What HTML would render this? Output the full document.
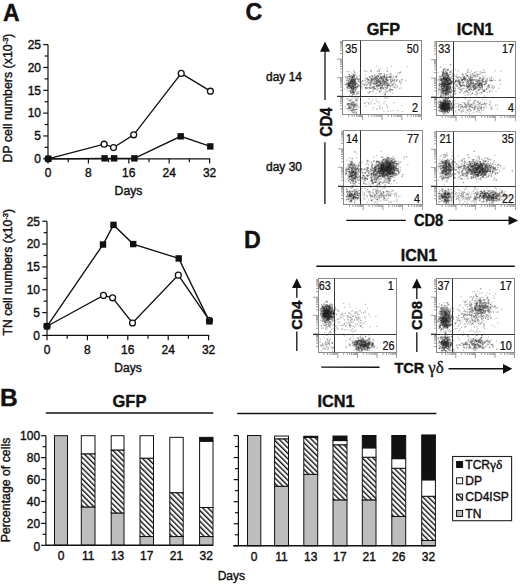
<!DOCTYPE html>
<html><head><meta charset="utf-8"><style>
html,body{margin:0;padding:0;background:#fff;width:520px;height:584px;overflow:hidden}
svg{display:block}
text{font-family:"Liberation Sans", sans-serif;fill:#111;stroke:#111;stroke-width:0.4px}
</style></head><body>
<svg width="520" height="584" viewBox="0 0 520 584">
<text transform="translate(3.00,20.50) scale(0.94,1.0)" font-size="24.5" text-anchor="start" font-weight="bold" >A</text>
<text transform="translate(245.60,20.00) scale(0.95,1.0)" font-size="24.5" text-anchor="start" font-weight="bold" >C</text>
<text transform="translate(243.90,247.80) scale(0.95,1.0)" font-size="24.5" text-anchor="start" font-weight="bold" >D</text>
<text x="0.00" y="406.30" font-size="24.5" text-anchor="start" font-weight="bold" >B</text>
<line x1="48.00" y1="44.60" x2="48.00" y2="158.80" stroke="#111" stroke-width="1.2"/>
<line x1="43.20" y1="158.80" x2="48.00" y2="158.80" stroke="#111" stroke-width="1.2"/>
<text x="41.00" y="163.10" font-size="12" text-anchor="end" font-weight="normal" >0</text>
<line x1="43.20" y1="135.96" x2="48.00" y2="135.96" stroke="#111" stroke-width="1.2"/>
<text x="41.00" y="140.26" font-size="12" text-anchor="end" font-weight="normal" >5</text>
<line x1="43.20" y1="113.12" x2="48.00" y2="113.12" stroke="#111" stroke-width="1.2"/>
<text x="41.00" y="117.42" font-size="12" text-anchor="end" font-weight="normal" >10</text>
<line x1="43.20" y1="90.28" x2="48.00" y2="90.28" stroke="#111" stroke-width="1.2"/>
<text x="41.00" y="94.58" font-size="12" text-anchor="end" font-weight="normal" >15</text>
<line x1="43.20" y1="67.44" x2="48.00" y2="67.44" stroke="#111" stroke-width="1.2"/>
<text x="41.00" y="71.74" font-size="12" text-anchor="end" font-weight="normal" >20</text>
<line x1="43.20" y1="44.60" x2="48.00" y2="44.60" stroke="#111" stroke-width="1.2"/>
<text x="41.00" y="48.90" font-size="12" text-anchor="end" font-weight="normal" >25</text>
<line x1="44.60" y1="147.38" x2="48.00" y2="147.38" stroke="#111" stroke-width="1.2"/>
<line x1="44.60" y1="124.54" x2="48.00" y2="124.54" stroke="#111" stroke-width="1.2"/>
<line x1="44.60" y1="101.70" x2="48.00" y2="101.70" stroke="#111" stroke-width="1.2"/>
<line x1="44.60" y1="78.86" x2="48.00" y2="78.86" stroke="#111" stroke-width="1.2"/>
<line x1="44.60" y1="56.02" x2="48.00" y2="56.02" stroke="#111" stroke-width="1.2"/>
<line x1="47.40" y1="158.80" x2="210.20" y2="158.80" stroke="#111" stroke-width="1.2"/>
<line x1="48.00" y1="158.80" x2="48.00" y2="163.60" stroke="#111" stroke-width="1.2"/>
<text x="48.00" y="177.10" font-size="12" text-anchor="middle" font-weight="normal" >0</text>
<line x1="88.40" y1="158.80" x2="88.40" y2="163.60" stroke="#111" stroke-width="1.2"/>
<text x="88.40" y="177.10" font-size="12" text-anchor="middle" font-weight="normal" >8</text>
<line x1="128.80" y1="158.80" x2="128.80" y2="163.60" stroke="#111" stroke-width="1.2"/>
<text x="128.80" y="177.10" font-size="12" text-anchor="middle" font-weight="normal" >16</text>
<line x1="169.20" y1="158.80" x2="169.20" y2="163.60" stroke="#111" stroke-width="1.2"/>
<text x="169.20" y="177.10" font-size="12" text-anchor="middle" font-weight="normal" >24</text>
<line x1="209.60" y1="158.80" x2="209.60" y2="163.60" stroke="#111" stroke-width="1.2"/>
<text x="209.60" y="177.10" font-size="12" text-anchor="middle" font-weight="normal" >32</text>
<line x1="68.20" y1="158.80" x2="68.20" y2="162.20" stroke="#111" stroke-width="1.2"/>
<line x1="108.60" y1="158.80" x2="108.60" y2="162.20" stroke="#111" stroke-width="1.2"/>
<line x1="149.00" y1="158.80" x2="149.00" y2="162.20" stroke="#111" stroke-width="1.2"/>
<line x1="189.40" y1="158.80" x2="189.40" y2="162.20" stroke="#111" stroke-width="1.2"/>
<polyline fill="none" stroke="#111" stroke-width="1.35" points="48.40,158.80 104.60,158.34 114.10,158.34 134.40,158.34 180.70,136.33 210.30,146.42"/>
<polyline fill="none" stroke="#111" stroke-width="1.35" points="48.00,158.80 104.10,144.18 113.50,147.61 133.70,134.82 181.20,73.38 210.40,91.19"/>
<circle cx="48.00" cy="158.80" r="2.95" fill="#fff" stroke="#111" stroke-width="1.3"/>
<circle cx="104.10" cy="144.18" r="2.95" fill="#fff" stroke="#111" stroke-width="1.3"/>
<circle cx="113.50" cy="147.61" r="2.95" fill="#fff" stroke="#111" stroke-width="1.3"/>
<circle cx="133.70" cy="134.82" r="2.95" fill="#fff" stroke="#111" stroke-width="1.3"/>
<circle cx="181.20" cy="73.38" r="2.95" fill="#fff" stroke="#111" stroke-width="1.3"/>
<circle cx="210.40" cy="91.19" r="2.95" fill="#fff" stroke="#111" stroke-width="1.3"/>
<rect x="45.20" y="155.60" width="6.4" height="6.4" fill="#111"/>
<rect x="101.40" y="155.14" width="6.4" height="6.4" fill="#111"/>
<rect x="110.90" y="155.14" width="6.4" height="6.4" fill="#111"/>
<rect x="131.20" y="155.14" width="6.4" height="6.4" fill="#111"/>
<rect x="177.50" y="133.13" width="6.4" height="6.4" fill="#111"/>
<rect x="207.10" y="143.22" width="6.4" height="6.4" fill="#111"/>
<text x="128.50" y="195.30" font-size="12.2" text-anchor="middle" font-weight="normal" >Days</text>
<text transform="translate(11.7,98) rotate(-90)" font-size="12.4" text-anchor="middle">DP cell numbers (x10<tspan font-size="7.5" dy="-3.3">-3</tspan><tspan dy="3.3">)</tspan></text>
<line x1="47.00" y1="221.25" x2="47.00" y2="335.40" stroke="#111" stroke-width="1.2"/>
<line x1="42.20" y1="335.40" x2="47.00" y2="335.40" stroke="#111" stroke-width="1.2"/>
<text x="40.00" y="339.70" font-size="12" text-anchor="end" font-weight="normal" >0</text>
<line x1="42.20" y1="312.57" x2="47.00" y2="312.57" stroke="#111" stroke-width="1.2"/>
<text x="40.00" y="316.87" font-size="12" text-anchor="end" font-weight="normal" >5</text>
<line x1="42.20" y1="289.74" x2="47.00" y2="289.74" stroke="#111" stroke-width="1.2"/>
<text x="40.00" y="294.04" font-size="12" text-anchor="end" font-weight="normal" >10</text>
<line x1="42.20" y1="266.91" x2="47.00" y2="266.91" stroke="#111" stroke-width="1.2"/>
<text x="40.00" y="271.21" font-size="12" text-anchor="end" font-weight="normal" >15</text>
<line x1="42.20" y1="244.08" x2="47.00" y2="244.08" stroke="#111" stroke-width="1.2"/>
<text x="40.00" y="248.38" font-size="12" text-anchor="end" font-weight="normal" >20</text>
<line x1="42.20" y1="221.25" x2="47.00" y2="221.25" stroke="#111" stroke-width="1.2"/>
<text x="40.00" y="225.55" font-size="12" text-anchor="end" font-weight="normal" >25</text>
<line x1="43.60" y1="323.98" x2="47.00" y2="323.98" stroke="#111" stroke-width="1.2"/>
<line x1="43.60" y1="301.15" x2="47.00" y2="301.15" stroke="#111" stroke-width="1.2"/>
<line x1="43.60" y1="278.32" x2="47.00" y2="278.32" stroke="#111" stroke-width="1.2"/>
<line x1="43.60" y1="255.49" x2="47.00" y2="255.49" stroke="#111" stroke-width="1.2"/>
<line x1="43.60" y1="232.66" x2="47.00" y2="232.66" stroke="#111" stroke-width="1.2"/>
<line x1="46.40" y1="335.40" x2="209.20" y2="335.40" stroke="#111" stroke-width="1.2"/>
<line x1="47.00" y1="335.40" x2="47.00" y2="340.20" stroke="#111" stroke-width="1.2"/>
<text x="47.00" y="353.70" font-size="12" text-anchor="middle" font-weight="normal" >0</text>
<line x1="87.40" y1="335.40" x2="87.40" y2="340.20" stroke="#111" stroke-width="1.2"/>
<text x="87.40" y="353.70" font-size="12" text-anchor="middle" font-weight="normal" >8</text>
<line x1="127.80" y1="335.40" x2="127.80" y2="340.20" stroke="#111" stroke-width="1.2"/>
<text x="127.80" y="353.70" font-size="12" text-anchor="middle" font-weight="normal" >16</text>
<line x1="168.20" y1="335.40" x2="168.20" y2="340.20" stroke="#111" stroke-width="1.2"/>
<text x="168.20" y="353.70" font-size="12" text-anchor="middle" font-weight="normal" >24</text>
<line x1="208.60" y1="335.40" x2="208.60" y2="340.20" stroke="#111" stroke-width="1.2"/>
<text x="208.60" y="353.70" font-size="12" text-anchor="middle" font-weight="normal" >32</text>
<line x1="67.20" y1="335.40" x2="67.20" y2="338.80" stroke="#111" stroke-width="1.2"/>
<line x1="107.60" y1="335.40" x2="107.60" y2="338.80" stroke="#111" stroke-width="1.2"/>
<line x1="148.00" y1="335.40" x2="148.00" y2="338.80" stroke="#111" stroke-width="1.2"/>
<line x1="188.40" y1="335.40" x2="188.40" y2="338.80" stroke="#111" stroke-width="1.2"/>
<polyline fill="none" stroke="#111" stroke-width="1.35" points="47.00,326.27 103.00,244.54 113.50,224.90 133.20,244.08 178.70,258.42 209.40,321.38"/>
<polyline fill="none" stroke="#111" stroke-width="1.35" points="47.00,326.27 103.50,295.40 112.60,297.82 132.50,322.98 178.30,275.13 209.50,320.33"/>
<circle cx="47.00" cy="326.27" r="2.95" fill="#fff" stroke="#111" stroke-width="1.3"/>
<circle cx="103.50" cy="295.40" r="2.95" fill="#fff" stroke="#111" stroke-width="1.3"/>
<circle cx="112.60" cy="297.82" r="2.95" fill="#fff" stroke="#111" stroke-width="1.3"/>
<circle cx="132.50" cy="322.98" r="2.95" fill="#fff" stroke="#111" stroke-width="1.3"/>
<circle cx="178.30" cy="275.13" r="2.95" fill="#fff" stroke="#111" stroke-width="1.3"/>
<circle cx="209.50" cy="320.33" r="2.95" fill="#fff" stroke="#111" stroke-width="1.3"/>
<rect x="43.80" y="323.07" width="6.4" height="6.4" fill="#111"/>
<rect x="99.80" y="241.34" width="6.4" height="6.4" fill="#111"/>
<rect x="110.30" y="221.70" width="6.4" height="6.4" fill="#111"/>
<rect x="130.00" y="240.88" width="6.4" height="6.4" fill="#111"/>
<rect x="175.50" y="255.22" width="6.4" height="6.4" fill="#111"/>
<rect x="206.20" y="318.18" width="6.4" height="6.4" fill="#111"/>
<text x="128.00" y="371.50" font-size="12" text-anchor="middle" font-weight="normal" >Days</text>
<text transform="translate(11.7,272.2) rotate(-90)" font-size="12.2" text-anchor="middle">TN cell numbers (x10<tspan font-size="7.5" dy="-3.3">-3</tspan><tspan dy="3.3">)</tspan></text>
<defs><filter id="bl" x="-5%" y="-5%" width="110%" height="110%"><feGaussianBlur stdDeviation="0.8"/></filter></defs>
<path d="M354.8 84.2h1.4v1.4h-1.4zM354.0 82.3h1.4v1.4h-1.4zM349.5 81.1h1.4v1.4h-1.4zM350.7 80.1h1.4v1.4h-1.4zM351.8 79.3h1.4v1.4h-1.4zM353.1 82.1h1.4v1.4h-1.4zM356.2 77.0h1.4v1.4h-1.4zM354.6 82.5h1.4v1.4h-1.4zM353.6 80.0h1.4v1.4h-1.4zM347.2 84.8h1.4v1.4h-1.4zM353.3 76.5h1.4v1.4h-1.4zM346.9 87.6h1.4v1.4h-1.4zM351.6 85.2h1.4v1.4h-1.4zM349.6 82.0h1.4v1.4h-1.4zM357.2 85.9h1.4v1.4h-1.4zM354.1 81.2h1.4v1.4h-1.4zM348.6 74.0h1.4v1.4h-1.4zM349.1 85.3h1.4v1.4h-1.4zM348.8 84.4h1.4v1.4h-1.4zM351.8 80.9h1.4v1.4h-1.4zM354.4 81.5h1.4v1.4h-1.4zM351.8 79.7h1.4v1.4h-1.4zM356.5 93.2h1.4v1.4h-1.4zM353.7 87.1h1.4v1.4h-1.4zM346.7 82.8h1.4v1.4h-1.4zM348.7 85.4h1.4v1.4h-1.4zM353.7 81.3h1.4v1.4h-1.4zM350.9 81.8h1.4v1.4h-1.4zM353.4 93.4h1.4v1.4h-1.4zM345.1 77.1h1.4v1.4h-1.4zM348.2 83.8h1.4v1.4h-1.4zM352.7 90.9h1.4v1.4h-1.4zM377.1 82.4h1.4v1.4h-1.4zM379.1 81.8h1.4v1.4h-1.4zM375.5 80.0h1.4v1.4h-1.4zM373.7 82.1h1.4v1.4h-1.4zM379.8 83.3h1.4v1.4h-1.4zM387.2 82.7h1.4v1.4h-1.4zM382.5 79.6h1.4v1.4h-1.4zM378.5 81.7h1.4v1.4h-1.4zM383.5 75.0h1.4v1.4h-1.4zM365.9 77.7h1.4v1.4h-1.4zM372.8 83.2h1.4v1.4h-1.4zM368.9 91.3h1.4v1.4h-1.4zM379.7 80.8h1.4v1.4h-1.4zM385.6 78.4h1.4v1.4h-1.4zM376.4 81.1h1.4v1.4h-1.4zM370.4 87.7h1.4v1.4h-1.4zM370.9 79.1h1.4v1.4h-1.4zM383.2 77.0h1.4v1.4h-1.4zM370.6 70.0h1.4v1.4h-1.4zM384.4 86.4h1.4v1.4h-1.4zM364.8 87.1h1.4v1.4h-1.4zM384.4 80.7h1.4v1.4h-1.4zM379.2 73.5h1.4v1.4h-1.4zM385.7 91.1h1.4v1.4h-1.4zM368.4 87.1h1.4v1.4h-1.4zM386.1 79.1h1.4v1.4h-1.4zM381.5 76.1h1.4v1.4h-1.4zM385.9 79.1h1.4v1.4h-1.4zM381.9 87.3h1.4v1.4h-1.4zM379.8 87.6h1.4v1.4h-1.4zM383.4 83.6h1.4v1.4h-1.4zM388.2 76.5h1.4v1.4h-1.4zM364.4 79.6h1.4v1.4h-1.4zM360.4 83.0h1.4v1.4h-1.4zM378.9 90.5h1.4v1.4h-1.4zM376.6 89.0h1.4v1.4h-1.4zM384.7 92.8h1.4v1.4h-1.4zM374.7 87.8h1.4v1.4h-1.4zM378.3 85.1h1.4v1.4h-1.4zM382.4 78.8h1.4v1.4h-1.4zM353.5 101.4h1.4v1.4h-1.4zM350.2 103.6h1.4v1.4h-1.4zM353.4 106.6h1.4v1.4h-1.4zM348.8 107.9h1.4v1.4h-1.4zM352.8 108.6h1.4v1.4h-1.4zM347.8 102.8h1.4v1.4h-1.4zM356.1 99.6h1.4v1.4h-1.4zM347.2 103.0h1.4v1.4h-1.4z" fill="#111" fill-opacity="0.38"/>
<path d="M351.4 84.9h1.4v1.4h-1.4zM349.3 75.5h1.4v1.4h-1.4zM356.4 83.2h1.4v1.4h-1.4zM352.7 91.4h1.4v1.4h-1.4zM354.2 83.2h1.4v1.4h-1.4zM354.0 74.2h1.4v1.4h-1.4zM349.2 79.3h1.4v1.4h-1.4zM351.9 81.6h1.4v1.4h-1.4zM350.5 86.9h1.4v1.4h-1.4zM354.3 78.7h1.4v1.4h-1.4zM352.0 88.4h1.4v1.4h-1.4zM351.8 76.5h1.4v1.4h-1.4zM353.4 78.9h1.4v1.4h-1.4zM357.5 80.8h1.4v1.4h-1.4zM352.6 81.3h1.4v1.4h-1.4zM351.3 88.8h1.4v1.4h-1.4zM354.6 83.3h1.4v1.4h-1.4zM353.8 71.8h1.4v1.4h-1.4zM348.1 83.7h1.4v1.4h-1.4zM352.9 88.1h1.4v1.4h-1.4zM346.5 76.0h1.4v1.4h-1.4zM346.0 79.6h1.4v1.4h-1.4zM375.0 76.7h1.4v1.4h-1.4zM376.8 70.4h1.4v1.4h-1.4zM390.4 84.7h1.4v1.4h-1.4zM380.8 85.2h1.4v1.4h-1.4zM385.1 77.3h1.4v1.4h-1.4zM374.4 78.4h1.4v1.4h-1.4zM386.9 76.6h1.4v1.4h-1.4zM366.9 78.6h1.4v1.4h-1.4zM381.6 84.9h1.4v1.4h-1.4zM382.9 75.9h1.4v1.4h-1.4zM384.6 78.0h1.4v1.4h-1.4zM373.9 77.5h1.4v1.4h-1.4zM376.2 79.7h1.4v1.4h-1.4zM377.7 84.5h1.4v1.4h-1.4zM389.5 88.9h1.4v1.4h-1.4zM357.1 78.7h1.4v1.4h-1.4zM374.1 74.6h1.4v1.4h-1.4zM370.9 77.8h1.4v1.4h-1.4zM375.3 81.2h1.4v1.4h-1.4zM391.8 79.9h1.4v1.4h-1.4zM384.2 94.1h1.4v1.4h-1.4zM375.6 82.6h1.4v1.4h-1.4zM370.7 80.8h1.4v1.4h-1.4zM378.9 77.9h1.4v1.4h-1.4zM378.6 80.3h1.4v1.4h-1.4zM377.6 78.9h1.4v1.4h-1.4zM378.8 81.0h1.4v1.4h-1.4zM393.8 86.6h1.4v1.4h-1.4zM376.0 85.0h1.4v1.4h-1.4zM370.3 82.5h1.4v1.4h-1.4zM386.2 82.6h1.4v1.4h-1.4zM372.3 86.7h1.4v1.4h-1.4zM367.9 79.2h1.4v1.4h-1.4zM395.4 76.1h1.4v1.4h-1.4zM383.7 80.7h1.4v1.4h-1.4zM380.6 85.0h1.4v1.4h-1.4zM401.3 78.8h1.4v1.4h-1.4zM388.8 89.8h1.4v1.4h-1.4zM352.3 103.6h1.4v1.4h-1.4zM355.7 99.5h1.4v1.4h-1.4zM348.5 102.7h1.4v1.4h-1.4zM351.5 101.5h1.4v1.4h-1.4zM349.5 106.5h1.4v1.4h-1.4zM350.5 102.4h1.4v1.4h-1.4zM349.4 107.3h1.4v1.4h-1.4zM352.8 111.7h1.4v1.4h-1.4zM356.0 104.6h1.4v1.4h-1.4zM347.6 104.5h1.4v1.4h-1.4zM351.9 102.3h1.4v1.4h-1.4z" fill="#111" fill-opacity="0.38"/>
<path d="M350.4 78.0h1.4v1.4h-1.4zM354.0 84.7h1.4v1.4h-1.4zM351.7 80.7h1.4v1.4h-1.4zM352.1 75.5h1.4v1.4h-1.4zM355.0 81.4h1.4v1.4h-1.4zM350.9 87.2h1.4v1.4h-1.4zM352.2 88.2h1.4v1.4h-1.4zM355.0 85.6h1.4v1.4h-1.4zM350.8 82.9h1.4v1.4h-1.4zM351.6 79.7h1.4v1.4h-1.4zM347.9 84.6h1.4v1.4h-1.4zM349.8 86.6h1.4v1.4h-1.4zM352.9 87.5h1.4v1.4h-1.4zM353.1 86.2h1.4v1.4h-1.4zM349.0 85.1h1.4v1.4h-1.4zM354.0 83.7h1.4v1.4h-1.4zM353.8 79.7h1.4v1.4h-1.4zM348.1 83.1h1.4v1.4h-1.4zM354.8 81.8h1.4v1.4h-1.4zM350.7 84.1h1.4v1.4h-1.4zM352.5 79.4h1.4v1.4h-1.4zM352.0 84.6h1.4v1.4h-1.4zM351.2 80.0h1.4v1.4h-1.4zM349.9 91.2h1.4v1.4h-1.4zM350.0 77.0h1.4v1.4h-1.4zM350.0 80.4h1.4v1.4h-1.4zM361.8 80.1h1.4v1.4h-1.4zM349.3 83.5h1.4v1.4h-1.4zM352.6 89.3h1.4v1.4h-1.4zM350.4 91.3h1.4v1.4h-1.4zM352.1 80.4h1.4v1.4h-1.4zM351.5 83.9h1.4v1.4h-1.4zM353.4 76.5h1.4v1.4h-1.4zM351.4 79.4h1.4v1.4h-1.4zM346.8 86.5h1.4v1.4h-1.4zM353.1 77.2h1.4v1.4h-1.4zM352.1 85.3h1.4v1.4h-1.4zM380.0 87.3h1.4v1.4h-1.4zM385.2 81.9h1.4v1.4h-1.4zM383.6 76.0h1.4v1.4h-1.4zM372.7 78.5h1.4v1.4h-1.4zM382.9 88.0h1.4v1.4h-1.4zM385.2 81.2h1.4v1.4h-1.4zM387.3 80.1h1.4v1.4h-1.4zM395.9 80.1h1.4v1.4h-1.4zM375.4 83.0h1.4v1.4h-1.4zM370.2 84.2h1.4v1.4h-1.4zM379.1 84.3h1.4v1.4h-1.4zM378.6 70.5h1.4v1.4h-1.4zM375.2 82.7h1.4v1.4h-1.4zM380.0 82.5h1.4v1.4h-1.4zM369.5 84.5h1.4v1.4h-1.4zM361.0 86.0h1.4v1.4h-1.4zM377.5 76.9h1.4v1.4h-1.4zM383.8 82.7h1.4v1.4h-1.4zM391.7 89.1h1.4v1.4h-1.4zM372.8 88.1h1.4v1.4h-1.4zM385.9 78.6h1.4v1.4h-1.4zM388.0 84.7h1.4v1.4h-1.4zM380.6 76.9h1.4v1.4h-1.4zM393.3 79.7h1.4v1.4h-1.4zM398.8 81.0h1.4v1.4h-1.4zM369.3 86.9h1.4v1.4h-1.4zM379.9 87.3h1.4v1.4h-1.4zM352.5 109.4h1.4v1.4h-1.4zM351.5 104.6h1.4v1.4h-1.4zM348.5 107.5h1.4v1.4h-1.4zM350.8 110.0h1.4v1.4h-1.4zM347.1 108.1h1.4v1.4h-1.4zM354.3 111.2h1.4v1.4h-1.4zM346.6 103.7h1.4v1.4h-1.4zM354.4 104.1h1.4v1.4h-1.4z" fill="#111" fill-opacity="0.38"/>
<path d="M353.1 70.2h1.4v1.4h-1.4zM353.5 78.9h1.4v1.4h-1.4zM353.0 85.6h1.4v1.4h-1.4zM352.1 86.8h1.4v1.4h-1.4zM353.9 80.3h1.4v1.4h-1.4zM355.4 86.4h1.4v1.4h-1.4zM345.6 83.8h1.4v1.4h-1.4zM354.5 78.0h1.4v1.4h-1.4zM350.3 80.6h1.4v1.4h-1.4zM347.8 79.9h1.4v1.4h-1.4zM348.7 84.9h1.4v1.4h-1.4zM351.0 85.5h1.4v1.4h-1.4zM352.9 83.5h1.4v1.4h-1.4zM351.5 86.1h1.4v1.4h-1.4zM356.1 75.7h1.4v1.4h-1.4zM351.3 82.5h1.4v1.4h-1.4zM350.0 82.8h1.4v1.4h-1.4zM344.7 83.9h1.4v1.4h-1.4zM358.7 85.4h1.4v1.4h-1.4zM352.7 82.7h1.4v1.4h-1.4zM351.6 76.9h1.4v1.4h-1.4zM352.3 91.7h1.4v1.4h-1.4zM358.2 84.7h1.4v1.4h-1.4zM351.9 85.6h1.4v1.4h-1.4zM351.5 95.3h1.4v1.4h-1.4zM347.7 85.3h1.4v1.4h-1.4zM349.5 90.2h1.4v1.4h-1.4zM353.5 75.1h1.4v1.4h-1.4zM351.8 91.9h1.4v1.4h-1.4zM355.1 88.5h1.4v1.4h-1.4zM348.9 87.5h1.4v1.4h-1.4zM373.6 80.7h1.4v1.4h-1.4zM386.7 84.9h1.4v1.4h-1.4zM392.1 84.4h1.4v1.4h-1.4zM396.4 79.1h1.4v1.4h-1.4zM376.8 82.4h1.4v1.4h-1.4zM380.7 77.4h1.4v1.4h-1.4zM383.6 81.6h1.4v1.4h-1.4zM374.5 77.8h1.4v1.4h-1.4zM373.2 86.3h1.4v1.4h-1.4zM385.2 88.9h1.4v1.4h-1.4zM381.1 77.8h1.4v1.4h-1.4zM377.6 80.2h1.4v1.4h-1.4zM377.6 75.5h1.4v1.4h-1.4zM375.7 76.0h1.4v1.4h-1.4zM366.8 80.6h1.4v1.4h-1.4zM393.1 75.9h1.4v1.4h-1.4zM385.2 83.3h1.4v1.4h-1.4zM396.6 85.8h1.4v1.4h-1.4zM386.0 80.0h1.4v1.4h-1.4zM373.3 78.7h1.4v1.4h-1.4zM399.9 71.6h1.4v1.4h-1.4zM384.5 76.4h1.4v1.4h-1.4zM387.1 84.5h1.4v1.4h-1.4zM376.1 85.4h1.4v1.4h-1.4zM372.3 90.9h1.4v1.4h-1.4zM386.3 79.5h1.4v1.4h-1.4zM380.0 75.6h1.4v1.4h-1.4zM390.0 79.1h1.4v1.4h-1.4zM368.8 75.8h1.4v1.4h-1.4zM390.0 80.2h1.4v1.4h-1.4zM389.9 76.9h1.4v1.4h-1.4zM386.8 70.6h1.4v1.4h-1.4zM383.9 74.1h1.4v1.4h-1.4zM389.3 76.0h1.4v1.4h-1.4zM398.6 72.2h1.4v1.4h-1.4zM382.3 79.3h1.4v1.4h-1.4zM385.8 79.3h1.4v1.4h-1.4zM365.0 87.1h1.4v1.4h-1.4zM375.7 78.4h1.4v1.4h-1.4zM377.8 79.8h1.4v1.4h-1.4zM390.5 81.3h1.4v1.4h-1.4zM390.9 75.3h1.4v1.4h-1.4zM371.7 78.6h1.4v1.4h-1.4zM377.9 81.0h1.4v1.4h-1.4zM354.1 109.0h1.4v1.4h-1.4zM348.4 106.1h1.4v1.4h-1.4zM353.0 105.3h1.4v1.4h-1.4zM351.4 96.2h1.4v1.4h-1.4zM355.7 111.7h1.4v1.4h-1.4zM352.7 105.3h1.4v1.4h-1.4zM354.2 104.3h1.4v1.4h-1.4zM349.5 99.6h1.4v1.4h-1.4zM354.1 104.4h1.4v1.4h-1.4zM350.8 104.0h1.4v1.4h-1.4zM355.6 113.1h1.4v1.4h-1.4z" fill="#111" fill-opacity="0.38"/>
<path d="M353.2 79.4h1.2v1.2h-1.2zM350.2 86.8h1.2v1.2h-1.2zM351.4 78.6h1.2v1.2h-1.2zM359.2 79.5h1.2v1.2h-1.2zM358.9 79.0h1.2v1.2h-1.2zM350.3 89.7h1.2v1.2h-1.2zM352.6 84.1h1.2v1.2h-1.2zM350.3 82.3h1.2v1.2h-1.2zM352.7 85.7h1.2v1.2h-1.2zM352.8 84.9h1.2v1.2h-1.2zM352.9 83.8h1.2v1.2h-1.2zM354.6 80.0h1.2v1.2h-1.2zM347.0 78.5h1.2v1.2h-1.2zM352.7 74.1h1.2v1.2h-1.2zM351.7 78.8h1.2v1.2h-1.2zM351.1 82.2h1.2v1.2h-1.2zM354.9 87.5h1.2v1.2h-1.2zM352.0 81.6h1.2v1.2h-1.2zM353.6 88.2h1.2v1.2h-1.2zM348.5 85.4h1.2v1.2h-1.2zM347.7 83.4h1.2v1.2h-1.2zM351.4 74.5h1.2v1.2h-1.2zM348.3 71.1h1.2v1.2h-1.2zM350.6 87.8h1.2v1.2h-1.2zM352.6 89.4h1.2v1.2h-1.2zM348.8 82.7h1.2v1.2h-1.2zM356.2 82.9h1.2v1.2h-1.2zM353.9 81.5h1.2v1.2h-1.2zM348.4 83.2h1.2v1.2h-1.2zM353.3 74.9h1.2v1.2h-1.2zM348.0 82.0h1.2v1.2h-1.2zM350.5 87.5h1.2v1.2h-1.2zM350.2 80.6h1.2v1.2h-1.2zM349.6 85.4h1.2v1.2h-1.2zM350.8 86.2h1.2v1.2h-1.2zM350.8 87.2h1.2v1.2h-1.2zM351.8 85.3h1.2v1.2h-1.2zM349.0 82.8h1.2v1.2h-1.2zM349.1 76.0h1.2v1.2h-1.2zM350.9 78.6h1.2v1.2h-1.2zM352.1 94.1h1.2v1.2h-1.2zM353.4 93.1h1.2v1.2h-1.2zM356.5 79.2h1.2v1.2h-1.2zM353.9 84.5h1.2v1.2h-1.2zM351.6 84.4h1.2v1.2h-1.2zM354.1 82.2h1.2v1.2h-1.2zM346.7 89.2h1.2v1.2h-1.2zM352.0 91.4h1.2v1.2h-1.2zM344.4 76.0h1.2v1.2h-1.2zM356.3 92.5h1.2v1.2h-1.2zM357.1 98.2h1.2v1.2h-1.2zM352.1 81.0h1.2v1.2h-1.2zM351.3 90.8h1.2v1.2h-1.2zM352.8 79.4h1.2v1.2h-1.2zM354.9 88.9h1.2v1.2h-1.2zM349.3 100.6h1.2v1.2h-1.2zM379.0 77.7h1.2v1.2h-1.2zM392.6 83.2h1.2v1.2h-1.2zM378.0 84.2h1.2v1.2h-1.2zM391.0 81.3h1.2v1.2h-1.2zM375.1 84.0h1.2v1.2h-1.2zM372.6 89.1h1.2v1.2h-1.2zM366.3 84.6h1.2v1.2h-1.2zM380.3 73.4h1.2v1.2h-1.2zM385.8 82.0h1.2v1.2h-1.2zM387.2 73.9h1.2v1.2h-1.2zM382.2 77.7h1.2v1.2h-1.2zM377.2 85.3h1.2v1.2h-1.2zM372.2 87.0h1.2v1.2h-1.2zM379.9 76.6h1.2v1.2h-1.2zM386.3 87.2h1.2v1.2h-1.2zM396.1 76.3h1.2v1.2h-1.2zM366.7 86.9h1.2v1.2h-1.2zM369.1 84.2h1.2v1.2h-1.2zM381.3 78.0h1.2v1.2h-1.2zM376.0 77.3h1.2v1.2h-1.2zM367.0 78.6h1.2v1.2h-1.2zM374.0 88.8h1.2v1.2h-1.2zM388.4 78.9h1.2v1.2h-1.2zM374.7 87.7h1.2v1.2h-1.2zM374.5 76.9h1.2v1.2h-1.2zM380.5 87.3h1.2v1.2h-1.2zM385.2 87.3h1.2v1.2h-1.2zM377.9 88.1h1.2v1.2h-1.2zM383.2 80.4h1.2v1.2h-1.2zM399.2 79.7h1.2v1.2h-1.2zM382.8 83.1h1.2v1.2h-1.2zM374.4 79.6h1.2v1.2h-1.2zM385.6 78.3h1.2v1.2h-1.2zM392.3 84.5h1.2v1.2h-1.2zM383.9 81.1h1.2v1.2h-1.2zM386.8 81.6h1.2v1.2h-1.2zM388.9 83.6h1.2v1.2h-1.2zM380.3 77.0h1.2v1.2h-1.2zM367.1 83.6h1.2v1.2h-1.2zM381.4 77.2h1.2v1.2h-1.2zM390.0 86.0h1.2v1.2h-1.2zM364.4 83.2h1.2v1.2h-1.2zM389.7 74.1h1.2v1.2h-1.2zM377.3 78.1h1.2v1.2h-1.2zM393.5 83.1h1.2v1.2h-1.2zM375.4 92.9h1.2v1.2h-1.2zM388.3 82.9h1.2v1.2h-1.2zM391.4 89.0h1.2v1.2h-1.2zM382.5 79.6h1.2v1.2h-1.2zM377.1 78.3h1.2v1.2h-1.2zM384.2 83.2h1.2v1.2h-1.2zM372.0 79.7h1.2v1.2h-1.2zM380.8 82.9h1.2v1.2h-1.2zM381.9 84.1h1.2v1.2h-1.2zM381.9 84.7h1.2v1.2h-1.2zM376.3 87.1h1.2v1.2h-1.2zM375.8 75.5h1.2v1.2h-1.2zM380.4 73.0h1.2v1.2h-1.2zM368.8 82.8h1.2v1.2h-1.2zM370.2 80.6h1.2v1.2h-1.2zM369.7 77.5h1.2v1.2h-1.2zM373.9 77.4h1.2v1.2h-1.2zM374.6 84.4h1.2v1.2h-1.2zM371.8 75.4h1.2v1.2h-1.2zM380.1 72.9h1.2v1.2h-1.2zM363.7 85.1h1.2v1.2h-1.2zM379.3 91.2h1.2v1.2h-1.2zM386.5 84.6h1.2v1.2h-1.2zM390.9 73.2h1.2v1.2h-1.2zM356.7 86.0h1.2v1.2h-1.2zM406.5 65.9h1.2v1.2h-1.2zM395.2 84.7h1.2v1.2h-1.2zM367.5 91.9h1.2v1.2h-1.2zM399.0 88.0h1.2v1.2h-1.2zM370.5 86.8h1.2v1.2h-1.2zM373.5 79.8h1.2v1.2h-1.2zM363.4 81.2h1.2v1.2h-1.2zM377.0 87.5h1.2v1.2h-1.2zM359.2 81.6h1.2v1.2h-1.2zM366.3 85.5h1.2v1.2h-1.2zM382.8 81.1h1.2v1.2h-1.2zM367.9 82.4h1.2v1.2h-1.2zM380.3 80.0h1.2v1.2h-1.2zM382.0 82.0h1.2v1.2h-1.2zM374.8 76.5h1.2v1.2h-1.2zM380.8 89.8h1.2v1.2h-1.2zM353.4 105.9h1.2v1.2h-1.2zM355.4 106.5h1.2v1.2h-1.2zM355.2 107.1h1.2v1.2h-1.2zM353.8 104.3h1.2v1.2h-1.2zM356.0 102.4h1.2v1.2h-1.2zM350.4 108.5h1.2v1.2h-1.2zM347.5 104.9h1.2v1.2h-1.2zM355.5 108.9h1.2v1.2h-1.2zM348.4 104.2h1.2v1.2h-1.2zM349.3 103.3h1.2v1.2h-1.2zM348.1 110.2h1.2v1.2h-1.2zM354.6 103.1h1.2v1.2h-1.2zM355.0 105.4h1.2v1.2h-1.2zM351.4 98.2h1.2v1.2h-1.2zM353.0 107.5h1.2v1.2h-1.2zM356.3 103.5h1.2v1.2h-1.2zM354.7 109.5h1.2v1.2h-1.2zM352.6 103.7h1.2v1.2h-1.2zM355.9 102.4h1.2v1.2h-1.2zM352.2 109.9h1.2v1.2h-1.2zM401.0 104.9h1.2v1.2h-1.2zM364.6 102.6h1.2v1.2h-1.2zM370.4 101.6h1.2v1.2h-1.2zM365.3 105.7h1.2v1.2h-1.2zM387.5 110.7h1.2v1.2h-1.2zM384.4 97.1h1.2v1.2h-1.2zM379.2 106.5h1.2v1.2h-1.2zM383.4 102.7h1.2v1.2h-1.2zM386.8 107.6h1.2v1.2h-1.2z" fill="#111" fill-opacity="0.28"/>
<path d="M355.1 79.0h1.2v1.2h-1.2zM352.7 81.0h1.2v1.2h-1.2zM348.8 78.5h1.2v1.2h-1.2zM352.3 81.9h1.2v1.2h-1.2zM355.1 77.9h1.2v1.2h-1.2zM354.6 90.5h1.2v1.2h-1.2zM349.2 75.9h1.2v1.2h-1.2zM354.3 80.8h1.2v1.2h-1.2zM352.0 77.2h1.2v1.2h-1.2zM360.7 81.5h1.2v1.2h-1.2zM352.9 92.4h1.2v1.2h-1.2zM348.2 77.5h1.2v1.2h-1.2zM353.7 76.6h1.2v1.2h-1.2zM354.3 79.1h1.2v1.2h-1.2zM354.2 86.9h1.2v1.2h-1.2zM352.5 81.1h1.2v1.2h-1.2zM355.0 78.6h1.2v1.2h-1.2zM348.1 81.6h1.2v1.2h-1.2zM358.9 78.1h1.2v1.2h-1.2zM358.3 83.9h1.2v1.2h-1.2zM352.2 78.4h1.2v1.2h-1.2zM350.6 75.6h1.2v1.2h-1.2zM347.2 78.1h1.2v1.2h-1.2zM350.0 81.7h1.2v1.2h-1.2zM354.1 83.8h1.2v1.2h-1.2zM354.3 94.0h1.2v1.2h-1.2zM350.4 78.7h1.2v1.2h-1.2zM352.3 89.5h1.2v1.2h-1.2zM351.2 72.6h1.2v1.2h-1.2zM345.8 84.0h1.2v1.2h-1.2zM355.1 99.6h1.2v1.2h-1.2zM353.9 91.3h1.2v1.2h-1.2zM353.1 91.9h1.2v1.2h-1.2zM351.9 93.7h1.2v1.2h-1.2zM349.7 86.6h1.2v1.2h-1.2zM354.1 97.7h1.2v1.2h-1.2zM351.0 91.7h1.2v1.2h-1.2zM354.8 86.9h1.2v1.2h-1.2zM346.4 98.0h1.2v1.2h-1.2zM352.8 86.1h1.2v1.2h-1.2zM348.7 95.0h1.2v1.2h-1.2zM351.0 88.1h1.2v1.2h-1.2zM356.5 87.3h1.2v1.2h-1.2zM352.2 91.2h1.2v1.2h-1.2zM357.4 92.2h1.2v1.2h-1.2zM365.1 74.4h1.2v1.2h-1.2zM351.9 82.3h1.2v1.2h-1.2zM350.6 89.0h1.2v1.2h-1.2zM354.5 91.0h1.2v1.2h-1.2zM349.6 87.2h1.2v1.2h-1.2zM357.3 92.5h1.2v1.2h-1.2zM349.1 81.8h1.2v1.2h-1.2zM351.5 81.0h1.2v1.2h-1.2zM351.3 92.2h1.2v1.2h-1.2zM358.1 92.7h1.2v1.2h-1.2zM356.4 90.9h1.2v1.2h-1.2zM353.2 82.4h1.2v1.2h-1.2zM349.9 80.9h1.2v1.2h-1.2zM350.8 92.3h1.2v1.2h-1.2zM389.4 73.0h1.2v1.2h-1.2zM368.7 80.4h1.2v1.2h-1.2zM381.2 81.4h1.2v1.2h-1.2zM381.4 85.3h1.2v1.2h-1.2zM377.7 79.6h1.2v1.2h-1.2zM378.1 76.1h1.2v1.2h-1.2zM385.9 76.5h1.2v1.2h-1.2zM378.3 69.3h1.2v1.2h-1.2zM383.6 91.2h1.2v1.2h-1.2zM387.6 84.0h1.2v1.2h-1.2zM371.7 82.2h1.2v1.2h-1.2zM378.7 74.5h1.2v1.2h-1.2zM377.3 81.1h1.2v1.2h-1.2zM366.2 87.8h1.2v1.2h-1.2zM397.3 72.4h1.2v1.2h-1.2zM364.1 83.9h1.2v1.2h-1.2zM382.5 87.6h1.2v1.2h-1.2zM392.1 80.7h1.2v1.2h-1.2zM387.1 79.4h1.2v1.2h-1.2zM365.4 81.5h1.2v1.2h-1.2zM371.1 79.6h1.2v1.2h-1.2zM382.5 82.2h1.2v1.2h-1.2zM384.8 84.7h1.2v1.2h-1.2zM386.6 79.1h1.2v1.2h-1.2zM393.4 81.9h1.2v1.2h-1.2zM379.5 85.2h1.2v1.2h-1.2zM384.9 80.4h1.2v1.2h-1.2zM394.7 81.2h1.2v1.2h-1.2zM393.9 78.4h1.2v1.2h-1.2zM371.5 81.4h1.2v1.2h-1.2zM386.3 83.2h1.2v1.2h-1.2zM377.3 84.6h1.2v1.2h-1.2zM359.4 81.6h1.2v1.2h-1.2zM369.9 84.5h1.2v1.2h-1.2zM367.7 79.1h1.2v1.2h-1.2zM389.7 77.1h1.2v1.2h-1.2zM375.8 78.8h1.2v1.2h-1.2zM373.3 85.7h1.2v1.2h-1.2zM378.3 73.1h1.2v1.2h-1.2zM389.8 87.7h1.2v1.2h-1.2zM367.5 82.1h1.2v1.2h-1.2zM374.4 83.2h1.2v1.2h-1.2zM364.8 77.5h1.2v1.2h-1.2zM375.3 78.9h1.2v1.2h-1.2zM369.7 82.9h1.2v1.2h-1.2zM377.1 75.2h1.2v1.2h-1.2zM380.2 83.1h1.2v1.2h-1.2zM387.1 86.8h1.2v1.2h-1.2zM366.2 83.7h1.2v1.2h-1.2zM372.0 76.8h1.2v1.2h-1.2zM359.3 71.1h1.2v1.2h-1.2zM379.5 91.7h1.2v1.2h-1.2zM380.1 78.4h1.2v1.2h-1.2zM382.6 84.1h1.2v1.2h-1.2zM376.4 77.6h1.2v1.2h-1.2zM361.4 88.4h1.2v1.2h-1.2zM359.5 74.8h1.2v1.2h-1.2zM380.4 82.4h1.2v1.2h-1.2zM366.5 70.8h1.2v1.2h-1.2zM381.7 81.1h1.2v1.2h-1.2zM370.0 90.8h1.2v1.2h-1.2zM376.2 79.4h1.2v1.2h-1.2zM369.5 81.5h1.2v1.2h-1.2zM376.3 79.5h1.2v1.2h-1.2zM368.0 92.9h1.2v1.2h-1.2zM389.7 91.0h1.2v1.2h-1.2zM352.8 101.5h1.2v1.2h-1.2zM351.5 108.6h1.2v1.2h-1.2zM347.3 99.8h1.2v1.2h-1.2zM350.1 103.9h1.2v1.2h-1.2zM351.6 112.0h1.2v1.2h-1.2zM352.7 107.3h1.2v1.2h-1.2zM356.3 108.7h1.2v1.2h-1.2zM357.6 105.9h1.2v1.2h-1.2zM349.8 103.9h1.2v1.2h-1.2zM351.3 101.3h1.2v1.2h-1.2zM353.2 104.8h1.2v1.2h-1.2zM355.3 108.6h1.2v1.2h-1.2zM344.7 106.2h1.2v1.2h-1.2zM345.6 108.0h1.2v1.2h-1.2zM355.6 100.6h1.2v1.2h-1.2zM349.4 100.1h1.2v1.2h-1.2zM350.8 106.4h1.2v1.2h-1.2zM356.6 105.0h1.2v1.2h-1.2zM357.4 97.1h1.2v1.2h-1.2zM351.4 108.5h1.2v1.2h-1.2zM376.7 108.5h1.2v1.2h-1.2zM371.6 99.3h1.2v1.2h-1.2zM380.1 108.8h1.2v1.2h-1.2zM393.1 102.2h1.2v1.2h-1.2zM359.3 107.2h1.2v1.2h-1.2zM367.9 103.0h1.2v1.2h-1.2zM374.0 103.0h1.2v1.2h-1.2zM375.7 108.9h1.2v1.2h-1.2zM385.8 104.0h1.2v1.2h-1.2zM368.9 103.6h1.2v1.2h-1.2zM378.8 107.5h1.2v1.2h-1.2z" fill="#111" fill-opacity="0.28"/>
<path d="M351.1 81.4h1.2v1.2h-1.2zM352.4 87.3h1.2v1.2h-1.2zM349.7 89.7h1.2v1.2h-1.2zM355.0 89.5h1.2v1.2h-1.2zM350.4 82.3h1.2v1.2h-1.2zM346.4 71.1h1.2v1.2h-1.2zM355.0 85.9h1.2v1.2h-1.2zM355.6 82.7h1.2v1.2h-1.2zM352.1 76.4h1.2v1.2h-1.2zM351.6 79.8h1.2v1.2h-1.2zM352.1 78.0h1.2v1.2h-1.2zM346.8 86.4h1.2v1.2h-1.2zM350.8 75.6h1.2v1.2h-1.2zM350.9 87.2h1.2v1.2h-1.2zM357.0 86.3h1.2v1.2h-1.2zM351.2 86.8h1.2v1.2h-1.2zM348.9 85.6h1.2v1.2h-1.2zM355.1 89.9h1.2v1.2h-1.2zM352.4 79.1h1.2v1.2h-1.2zM354.8 84.3h1.2v1.2h-1.2zM355.3 90.5h1.2v1.2h-1.2zM348.4 82.5h1.2v1.2h-1.2zM347.7 83.3h1.2v1.2h-1.2zM351.2 87.5h1.2v1.2h-1.2zM350.1 84.5h1.2v1.2h-1.2zM350.9 88.1h1.2v1.2h-1.2zM349.5 82.6h1.2v1.2h-1.2zM353.2 75.6h1.2v1.2h-1.2zM354.6 85.8h1.2v1.2h-1.2zM352.8 74.5h1.2v1.2h-1.2zM354.1 79.7h1.2v1.2h-1.2zM352.1 83.8h1.2v1.2h-1.2zM347.4 76.3h1.2v1.2h-1.2zM353.2 88.1h1.2v1.2h-1.2zM352.3 87.3h1.2v1.2h-1.2zM351.9 90.6h1.2v1.2h-1.2zM351.8 77.5h1.2v1.2h-1.2zM351.6 78.7h1.2v1.2h-1.2zM350.7 79.8h1.2v1.2h-1.2zM355.6 86.2h1.2v1.2h-1.2zM352.8 78.7h1.2v1.2h-1.2zM352.3 82.7h1.2v1.2h-1.2zM354.6 81.9h1.2v1.2h-1.2zM356.0 87.5h1.2v1.2h-1.2zM350.3 91.7h1.2v1.2h-1.2zM354.4 86.8h1.2v1.2h-1.2zM355.1 78.3h1.2v1.2h-1.2zM356.4 87.5h1.2v1.2h-1.2zM350.6 91.8h1.2v1.2h-1.2zM353.0 90.0h1.2v1.2h-1.2zM350.6 86.7h1.2v1.2h-1.2zM356.8 84.0h1.2v1.2h-1.2zM348.5 90.4h1.2v1.2h-1.2zM352.8 92.0h1.2v1.2h-1.2zM352.9 87.1h1.2v1.2h-1.2zM356.8 84.7h1.2v1.2h-1.2zM370.9 78.1h1.2v1.2h-1.2zM373.4 76.6h1.2v1.2h-1.2zM378.9 80.1h1.2v1.2h-1.2zM377.1 80.3h1.2v1.2h-1.2zM378.2 85.9h1.2v1.2h-1.2zM390.3 78.9h1.2v1.2h-1.2zM373.1 76.2h1.2v1.2h-1.2zM375.6 83.3h1.2v1.2h-1.2zM383.1 86.3h1.2v1.2h-1.2zM381.1 72.9h1.2v1.2h-1.2zM380.1 81.7h1.2v1.2h-1.2zM386.1 76.6h1.2v1.2h-1.2zM390.9 76.9h1.2v1.2h-1.2zM394.2 78.8h1.2v1.2h-1.2zM367.2 77.4h1.2v1.2h-1.2zM384.8 94.3h1.2v1.2h-1.2zM390.1 82.6h1.2v1.2h-1.2zM376.2 84.7h1.2v1.2h-1.2zM377.9 86.1h1.2v1.2h-1.2zM400.0 81.8h1.2v1.2h-1.2zM381.5 76.2h1.2v1.2h-1.2zM392.3 86.6h1.2v1.2h-1.2zM377.3 81.9h1.2v1.2h-1.2zM368.7 87.4h1.2v1.2h-1.2zM384.1 82.6h1.2v1.2h-1.2zM382.7 86.2h1.2v1.2h-1.2zM369.4 87.9h1.2v1.2h-1.2zM385.9 79.8h1.2v1.2h-1.2zM372.2 75.2h1.2v1.2h-1.2zM381.8 81.1h1.2v1.2h-1.2zM378.7 84.0h1.2v1.2h-1.2zM369.3 76.8h1.2v1.2h-1.2zM389.9 76.7h1.2v1.2h-1.2zM382.3 93.0h1.2v1.2h-1.2zM379.7 83.0h1.2v1.2h-1.2zM385.9 85.6h1.2v1.2h-1.2zM386.5 86.7h1.2v1.2h-1.2zM386.0 74.3h1.2v1.2h-1.2zM396.6 74.4h1.2v1.2h-1.2zM384.1 77.2h1.2v1.2h-1.2zM380.2 86.7h1.2v1.2h-1.2zM383.6 72.8h1.2v1.2h-1.2zM376.2 77.8h1.2v1.2h-1.2zM376.6 80.6h1.2v1.2h-1.2zM387.2 85.3h1.2v1.2h-1.2zM380.8 83.5h1.2v1.2h-1.2zM386.1 75.0h1.2v1.2h-1.2zM385.3 87.3h1.2v1.2h-1.2zM359.0 75.6h1.2v1.2h-1.2zM366.7 87.7h1.2v1.2h-1.2zM400.2 84.4h1.2v1.2h-1.2zM382.2 78.5h1.2v1.2h-1.2zM385.1 83.2h1.2v1.2h-1.2zM373.8 83.2h1.2v1.2h-1.2zM396.0 76.2h1.2v1.2h-1.2zM391.9 92.5h1.2v1.2h-1.2zM380.8 79.3h1.2v1.2h-1.2zM390.9 65.5h1.2v1.2h-1.2zM364.7 70.8h1.2v1.2h-1.2zM389.0 85.5h1.2v1.2h-1.2zM391.4 83.6h1.2v1.2h-1.2zM368.5 98.2h1.2v1.2h-1.2zM363.0 84.0h1.2v1.2h-1.2zM369.7 81.7h1.2v1.2h-1.2zM371.0 75.3h1.2v1.2h-1.2zM389.4 76.4h1.2v1.2h-1.2zM386.6 87.7h1.2v1.2h-1.2zM388.1 84.7h1.2v1.2h-1.2zM376.8 75.1h1.2v1.2h-1.2zM400.3 82.5h1.2v1.2h-1.2zM387.2 84.5h1.2v1.2h-1.2zM381.4 86.5h1.2v1.2h-1.2zM357.6 91.3h1.2v1.2h-1.2zM401.5 80.4h1.2v1.2h-1.2zM390.8 88.9h1.2v1.2h-1.2zM362.2 83.5h1.2v1.2h-1.2zM363.7 70.0h1.2v1.2h-1.2zM389.8 89.9h1.2v1.2h-1.2zM357.3 85.0h1.2v1.2h-1.2zM348.6 107.7h1.2v1.2h-1.2zM353.0 105.7h1.2v1.2h-1.2zM353.3 102.9h1.2v1.2h-1.2zM351.7 108.7h1.2v1.2h-1.2zM353.1 109.4h1.2v1.2h-1.2zM346.8 103.1h1.2v1.2h-1.2zM353.6 112.2h1.2v1.2h-1.2zM347.7 106.9h1.2v1.2h-1.2zM353.4 106.0h1.2v1.2h-1.2zM349.9 105.7h1.2v1.2h-1.2zM351.2 106.7h1.2v1.2h-1.2zM356.3 108.9h1.2v1.2h-1.2zM349.9 107.5h1.2v1.2h-1.2zM350.8 106.6h1.2v1.2h-1.2zM350.6 99.1h1.2v1.2h-1.2zM390.2 110.2h1.2v1.2h-1.2zM372.2 108.7h1.2v1.2h-1.2zM379.2 105.3h1.2v1.2h-1.2zM375.6 98.5h1.2v1.2h-1.2zM373.2 106.8h1.2v1.2h-1.2zM371.4 103.2h1.2v1.2h-1.2zM387.0 97.3h1.2v1.2h-1.2zM384.6 100.7h1.2v1.2h-1.2z" fill="#111" fill-opacity="0.28"/>
<path d="M347.6 98.0h1.2v1.2h-1.2zM353.2 73.6h1.2v1.2h-1.2zM352.1 83.5h1.2v1.2h-1.2zM351.0 79.1h1.2v1.2h-1.2zM352.0 78.1h1.2v1.2h-1.2zM351.1 87.5h1.2v1.2h-1.2zM350.6 85.8h1.2v1.2h-1.2zM348.2 81.7h1.2v1.2h-1.2zM354.3 81.0h1.2v1.2h-1.2zM346.4 82.5h1.2v1.2h-1.2zM347.8 81.0h1.2v1.2h-1.2zM348.4 77.3h1.2v1.2h-1.2zM352.9 82.6h1.2v1.2h-1.2zM348.2 75.8h1.2v1.2h-1.2zM346.5 86.7h1.2v1.2h-1.2zM355.0 86.9h1.2v1.2h-1.2zM353.5 85.3h1.2v1.2h-1.2zM344.3 88.4h1.2v1.2h-1.2zM349.8 93.1h1.2v1.2h-1.2zM354.9 74.1h1.2v1.2h-1.2zM354.3 89.2h1.2v1.2h-1.2zM358.0 79.2h1.2v1.2h-1.2zM349.7 83.1h1.2v1.2h-1.2zM352.5 90.1h1.2v1.2h-1.2zM349.1 78.2h1.2v1.2h-1.2zM350.3 86.2h1.2v1.2h-1.2zM350.6 80.1h1.2v1.2h-1.2zM353.0 87.0h1.2v1.2h-1.2zM348.4 81.5h1.2v1.2h-1.2zM348.0 87.5h1.2v1.2h-1.2zM352.8 83.4h1.2v1.2h-1.2zM351.9 88.0h1.2v1.2h-1.2zM346.3 86.8h1.2v1.2h-1.2zM348.0 82.8h1.2v1.2h-1.2zM346.5 83.8h1.2v1.2h-1.2zM355.8 82.6h1.2v1.2h-1.2zM349.7 83.8h1.2v1.2h-1.2zM351.0 79.2h1.2v1.2h-1.2zM349.8 85.1h1.2v1.2h-1.2zM351.0 76.6h1.2v1.2h-1.2zM349.7 83.4h1.2v1.2h-1.2zM352.3 76.0h1.2v1.2h-1.2zM358.2 78.3h1.2v1.2h-1.2zM348.5 85.5h1.2v1.2h-1.2zM348.3 74.0h1.2v1.2h-1.2zM358.0 80.6h1.2v1.2h-1.2zM347.5 80.1h1.2v1.2h-1.2zM350.3 81.7h1.2v1.2h-1.2zM351.3 76.2h1.2v1.2h-1.2zM348.7 86.1h1.2v1.2h-1.2zM351.3 92.4h1.2v1.2h-1.2zM349.8 85.1h1.2v1.2h-1.2zM352.6 87.8h1.2v1.2h-1.2zM347.5 84.3h1.2v1.2h-1.2zM347.7 85.4h1.2v1.2h-1.2zM356.6 78.0h1.2v1.2h-1.2zM354.0 84.1h1.2v1.2h-1.2zM353.8 91.7h1.2v1.2h-1.2zM347.5 82.2h1.2v1.2h-1.2zM348.4 83.2h1.2v1.2h-1.2zM352.1 79.9h1.2v1.2h-1.2zM353.4 85.5h1.2v1.2h-1.2zM347.3 80.1h1.2v1.2h-1.2zM359.8 79.6h1.2v1.2h-1.2zM375.9 82.7h1.2v1.2h-1.2zM394.4 83.9h1.2v1.2h-1.2zM378.0 75.5h1.2v1.2h-1.2zM378.7 84.3h1.2v1.2h-1.2zM384.0 84.9h1.2v1.2h-1.2zM380.7 88.8h1.2v1.2h-1.2zM382.1 80.5h1.2v1.2h-1.2zM382.0 84.0h1.2v1.2h-1.2zM373.2 83.0h1.2v1.2h-1.2zM387.1 90.8h1.2v1.2h-1.2zM388.9 85.0h1.2v1.2h-1.2zM380.1 82.2h1.2v1.2h-1.2zM378.7 78.6h1.2v1.2h-1.2zM376.3 85.4h1.2v1.2h-1.2zM395.0 87.3h1.2v1.2h-1.2zM383.6 75.3h1.2v1.2h-1.2zM371.7 75.8h1.2v1.2h-1.2zM381.8 83.7h1.2v1.2h-1.2zM377.2 75.4h1.2v1.2h-1.2zM371.1 79.9h1.2v1.2h-1.2zM383.7 79.4h1.2v1.2h-1.2zM393.9 80.1h1.2v1.2h-1.2zM392.0 77.9h1.2v1.2h-1.2zM384.8 80.9h1.2v1.2h-1.2zM383.1 81.2h1.2v1.2h-1.2zM370.7 79.2h1.2v1.2h-1.2zM379.1 80.4h1.2v1.2h-1.2zM379.7 82.1h1.2v1.2h-1.2zM368.0 82.2h1.2v1.2h-1.2zM386.9 85.0h1.2v1.2h-1.2zM371.9 81.3h1.2v1.2h-1.2zM389.1 88.5h1.2v1.2h-1.2zM373.9 80.2h1.2v1.2h-1.2zM364.7 84.4h1.2v1.2h-1.2zM379.2 78.2h1.2v1.2h-1.2zM405.5 80.1h1.2v1.2h-1.2zM379.7 89.4h1.2v1.2h-1.2zM369.8 70.5h1.2v1.2h-1.2zM375.4 81.2h1.2v1.2h-1.2zM400.7 87.3h1.2v1.2h-1.2zM369.4 79.3h1.2v1.2h-1.2zM373.8 87.5h1.2v1.2h-1.2zM386.4 67.3h1.2v1.2h-1.2zM371.3 86.1h1.2v1.2h-1.2zM380.1 76.8h1.2v1.2h-1.2zM379.6 78.0h1.2v1.2h-1.2zM382.4 79.9h1.2v1.2h-1.2zM380.3 87.1h1.2v1.2h-1.2zM365.4 87.7h1.2v1.2h-1.2zM370.3 76.5h1.2v1.2h-1.2zM389.3 75.9h1.2v1.2h-1.2zM392.0 78.7h1.2v1.2h-1.2zM372.4 83.0h1.2v1.2h-1.2zM382.5 78.0h1.2v1.2h-1.2zM379.6 81.4h1.2v1.2h-1.2zM374.0 85.8h1.2v1.2h-1.2zM368.2 79.6h1.2v1.2h-1.2zM370.3 80.1h1.2v1.2h-1.2zM376.1 65.4h1.2v1.2h-1.2zM379.5 68.3h1.2v1.2h-1.2zM349.3 105.8h1.2v1.2h-1.2zM351.6 109.9h1.2v1.2h-1.2zM352.2 111.0h1.2v1.2h-1.2zM349.8 109.7h1.2v1.2h-1.2zM350.8 103.0h1.2v1.2h-1.2zM352.3 104.4h1.2v1.2h-1.2zM350.6 109.9h1.2v1.2h-1.2zM355.0 97.0h1.2v1.2h-1.2zM348.8 106.7h1.2v1.2h-1.2zM349.2 104.6h1.2v1.2h-1.2zM357.3 106.8h1.2v1.2h-1.2zM352.7 102.1h1.2v1.2h-1.2zM354.5 103.5h1.2v1.2h-1.2zM352.5 104.6h1.2v1.2h-1.2zM368.2 101.9h1.2v1.2h-1.2zM401.8 110.9h1.2v1.2h-1.2zM378.5 102.1h1.2v1.2h-1.2zM385.4 97.7h1.2v1.2h-1.2zM381.8 107.1h1.2v1.2h-1.2zM366.4 101.6h1.2v1.2h-1.2zM386.7 105.8h1.2v1.2h-1.2zM383.4 110.8h1.2v1.2h-1.2zM397.6 110.0h1.2v1.2h-1.2zM392.5 110.1h1.2v1.2h-1.2zM376.6 100.7h1.2v1.2h-1.2zM363.8 102.5h1.2v1.2h-1.2z" fill="#111" fill-opacity="0.28"/>
<path d="M348.7 114.5v2.5M352.2 114.5v2.5M354.6 114.5v2.5M356.6 114.5v2.5M358.1 114.5v2.5M359.4 114.5v2.5M360.6 114.5v2.5M361.6 114.5v2.5M368.4 114.5v2.5M371.9 114.5v2.5M374.3 114.5v2.5M376.2 114.5v2.5M377.8 114.5v2.5M379.1 114.5v2.5M380.2 114.5v2.5M381.2 114.5v2.5M362.5 114.5v5.5M388.1 114.5v2.5M391.5 114.5v2.5M394.0 114.5v2.5M395.9 114.5v2.5M397.5 114.5v2.5M398.8 114.5v2.5M399.9 114.5v2.5M400.9 114.5v2.5M382.1 114.5v5.5M407.7 114.5v2.5M411.2 114.5v2.5M413.7 114.5v2.5M415.6 114.5v2.5M417.1 114.5v2.5M418.5 114.5v2.5M419.6 114.5v2.5M420.6 114.5v2.5M401.8 114.5v5.5M421.5 114.5v5.5M342.5 108.9h-2.5M342.5 105.6h-2.5M342.5 103.3h-2.5M342.5 101.5h-2.5M342.5 100.1h-2.5M342.5 98.8h-2.5M342.5 97.8h-2.5M342.5 96.8h-2.5M342.5 90.4h-2.5M342.5 87.2h-2.5M342.5 84.9h-2.5M342.5 83.1h-2.5M342.5 81.6h-2.5M342.5 80.4h-2.5M342.5 79.3h-2.5M342.5 78.4h-2.5M342.5 96.0h-5.5M342.5 72.0h-2.5M342.5 68.8h-2.5M342.5 66.5h-2.5M342.5 64.7h-2.5M342.5 63.2h-2.5M342.5 62.0h-2.5M342.5 60.9h-2.5M342.5 60.0h-2.5M342.5 77.6h-5.5M342.5 53.6h-2.5M342.5 50.3h-2.5M342.5 48.0h-2.5M342.5 46.2h-2.5M342.5 44.8h-2.5M342.5 43.6h-2.5M342.5 42.5h-2.5M342.5 41.5h-2.5M342.5 59.1h-5.5" stroke="#888" stroke-width="0.8" fill="none"/>
<rect x="342.5" y="40.5" width="79.0" height="74.0" fill="none" stroke="#888" stroke-width="1"/>
<line x1="360.50" y1="40.50" x2="360.50" y2="114.50" stroke="#333" stroke-width="1.0"/>
<line x1="337.00" y1="96.50" x2="421.50" y2="96.50" stroke="#333" stroke-width="1.0"/>
<text transform="translate(345.30,52.70) scale(0.9,1.0)" font-size="12" text-anchor="start" font-weight="normal" style="stroke-width:0.25px">35</text>
<text transform="translate(418.70,52.70) scale(0.9,1.0)" font-size="12" text-anchor="end" font-weight="normal" style="stroke-width:0.25px">50</text>
<text transform="translate(418.10,111.70) scale(0.9,1.0)" font-size="12" text-anchor="end" font-weight="normal" style="stroke-width:0.25px">2</text>
<path d="M449.3 79.3h1.4v1.4h-1.4zM446.1 72.8h1.4v1.4h-1.4zM442.2 73.5h1.4v1.4h-1.4zM448.1 89.0h1.4v1.4h-1.4zM443.0 78.3h1.4v1.4h-1.4zM443.6 77.2h1.4v1.4h-1.4zM448.7 78.7h1.4v1.4h-1.4zM439.3 75.8h1.4v1.4h-1.4zM440.8 83.9h1.4v1.4h-1.4zM446.8 80.8h1.4v1.4h-1.4zM448.7 91.6h1.4v1.4h-1.4zM445.0 93.1h1.4v1.4h-1.4zM447.9 83.3h1.4v1.4h-1.4zM441.0 87.2h1.4v1.4h-1.4zM445.2 79.3h1.4v1.4h-1.4zM447.2 79.5h1.4v1.4h-1.4zM449.1 82.8h1.4v1.4h-1.4zM447.4 79.0h1.4v1.4h-1.4zM444.9 83.0h1.4v1.4h-1.4zM450.3 80.9h1.4v1.4h-1.4zM442.7 68.8h1.4v1.4h-1.4zM439.8 66.4h1.4v1.4h-1.4zM444.5 78.3h1.4v1.4h-1.4zM444.7 89.4h1.4v1.4h-1.4zM446.7 86.2h1.4v1.4h-1.4zM452.5 78.2h1.4v1.4h-1.4zM444.0 78.4h1.4v1.4h-1.4zM447.2 69.0h1.4v1.4h-1.4zM440.3 95.0h1.4v1.4h-1.4zM444.5 87.7h1.4v1.4h-1.4zM447.9 76.3h1.4v1.4h-1.4zM447.3 87.5h1.4v1.4h-1.4zM442.0 87.5h1.4v1.4h-1.4zM441.7 84.0h1.4v1.4h-1.4zM443.0 72.5h1.4v1.4h-1.4zM450.6 81.9h1.4v1.4h-1.4zM441.3 79.6h1.4v1.4h-1.4zM446.2 74.3h1.4v1.4h-1.4zM443.5 86.3h1.4v1.4h-1.4zM441.9 85.4h1.4v1.4h-1.4zM441.4 74.9h1.4v1.4h-1.4zM441.8 83.2h1.4v1.4h-1.4zM445.7 77.9h1.4v1.4h-1.4zM445.3 72.3h1.4v1.4h-1.4zM446.6 81.0h1.4v1.4h-1.4zM443.9 83.5h1.4v1.4h-1.4zM449.8 96.0h1.4v1.4h-1.4zM449.9 64.1h1.4v1.4h-1.4zM441.3 78.0h1.4v1.4h-1.4zM445.8 91.5h1.4v1.4h-1.4zM445.9 89.0h1.4v1.4h-1.4zM475.4 80.6h1.4v1.4h-1.4zM457.7 79.7h1.4v1.4h-1.4zM466.9 86.6h1.4v1.4h-1.4zM467.2 79.7h1.4v1.4h-1.4zM484.3 89.3h1.4v1.4h-1.4zM475.3 86.0h1.4v1.4h-1.4zM468.6 88.7h1.4v1.4h-1.4zM475.4 87.3h1.4v1.4h-1.4zM468.7 82.7h1.4v1.4h-1.4zM478.8 83.0h1.4v1.4h-1.4zM473.6 88.5h1.4v1.4h-1.4zM460.0 85.7h1.4v1.4h-1.4zM468.7 85.8h1.4v1.4h-1.4zM482.3 80.9h1.4v1.4h-1.4zM456.9 80.4h1.4v1.4h-1.4zM462.0 81.9h1.4v1.4h-1.4zM459.2 91.8h1.4v1.4h-1.4zM474.0 74.7h1.4v1.4h-1.4zM477.6 85.1h1.4v1.4h-1.4zM469.3 78.9h1.4v1.4h-1.4zM456.8 76.7h1.4v1.4h-1.4zM467.3 94.2h1.4v1.4h-1.4zM455.1 80.8h1.4v1.4h-1.4zM485.1 81.3h1.4v1.4h-1.4zM487.9 85.0h1.4v1.4h-1.4zM491.3 87.0h1.4v1.4h-1.4zM474.7 86.3h1.4v1.4h-1.4zM464.3 76.3h1.4v1.4h-1.4zM481.5 83.2h1.4v1.4h-1.4zM466.8 71.4h1.4v1.4h-1.4zM470.1 86.5h1.4v1.4h-1.4zM474.3 83.5h1.4v1.4h-1.4zM463.3 77.2h1.4v1.4h-1.4zM488.8 91.1h1.4v1.4h-1.4zM473.5 87.4h1.4v1.4h-1.4zM460.0 77.3h1.4v1.4h-1.4zM484.3 71.7h1.4v1.4h-1.4zM468.5 77.6h1.4v1.4h-1.4zM447.4 80.6h1.4v1.4h-1.4zM472.7 85.0h1.4v1.4h-1.4zM470.3 81.7h1.4v1.4h-1.4zM489.3 79.2h1.4v1.4h-1.4zM463.6 78.3h1.4v1.4h-1.4zM453.7 91.0h1.4v1.4h-1.4zM476.3 82.6h1.4v1.4h-1.4zM471.8 81.6h1.4v1.4h-1.4zM463.3 92.2h1.4v1.4h-1.4zM452.9 87.1h1.4v1.4h-1.4zM463.8 78.5h1.4v1.4h-1.4zM482.1 78.3h1.4v1.4h-1.4zM444.5 107.3h1.4v1.4h-1.4zM446.3 105.4h1.4v1.4h-1.4zM443.9 102.9h1.4v1.4h-1.4zM450.0 107.9h1.4v1.4h-1.4zM443.0 112.7h1.4v1.4h-1.4zM447.2 99.9h1.4v1.4h-1.4zM446.3 103.8h1.4v1.4h-1.4zM446.2 103.7h1.4v1.4h-1.4zM440.6 104.1h1.4v1.4h-1.4zM441.1 104.3h1.4v1.4h-1.4zM439.8 101.9h1.4v1.4h-1.4zM450.8 103.2h1.4v1.4h-1.4zM442.7 105.6h1.4v1.4h-1.4zM446.1 105.7h1.4v1.4h-1.4zM440.5 103.0h1.4v1.4h-1.4zM444.0 109.4h1.4v1.4h-1.4zM446.9 106.7h1.4v1.4h-1.4zM441.6 109.1h1.4v1.4h-1.4zM443.4 102.8h1.4v1.4h-1.4zM443.8 110.5h1.4v1.4h-1.4zM443.8 108.1h1.4v1.4h-1.4zM444.4 105.4h1.4v1.4h-1.4zM440.2 105.7h1.4v1.4h-1.4zM444.9 106.5h1.4v1.4h-1.4zM445.3 101.3h1.4v1.4h-1.4zM444.4 105.5h1.4v1.4h-1.4zM442.1 102.7h1.4v1.4h-1.4zM447.4 102.2h1.4v1.4h-1.4zM445.5 101.4h1.4v1.4h-1.4zM445.2 98.3h1.4v1.4h-1.4zM444.7 102.9h1.4v1.4h-1.4zM450.7 108.1h1.4v1.4h-1.4zM449.2 100.3h1.4v1.4h-1.4zM445.3 108.0h1.4v1.4h-1.4zM448.5 106.0h1.4v1.4h-1.4zM445.6 108.8h1.4v1.4h-1.4zM446.2 106.3h1.4v1.4h-1.4zM442.4 110.3h1.4v1.4h-1.4zM445.3 107.9h1.4v1.4h-1.4zM451.1 109.7h1.4v1.4h-1.4zM445.5 102.6h1.4v1.4h-1.4zM442.3 107.0h1.4v1.4h-1.4zM443.7 108.7h1.4v1.4h-1.4zM446.1 108.5h1.4v1.4h-1.4zM440.8 107.4h1.4v1.4h-1.4zM446.5 110.1h1.4v1.4h-1.4zM442.0 102.9h1.4v1.4h-1.4zM440.9 105.1h1.4v1.4h-1.4zM444.6 110.6h1.4v1.4h-1.4zM443.1 105.7h1.4v1.4h-1.4zM439.3 104.1h1.4v1.4h-1.4zM444.8 99.8h1.4v1.4h-1.4zM444.7 109.2h1.4v1.4h-1.4zM446.7 103.3h1.4v1.4h-1.4zM448.8 109.0h1.4v1.4h-1.4zM444.6 104.9h1.4v1.4h-1.4zM441.2 101.5h1.4v1.4h-1.4zM441.6 105.2h1.4v1.4h-1.4zM442.9 105.6h1.4v1.4h-1.4zM444.6 102.2h1.4v1.4h-1.4zM445.0 105.7h1.4v1.4h-1.4zM444.8 104.8h1.4v1.4h-1.4zM442.7 109.2h1.4v1.4h-1.4zM447.9 99.9h1.4v1.4h-1.4zM447.3 106.4h1.4v1.4h-1.4zM443.5 100.4h1.4v1.4h-1.4zM439.5 101.5h1.4v1.4h-1.4zM442.7 107.4h1.4v1.4h-1.4zM448.4 107.4h1.4v1.4h-1.4zM443.9 102.1h1.4v1.4h-1.4zM440.1 106.4h1.4v1.4h-1.4zM446.4 110.4h1.4v1.4h-1.4zM444.0 103.1h1.4v1.4h-1.4zM442.6 104.6h1.4v1.4h-1.4zM447.1 105.9h1.4v1.4h-1.4zM444.8 106.0h1.4v1.4h-1.4z" fill="#111" fill-opacity="0.38"/>
<path d="M441.8 84.1h1.4v1.4h-1.4zM449.5 83.2h1.4v1.4h-1.4zM447.6 81.9h1.4v1.4h-1.4zM449.5 85.5h1.4v1.4h-1.4zM446.9 76.7h1.4v1.4h-1.4zM445.2 81.4h1.4v1.4h-1.4zM443.0 85.0h1.4v1.4h-1.4zM442.5 78.6h1.4v1.4h-1.4zM446.0 72.8h1.4v1.4h-1.4zM440.3 85.9h1.4v1.4h-1.4zM443.3 99.2h1.4v1.4h-1.4zM444.0 79.3h1.4v1.4h-1.4zM445.3 82.9h1.4v1.4h-1.4zM445.2 81.9h1.4v1.4h-1.4zM444.7 77.0h1.4v1.4h-1.4zM446.2 88.9h1.4v1.4h-1.4zM448.2 79.7h1.4v1.4h-1.4zM441.9 74.0h1.4v1.4h-1.4zM445.8 79.6h1.4v1.4h-1.4zM444.7 89.8h1.4v1.4h-1.4zM443.2 85.5h1.4v1.4h-1.4zM446.5 77.7h1.4v1.4h-1.4zM445.7 88.5h1.4v1.4h-1.4zM447.9 83.7h1.4v1.4h-1.4zM449.2 79.3h1.4v1.4h-1.4zM454.9 80.5h1.4v1.4h-1.4zM442.7 82.7h1.4v1.4h-1.4zM441.4 90.1h1.4v1.4h-1.4zM443.0 78.1h1.4v1.4h-1.4zM445.7 88.4h1.4v1.4h-1.4zM444.7 75.2h1.4v1.4h-1.4zM443.2 89.4h1.4v1.4h-1.4zM442.7 90.9h1.4v1.4h-1.4zM446.8 82.4h1.4v1.4h-1.4zM442.3 82.9h1.4v1.4h-1.4zM450.9 80.9h1.4v1.4h-1.4zM450.3 77.1h1.4v1.4h-1.4zM443.9 85.2h1.4v1.4h-1.4zM445.5 82.0h1.4v1.4h-1.4zM446.5 72.5h1.4v1.4h-1.4zM442.7 77.3h1.4v1.4h-1.4zM444.3 81.6h1.4v1.4h-1.4zM443.2 78.3h1.4v1.4h-1.4zM444.7 81.5h1.4v1.4h-1.4zM448.9 83.9h1.4v1.4h-1.4zM443.2 72.1h1.4v1.4h-1.4zM450.3 84.3h1.4v1.4h-1.4zM450.5 83.0h1.4v1.4h-1.4zM444.4 86.2h1.4v1.4h-1.4zM441.8 87.5h1.4v1.4h-1.4zM443.8 86.7h1.4v1.4h-1.4zM444.3 81.7h1.4v1.4h-1.4zM441.4 82.0h1.4v1.4h-1.4zM447.6 93.3h1.4v1.4h-1.4zM444.8 76.5h1.4v1.4h-1.4zM470.9 88.9h1.4v1.4h-1.4zM453.2 82.3h1.4v1.4h-1.4zM458.3 80.7h1.4v1.4h-1.4zM479.3 80.3h1.4v1.4h-1.4zM483.0 78.8h1.4v1.4h-1.4zM490.2 79.9h1.4v1.4h-1.4zM481.1 85.3h1.4v1.4h-1.4zM461.2 79.6h1.4v1.4h-1.4zM473.7 72.2h1.4v1.4h-1.4zM481.2 84.3h1.4v1.4h-1.4zM476.8 81.5h1.4v1.4h-1.4zM499.2 79.7h1.4v1.4h-1.4zM466.7 82.7h1.4v1.4h-1.4zM481.8 80.1h1.4v1.4h-1.4zM449.7 86.5h1.4v1.4h-1.4zM491.9 85.2h1.4v1.4h-1.4zM460.3 88.9h1.4v1.4h-1.4zM470.2 84.3h1.4v1.4h-1.4zM466.3 87.5h1.4v1.4h-1.4zM484.4 83.6h1.4v1.4h-1.4zM479.5 85.2h1.4v1.4h-1.4zM482.5 90.3h1.4v1.4h-1.4zM468.1 83.9h1.4v1.4h-1.4zM477.1 86.7h1.4v1.4h-1.4zM483.4 90.6h1.4v1.4h-1.4zM455.3 80.0h1.4v1.4h-1.4zM481.3 81.3h1.4v1.4h-1.4zM477.0 73.4h1.4v1.4h-1.4zM490.9 77.6h1.4v1.4h-1.4zM472.4 76.4h1.4v1.4h-1.4zM458.2 87.4h1.4v1.4h-1.4zM462.2 76.2h1.4v1.4h-1.4zM467.4 81.6h1.4v1.4h-1.4zM474.3 71.7h1.4v1.4h-1.4zM476.4 92.3h1.4v1.4h-1.4zM470.8 88.8h1.4v1.4h-1.4zM481.0 92.1h1.4v1.4h-1.4zM475.3 85.2h1.4v1.4h-1.4zM468.2 89.3h1.4v1.4h-1.4zM461.7 73.3h1.4v1.4h-1.4zM472.5 79.8h1.4v1.4h-1.4zM477.0 79.9h1.4v1.4h-1.4zM466.2 90.1h1.4v1.4h-1.4zM466.1 74.5h1.4v1.4h-1.4zM486.6 78.4h1.4v1.4h-1.4zM475.3 82.7h1.4v1.4h-1.4zM467.5 81.3h1.4v1.4h-1.4zM464.5 78.8h1.4v1.4h-1.4zM447.7 109.0h1.4v1.4h-1.4zM444.3 104.8h1.4v1.4h-1.4zM443.2 103.6h1.4v1.4h-1.4zM443.3 108.3h1.4v1.4h-1.4zM446.7 104.6h1.4v1.4h-1.4zM447.6 106.7h1.4v1.4h-1.4zM442.5 98.6h1.4v1.4h-1.4zM441.3 110.5h1.4v1.4h-1.4zM447.0 104.6h1.4v1.4h-1.4zM444.3 104.5h1.4v1.4h-1.4zM438.4 106.9h1.4v1.4h-1.4zM439.1 103.9h1.4v1.4h-1.4zM446.0 107.5h1.4v1.4h-1.4zM443.1 108.5h1.4v1.4h-1.4zM448.9 104.8h1.4v1.4h-1.4zM444.9 107.9h1.4v1.4h-1.4zM451.3 108.3h1.4v1.4h-1.4zM442.6 103.7h1.4v1.4h-1.4zM442.2 105.9h1.4v1.4h-1.4zM445.6 102.4h1.4v1.4h-1.4zM446.5 103.7h1.4v1.4h-1.4zM445.1 105.4h1.4v1.4h-1.4zM448.3 105.6h1.4v1.4h-1.4zM445.5 106.8h1.4v1.4h-1.4zM443.9 110.7h1.4v1.4h-1.4zM440.9 105.7h1.4v1.4h-1.4zM443.0 102.5h1.4v1.4h-1.4zM441.0 108.5h1.4v1.4h-1.4zM442.1 102.6h1.4v1.4h-1.4zM446.7 110.9h1.4v1.4h-1.4zM444.1 107.8h1.4v1.4h-1.4zM438.0 101.1h1.4v1.4h-1.4zM443.2 108.6h1.4v1.4h-1.4zM442.4 103.3h1.4v1.4h-1.4zM444.1 107.1h1.4v1.4h-1.4zM441.8 103.8h1.4v1.4h-1.4zM445.4 107.9h1.4v1.4h-1.4zM443.0 102.3h1.4v1.4h-1.4zM441.2 105.8h1.4v1.4h-1.4zM440.8 106.7h1.4v1.4h-1.4zM443.3 109.6h1.4v1.4h-1.4zM441.0 109.4h1.4v1.4h-1.4zM440.4 95.5h1.4v1.4h-1.4zM450.2 102.6h1.4v1.4h-1.4zM447.7 103.0h1.4v1.4h-1.4zM443.8 108.6h1.4v1.4h-1.4zM443.9 104.0h1.4v1.4h-1.4zM441.9 106.0h1.4v1.4h-1.4zM442.8 99.4h1.4v1.4h-1.4zM451.5 107.2h1.4v1.4h-1.4zM449.3 105.4h1.4v1.4h-1.4zM440.6 106.8h1.4v1.4h-1.4zM452.5 105.2h1.4v1.4h-1.4zM446.1 106.7h1.4v1.4h-1.4zM445.0 107.4h1.4v1.4h-1.4zM440.9 103.9h1.4v1.4h-1.4zM442.1 106.1h1.4v1.4h-1.4zM447.0 100.1h1.4v1.4h-1.4zM444.2 107.5h1.4v1.4h-1.4zM444.7 102.6h1.4v1.4h-1.4zM446.8 108.7h1.4v1.4h-1.4zM447.8 102.3h1.4v1.4h-1.4zM444.7 106.2h1.4v1.4h-1.4zM444.9 109.1h1.4v1.4h-1.4zM449.7 101.2h1.4v1.4h-1.4zM449.6 100.6h1.4v1.4h-1.4zM446.2 107.3h1.4v1.4h-1.4zM441.1 104.6h1.4v1.4h-1.4zM442.8 107.2h1.4v1.4h-1.4zM445.0 105.9h1.4v1.4h-1.4zM448.1 103.5h1.4v1.4h-1.4z" fill="#111" fill-opacity="0.38"/>
<path d="M443.5 92.9h1.4v1.4h-1.4zM448.3 77.8h1.4v1.4h-1.4zM452.3 86.7h1.4v1.4h-1.4zM440.5 79.4h1.4v1.4h-1.4zM445.8 73.5h1.4v1.4h-1.4zM446.4 84.4h1.4v1.4h-1.4zM444.9 78.2h1.4v1.4h-1.4zM442.0 89.2h1.4v1.4h-1.4zM450.5 91.6h1.4v1.4h-1.4zM442.6 82.9h1.4v1.4h-1.4zM446.1 74.3h1.4v1.4h-1.4zM444.8 80.4h1.4v1.4h-1.4zM444.9 92.5h1.4v1.4h-1.4zM448.0 75.3h1.4v1.4h-1.4zM442.6 70.8h1.4v1.4h-1.4zM447.2 86.7h1.4v1.4h-1.4zM444.6 96.4h1.4v1.4h-1.4zM446.5 86.1h1.4v1.4h-1.4zM446.4 81.3h1.4v1.4h-1.4zM449.4 77.5h1.4v1.4h-1.4zM447.9 87.0h1.4v1.4h-1.4zM443.9 83.9h1.4v1.4h-1.4zM443.6 73.9h1.4v1.4h-1.4zM445.9 80.2h1.4v1.4h-1.4zM443.0 76.3h1.4v1.4h-1.4zM444.0 85.3h1.4v1.4h-1.4zM443.0 80.3h1.4v1.4h-1.4zM445.3 83.7h1.4v1.4h-1.4zM441.2 85.1h1.4v1.4h-1.4zM443.0 69.2h1.4v1.4h-1.4zM444.2 73.4h1.4v1.4h-1.4zM445.8 85.8h1.4v1.4h-1.4zM442.2 88.3h1.4v1.4h-1.4zM447.0 84.0h1.4v1.4h-1.4zM449.5 70.9h1.4v1.4h-1.4zM445.2 78.7h1.4v1.4h-1.4zM442.1 90.1h1.4v1.4h-1.4zM440.2 83.7h1.4v1.4h-1.4zM449.7 71.3h1.4v1.4h-1.4zM448.6 87.6h1.4v1.4h-1.4zM444.9 92.5h1.4v1.4h-1.4zM446.8 90.0h1.4v1.4h-1.4zM445.3 88.8h1.4v1.4h-1.4zM445.5 79.7h1.4v1.4h-1.4zM455.6 79.4h1.4v1.4h-1.4zM449.3 78.9h1.4v1.4h-1.4zM440.5 86.1h1.4v1.4h-1.4zM447.9 77.8h1.4v1.4h-1.4zM446.4 88.0h1.4v1.4h-1.4zM447.0 76.0h1.4v1.4h-1.4zM442.8 82.0h1.4v1.4h-1.4zM449.7 87.6h1.4v1.4h-1.4zM471.5 86.3h1.4v1.4h-1.4zM483.9 84.1h1.4v1.4h-1.4zM471.7 72.9h1.4v1.4h-1.4zM471.3 76.8h1.4v1.4h-1.4zM459.6 83.9h1.4v1.4h-1.4zM462.9 78.5h1.4v1.4h-1.4zM479.9 83.1h1.4v1.4h-1.4zM473.7 84.7h1.4v1.4h-1.4zM477.3 89.3h1.4v1.4h-1.4zM482.9 69.4h1.4v1.4h-1.4zM482.2 80.7h1.4v1.4h-1.4zM479.5 71.2h1.4v1.4h-1.4zM472.6 85.0h1.4v1.4h-1.4zM472.8 84.4h1.4v1.4h-1.4zM481.0 83.8h1.4v1.4h-1.4zM478.8 79.2h1.4v1.4h-1.4zM454.8 93.1h1.4v1.4h-1.4zM474.9 75.4h1.4v1.4h-1.4zM481.5 87.1h1.4v1.4h-1.4zM468.2 85.5h1.4v1.4h-1.4zM490.8 79.6h1.4v1.4h-1.4zM467.5 69.1h1.4v1.4h-1.4zM478.7 84.0h1.4v1.4h-1.4zM471.6 92.8h1.4v1.4h-1.4zM464.2 85.0h1.4v1.4h-1.4zM457.8 81.2h1.4v1.4h-1.4zM464.1 79.6h1.4v1.4h-1.4zM484.8 81.0h1.4v1.4h-1.4zM485.9 88.4h1.4v1.4h-1.4zM481.3 84.5h1.4v1.4h-1.4zM466.6 78.9h1.4v1.4h-1.4zM477.3 84.0h1.4v1.4h-1.4zM470.7 83.0h1.4v1.4h-1.4zM442.3 105.3h1.4v1.4h-1.4zM446.7 104.6h1.4v1.4h-1.4zM443.6 104.0h1.4v1.4h-1.4zM444.9 112.2h1.4v1.4h-1.4zM447.7 107.8h1.4v1.4h-1.4zM444.4 104.2h1.4v1.4h-1.4zM438.9 104.6h1.4v1.4h-1.4zM449.0 106.0h1.4v1.4h-1.4zM447.8 104.3h1.4v1.4h-1.4zM448.0 106.8h1.4v1.4h-1.4zM444.6 102.1h1.4v1.4h-1.4zM444.4 104.5h1.4v1.4h-1.4zM446.5 106.9h1.4v1.4h-1.4zM440.2 103.9h1.4v1.4h-1.4zM443.7 103.1h1.4v1.4h-1.4zM447.0 109.6h1.4v1.4h-1.4zM440.1 104.2h1.4v1.4h-1.4zM445.5 103.6h1.4v1.4h-1.4zM439.7 107.2h1.4v1.4h-1.4zM443.5 108.2h1.4v1.4h-1.4zM442.5 101.5h1.4v1.4h-1.4zM440.6 107.4h1.4v1.4h-1.4zM442.7 108.4h1.4v1.4h-1.4zM447.9 108.6h1.4v1.4h-1.4zM451.4 106.0h1.4v1.4h-1.4zM444.4 101.1h1.4v1.4h-1.4zM439.9 105.3h1.4v1.4h-1.4zM444.0 107.7h1.4v1.4h-1.4zM445.4 105.6h1.4v1.4h-1.4zM442.0 103.3h1.4v1.4h-1.4zM447.9 102.9h1.4v1.4h-1.4zM444.8 107.9h1.4v1.4h-1.4zM440.4 102.3h1.4v1.4h-1.4zM445.0 105.0h1.4v1.4h-1.4zM442.7 108.2h1.4v1.4h-1.4zM442.9 109.1h1.4v1.4h-1.4zM443.9 101.3h1.4v1.4h-1.4zM442.1 105.7h1.4v1.4h-1.4zM441.5 108.6h1.4v1.4h-1.4zM444.2 106.7h1.4v1.4h-1.4zM448.5 105.4h1.4v1.4h-1.4zM439.2 110.9h1.4v1.4h-1.4zM446.5 98.8h1.4v1.4h-1.4zM444.1 103.1h1.4v1.4h-1.4zM446.5 110.9h1.4v1.4h-1.4zM440.8 106.2h1.4v1.4h-1.4zM443.1 103.4h1.4v1.4h-1.4zM442.5 106.3h1.4v1.4h-1.4zM442.2 104.8h1.4v1.4h-1.4zM449.0 107.7h1.4v1.4h-1.4zM445.9 105.4h1.4v1.4h-1.4zM441.6 106.8h1.4v1.4h-1.4zM441.7 102.7h1.4v1.4h-1.4zM438.3 106.0h1.4v1.4h-1.4zM440.3 110.5h1.4v1.4h-1.4zM445.0 104.3h1.4v1.4h-1.4zM446.8 107.9h1.4v1.4h-1.4zM441.9 105.5h1.4v1.4h-1.4zM449.4 103.7h1.4v1.4h-1.4zM446.4 110.6h1.4v1.4h-1.4z" fill="#111" fill-opacity="0.38"/>
<path d="M443.8 79.8h1.4v1.4h-1.4zM446.4 79.3h1.4v1.4h-1.4zM448.7 79.3h1.4v1.4h-1.4zM447.0 79.6h1.4v1.4h-1.4zM446.9 83.7h1.4v1.4h-1.4zM439.8 78.7h1.4v1.4h-1.4zM451.4 81.0h1.4v1.4h-1.4zM444.7 69.8h1.4v1.4h-1.4zM446.0 93.3h1.4v1.4h-1.4zM440.5 80.2h1.4v1.4h-1.4zM447.1 90.0h1.4v1.4h-1.4zM445.2 91.2h1.4v1.4h-1.4zM446.6 80.1h1.4v1.4h-1.4zM442.0 73.9h1.4v1.4h-1.4zM445.0 84.4h1.4v1.4h-1.4zM445.7 84.4h1.4v1.4h-1.4zM443.7 81.0h1.4v1.4h-1.4zM446.2 78.1h1.4v1.4h-1.4zM442.5 83.2h1.4v1.4h-1.4zM447.7 85.2h1.4v1.4h-1.4zM441.0 78.4h1.4v1.4h-1.4zM442.8 77.3h1.4v1.4h-1.4zM444.7 93.2h1.4v1.4h-1.4zM449.2 91.6h1.4v1.4h-1.4zM439.3 82.8h1.4v1.4h-1.4zM443.6 89.9h1.4v1.4h-1.4zM447.3 69.4h1.4v1.4h-1.4zM438.0 88.5h1.4v1.4h-1.4zM445.8 87.3h1.4v1.4h-1.4zM439.6 89.1h1.4v1.4h-1.4zM444.4 83.0h1.4v1.4h-1.4zM446.4 69.2h1.4v1.4h-1.4zM445.3 81.9h1.4v1.4h-1.4zM445.2 78.8h1.4v1.4h-1.4zM444.1 100.0h1.4v1.4h-1.4zM444.8 80.6h1.4v1.4h-1.4zM444.3 84.8h1.4v1.4h-1.4zM449.1 87.9h1.4v1.4h-1.4zM447.0 85.4h1.4v1.4h-1.4zM440.1 79.3h1.4v1.4h-1.4zM442.7 87.9h1.4v1.4h-1.4zM451.4 82.5h1.4v1.4h-1.4zM444.4 80.4h1.4v1.4h-1.4zM449.7 82.1h1.4v1.4h-1.4zM441.4 75.4h1.4v1.4h-1.4zM446.1 85.6h1.4v1.4h-1.4zM440.9 79.4h1.4v1.4h-1.4zM444.2 84.7h1.4v1.4h-1.4zM442.4 83.8h1.4v1.4h-1.4zM439.2 82.6h1.4v1.4h-1.4zM439.9 95.7h1.4v1.4h-1.4zM443.7 77.8h1.4v1.4h-1.4zM442.5 91.4h1.4v1.4h-1.4zM443.7 89.5h1.4v1.4h-1.4zM447.5 82.5h1.4v1.4h-1.4zM441.5 80.5h1.4v1.4h-1.4zM447.5 74.5h1.4v1.4h-1.4zM447.1 89.2h1.4v1.4h-1.4zM478.5 88.8h1.4v1.4h-1.4zM487.8 84.9h1.4v1.4h-1.4zM471.8 78.4h1.4v1.4h-1.4zM463.3 85.1h1.4v1.4h-1.4zM478.5 85.7h1.4v1.4h-1.4zM479.5 86.9h1.4v1.4h-1.4zM458.4 76.1h1.4v1.4h-1.4zM483.1 90.6h1.4v1.4h-1.4zM469.4 88.2h1.4v1.4h-1.4zM469.9 76.6h1.4v1.4h-1.4zM468.2 84.2h1.4v1.4h-1.4zM472.6 82.4h1.4v1.4h-1.4zM461.7 84.2h1.4v1.4h-1.4zM454.9 81.0h1.4v1.4h-1.4zM466.6 75.0h1.4v1.4h-1.4zM465.5 90.3h1.4v1.4h-1.4zM459.3 84.3h1.4v1.4h-1.4zM479.1 77.3h1.4v1.4h-1.4zM470.3 75.6h1.4v1.4h-1.4zM462.2 87.9h1.4v1.4h-1.4zM470.6 80.0h1.4v1.4h-1.4zM467.4 91.7h1.4v1.4h-1.4zM465.0 73.1h1.4v1.4h-1.4zM470.9 79.3h1.4v1.4h-1.4zM469.7 77.8h1.4v1.4h-1.4zM460.5 81.9h1.4v1.4h-1.4zM470.4 82.8h1.4v1.4h-1.4zM466.0 84.3h1.4v1.4h-1.4zM458.6 83.9h1.4v1.4h-1.4zM470.1 78.8h1.4v1.4h-1.4zM461.8 80.0h1.4v1.4h-1.4zM478.2 83.7h1.4v1.4h-1.4zM458.3 82.5h1.4v1.4h-1.4zM460.6 85.6h1.4v1.4h-1.4zM474.4 88.7h1.4v1.4h-1.4zM459.4 88.7h1.4v1.4h-1.4zM481.4 85.7h1.4v1.4h-1.4zM469.8 81.4h1.4v1.4h-1.4zM479.8 82.1h1.4v1.4h-1.4zM491.5 80.1h1.4v1.4h-1.4zM459.1 83.7h1.4v1.4h-1.4zM466.6 80.6h1.4v1.4h-1.4zM473.3 87.3h1.4v1.4h-1.4zM459.4 80.9h1.4v1.4h-1.4zM465.9 85.8h1.4v1.4h-1.4zM442.3 105.5h1.4v1.4h-1.4zM441.4 106.6h1.4v1.4h-1.4zM447.3 112.0h1.4v1.4h-1.4zM446.6 104.4h1.4v1.4h-1.4zM446.7 107.3h1.4v1.4h-1.4zM440.8 107.9h1.4v1.4h-1.4zM447.7 107.9h1.4v1.4h-1.4zM443.5 107.9h1.4v1.4h-1.4zM440.2 105.0h1.4v1.4h-1.4zM446.4 107.7h1.4v1.4h-1.4zM446.4 103.3h1.4v1.4h-1.4zM442.0 105.3h1.4v1.4h-1.4zM448.7 109.4h1.4v1.4h-1.4zM446.7 103.0h1.4v1.4h-1.4zM444.8 105.8h1.4v1.4h-1.4zM443.7 107.0h1.4v1.4h-1.4zM448.7 107.6h1.4v1.4h-1.4zM447.4 107.9h1.4v1.4h-1.4zM444.5 103.7h1.4v1.4h-1.4zM444.9 106.0h1.4v1.4h-1.4zM441.9 103.8h1.4v1.4h-1.4zM444.5 104.3h1.4v1.4h-1.4zM443.8 105.9h1.4v1.4h-1.4zM443.7 107.1h1.4v1.4h-1.4zM441.2 100.9h1.4v1.4h-1.4zM447.0 108.2h1.4v1.4h-1.4zM442.5 106.1h1.4v1.4h-1.4zM438.0 109.8h1.4v1.4h-1.4zM444.1 105.6h1.4v1.4h-1.4zM448.4 101.1h1.4v1.4h-1.4zM440.7 106.1h1.4v1.4h-1.4zM448.6 107.7h1.4v1.4h-1.4zM446.1 101.2h1.4v1.4h-1.4zM442.9 108.5h1.4v1.4h-1.4zM446.5 102.5h1.4v1.4h-1.4zM444.0 99.0h1.4v1.4h-1.4zM444.3 109.2h1.4v1.4h-1.4zM439.5 109.1h1.4v1.4h-1.4zM441.0 105.6h1.4v1.4h-1.4zM447.5 102.8h1.4v1.4h-1.4zM444.4 103.4h1.4v1.4h-1.4zM441.4 106.6h1.4v1.4h-1.4zM449.0 100.7h1.4v1.4h-1.4zM447.4 96.3h1.4v1.4h-1.4zM440.6 107.3h1.4v1.4h-1.4zM445.4 108.7h1.4v1.4h-1.4zM446.6 107.5h1.4v1.4h-1.4zM441.6 108.7h1.4v1.4h-1.4zM447.2 107.5h1.4v1.4h-1.4zM445.4 109.5h1.4v1.4h-1.4zM443.2 104.7h1.4v1.4h-1.4z" fill="#111" fill-opacity="0.38"/>
<path d="M446.1 83.1h1.2v1.2h-1.2zM443.7 84.7h1.2v1.2h-1.2zM444.5 78.3h1.2v1.2h-1.2zM444.4 75.2h1.2v1.2h-1.2zM442.9 87.2h1.2v1.2h-1.2zM445.2 78.7h1.2v1.2h-1.2zM446.6 83.8h1.2v1.2h-1.2zM447.9 90.8h1.2v1.2h-1.2zM446.4 89.6h1.2v1.2h-1.2zM448.4 80.8h1.2v1.2h-1.2zM444.1 86.4h1.2v1.2h-1.2zM445.2 78.0h1.2v1.2h-1.2zM443.1 81.9h1.2v1.2h-1.2zM443.2 79.1h1.2v1.2h-1.2zM448.4 81.0h1.2v1.2h-1.2zM449.2 89.4h1.2v1.2h-1.2zM450.2 79.3h1.2v1.2h-1.2zM444.1 75.7h1.2v1.2h-1.2zM451.0 81.5h1.2v1.2h-1.2zM448.1 92.8h1.2v1.2h-1.2zM449.9 92.1h1.2v1.2h-1.2zM444.2 86.3h1.2v1.2h-1.2zM440.3 79.8h1.2v1.2h-1.2zM446.9 83.9h1.2v1.2h-1.2zM443.9 77.8h1.2v1.2h-1.2zM444.5 82.3h1.2v1.2h-1.2zM441.3 83.7h1.2v1.2h-1.2zM450.5 83.0h1.2v1.2h-1.2zM438.8 84.8h1.2v1.2h-1.2zM448.6 91.4h1.2v1.2h-1.2zM439.0 84.5h1.2v1.2h-1.2zM449.8 79.7h1.2v1.2h-1.2zM443.9 82.3h1.2v1.2h-1.2zM448.6 80.5h1.2v1.2h-1.2zM446.0 71.9h1.2v1.2h-1.2zM447.6 88.5h1.2v1.2h-1.2zM441.6 92.7h1.2v1.2h-1.2zM446.5 79.8h1.2v1.2h-1.2zM449.3 73.9h1.2v1.2h-1.2zM447.5 83.0h1.2v1.2h-1.2zM445.8 76.4h1.2v1.2h-1.2zM448.0 84.4h1.2v1.2h-1.2zM448.8 80.8h1.2v1.2h-1.2zM446.4 84.5h1.2v1.2h-1.2zM448.7 83.9h1.2v1.2h-1.2zM438.4 75.7h1.2v1.2h-1.2zM442.3 97.1h1.2v1.2h-1.2zM447.3 85.4h1.2v1.2h-1.2zM448.2 81.7h1.2v1.2h-1.2zM442.3 83.9h1.2v1.2h-1.2zM442.5 78.1h1.2v1.2h-1.2zM443.6 83.7h1.2v1.2h-1.2zM442.8 78.5h1.2v1.2h-1.2zM444.1 72.7h1.2v1.2h-1.2zM443.3 86.3h1.2v1.2h-1.2zM448.3 86.0h1.2v1.2h-1.2zM446.3 77.1h1.2v1.2h-1.2zM448.3 80.8h1.2v1.2h-1.2zM441.0 90.0h1.2v1.2h-1.2zM440.0 91.5h1.2v1.2h-1.2zM446.1 93.3h1.2v1.2h-1.2zM446.4 89.6h1.2v1.2h-1.2zM445.3 88.1h1.2v1.2h-1.2zM448.6 88.4h1.2v1.2h-1.2zM444.6 82.4h1.2v1.2h-1.2zM446.8 87.0h1.2v1.2h-1.2zM447.2 89.3h1.2v1.2h-1.2zM445.3 90.5h1.2v1.2h-1.2zM449.2 80.8h1.2v1.2h-1.2zM453.7 96.7h1.2v1.2h-1.2zM442.3 93.1h1.2v1.2h-1.2zM447.3 97.7h1.2v1.2h-1.2zM449.7 88.8h1.2v1.2h-1.2zM450.4 91.6h1.2v1.2h-1.2zM442.8 95.0h1.2v1.2h-1.2zM445.2 91.4h1.2v1.2h-1.2zM446.3 94.8h1.2v1.2h-1.2zM449.3 90.9h1.2v1.2h-1.2zM445.4 88.0h1.2v1.2h-1.2zM448.6 89.5h1.2v1.2h-1.2zM445.3 89.9h1.2v1.2h-1.2zM446.9 91.8h1.2v1.2h-1.2zM451.4 95.9h1.2v1.2h-1.2zM441.9 88.0h1.2v1.2h-1.2zM452.9 95.8h1.2v1.2h-1.2zM449.7 92.6h1.2v1.2h-1.2zM441.6 84.6h1.2v1.2h-1.2zM444.6 78.8h1.2v1.2h-1.2zM445.3 91.4h1.2v1.2h-1.2zM450.8 89.0h1.2v1.2h-1.2zM447.5 92.2h1.2v1.2h-1.2zM442.5 91.6h1.2v1.2h-1.2zM443.8 88.4h1.2v1.2h-1.2zM444.6 93.3h1.2v1.2h-1.2zM446.8 94.7h1.2v1.2h-1.2zM443.0 89.6h1.2v1.2h-1.2zM438.8 86.2h1.2v1.2h-1.2zM443.8 84.4h1.2v1.2h-1.2zM445.9 92.7h1.2v1.2h-1.2zM441.7 89.4h1.2v1.2h-1.2zM448.2 91.6h1.2v1.2h-1.2zM449.1 82.8h1.2v1.2h-1.2zM438.3 96.4h1.2v1.2h-1.2zM447.1 88.0h1.2v1.2h-1.2zM446.1 87.0h1.2v1.2h-1.2zM441.5 86.3h1.2v1.2h-1.2zM445.7 94.9h1.2v1.2h-1.2zM446.8 89.0h1.2v1.2h-1.2zM449.7 90.3h1.2v1.2h-1.2zM445.4 100.7h1.2v1.2h-1.2zM449.8 94.7h1.2v1.2h-1.2zM450.1 91.8h1.2v1.2h-1.2zM468.8 79.3h1.2v1.2h-1.2zM475.6 90.9h1.2v1.2h-1.2zM494.7 70.3h1.2v1.2h-1.2zM470.1 80.2h1.2v1.2h-1.2zM477.2 80.9h1.2v1.2h-1.2zM499.0 79.3h1.2v1.2h-1.2zM460.8 89.6h1.2v1.2h-1.2zM476.0 83.3h1.2v1.2h-1.2zM465.4 78.4h1.2v1.2h-1.2zM468.2 86.9h1.2v1.2h-1.2zM474.4 85.7h1.2v1.2h-1.2zM480.2 83.0h1.2v1.2h-1.2zM461.1 88.5h1.2v1.2h-1.2zM466.3 81.7h1.2v1.2h-1.2zM479.3 83.4h1.2v1.2h-1.2zM453.8 82.2h1.2v1.2h-1.2zM485.6 80.4h1.2v1.2h-1.2zM480.7 84.3h1.2v1.2h-1.2zM459.0 79.6h1.2v1.2h-1.2zM488.9 80.1h1.2v1.2h-1.2zM452.2 81.1h1.2v1.2h-1.2zM483.9 90.8h1.2v1.2h-1.2zM476.1 79.8h1.2v1.2h-1.2zM457.6 82.1h1.2v1.2h-1.2zM451.6 81.2h1.2v1.2h-1.2zM458.9 82.9h1.2v1.2h-1.2zM476.4 75.7h1.2v1.2h-1.2zM457.6 77.7h1.2v1.2h-1.2zM450.0 86.3h1.2v1.2h-1.2zM469.4 74.1h1.2v1.2h-1.2zM475.9 79.3h1.2v1.2h-1.2zM455.4 75.9h1.2v1.2h-1.2zM474.2 86.4h1.2v1.2h-1.2zM482.7 72.1h1.2v1.2h-1.2zM468.0 81.9h1.2v1.2h-1.2zM479.5 73.6h1.2v1.2h-1.2zM463.4 77.6h1.2v1.2h-1.2zM468.2 85.9h1.2v1.2h-1.2zM482.5 89.5h1.2v1.2h-1.2zM479.3 82.3h1.2v1.2h-1.2zM467.3 85.4h1.2v1.2h-1.2zM474.1 84.5h1.2v1.2h-1.2zM460.4 85.2h1.2v1.2h-1.2zM462.4 78.8h1.2v1.2h-1.2zM475.8 80.4h1.2v1.2h-1.2zM467.2 85.6h1.2v1.2h-1.2zM479.2 86.7h1.2v1.2h-1.2zM471.8 92.6h1.2v1.2h-1.2zM475.8 79.6h1.2v1.2h-1.2zM475.7 83.8h1.2v1.2h-1.2zM469.5 77.5h1.2v1.2h-1.2zM478.1 82.8h1.2v1.2h-1.2zM498.1 87.7h1.2v1.2h-1.2zM461.2 79.0h1.2v1.2h-1.2zM450.5 83.1h1.2v1.2h-1.2zM480.7 83.2h1.2v1.2h-1.2zM469.2 83.2h1.2v1.2h-1.2zM470.8 81.6h1.2v1.2h-1.2zM478.4 81.9h1.2v1.2h-1.2zM464.0 91.1h1.2v1.2h-1.2zM467.7 78.1h1.2v1.2h-1.2zM456.1 73.9h1.2v1.2h-1.2zM449.6 83.3h1.2v1.2h-1.2zM475.0 87.0h1.2v1.2h-1.2zM477.3 82.5h1.2v1.2h-1.2zM478.3 84.6h1.2v1.2h-1.2zM491.2 90.3h1.2v1.2h-1.2zM463.1 76.3h1.2v1.2h-1.2zM481.6 78.3h1.2v1.2h-1.2zM473.6 85.0h1.2v1.2h-1.2zM475.6 73.5h1.2v1.2h-1.2zM467.0 75.7h1.2v1.2h-1.2zM456.8 85.6h1.2v1.2h-1.2zM485.7 82.8h1.2v1.2h-1.2zM486.6 77.8h1.2v1.2h-1.2zM466.0 83.6h1.2v1.2h-1.2zM493.1 79.2h1.2v1.2h-1.2zM486.5 81.3h1.2v1.2h-1.2zM456.3 85.5h1.2v1.2h-1.2zM493.8 86.2h1.2v1.2h-1.2zM477.4 73.9h1.2v1.2h-1.2zM453.4 82.0h1.2v1.2h-1.2zM454.8 90.3h1.2v1.2h-1.2zM480.8 72.2h1.2v1.2h-1.2zM441.5 106.4h1.2v1.2h-1.2zM446.2 103.6h1.2v1.2h-1.2zM445.9 106.4h1.2v1.2h-1.2zM439.7 104.6h1.2v1.2h-1.2zM448.9 109.4h1.2v1.2h-1.2zM440.6 104.6h1.2v1.2h-1.2zM442.2 111.9h1.2v1.2h-1.2zM442.3 105.2h1.2v1.2h-1.2zM444.3 108.8h1.2v1.2h-1.2zM442.8 107.4h1.2v1.2h-1.2zM448.3 105.3h1.2v1.2h-1.2zM440.9 109.6h1.2v1.2h-1.2zM444.1 107.8h1.2v1.2h-1.2zM445.0 110.7h1.2v1.2h-1.2zM443.8 108.3h1.2v1.2h-1.2zM446.2 108.2h1.2v1.2h-1.2zM438.1 103.6h1.2v1.2h-1.2zM441.5 106.5h1.2v1.2h-1.2zM444.0 111.0h1.2v1.2h-1.2zM444.5 108.1h1.2v1.2h-1.2zM442.6 108.8h1.2v1.2h-1.2zM442.4 104.2h1.2v1.2h-1.2zM444.9 104.6h1.2v1.2h-1.2zM444.8 109.9h1.2v1.2h-1.2zM446.6 107.1h1.2v1.2h-1.2zM451.1 104.7h1.2v1.2h-1.2zM439.7 107.3h1.2v1.2h-1.2zM448.0 105.0h1.2v1.2h-1.2zM449.4 107.5h1.2v1.2h-1.2zM447.9 102.8h1.2v1.2h-1.2zM447.6 105.5h1.2v1.2h-1.2zM440.6 108.3h1.2v1.2h-1.2zM442.6 105.1h1.2v1.2h-1.2zM445.4 109.1h1.2v1.2h-1.2zM444.3 105.8h1.2v1.2h-1.2zM441.8 107.9h1.2v1.2h-1.2zM446.7 100.0h1.2v1.2h-1.2zM442.6 107.0h1.2v1.2h-1.2zM448.3 103.9h1.2v1.2h-1.2zM443.7 105.2h1.2v1.2h-1.2zM451.3 107.1h1.2v1.2h-1.2zM443.0 114.0h1.2v1.2h-1.2zM442.6 110.8h1.2v1.2h-1.2zM440.4 99.9h1.2v1.2h-1.2zM448.0 103.0h1.2v1.2h-1.2zM442.8 107.3h1.2v1.2h-1.2zM442.4 107.7h1.2v1.2h-1.2zM448.1 106.9h1.2v1.2h-1.2zM445.4 108.6h1.2v1.2h-1.2zM442.7 99.8h1.2v1.2h-1.2zM439.2 106.3h1.2v1.2h-1.2zM449.4 103.3h1.2v1.2h-1.2zM445.3 101.1h1.2v1.2h-1.2zM440.1 103.3h1.2v1.2h-1.2zM445.3 101.3h1.2v1.2h-1.2zM448.1 103.1h1.2v1.2h-1.2zM446.9 107.7h1.2v1.2h-1.2zM442.9 107.2h1.2v1.2h-1.2zM440.3 103.4h1.2v1.2h-1.2zM447.0 103.5h1.2v1.2h-1.2zM444.1 110.5h1.2v1.2h-1.2zM447.6 107.4h1.2v1.2h-1.2zM445.7 107.5h1.2v1.2h-1.2zM443.8 107.0h1.2v1.2h-1.2zM447.4 104.5h1.2v1.2h-1.2zM444.7 105.4h1.2v1.2h-1.2zM441.3 102.0h1.2v1.2h-1.2zM448.4 108.9h1.2v1.2h-1.2zM444.5 108.7h1.2v1.2h-1.2zM446.7 108.1h1.2v1.2h-1.2zM443.8 107.8h1.2v1.2h-1.2zM444.1 106.8h1.2v1.2h-1.2zM442.9 102.2h1.2v1.2h-1.2zM439.3 101.2h1.2v1.2h-1.2zM439.9 104.1h1.2v1.2h-1.2zM437.8 106.5h1.2v1.2h-1.2zM448.6 109.8h1.2v1.2h-1.2zM451.8 102.3h1.2v1.2h-1.2zM446.7 105.4h1.2v1.2h-1.2zM447.3 101.1h1.2v1.2h-1.2zM439.8 103.9h1.2v1.2h-1.2zM441.0 105.0h1.2v1.2h-1.2zM443.9 112.4h1.2v1.2h-1.2zM444.5 102.3h1.2v1.2h-1.2zM446.5 107.4h1.2v1.2h-1.2zM441.1 104.7h1.2v1.2h-1.2zM444.4 107.3h1.2v1.2h-1.2zM446.5 105.7h1.2v1.2h-1.2zM443.9 106.8h1.2v1.2h-1.2zM442.0 108.3h1.2v1.2h-1.2zM444.9 104.9h1.2v1.2h-1.2zM447.9 103.6h1.2v1.2h-1.2zM438.8 106.2h1.2v1.2h-1.2zM449.4 109.8h1.2v1.2h-1.2zM442.8 108.4h1.2v1.2h-1.2zM444.4 105.3h1.2v1.2h-1.2zM440.9 104.8h1.2v1.2h-1.2zM445.5 103.6h1.2v1.2h-1.2zM445.4 97.7h1.2v1.2h-1.2zM446.4 109.8h1.2v1.2h-1.2zM442.5 103.5h1.2v1.2h-1.2zM443.2 104.7h1.2v1.2h-1.2zM443.4 110.2h1.2v1.2h-1.2zM445.1 107.1h1.2v1.2h-1.2zM439.2 106.9h1.2v1.2h-1.2zM483.9 102.5h1.2v1.2h-1.2zM474.8 105.6h1.2v1.2h-1.2zM459.7 103.9h1.2v1.2h-1.2zM484.3 105.5h1.2v1.2h-1.2zM474.2 107.8h1.2v1.2h-1.2zM467.7 102.5h1.2v1.2h-1.2zM464.8 105.8h1.2v1.2h-1.2zM490.7 108.5h1.2v1.2h-1.2zM449.0 103.1h1.2v1.2h-1.2zM469.8 109.6h1.2v1.2h-1.2zM471.8 105.4h1.2v1.2h-1.2zM489.5 100.5h1.2v1.2h-1.2zM467.8 104.1h1.2v1.2h-1.2zM465.4 106.6h1.2v1.2h-1.2zM473.2 109.3h1.2v1.2h-1.2zM462.3 101.9h1.2v1.2h-1.2zM467.1 100.9h1.2v1.2h-1.2zM452.8 105.9h1.2v1.2h-1.2zM448.8 107.9h1.2v1.2h-1.2zM455.2 110.1h1.2v1.2h-1.2zM488.5 103.8h1.2v1.2h-1.2zM460.1 106.3h1.2v1.2h-1.2zM485.1 104.6h1.2v1.2h-1.2zM468.0 108.7h1.2v1.2h-1.2zM478.9 106.4h1.2v1.2h-1.2zM481.0 106.1h1.2v1.2h-1.2zM491.1 105.9h1.2v1.2h-1.2zM479.8 101.2h1.2v1.2h-1.2zM456.9 97.6h1.2v1.2h-1.2zM467.0 102.2h1.2v1.2h-1.2zM483.3 109.8h1.2v1.2h-1.2zM466.2 104.2h1.2v1.2h-1.2zM472.8 107.4h1.2v1.2h-1.2zM469.3 106.4h1.2v1.2h-1.2zM479.2 105.6h1.2v1.2h-1.2zM461.9 105.7h1.2v1.2h-1.2zM452.0 104.2h1.2v1.2h-1.2zM480.8 106.8h1.2v1.2h-1.2zM464.9 111.4h1.2v1.2h-1.2zM455.0 103.2h1.2v1.2h-1.2zM478.6 102.8h1.2v1.2h-1.2zM477.7 104.0h1.2v1.2h-1.2zM453.8 105.3h1.2v1.2h-1.2zM482.8 106.7h1.2v1.2h-1.2zM485.1 103.3h1.2v1.2h-1.2zM479.7 102.2h1.2v1.2h-1.2z" fill="#111" fill-opacity="0.28"/>
<path d="M444.1 76.8h1.2v1.2h-1.2zM437.4 78.8h1.2v1.2h-1.2zM444.4 86.3h1.2v1.2h-1.2zM448.1 86.8h1.2v1.2h-1.2zM442.6 81.2h1.2v1.2h-1.2zM448.3 83.0h1.2v1.2h-1.2zM445.9 81.1h1.2v1.2h-1.2zM446.2 83.9h1.2v1.2h-1.2zM444.9 89.5h1.2v1.2h-1.2zM448.9 81.7h1.2v1.2h-1.2zM443.0 77.7h1.2v1.2h-1.2zM445.5 85.5h1.2v1.2h-1.2zM441.4 79.1h1.2v1.2h-1.2zM444.6 80.7h1.2v1.2h-1.2zM443.3 85.4h1.2v1.2h-1.2zM442.7 72.6h1.2v1.2h-1.2zM443.2 77.0h1.2v1.2h-1.2zM442.8 70.6h1.2v1.2h-1.2zM444.6 84.9h1.2v1.2h-1.2zM453.6 75.2h1.2v1.2h-1.2zM442.3 83.3h1.2v1.2h-1.2zM448.5 84.4h1.2v1.2h-1.2zM445.4 71.1h1.2v1.2h-1.2zM443.5 80.9h1.2v1.2h-1.2zM447.8 75.8h1.2v1.2h-1.2zM442.8 85.6h1.2v1.2h-1.2zM447.7 78.1h1.2v1.2h-1.2zM451.2 87.3h1.2v1.2h-1.2zM442.6 85.8h1.2v1.2h-1.2zM446.4 78.0h1.2v1.2h-1.2zM446.5 82.0h1.2v1.2h-1.2zM442.6 81.6h1.2v1.2h-1.2zM447.9 77.2h1.2v1.2h-1.2zM446.2 80.7h1.2v1.2h-1.2zM453.1 84.2h1.2v1.2h-1.2zM443.5 82.1h1.2v1.2h-1.2zM445.0 79.5h1.2v1.2h-1.2zM446.9 89.8h1.2v1.2h-1.2zM444.3 68.0h1.2v1.2h-1.2zM442.3 81.8h1.2v1.2h-1.2zM443.3 81.1h1.2v1.2h-1.2zM448.0 86.6h1.2v1.2h-1.2zM454.2 89.9h1.2v1.2h-1.2zM450.7 76.0h1.2v1.2h-1.2zM447.1 84.2h1.2v1.2h-1.2zM447.8 89.8h1.2v1.2h-1.2zM443.7 90.0h1.2v1.2h-1.2zM446.0 90.4h1.2v1.2h-1.2zM447.0 81.5h1.2v1.2h-1.2zM444.8 90.3h1.2v1.2h-1.2zM449.4 86.1h1.2v1.2h-1.2zM449.6 83.0h1.2v1.2h-1.2zM442.4 82.4h1.2v1.2h-1.2zM441.4 83.6h1.2v1.2h-1.2zM443.0 90.7h1.2v1.2h-1.2zM445.6 88.9h1.2v1.2h-1.2zM444.6 90.3h1.2v1.2h-1.2zM450.0 80.2h1.2v1.2h-1.2zM440.7 76.6h1.2v1.2h-1.2zM442.7 85.7h1.2v1.2h-1.2zM441.2 84.5h1.2v1.2h-1.2zM442.4 71.8h1.2v1.2h-1.2zM444.8 73.4h1.2v1.2h-1.2zM446.8 91.9h1.2v1.2h-1.2zM448.3 89.5h1.2v1.2h-1.2zM446.0 78.7h1.2v1.2h-1.2zM441.8 79.2h1.2v1.2h-1.2zM448.2 88.0h1.2v1.2h-1.2zM442.5 94.8h1.2v1.2h-1.2zM447.5 93.2h1.2v1.2h-1.2zM446.5 92.6h1.2v1.2h-1.2zM442.9 81.8h1.2v1.2h-1.2zM437.8 93.3h1.2v1.2h-1.2zM446.0 87.2h1.2v1.2h-1.2zM445.1 88.6h1.2v1.2h-1.2zM449.5 89.5h1.2v1.2h-1.2zM438.3 91.3h1.2v1.2h-1.2zM445.0 98.3h1.2v1.2h-1.2zM441.6 91.8h1.2v1.2h-1.2zM449.7 94.5h1.2v1.2h-1.2zM449.8 86.6h1.2v1.2h-1.2zM451.9 95.6h1.2v1.2h-1.2zM443.6 104.9h1.2v1.2h-1.2zM438.5 84.3h1.2v1.2h-1.2zM442.0 96.1h1.2v1.2h-1.2zM444.5 88.0h1.2v1.2h-1.2zM445.0 93.3h1.2v1.2h-1.2zM446.6 91.9h1.2v1.2h-1.2zM448.9 88.9h1.2v1.2h-1.2zM447.4 93.7h1.2v1.2h-1.2zM447.5 84.6h1.2v1.2h-1.2zM449.2 89.1h1.2v1.2h-1.2zM447.6 97.7h1.2v1.2h-1.2zM446.8 92.2h1.2v1.2h-1.2zM443.7 94.2h1.2v1.2h-1.2zM447.5 92.2h1.2v1.2h-1.2zM443.1 92.6h1.2v1.2h-1.2zM452.4 90.0h1.2v1.2h-1.2zM444.0 83.3h1.2v1.2h-1.2zM447.9 85.7h1.2v1.2h-1.2zM442.8 83.3h1.2v1.2h-1.2zM445.3 93.7h1.2v1.2h-1.2zM484.4 80.9h1.2v1.2h-1.2zM458.9 81.9h1.2v1.2h-1.2zM459.4 91.2h1.2v1.2h-1.2zM454.0 88.0h1.2v1.2h-1.2zM478.2 89.0h1.2v1.2h-1.2zM479.8 82.6h1.2v1.2h-1.2zM478.8 82.9h1.2v1.2h-1.2zM475.4 79.4h1.2v1.2h-1.2zM488.8 77.2h1.2v1.2h-1.2zM478.8 85.2h1.2v1.2h-1.2zM474.9 83.4h1.2v1.2h-1.2zM469.7 75.9h1.2v1.2h-1.2zM467.8 82.7h1.2v1.2h-1.2zM494.9 80.1h1.2v1.2h-1.2zM467.3 87.1h1.2v1.2h-1.2zM478.3 80.0h1.2v1.2h-1.2zM470.4 83.0h1.2v1.2h-1.2zM457.8 79.5h1.2v1.2h-1.2zM483.4 76.7h1.2v1.2h-1.2zM485.6 82.7h1.2v1.2h-1.2zM472.2 78.9h1.2v1.2h-1.2zM473.6 75.1h1.2v1.2h-1.2zM481.9 75.6h1.2v1.2h-1.2zM463.9 77.9h1.2v1.2h-1.2zM469.6 84.8h1.2v1.2h-1.2zM461.9 79.2h1.2v1.2h-1.2zM459.2 80.2h1.2v1.2h-1.2zM459.1 83.2h1.2v1.2h-1.2zM468.9 80.4h1.2v1.2h-1.2zM473.9 76.3h1.2v1.2h-1.2zM480.0 88.6h1.2v1.2h-1.2zM468.3 88.5h1.2v1.2h-1.2zM479.2 77.7h1.2v1.2h-1.2zM465.0 78.2h1.2v1.2h-1.2zM459.7 82.3h1.2v1.2h-1.2zM472.8 86.8h1.2v1.2h-1.2zM476.7 93.6h1.2v1.2h-1.2zM456.3 77.0h1.2v1.2h-1.2zM471.1 79.0h1.2v1.2h-1.2zM463.8 75.7h1.2v1.2h-1.2zM462.8 78.8h1.2v1.2h-1.2zM481.0 82.2h1.2v1.2h-1.2zM459.1 82.5h1.2v1.2h-1.2zM459.2 86.5h1.2v1.2h-1.2zM474.8 83.3h1.2v1.2h-1.2zM477.3 85.1h1.2v1.2h-1.2zM481.8 71.8h1.2v1.2h-1.2zM478.1 78.7h1.2v1.2h-1.2zM456.7 83.5h1.2v1.2h-1.2zM479.2 82.6h1.2v1.2h-1.2zM477.6 90.4h1.2v1.2h-1.2zM495.4 90.3h1.2v1.2h-1.2zM462.9 82.6h1.2v1.2h-1.2zM468.0 86.1h1.2v1.2h-1.2zM462.4 74.7h1.2v1.2h-1.2zM472.5 74.7h1.2v1.2h-1.2zM476.7 78.2h1.2v1.2h-1.2zM454.3 85.4h1.2v1.2h-1.2zM472.3 83.1h1.2v1.2h-1.2zM471.9 86.0h1.2v1.2h-1.2zM459.9 84.8h1.2v1.2h-1.2zM475.2 91.1h1.2v1.2h-1.2zM486.6 91.8h1.2v1.2h-1.2zM486.1 88.6h1.2v1.2h-1.2zM474.0 85.6h1.2v1.2h-1.2zM466.8 86.3h1.2v1.2h-1.2zM484.0 77.3h1.2v1.2h-1.2zM499.7 83.6h1.2v1.2h-1.2zM459.4 81.4h1.2v1.2h-1.2zM464.6 94.8h1.2v1.2h-1.2zM469.4 79.7h1.2v1.2h-1.2zM466.1 80.2h1.2v1.2h-1.2zM489.2 83.9h1.2v1.2h-1.2zM456.6 85.9h1.2v1.2h-1.2zM479.6 76.8h1.2v1.2h-1.2zM461.6 84.8h1.2v1.2h-1.2zM477.3 84.4h1.2v1.2h-1.2zM471.6 85.7h1.2v1.2h-1.2zM464.7 91.0h1.2v1.2h-1.2zM476.5 87.4h1.2v1.2h-1.2zM455.1 68.8h1.2v1.2h-1.2zM447.1 101.1h1.2v1.2h-1.2zM448.2 104.4h1.2v1.2h-1.2zM445.1 104.1h1.2v1.2h-1.2zM447.2 102.4h1.2v1.2h-1.2zM445.5 112.4h1.2v1.2h-1.2zM447.7 108.3h1.2v1.2h-1.2zM448.0 103.5h1.2v1.2h-1.2zM445.9 103.8h1.2v1.2h-1.2zM443.5 105.5h1.2v1.2h-1.2zM441.7 107.1h1.2v1.2h-1.2zM446.5 108.1h1.2v1.2h-1.2zM444.0 108.8h1.2v1.2h-1.2zM450.9 103.1h1.2v1.2h-1.2zM442.3 102.8h1.2v1.2h-1.2zM445.4 103.8h1.2v1.2h-1.2zM442.6 106.3h1.2v1.2h-1.2zM445.6 106.9h1.2v1.2h-1.2zM443.0 105.0h1.2v1.2h-1.2zM445.0 108.3h1.2v1.2h-1.2zM442.3 103.6h1.2v1.2h-1.2zM448.9 102.2h1.2v1.2h-1.2zM446.2 106.2h1.2v1.2h-1.2zM447.6 105.1h1.2v1.2h-1.2zM445.9 109.8h1.2v1.2h-1.2zM439.6 100.0h1.2v1.2h-1.2zM444.6 102.5h1.2v1.2h-1.2zM445.7 108.3h1.2v1.2h-1.2zM446.7 110.1h1.2v1.2h-1.2zM451.4 105.3h1.2v1.2h-1.2zM439.7 101.4h1.2v1.2h-1.2zM447.5 108.5h1.2v1.2h-1.2zM441.9 104.9h1.2v1.2h-1.2zM442.0 111.3h1.2v1.2h-1.2zM446.7 107.2h1.2v1.2h-1.2zM446.1 105.5h1.2v1.2h-1.2zM445.7 105.7h1.2v1.2h-1.2zM445.3 104.5h1.2v1.2h-1.2zM441.9 104.0h1.2v1.2h-1.2zM448.5 104.2h1.2v1.2h-1.2zM445.8 107.7h1.2v1.2h-1.2zM448.1 104.2h1.2v1.2h-1.2zM443.7 103.8h1.2v1.2h-1.2zM442.2 105.7h1.2v1.2h-1.2zM443.0 106.2h1.2v1.2h-1.2zM446.1 104.1h1.2v1.2h-1.2zM440.0 100.3h1.2v1.2h-1.2zM445.9 108.0h1.2v1.2h-1.2zM441.1 111.0h1.2v1.2h-1.2zM445.1 103.7h1.2v1.2h-1.2zM444.1 106.9h1.2v1.2h-1.2zM449.1 103.3h1.2v1.2h-1.2zM442.9 100.6h1.2v1.2h-1.2zM441.6 102.2h1.2v1.2h-1.2zM448.1 111.3h1.2v1.2h-1.2zM453.5 101.4h1.2v1.2h-1.2zM441.7 102.5h1.2v1.2h-1.2zM443.0 104.0h1.2v1.2h-1.2zM440.7 105.5h1.2v1.2h-1.2zM442.5 108.5h1.2v1.2h-1.2zM443.0 107.0h1.2v1.2h-1.2zM443.5 102.0h1.2v1.2h-1.2zM441.7 102.1h1.2v1.2h-1.2zM441.0 107.8h1.2v1.2h-1.2zM443.2 105.3h1.2v1.2h-1.2zM446.5 102.8h1.2v1.2h-1.2zM444.5 107.0h1.2v1.2h-1.2zM444.9 101.1h1.2v1.2h-1.2zM451.3 107.0h1.2v1.2h-1.2zM446.2 106.0h1.2v1.2h-1.2zM442.7 107.0h1.2v1.2h-1.2zM443.7 107.5h1.2v1.2h-1.2zM444.2 101.9h1.2v1.2h-1.2zM442.7 106.0h1.2v1.2h-1.2zM452.1 105.8h1.2v1.2h-1.2zM449.4 107.2h1.2v1.2h-1.2zM441.0 106.9h1.2v1.2h-1.2zM442.7 102.0h1.2v1.2h-1.2zM448.3 106.3h1.2v1.2h-1.2zM444.0 106.5h1.2v1.2h-1.2zM491.7 108.3h1.2v1.2h-1.2zM477.2 102.1h1.2v1.2h-1.2zM495.0 104.8h1.2v1.2h-1.2zM469.3 105.2h1.2v1.2h-1.2zM471.8 106.7h1.2v1.2h-1.2zM474.2 102.9h1.2v1.2h-1.2zM467.7 105.9h1.2v1.2h-1.2zM466.1 105.9h1.2v1.2h-1.2zM463.3 106.9h1.2v1.2h-1.2zM478.1 109.8h1.2v1.2h-1.2zM450.7 104.3h1.2v1.2h-1.2zM456.5 112.8h1.2v1.2h-1.2zM460.8 111.6h1.2v1.2h-1.2zM475.0 106.0h1.2v1.2h-1.2zM464.0 102.5h1.2v1.2h-1.2zM456.7 102.6h1.2v1.2h-1.2zM464.4 103.8h1.2v1.2h-1.2zM473.8 107.0h1.2v1.2h-1.2zM450.6 102.9h1.2v1.2h-1.2zM479.3 103.0h1.2v1.2h-1.2zM489.6 104.9h1.2v1.2h-1.2zM472.3 102.2h1.2v1.2h-1.2zM480.6 108.8h1.2v1.2h-1.2zM462.6 110.9h1.2v1.2h-1.2zM474.5 100.1h1.2v1.2h-1.2zM480.3 106.8h1.2v1.2h-1.2zM468.6 105.1h1.2v1.2h-1.2zM453.6 103.7h1.2v1.2h-1.2zM495.0 105.0h1.2v1.2h-1.2zM459.1 104.3h1.2v1.2h-1.2zM454.7 111.3h1.2v1.2h-1.2zM483.2 103.7h1.2v1.2h-1.2zM462.8 108.6h1.2v1.2h-1.2zM461.0 104.9h1.2v1.2h-1.2zM457.8 103.2h1.2v1.2h-1.2zM477.5 108.3h1.2v1.2h-1.2zM457.7 105.8h1.2v1.2h-1.2zM461.3 109.9h1.2v1.2h-1.2zM483.7 107.4h1.2v1.2h-1.2zM476.5 107.8h1.2v1.2h-1.2zM483.3 108.0h1.2v1.2h-1.2zM460.0 103.9h1.2v1.2h-1.2zM482.0 98.7h1.2v1.2h-1.2zM452.4 110.5h1.2v1.2h-1.2zM444.7 104.3h1.2v1.2h-1.2zM461.0 105.3h1.2v1.2h-1.2zM480.0 107.7h1.2v1.2h-1.2zM477.5 107.2h1.2v1.2h-1.2zM472.6 102.4h1.2v1.2h-1.2zM485.8 107.1h1.2v1.2h-1.2zM480.9 103.9h1.2v1.2h-1.2z" fill="#111" fill-opacity="0.28"/>
<path d="M451.4 90.3h1.2v1.2h-1.2zM445.9 86.5h1.2v1.2h-1.2zM440.1 76.2h1.2v1.2h-1.2zM449.1 72.2h1.2v1.2h-1.2zM441.9 82.2h1.2v1.2h-1.2zM449.2 78.7h1.2v1.2h-1.2zM448.8 82.8h1.2v1.2h-1.2zM447.6 78.9h1.2v1.2h-1.2zM444.9 71.1h1.2v1.2h-1.2zM437.5 79.8h1.2v1.2h-1.2zM445.7 85.2h1.2v1.2h-1.2zM446.7 79.8h1.2v1.2h-1.2zM445.1 83.4h1.2v1.2h-1.2zM445.7 90.8h1.2v1.2h-1.2zM443.3 91.6h1.2v1.2h-1.2zM442.4 75.7h1.2v1.2h-1.2zM446.7 89.6h1.2v1.2h-1.2zM444.5 82.0h1.2v1.2h-1.2zM440.9 81.8h1.2v1.2h-1.2zM438.5 87.3h1.2v1.2h-1.2zM448.6 91.1h1.2v1.2h-1.2zM447.7 82.8h1.2v1.2h-1.2zM442.2 73.1h1.2v1.2h-1.2zM446.6 86.4h1.2v1.2h-1.2zM445.9 78.4h1.2v1.2h-1.2zM452.0 73.5h1.2v1.2h-1.2zM441.8 80.8h1.2v1.2h-1.2zM447.2 78.3h1.2v1.2h-1.2zM450.0 82.2h1.2v1.2h-1.2zM441.2 77.7h1.2v1.2h-1.2zM447.7 98.1h1.2v1.2h-1.2zM439.6 78.6h1.2v1.2h-1.2zM447.6 67.9h1.2v1.2h-1.2zM448.0 77.4h1.2v1.2h-1.2zM448.3 79.6h1.2v1.2h-1.2zM440.7 88.0h1.2v1.2h-1.2zM450.5 80.6h1.2v1.2h-1.2zM448.2 84.8h1.2v1.2h-1.2zM448.2 87.5h1.2v1.2h-1.2zM439.1 78.4h1.2v1.2h-1.2zM448.0 79.5h1.2v1.2h-1.2zM449.9 82.6h1.2v1.2h-1.2zM443.7 78.5h1.2v1.2h-1.2zM446.8 86.0h1.2v1.2h-1.2zM441.4 83.4h1.2v1.2h-1.2zM447.0 82.1h1.2v1.2h-1.2zM452.8 80.8h1.2v1.2h-1.2zM439.9 83.2h1.2v1.2h-1.2zM451.8 75.7h1.2v1.2h-1.2zM445.3 89.3h1.2v1.2h-1.2zM446.5 76.8h1.2v1.2h-1.2zM445.8 79.1h1.2v1.2h-1.2zM446.4 88.5h1.2v1.2h-1.2zM438.9 84.7h1.2v1.2h-1.2zM445.1 76.7h1.2v1.2h-1.2zM445.9 83.7h1.2v1.2h-1.2zM445.2 96.6h1.2v1.2h-1.2zM447.2 74.3h1.2v1.2h-1.2zM444.0 83.8h1.2v1.2h-1.2zM447.4 77.6h1.2v1.2h-1.2zM442.2 71.9h1.2v1.2h-1.2zM451.4 70.1h1.2v1.2h-1.2zM446.5 80.8h1.2v1.2h-1.2zM445.9 74.4h1.2v1.2h-1.2zM446.3 90.0h1.2v1.2h-1.2zM446.6 77.4h1.2v1.2h-1.2zM442.0 79.6h1.2v1.2h-1.2zM443.4 91.4h1.2v1.2h-1.2zM444.2 68.2h1.2v1.2h-1.2zM443.6 90.2h1.2v1.2h-1.2zM441.4 88.6h1.2v1.2h-1.2zM455.6 84.1h1.2v1.2h-1.2zM444.1 100.7h1.2v1.2h-1.2zM443.1 77.5h1.2v1.2h-1.2zM444.9 82.7h1.2v1.2h-1.2zM444.8 86.9h1.2v1.2h-1.2zM443.5 88.4h1.2v1.2h-1.2zM441.0 93.2h1.2v1.2h-1.2zM439.5 91.4h1.2v1.2h-1.2zM444.6 84.8h1.2v1.2h-1.2zM447.1 91.4h1.2v1.2h-1.2zM442.0 91.3h1.2v1.2h-1.2zM448.1 95.3h1.2v1.2h-1.2zM445.0 94.8h1.2v1.2h-1.2zM449.2 85.8h1.2v1.2h-1.2zM446.5 88.1h1.2v1.2h-1.2zM444.8 97.9h1.2v1.2h-1.2zM444.2 92.9h1.2v1.2h-1.2zM440.3 92.2h1.2v1.2h-1.2zM446.6 91.4h1.2v1.2h-1.2zM445.6 90.5h1.2v1.2h-1.2zM447.9 93.4h1.2v1.2h-1.2zM440.8 85.8h1.2v1.2h-1.2zM444.3 91.1h1.2v1.2h-1.2zM447.3 84.9h1.2v1.2h-1.2zM445.7 91.5h1.2v1.2h-1.2zM446.7 91.4h1.2v1.2h-1.2zM443.1 86.3h1.2v1.2h-1.2zM443.6 95.8h1.2v1.2h-1.2zM445.3 87.1h1.2v1.2h-1.2zM448.1 95.5h1.2v1.2h-1.2zM445.1 97.8h1.2v1.2h-1.2zM447.3 90.9h1.2v1.2h-1.2zM442.4 93.0h1.2v1.2h-1.2zM447.9 85.4h1.2v1.2h-1.2zM478.7 80.3h1.2v1.2h-1.2zM472.9 82.7h1.2v1.2h-1.2zM473.1 78.9h1.2v1.2h-1.2zM480.5 87.3h1.2v1.2h-1.2zM477.2 80.3h1.2v1.2h-1.2zM474.8 79.1h1.2v1.2h-1.2zM466.3 85.5h1.2v1.2h-1.2zM473.1 88.3h1.2v1.2h-1.2zM464.8 81.1h1.2v1.2h-1.2zM463.6 77.0h1.2v1.2h-1.2zM438.6 82.9h1.2v1.2h-1.2zM471.1 79.8h1.2v1.2h-1.2zM469.8 84.3h1.2v1.2h-1.2zM460.7 78.7h1.2v1.2h-1.2zM472.9 86.0h1.2v1.2h-1.2zM477.5 84.0h1.2v1.2h-1.2zM469.0 84.9h1.2v1.2h-1.2zM480.1 84.5h1.2v1.2h-1.2zM458.4 81.2h1.2v1.2h-1.2zM469.4 86.6h1.2v1.2h-1.2zM476.2 84.5h1.2v1.2h-1.2zM466.7 91.1h1.2v1.2h-1.2zM484.1 88.4h1.2v1.2h-1.2zM462.1 85.1h1.2v1.2h-1.2zM472.4 89.8h1.2v1.2h-1.2zM442.5 89.7h1.2v1.2h-1.2zM460.2 76.9h1.2v1.2h-1.2zM468.9 89.6h1.2v1.2h-1.2zM468.4 81.1h1.2v1.2h-1.2zM481.1 79.9h1.2v1.2h-1.2zM468.5 84.1h1.2v1.2h-1.2zM465.6 77.3h1.2v1.2h-1.2zM469.5 88.4h1.2v1.2h-1.2zM454.2 83.2h1.2v1.2h-1.2zM465.3 78.0h1.2v1.2h-1.2zM479.8 83.9h1.2v1.2h-1.2zM468.4 86.0h1.2v1.2h-1.2zM456.2 84.8h1.2v1.2h-1.2zM455.0 83.9h1.2v1.2h-1.2zM473.3 88.0h1.2v1.2h-1.2zM457.2 87.5h1.2v1.2h-1.2zM471.3 73.8h1.2v1.2h-1.2zM483.6 95.3h1.2v1.2h-1.2zM487.9 87.1h1.2v1.2h-1.2zM474.5 94.1h1.2v1.2h-1.2zM483.4 81.7h1.2v1.2h-1.2zM469.0 89.7h1.2v1.2h-1.2zM454.7 88.0h1.2v1.2h-1.2zM480.5 78.3h1.2v1.2h-1.2zM485.1 79.8h1.2v1.2h-1.2zM459.4 82.7h1.2v1.2h-1.2zM454.0 90.2h1.2v1.2h-1.2zM478.6 87.2h1.2v1.2h-1.2zM475.4 88.3h1.2v1.2h-1.2zM478.8 82.4h1.2v1.2h-1.2zM474.6 86.2h1.2v1.2h-1.2zM470.5 80.1h1.2v1.2h-1.2zM488.1 84.2h1.2v1.2h-1.2zM483.4 83.7h1.2v1.2h-1.2zM474.2 79.2h1.2v1.2h-1.2zM500.4 70.7h1.2v1.2h-1.2zM444.4 74.5h1.2v1.2h-1.2zM488.6 86.3h1.2v1.2h-1.2zM470.8 70.3h1.2v1.2h-1.2zM476.0 94.5h1.2v1.2h-1.2zM452.4 74.6h1.2v1.2h-1.2zM447.2 105.9h1.2v1.2h-1.2zM445.1 108.0h1.2v1.2h-1.2zM441.2 102.4h1.2v1.2h-1.2zM443.5 107.0h1.2v1.2h-1.2zM443.8 102.6h1.2v1.2h-1.2zM450.9 108.4h1.2v1.2h-1.2zM442.8 103.9h1.2v1.2h-1.2zM442.4 107.4h1.2v1.2h-1.2zM448.8 107.2h1.2v1.2h-1.2zM444.7 108.5h1.2v1.2h-1.2zM449.7 109.0h1.2v1.2h-1.2zM444.5 106.5h1.2v1.2h-1.2zM444.5 105.1h1.2v1.2h-1.2zM443.0 102.3h1.2v1.2h-1.2zM444.1 103.2h1.2v1.2h-1.2zM444.1 101.7h1.2v1.2h-1.2zM440.3 107.5h1.2v1.2h-1.2zM444.0 103.1h1.2v1.2h-1.2zM447.6 104.0h1.2v1.2h-1.2zM446.1 107.9h1.2v1.2h-1.2zM447.6 111.8h1.2v1.2h-1.2zM441.6 106.0h1.2v1.2h-1.2zM449.8 107.6h1.2v1.2h-1.2zM447.3 107.8h1.2v1.2h-1.2zM445.0 99.4h1.2v1.2h-1.2zM447.0 105.9h1.2v1.2h-1.2zM448.1 105.6h1.2v1.2h-1.2zM444.3 106.2h1.2v1.2h-1.2zM441.3 111.3h1.2v1.2h-1.2zM444.4 105.6h1.2v1.2h-1.2zM445.5 105.1h1.2v1.2h-1.2zM449.3 104.8h1.2v1.2h-1.2zM443.2 104.1h1.2v1.2h-1.2zM447.9 107.4h1.2v1.2h-1.2zM443.3 101.5h1.2v1.2h-1.2zM447.2 103.7h1.2v1.2h-1.2zM445.9 104.9h1.2v1.2h-1.2zM448.4 107.0h1.2v1.2h-1.2zM444.7 109.2h1.2v1.2h-1.2zM446.6 103.5h1.2v1.2h-1.2zM444.0 108.4h1.2v1.2h-1.2zM444.6 105.6h1.2v1.2h-1.2zM443.1 105.0h1.2v1.2h-1.2zM447.0 108.9h1.2v1.2h-1.2zM444.4 102.3h1.2v1.2h-1.2zM444.5 106.7h1.2v1.2h-1.2zM443.8 106.6h1.2v1.2h-1.2zM445.6 102.9h1.2v1.2h-1.2zM446.9 102.7h1.2v1.2h-1.2zM448.6 104.6h1.2v1.2h-1.2zM442.1 104.6h1.2v1.2h-1.2zM444.7 104.1h1.2v1.2h-1.2zM448.3 104.6h1.2v1.2h-1.2zM448.1 107.1h1.2v1.2h-1.2zM444.1 101.9h1.2v1.2h-1.2zM445.7 103.9h1.2v1.2h-1.2zM441.8 108.0h1.2v1.2h-1.2zM443.9 100.1h1.2v1.2h-1.2zM445.4 100.0h1.2v1.2h-1.2zM442.4 102.1h1.2v1.2h-1.2zM439.3 109.8h1.2v1.2h-1.2zM439.5 106.2h1.2v1.2h-1.2zM448.9 110.9h1.2v1.2h-1.2zM446.8 104.4h1.2v1.2h-1.2zM443.6 104.7h1.2v1.2h-1.2zM443.6 104.5h1.2v1.2h-1.2zM442.1 107.1h1.2v1.2h-1.2zM445.9 98.6h1.2v1.2h-1.2zM446.4 104.7h1.2v1.2h-1.2zM445.8 102.5h1.2v1.2h-1.2zM438.6 107.0h1.2v1.2h-1.2zM442.2 104.6h1.2v1.2h-1.2zM444.2 108.2h1.2v1.2h-1.2zM449.9 104.2h1.2v1.2h-1.2zM447.3 107.5h1.2v1.2h-1.2zM439.7 101.3h1.2v1.2h-1.2zM443.8 103.0h1.2v1.2h-1.2zM489.7 106.9h1.2v1.2h-1.2zM469.5 103.8h1.2v1.2h-1.2zM496.6 104.2h1.2v1.2h-1.2zM448.6 109.9h1.2v1.2h-1.2zM462.2 110.3h1.2v1.2h-1.2zM451.7 107.7h1.2v1.2h-1.2zM469.6 103.2h1.2v1.2h-1.2zM484.1 102.7h1.2v1.2h-1.2zM463.2 106.4h1.2v1.2h-1.2zM459.0 109.3h1.2v1.2h-1.2zM468.8 108.4h1.2v1.2h-1.2zM481.3 103.5h1.2v1.2h-1.2zM466.9 109.4h1.2v1.2h-1.2zM468.6 103.8h1.2v1.2h-1.2zM456.0 106.1h1.2v1.2h-1.2zM449.2 105.1h1.2v1.2h-1.2zM464.1 105.7h1.2v1.2h-1.2zM464.8 106.4h1.2v1.2h-1.2zM470.9 103.9h1.2v1.2h-1.2zM476.9 108.2h1.2v1.2h-1.2zM467.1 109.7h1.2v1.2h-1.2zM475.3 104.2h1.2v1.2h-1.2zM461.6 107.3h1.2v1.2h-1.2zM482.4 103.8h1.2v1.2h-1.2zM480.5 106.9h1.2v1.2h-1.2zM460.5 110.5h1.2v1.2h-1.2zM461.5 103.9h1.2v1.2h-1.2zM484.6 96.6h1.2v1.2h-1.2zM473.6 101.0h1.2v1.2h-1.2zM479.5 107.7h1.2v1.2h-1.2zM471.1 104.3h1.2v1.2h-1.2zM485.9 103.1h1.2v1.2h-1.2zM458.1 104.4h1.2v1.2h-1.2zM459.9 107.7h1.2v1.2h-1.2zM470.7 109.9h1.2v1.2h-1.2zM480.5 107.7h1.2v1.2h-1.2zM470.6 106.2h1.2v1.2h-1.2zM467.9 102.7h1.2v1.2h-1.2zM473.6 109.3h1.2v1.2h-1.2zM457.9 104.8h1.2v1.2h-1.2zM466.3 107.3h1.2v1.2h-1.2zM476.1 106.0h1.2v1.2h-1.2zM479.0 111.6h1.2v1.2h-1.2zM489.9 101.7h1.2v1.2h-1.2zM481.0 110.2h1.2v1.2h-1.2zM468.2 101.4h1.2v1.2h-1.2zM481.3 108.4h1.2v1.2h-1.2zM471.0 104.3h1.2v1.2h-1.2zM457.9 109.6h1.2v1.2h-1.2zM473.8 100.2h1.2v1.2h-1.2zM477.5 100.7h1.2v1.2h-1.2zM468.1 103.5h1.2v1.2h-1.2zM460.7 105.8h1.2v1.2h-1.2zM469.4 108.9h1.2v1.2h-1.2zM468.5 106.0h1.2v1.2h-1.2zM459.8 106.5h1.2v1.2h-1.2zM443.3 107.5h1.2v1.2h-1.2zM469.8 105.0h1.2v1.2h-1.2zM474.1 106.2h1.2v1.2h-1.2zM472.9 103.6h1.2v1.2h-1.2zM478.2 106.5h1.2v1.2h-1.2zM468.6 99.9h1.2v1.2h-1.2z" fill="#111" fill-opacity="0.28"/>
<path d="M447.3 75.2h1.2v1.2h-1.2zM446.3 86.6h1.2v1.2h-1.2zM449.9 82.5h1.2v1.2h-1.2zM453.3 78.4h1.2v1.2h-1.2zM444.6 77.9h1.2v1.2h-1.2zM451.3 71.9h1.2v1.2h-1.2zM442.7 90.5h1.2v1.2h-1.2zM448.5 83.1h1.2v1.2h-1.2zM447.6 97.7h1.2v1.2h-1.2zM444.0 80.6h1.2v1.2h-1.2zM451.7 77.9h1.2v1.2h-1.2zM446.7 71.5h1.2v1.2h-1.2zM439.0 77.8h1.2v1.2h-1.2zM442.3 73.4h1.2v1.2h-1.2zM448.0 83.6h1.2v1.2h-1.2zM443.0 84.4h1.2v1.2h-1.2zM443.7 74.6h1.2v1.2h-1.2zM442.8 79.3h1.2v1.2h-1.2zM447.3 73.6h1.2v1.2h-1.2zM452.3 75.1h1.2v1.2h-1.2zM445.6 79.1h1.2v1.2h-1.2zM448.0 82.8h1.2v1.2h-1.2zM448.9 77.3h1.2v1.2h-1.2zM439.0 88.8h1.2v1.2h-1.2zM448.4 86.7h1.2v1.2h-1.2zM447.4 81.6h1.2v1.2h-1.2zM449.9 82.1h1.2v1.2h-1.2zM445.9 78.1h1.2v1.2h-1.2zM442.3 82.8h1.2v1.2h-1.2zM439.2 89.1h1.2v1.2h-1.2zM441.3 83.8h1.2v1.2h-1.2zM440.3 78.0h1.2v1.2h-1.2zM448.3 80.7h1.2v1.2h-1.2zM441.4 88.2h1.2v1.2h-1.2zM451.6 79.7h1.2v1.2h-1.2zM443.0 85.5h1.2v1.2h-1.2zM442.1 71.8h1.2v1.2h-1.2zM443.9 83.0h1.2v1.2h-1.2zM441.1 81.6h1.2v1.2h-1.2zM450.3 73.6h1.2v1.2h-1.2zM441.0 86.1h1.2v1.2h-1.2zM443.9 76.0h1.2v1.2h-1.2zM442.4 75.2h1.2v1.2h-1.2zM447.2 77.8h1.2v1.2h-1.2zM439.2 79.3h1.2v1.2h-1.2zM450.3 70.4h1.2v1.2h-1.2zM444.1 87.1h1.2v1.2h-1.2zM439.8 83.9h1.2v1.2h-1.2zM446.0 87.2h1.2v1.2h-1.2zM446.9 82.8h1.2v1.2h-1.2zM441.9 81.2h1.2v1.2h-1.2zM439.6 79.6h1.2v1.2h-1.2zM446.3 77.0h1.2v1.2h-1.2zM447.9 84.1h1.2v1.2h-1.2zM445.6 72.9h1.2v1.2h-1.2zM449.3 84.0h1.2v1.2h-1.2zM449.5 87.6h1.2v1.2h-1.2zM443.6 83.9h1.2v1.2h-1.2zM441.2 71.2h1.2v1.2h-1.2zM447.8 92.0h1.2v1.2h-1.2zM442.2 82.6h1.2v1.2h-1.2zM446.8 75.9h1.2v1.2h-1.2zM449.1 78.0h1.2v1.2h-1.2zM451.2 89.6h1.2v1.2h-1.2zM443.6 83.1h1.2v1.2h-1.2zM446.3 80.5h1.2v1.2h-1.2zM439.1 84.2h1.2v1.2h-1.2zM447.3 87.6h1.2v1.2h-1.2zM447.5 98.1h1.2v1.2h-1.2zM444.0 82.4h1.2v1.2h-1.2zM445.9 76.5h1.2v1.2h-1.2zM443.9 87.1h1.2v1.2h-1.2zM454.5 86.5h1.2v1.2h-1.2zM442.2 75.5h1.2v1.2h-1.2zM444.8 82.3h1.2v1.2h-1.2zM444.9 76.7h1.2v1.2h-1.2zM447.6 86.9h1.2v1.2h-1.2zM442.9 81.1h1.2v1.2h-1.2zM445.2 83.6h1.2v1.2h-1.2zM448.9 74.1h1.2v1.2h-1.2zM446.4 75.1h1.2v1.2h-1.2zM447.8 78.0h1.2v1.2h-1.2zM443.0 76.5h1.2v1.2h-1.2zM437.5 72.0h1.2v1.2h-1.2zM446.3 92.8h1.2v1.2h-1.2zM446.4 88.9h1.2v1.2h-1.2zM451.2 95.9h1.2v1.2h-1.2zM450.8 89.6h1.2v1.2h-1.2zM445.3 84.9h1.2v1.2h-1.2zM441.3 92.1h1.2v1.2h-1.2zM445.2 92.6h1.2v1.2h-1.2zM447.1 88.1h1.2v1.2h-1.2zM452.7 84.4h1.2v1.2h-1.2zM441.9 93.5h1.2v1.2h-1.2zM448.1 90.4h1.2v1.2h-1.2zM446.6 84.1h1.2v1.2h-1.2zM444.8 93.8h1.2v1.2h-1.2zM444.5 99.4h1.2v1.2h-1.2zM450.2 91.7h1.2v1.2h-1.2zM453.7 94.1h1.2v1.2h-1.2zM441.1 88.8h1.2v1.2h-1.2zM448.1 87.6h1.2v1.2h-1.2zM437.4 89.9h1.2v1.2h-1.2zM449.6 81.9h1.2v1.2h-1.2zM446.8 86.6h1.2v1.2h-1.2zM441.7 83.4h1.2v1.2h-1.2zM447.8 87.9h1.2v1.2h-1.2zM452.4 93.2h1.2v1.2h-1.2zM447.9 86.6h1.2v1.2h-1.2zM446.2 93.3h1.2v1.2h-1.2zM442.1 97.3h1.2v1.2h-1.2zM438.9 80.8h1.2v1.2h-1.2zM445.0 92.5h1.2v1.2h-1.2zM447.5 82.6h1.2v1.2h-1.2zM440.2 93.5h1.2v1.2h-1.2zM445.5 95.1h1.2v1.2h-1.2zM444.0 85.7h1.2v1.2h-1.2zM446.3 85.4h1.2v1.2h-1.2zM445.5 94.8h1.2v1.2h-1.2zM440.9 90.1h1.2v1.2h-1.2zM439.8 89.0h1.2v1.2h-1.2zM446.4 91.0h1.2v1.2h-1.2zM451.9 101.1h1.2v1.2h-1.2zM444.0 91.1h1.2v1.2h-1.2zM444.4 89.8h1.2v1.2h-1.2zM462.1 78.5h1.2v1.2h-1.2zM480.6 87.0h1.2v1.2h-1.2zM453.6 73.8h1.2v1.2h-1.2zM472.9 74.3h1.2v1.2h-1.2zM486.7 85.4h1.2v1.2h-1.2zM482.5 76.5h1.2v1.2h-1.2zM463.6 77.8h1.2v1.2h-1.2zM466.7 82.4h1.2v1.2h-1.2zM457.5 79.2h1.2v1.2h-1.2zM479.0 92.8h1.2v1.2h-1.2zM470.1 77.9h1.2v1.2h-1.2zM481.4 83.4h1.2v1.2h-1.2zM472.3 83.0h1.2v1.2h-1.2zM468.8 79.4h1.2v1.2h-1.2zM447.6 86.3h1.2v1.2h-1.2zM474.8 87.8h1.2v1.2h-1.2zM470.7 88.2h1.2v1.2h-1.2zM489.0 86.6h1.2v1.2h-1.2zM490.7 76.3h1.2v1.2h-1.2zM467.5 75.0h1.2v1.2h-1.2zM472.6 79.9h1.2v1.2h-1.2zM462.5 74.0h1.2v1.2h-1.2zM481.9 78.8h1.2v1.2h-1.2zM452.6 100.2h1.2v1.2h-1.2zM476.7 74.7h1.2v1.2h-1.2zM462.6 81.2h1.2v1.2h-1.2zM462.5 84.9h1.2v1.2h-1.2zM476.1 70.9h1.2v1.2h-1.2zM474.3 83.2h1.2v1.2h-1.2zM487.0 87.0h1.2v1.2h-1.2zM470.1 94.2h1.2v1.2h-1.2zM467.4 71.6h1.2v1.2h-1.2zM489.5 89.8h1.2v1.2h-1.2zM468.3 80.1h1.2v1.2h-1.2zM463.0 81.9h1.2v1.2h-1.2zM469.7 91.1h1.2v1.2h-1.2zM463.7 87.6h1.2v1.2h-1.2zM478.2 80.6h1.2v1.2h-1.2zM467.2 85.0h1.2v1.2h-1.2zM463.3 83.7h1.2v1.2h-1.2zM468.2 75.9h1.2v1.2h-1.2zM478.3 81.2h1.2v1.2h-1.2zM471.9 83.1h1.2v1.2h-1.2zM472.1 84.0h1.2v1.2h-1.2zM478.8 84.9h1.2v1.2h-1.2zM486.0 79.8h1.2v1.2h-1.2zM460.9 79.2h1.2v1.2h-1.2zM472.4 80.0h1.2v1.2h-1.2zM480.9 85.2h1.2v1.2h-1.2zM473.0 89.7h1.2v1.2h-1.2zM477.7 85.0h1.2v1.2h-1.2zM473.3 89.4h1.2v1.2h-1.2zM468.5 93.0h1.2v1.2h-1.2zM472.5 82.8h1.2v1.2h-1.2zM468.2 85.7h1.2v1.2h-1.2zM474.0 79.3h1.2v1.2h-1.2zM457.7 70.6h1.2v1.2h-1.2zM480.8 79.7h1.2v1.2h-1.2zM475.0 76.4h1.2v1.2h-1.2zM470.4 79.5h1.2v1.2h-1.2zM481.6 86.3h1.2v1.2h-1.2zM449.6 80.3h1.2v1.2h-1.2zM453.9 78.9h1.2v1.2h-1.2zM480.5 91.8h1.2v1.2h-1.2zM448.7 83.6h1.2v1.2h-1.2zM493.0 88.0h1.2v1.2h-1.2zM482.0 88.7h1.2v1.2h-1.2zM486.5 80.3h1.2v1.2h-1.2zM493.6 86.6h1.2v1.2h-1.2zM455.4 75.2h1.2v1.2h-1.2zM477.2 75.8h1.2v1.2h-1.2zM476.0 87.2h1.2v1.2h-1.2zM471.1 89.1h1.2v1.2h-1.2zM465.5 88.4h1.2v1.2h-1.2zM479.5 88.9h1.2v1.2h-1.2zM464.9 98.3h1.2v1.2h-1.2zM485.8 82.9h1.2v1.2h-1.2zM453.4 90.8h1.2v1.2h-1.2zM486.4 85.6h1.2v1.2h-1.2zM485.5 75.3h1.2v1.2h-1.2zM473.2 82.6h1.2v1.2h-1.2zM485.5 99.8h1.2v1.2h-1.2zM469.4 71.7h1.2v1.2h-1.2zM487.5 88.1h1.2v1.2h-1.2zM461.1 90.3h1.2v1.2h-1.2zM478.6 74.3h1.2v1.2h-1.2zM468.2 79.9h1.2v1.2h-1.2zM464.8 97.4h1.2v1.2h-1.2zM470.0 80.0h1.2v1.2h-1.2zM474.7 83.3h1.2v1.2h-1.2zM451.1 88.7h1.2v1.2h-1.2zM441.7 108.0h1.2v1.2h-1.2zM439.3 102.3h1.2v1.2h-1.2zM448.7 100.1h1.2v1.2h-1.2zM443.4 101.3h1.2v1.2h-1.2zM445.0 108.7h1.2v1.2h-1.2zM444.0 108.2h1.2v1.2h-1.2zM441.3 108.3h1.2v1.2h-1.2zM446.5 101.2h1.2v1.2h-1.2zM442.0 104.0h1.2v1.2h-1.2zM452.2 107.5h1.2v1.2h-1.2zM445.5 104.1h1.2v1.2h-1.2zM444.7 102.8h1.2v1.2h-1.2zM444.1 107.9h1.2v1.2h-1.2zM441.2 106.6h1.2v1.2h-1.2zM449.9 106.3h1.2v1.2h-1.2zM443.8 103.3h1.2v1.2h-1.2zM443.2 109.9h1.2v1.2h-1.2zM444.1 102.6h1.2v1.2h-1.2zM447.7 105.2h1.2v1.2h-1.2zM442.7 106.8h1.2v1.2h-1.2zM440.8 106.7h1.2v1.2h-1.2zM445.2 103.2h1.2v1.2h-1.2zM449.2 107.1h1.2v1.2h-1.2zM443.2 106.2h1.2v1.2h-1.2zM447.2 102.3h1.2v1.2h-1.2zM444.2 105.7h1.2v1.2h-1.2zM444.3 105.8h1.2v1.2h-1.2zM441.3 107.6h1.2v1.2h-1.2zM445.3 105.9h1.2v1.2h-1.2zM442.7 104.0h1.2v1.2h-1.2zM443.8 112.1h1.2v1.2h-1.2zM444.4 101.4h1.2v1.2h-1.2zM442.9 108.2h1.2v1.2h-1.2zM441.5 110.7h1.2v1.2h-1.2zM441.4 106.9h1.2v1.2h-1.2zM442.8 102.0h1.2v1.2h-1.2zM447.4 101.9h1.2v1.2h-1.2zM439.3 105.5h1.2v1.2h-1.2zM439.0 98.4h1.2v1.2h-1.2zM440.5 102.7h1.2v1.2h-1.2zM451.4 103.6h1.2v1.2h-1.2zM440.0 102.1h1.2v1.2h-1.2zM445.1 104.5h1.2v1.2h-1.2zM443.0 107.9h1.2v1.2h-1.2zM444.3 103.7h1.2v1.2h-1.2zM446.2 101.4h1.2v1.2h-1.2zM445.5 110.8h1.2v1.2h-1.2zM440.9 105.2h1.2v1.2h-1.2zM442.5 101.5h1.2v1.2h-1.2zM445.3 104.7h1.2v1.2h-1.2zM446.4 100.4h1.2v1.2h-1.2zM445.1 105.7h1.2v1.2h-1.2zM448.5 104.8h1.2v1.2h-1.2zM449.1 101.3h1.2v1.2h-1.2zM449.3 107.0h1.2v1.2h-1.2zM446.2 105.5h1.2v1.2h-1.2zM441.4 106.6h1.2v1.2h-1.2zM442.2 106.5h1.2v1.2h-1.2zM444.9 104.0h1.2v1.2h-1.2zM437.5 102.8h1.2v1.2h-1.2zM441.7 105.0h1.2v1.2h-1.2zM445.5 105.8h1.2v1.2h-1.2zM446.9 104.1h1.2v1.2h-1.2zM443.9 101.9h1.2v1.2h-1.2zM442.8 105.2h1.2v1.2h-1.2zM446.2 106.9h1.2v1.2h-1.2zM440.8 102.8h1.2v1.2h-1.2zM440.0 103.0h1.2v1.2h-1.2zM439.6 108.7h1.2v1.2h-1.2zM444.1 103.2h1.2v1.2h-1.2zM443.1 104.9h1.2v1.2h-1.2zM446.9 108.8h1.2v1.2h-1.2zM446.8 100.8h1.2v1.2h-1.2zM445.5 99.9h1.2v1.2h-1.2zM444.7 110.4h1.2v1.2h-1.2zM448.5 104.7h1.2v1.2h-1.2zM447.7 101.2h1.2v1.2h-1.2zM444.0 106.2h1.2v1.2h-1.2zM448.4 102.8h1.2v1.2h-1.2zM440.3 107.8h1.2v1.2h-1.2zM454.5 106.8h1.2v1.2h-1.2zM465.9 112.3h1.2v1.2h-1.2zM463.3 102.0h1.2v1.2h-1.2zM478.8 109.5h1.2v1.2h-1.2zM464.8 102.9h1.2v1.2h-1.2zM469.0 113.1h1.2v1.2h-1.2zM457.7 106.7h1.2v1.2h-1.2zM467.7 99.5h1.2v1.2h-1.2zM466.0 105.4h1.2v1.2h-1.2zM462.2 106.0h1.2v1.2h-1.2zM476.5 110.7h1.2v1.2h-1.2zM489.3 103.4h1.2v1.2h-1.2zM470.6 103.7h1.2v1.2h-1.2zM476.7 101.2h1.2v1.2h-1.2zM469.2 106.4h1.2v1.2h-1.2zM469.1 107.7h1.2v1.2h-1.2zM458.9 109.4h1.2v1.2h-1.2zM463.6 102.2h1.2v1.2h-1.2zM449.1 109.7h1.2v1.2h-1.2zM466.9 103.7h1.2v1.2h-1.2zM480.5 112.4h1.2v1.2h-1.2zM464.5 103.9h1.2v1.2h-1.2zM478.7 103.2h1.2v1.2h-1.2zM461.6 106.6h1.2v1.2h-1.2zM471.3 104.0h1.2v1.2h-1.2zM466.8 109.9h1.2v1.2h-1.2zM444.0 111.4h1.2v1.2h-1.2zM466.9 109.5h1.2v1.2h-1.2zM483.6 103.3h1.2v1.2h-1.2zM473.8 105.4h1.2v1.2h-1.2zM477.3 101.9h1.2v1.2h-1.2zM470.0 110.3h1.2v1.2h-1.2zM479.5 96.9h1.2v1.2h-1.2zM464.7 104.7h1.2v1.2h-1.2zM470.2 105.8h1.2v1.2h-1.2zM490.8 107.8h1.2v1.2h-1.2zM477.2 104.2h1.2v1.2h-1.2zM474.7 108.6h1.2v1.2h-1.2zM477.4 107.8h1.2v1.2h-1.2zM466.1 104.5h1.2v1.2h-1.2zM473.5 102.2h1.2v1.2h-1.2zM469.9 104.9h1.2v1.2h-1.2zM471.5 106.9h1.2v1.2h-1.2zM465.2 104.6h1.2v1.2h-1.2zM458.0 108.9h1.2v1.2h-1.2zM468.3 110.9h1.2v1.2h-1.2zM496.9 108.2h1.2v1.2h-1.2zM472.2 107.3h1.2v1.2h-1.2zM464.7 106.7h1.2v1.2h-1.2zM480.4 104.3h1.2v1.2h-1.2zM472.8 111.8h1.2v1.2h-1.2zM454.4 99.8h1.2v1.2h-1.2zM469.8 99.4h1.2v1.2h-1.2zM449.5 100.9h1.2v1.2h-1.2zM476.3 111.4h1.2v1.2h-1.2zM465.8 106.6h1.2v1.2h-1.2zM477.6 110.1h1.2v1.2h-1.2zM475.2 100.4h1.2v1.2h-1.2zM474.0 107.6h1.2v1.2h-1.2zM465.7 106.6h1.2v1.2h-1.2z" fill="#111" fill-opacity="0.28"/>
<path d="M442.2 115.5v2.5M445.7 115.5v2.5M448.1 115.5v2.5M450.1 115.5v2.5M451.6 115.5v2.5M452.9 115.5v2.5M454.1 115.5v2.5M455.1 115.5v2.5M461.9 115.5v2.5M465.4 115.5v2.5M467.8 115.5v2.5M469.7 115.5v2.5M471.3 115.5v2.5M472.6 115.5v2.5M473.7 115.5v2.5M474.7 115.5v2.5M456.0 115.5v5.5M481.6 115.5v2.5M485.0 115.5v2.5M487.5 115.5v2.5M489.4 115.5v2.5M491.0 115.5v2.5M492.3 115.5v2.5M493.4 115.5v2.5M494.4 115.5v2.5M475.6 115.5v5.5M501.2 115.5v2.5M504.7 115.5v2.5M507.2 115.5v2.5M509.1 115.5v2.5M510.6 115.5v2.5M512.0 115.5v2.5M513.1 115.5v2.5M514.1 115.5v2.5M495.3 115.5v5.5M515.5 115.5v5.5M436.5 109.6h-2.5M436.5 106.4h-2.5M436.5 104.0h-2.5M436.5 102.3h-2.5M436.5 100.8h-2.5M436.5 99.5h-2.5M436.5 98.5h-2.5M436.5 97.5h-2.5M436.5 91.1h-2.5M436.5 87.8h-2.5M436.5 85.5h-2.5M436.5 83.7h-2.5M436.5 82.3h-2.5M436.5 81.0h-2.5M436.5 79.9h-2.5M436.5 79.0h-2.5M436.5 96.7h-5.5M436.5 72.6h-2.5M436.5 69.3h-2.5M436.5 67.0h-2.5M436.5 65.2h-2.5M436.5 63.7h-2.5M436.5 62.5h-2.5M436.5 61.4h-2.5M436.5 60.5h-2.5M436.5 78.2h-5.5M436.5 54.0h-2.5M436.5 50.8h-2.5M436.5 48.5h-2.5M436.5 46.7h-2.5M436.5 45.2h-2.5M436.5 44.0h-2.5M436.5 42.9h-2.5M436.5 41.9h-2.5M436.5 59.6h-5.5" stroke="#888" stroke-width="0.8" fill="none"/>
<rect x="436.5" y="41.5" width="79.0" height="74.0" fill="none" stroke="#888" stroke-width="1"/>
<line x1="453.50" y1="41.50" x2="453.50" y2="115.50" stroke="#333" stroke-width="1.0"/>
<line x1="431.00" y1="97.50" x2="515.50" y2="97.50" stroke="#333" stroke-width="1.0"/>
<text transform="translate(438.30,53.10) scale(0.9,1.0)" font-size="12" text-anchor="start" font-weight="normal" style="stroke-width:0.25px">33</text>
<text transform="translate(514.00,53.10) scale(0.9,1.0)" font-size="12" text-anchor="end" font-weight="normal" style="stroke-width:0.25px">17</text>
<text transform="translate(514.00,111.60) scale(0.9,1.0)" font-size="12" text-anchor="end" font-weight="normal" style="stroke-width:0.25px">4</text>
<path d="M350.7 171.2h1.4v1.4h-1.4zM350.9 164.2h1.4v1.4h-1.4zM351.1 174.3h1.4v1.4h-1.4zM351.3 168.1h1.4v1.4h-1.4zM355.8 188.5h1.4v1.4h-1.4zM354.5 177.6h1.4v1.4h-1.4zM351.8 172.2h1.4v1.4h-1.4zM354.8 171.7h1.4v1.4h-1.4zM348.5 165.7h1.4v1.4h-1.4zM358.4 167.9h1.4v1.4h-1.4zM349.7 172.8h1.4v1.4h-1.4zM350.8 175.7h1.4v1.4h-1.4zM354.2 174.3h1.4v1.4h-1.4zM355.1 173.8h1.4v1.4h-1.4zM352.9 175.7h1.4v1.4h-1.4zM353.8 174.3h1.4v1.4h-1.4zM355.2 173.8h1.4v1.4h-1.4zM352.5 166.7h1.4v1.4h-1.4zM350.2 178.7h1.4v1.4h-1.4zM351.5 161.6h1.4v1.4h-1.4zM352.6 163.6h1.4v1.4h-1.4zM354.4 176.2h1.4v1.4h-1.4zM352.7 171.6h1.4v1.4h-1.4zM347.4 170.7h1.4v1.4h-1.4zM345.3 169.1h1.4v1.4h-1.4zM349.5 173.4h1.4v1.4h-1.4zM349.8 175.7h1.4v1.4h-1.4zM351.8 171.5h1.4v1.4h-1.4zM352.5 176.4h1.4v1.4h-1.4zM356.9 173.4h1.4v1.4h-1.4zM345.0 173.3h1.4v1.4h-1.4zM353.4 177.3h1.4v1.4h-1.4zM349.9 164.4h1.4v1.4h-1.4zM352.8 177.5h1.4v1.4h-1.4zM390.8 165.9h1.4v1.4h-1.4zM386.8 169.9h1.4v1.4h-1.4zM394.8 174.3h1.4v1.4h-1.4zM392.6 168.2h1.4v1.4h-1.4zM383.0 166.8h1.4v1.4h-1.4zM384.0 171.2h1.4v1.4h-1.4zM376.1 174.3h1.4v1.4h-1.4zM387.5 166.8h1.4v1.4h-1.4zM380.9 174.4h1.4v1.4h-1.4zM385.5 167.8h1.4v1.4h-1.4zM387.4 171.7h1.4v1.4h-1.4zM392.5 165.1h1.4v1.4h-1.4zM391.8 163.8h1.4v1.4h-1.4zM386.7 165.8h1.4v1.4h-1.4zM390.4 161.4h1.4v1.4h-1.4zM387.4 171.3h1.4v1.4h-1.4zM382.7 167.9h1.4v1.4h-1.4zM391.8 170.8h1.4v1.4h-1.4zM378.5 164.2h1.4v1.4h-1.4zM388.0 166.0h1.4v1.4h-1.4zM389.6 168.1h1.4v1.4h-1.4zM388.5 163.0h1.4v1.4h-1.4zM385.8 167.4h1.4v1.4h-1.4zM387.1 169.1h1.4v1.4h-1.4zM378.7 171.1h1.4v1.4h-1.4zM386.8 172.8h1.4v1.4h-1.4zM390.9 169.1h1.4v1.4h-1.4zM388.8 166.0h1.4v1.4h-1.4zM383.1 168.3h1.4v1.4h-1.4zM387.2 162.8h1.4v1.4h-1.4zM396.3 167.9h1.4v1.4h-1.4zM391.1 172.3h1.4v1.4h-1.4zM388.4 167.4h1.4v1.4h-1.4zM387.5 170.9h1.4v1.4h-1.4zM382.1 168.0h1.4v1.4h-1.4zM387.8 164.0h1.4v1.4h-1.4zM389.1 170.0h1.4v1.4h-1.4zM382.0 167.2h1.4v1.4h-1.4zM386.7 172.9h1.4v1.4h-1.4zM397.9 162.8h1.4v1.4h-1.4zM384.3 168.4h1.4v1.4h-1.4zM376.8 170.8h1.4v1.4h-1.4zM382.6 171.7h1.4v1.4h-1.4zM388.9 165.5h1.4v1.4h-1.4zM379.1 174.8h1.4v1.4h-1.4zM386.1 171.9h1.4v1.4h-1.4zM390.0 169.9h1.4v1.4h-1.4zM393.5 165.8h1.4v1.4h-1.4zM387.3 166.5h1.4v1.4h-1.4zM393.3 169.9h1.4v1.4h-1.4zM382.9 172.5h1.4v1.4h-1.4zM382.4 169.3h1.4v1.4h-1.4zM389.7 162.9h1.4v1.4h-1.4zM388.6 166.4h1.4v1.4h-1.4zM388.7 167.1h1.4v1.4h-1.4zM387.4 163.7h1.4v1.4h-1.4zM388.2 157.2h1.4v1.4h-1.4zM388.3 175.4h1.4v1.4h-1.4zM387.9 173.9h1.4v1.4h-1.4zM393.0 180.0h1.4v1.4h-1.4zM389.1 163.7h1.4v1.4h-1.4zM388.6 165.0h1.4v1.4h-1.4zM379.7 169.7h1.4v1.4h-1.4zM387.5 167.1h1.4v1.4h-1.4zM384.5 165.2h1.4v1.4h-1.4zM385.1 169.9h1.4v1.4h-1.4zM386.9 157.1h1.4v1.4h-1.4zM391.7 163.8h1.4v1.4h-1.4zM388.2 171.6h1.4v1.4h-1.4zM380.4 167.5h1.4v1.4h-1.4zM381.5 161.7h1.4v1.4h-1.4zM393.9 172.7h1.4v1.4h-1.4zM382.8 168.6h1.4v1.4h-1.4zM386.9 169.5h1.4v1.4h-1.4zM389.4 176.6h1.4v1.4h-1.4zM380.8 167.6h1.4v1.4h-1.4zM387.6 170.1h1.4v1.4h-1.4zM386.7 168.0h1.4v1.4h-1.4zM382.5 172.9h1.4v1.4h-1.4zM387.2 172.5h1.4v1.4h-1.4zM391.3 169.3h1.4v1.4h-1.4zM387.0 172.5h1.4v1.4h-1.4zM376.9 170.6h1.4v1.4h-1.4zM389.6 166.9h1.4v1.4h-1.4zM395.4 161.0h1.4v1.4h-1.4zM380.5 166.4h1.4v1.4h-1.4zM382.5 167.4h1.4v1.4h-1.4zM388.0 173.0h1.4v1.4h-1.4zM385.1 168.3h1.4v1.4h-1.4zM385.9 170.0h1.4v1.4h-1.4zM388.1 162.9h1.4v1.4h-1.4zM380.9 156.4h1.4v1.4h-1.4zM396.0 169.9h1.4v1.4h-1.4zM389.9 165.7h1.4v1.4h-1.4zM394.9 167.1h1.4v1.4h-1.4zM393.0 167.1h1.4v1.4h-1.4zM384.1 172.8h1.4v1.4h-1.4zM383.0 171.7h1.4v1.4h-1.4zM384.7 174.2h1.4v1.4h-1.4zM374.0 166.6h1.4v1.4h-1.4zM394.0 160.8h1.4v1.4h-1.4zM387.5 161.1h1.4v1.4h-1.4zM370.4 169.1h1.4v1.4h-1.4zM377.1 172.2h1.4v1.4h-1.4zM376.8 177.1h1.4v1.4h-1.4zM372.3 172.5h1.4v1.4h-1.4zM376.2 173.0h1.4v1.4h-1.4zM388.1 180.0h1.4v1.4h-1.4zM371.9 172.6h1.4v1.4h-1.4zM388.3 169.5h1.4v1.4h-1.4zM389.2 172.7h1.4v1.4h-1.4zM393.5 161.1h1.4v1.4h-1.4zM387.7 161.4h1.4v1.4h-1.4zM395.8 162.7h1.4v1.4h-1.4zM376.8 183.5h1.4v1.4h-1.4zM367.7 169.9h1.4v1.4h-1.4zM391.3 172.6h1.4v1.4h-1.4zM390.8 175.7h1.4v1.4h-1.4zM350.8 177.9h1.4v1.4h-1.4zM389.4 174.2h1.4v1.4h-1.4zM366.5 178.3h1.4v1.4h-1.4zM368.4 170.7h1.4v1.4h-1.4zM375.0 168.3h1.4v1.4h-1.4zM376.4 171.3h1.4v1.4h-1.4zM389.9 177.6h1.4v1.4h-1.4zM385.0 165.1h1.4v1.4h-1.4zM371.9 182.5h1.4v1.4h-1.4zM374.1 174.5h1.4v1.4h-1.4zM371.3 175.7h1.4v1.4h-1.4zM381.2 174.8h1.4v1.4h-1.4zM385.6 166.2h1.4v1.4h-1.4zM374.4 185.6h1.4v1.4h-1.4zM362.2 174.7h1.4v1.4h-1.4zM390.9 172.1h1.4v1.4h-1.4zM352.3 185.0h1.4v1.4h-1.4zM379.5 175.7h1.4v1.4h-1.4zM379.2 172.8h1.4v1.4h-1.4zM373.1 171.6h1.4v1.4h-1.4zM367.1 174.4h1.4v1.4h-1.4zM373.0 173.8h1.4v1.4h-1.4zM370.7 179.8h1.4v1.4h-1.4zM394.9 167.4h1.4v1.4h-1.4zM364.5 172.0h1.4v1.4h-1.4zM374.2 168.9h1.4v1.4h-1.4zM376.4 184.7h1.4v1.4h-1.4zM379.2 171.3h1.4v1.4h-1.4zM391.6 175.5h1.4v1.4h-1.4zM373.0 173.1h1.4v1.4h-1.4zM387.0 172.0h1.4v1.4h-1.4zM383.8 169.5h1.4v1.4h-1.4zM366.3 170.6h1.4v1.4h-1.4zM363.0 178.6h1.4v1.4h-1.4zM363.5 168.8h1.4v1.4h-1.4zM366.9 160.8h1.4v1.4h-1.4zM385.1 165.7h1.4v1.4h-1.4zM371.8 176.1h1.4v1.4h-1.4zM366.6 159.7h1.4v1.4h-1.4zM387.4 177.6h1.4v1.4h-1.4zM391.5 172.9h1.4v1.4h-1.4zM389.6 179.2h1.4v1.4h-1.4zM376.8 176.6h1.4v1.4h-1.4zM381.1 166.5h1.4v1.4h-1.4zM382.8 174.1h1.4v1.4h-1.4zM364.2 172.4h1.4v1.4h-1.4zM390.1 177.5h1.4v1.4h-1.4zM375.5 173.1h1.4v1.4h-1.4zM374.6 173.5h1.4v1.4h-1.4zM374.5 170.7h1.4v1.4h-1.4zM372.3 183.1h1.4v1.4h-1.4zM381.7 182.2h1.4v1.4h-1.4zM351.1 197.6h1.4v1.4h-1.4zM359.3 196.2h1.4v1.4h-1.4zM347.5 198.6h1.4v1.4h-1.4zM353.4 195.6h1.4v1.4h-1.4zM352.1 197.9h1.4v1.4h-1.4zM357.1 197.0h1.4v1.4h-1.4zM355.2 194.0h1.4v1.4h-1.4zM356.1 191.0h1.4v1.4h-1.4zM355.7 191.9h1.4v1.4h-1.4zM351.1 199.8h1.4v1.4h-1.4zM357.5 197.2h1.4v1.4h-1.4zM351.5 194.2h1.4v1.4h-1.4zM348.7 196.0h1.4v1.4h-1.4zM353.8 189.6h1.4v1.4h-1.4zM353.9 193.7h1.4v1.4h-1.4zM347.8 195.4h1.4v1.4h-1.4zM356.7 194.4h1.4v1.4h-1.4zM351.4 197.9h1.4v1.4h-1.4zM353.4 196.1h1.4v1.4h-1.4zM348.8 195.6h1.4v1.4h-1.4zM359.1 192.4h1.4v1.4h-1.4zM353.8 193.2h1.4v1.4h-1.4z" fill="#111" fill-opacity="0.38"/>
<path d="M349.8 173.2h1.4v1.4h-1.4zM352.9 180.2h1.4v1.4h-1.4zM354.1 164.4h1.4v1.4h-1.4zM352.3 166.9h1.4v1.4h-1.4zM354.7 167.1h1.4v1.4h-1.4zM347.9 180.3h1.4v1.4h-1.4zM357.3 179.7h1.4v1.4h-1.4zM353.9 172.7h1.4v1.4h-1.4zM356.6 179.2h1.4v1.4h-1.4zM349.0 166.7h1.4v1.4h-1.4zM351.6 179.6h1.4v1.4h-1.4zM348.3 173.7h1.4v1.4h-1.4zM359.8 170.1h1.4v1.4h-1.4zM354.8 172.2h1.4v1.4h-1.4zM347.5 168.6h1.4v1.4h-1.4zM353.3 170.8h1.4v1.4h-1.4zM352.4 178.0h1.4v1.4h-1.4zM351.4 176.0h1.4v1.4h-1.4zM349.9 171.8h1.4v1.4h-1.4zM349.8 163.7h1.4v1.4h-1.4zM348.9 171.0h1.4v1.4h-1.4zM349.9 182.5h1.4v1.4h-1.4zM356.3 168.0h1.4v1.4h-1.4zM352.8 180.7h1.4v1.4h-1.4zM360.7 168.7h1.4v1.4h-1.4zM352.1 174.6h1.4v1.4h-1.4zM355.2 165.7h1.4v1.4h-1.4zM354.8 173.8h1.4v1.4h-1.4zM352.9 167.4h1.4v1.4h-1.4zM355.8 172.8h1.4v1.4h-1.4zM349.8 178.4h1.4v1.4h-1.4zM382.4 171.3h1.4v1.4h-1.4zM388.8 165.3h1.4v1.4h-1.4zM383.4 165.7h1.4v1.4h-1.4zM389.1 164.6h1.4v1.4h-1.4zM382.9 165.5h1.4v1.4h-1.4zM392.8 172.6h1.4v1.4h-1.4zM387.0 167.5h1.4v1.4h-1.4zM386.9 160.7h1.4v1.4h-1.4zM385.8 161.6h1.4v1.4h-1.4zM380.9 166.7h1.4v1.4h-1.4zM379.9 168.4h1.4v1.4h-1.4zM382.6 163.9h1.4v1.4h-1.4zM391.0 175.5h1.4v1.4h-1.4zM386.1 170.1h1.4v1.4h-1.4zM396.5 163.2h1.4v1.4h-1.4zM390.7 167.2h1.4v1.4h-1.4zM378.8 166.3h1.4v1.4h-1.4zM386.4 166.1h1.4v1.4h-1.4zM381.7 166.9h1.4v1.4h-1.4zM383.8 174.4h1.4v1.4h-1.4zM388.1 170.9h1.4v1.4h-1.4zM383.0 164.0h1.4v1.4h-1.4zM375.1 168.5h1.4v1.4h-1.4zM383.4 167.1h1.4v1.4h-1.4zM385.4 159.3h1.4v1.4h-1.4zM380.5 165.0h1.4v1.4h-1.4zM392.0 172.4h1.4v1.4h-1.4zM381.1 165.4h1.4v1.4h-1.4zM387.7 168.9h1.4v1.4h-1.4zM389.5 162.9h1.4v1.4h-1.4zM391.5 173.6h1.4v1.4h-1.4zM375.3 170.1h1.4v1.4h-1.4zM387.4 158.1h1.4v1.4h-1.4zM382.6 162.9h1.4v1.4h-1.4zM388.2 171.1h1.4v1.4h-1.4zM386.6 166.7h1.4v1.4h-1.4zM378.5 162.1h1.4v1.4h-1.4zM387.6 175.3h1.4v1.4h-1.4zM388.6 167.6h1.4v1.4h-1.4zM383.3 163.7h1.4v1.4h-1.4zM388.2 164.1h1.4v1.4h-1.4zM382.2 170.1h1.4v1.4h-1.4zM386.0 175.4h1.4v1.4h-1.4zM392.1 170.7h1.4v1.4h-1.4zM391.7 166.7h1.4v1.4h-1.4zM384.6 167.4h1.4v1.4h-1.4zM387.9 165.0h1.4v1.4h-1.4zM382.8 169.3h1.4v1.4h-1.4zM378.8 172.7h1.4v1.4h-1.4zM397.7 169.8h1.4v1.4h-1.4zM384.5 170.6h1.4v1.4h-1.4zM381.5 169.3h1.4v1.4h-1.4zM378.4 175.4h1.4v1.4h-1.4zM380.8 165.9h1.4v1.4h-1.4zM388.1 173.1h1.4v1.4h-1.4zM381.2 170.1h1.4v1.4h-1.4zM385.3 169.9h1.4v1.4h-1.4zM379.6 170.5h1.4v1.4h-1.4zM385.9 171.0h1.4v1.4h-1.4zM380.8 167.5h1.4v1.4h-1.4zM375.4 165.3h1.4v1.4h-1.4zM390.2 172.9h1.4v1.4h-1.4zM385.5 174.7h1.4v1.4h-1.4zM398.2 171.2h1.4v1.4h-1.4zM385.4 170.0h1.4v1.4h-1.4zM388.1 173.1h1.4v1.4h-1.4zM387.9 170.3h1.4v1.4h-1.4zM380.5 173.3h1.4v1.4h-1.4zM388.1 165.8h1.4v1.4h-1.4zM386.2 165.7h1.4v1.4h-1.4zM393.3 158.3h1.4v1.4h-1.4zM384.0 169.8h1.4v1.4h-1.4zM388.2 164.6h1.4v1.4h-1.4zM391.6 161.9h1.4v1.4h-1.4zM386.1 169.7h1.4v1.4h-1.4zM385.9 166.1h1.4v1.4h-1.4zM382.7 165.5h1.4v1.4h-1.4zM384.8 167.8h1.4v1.4h-1.4zM389.5 158.6h1.4v1.4h-1.4zM381.5 169.2h1.4v1.4h-1.4zM379.3 172.8h1.4v1.4h-1.4zM384.8 170.6h1.4v1.4h-1.4zM381.0 168.0h1.4v1.4h-1.4zM388.8 164.8h1.4v1.4h-1.4zM393.6 165.9h1.4v1.4h-1.4zM394.1 169.7h1.4v1.4h-1.4zM391.1 167.6h1.4v1.4h-1.4zM381.1 165.8h1.4v1.4h-1.4zM386.4 159.3h1.4v1.4h-1.4zM387.3 166.1h1.4v1.4h-1.4zM387.0 166.7h1.4v1.4h-1.4zM386.2 164.1h1.4v1.4h-1.4zM383.5 165.8h1.4v1.4h-1.4zM385.9 164.6h1.4v1.4h-1.4zM385.0 167.5h1.4v1.4h-1.4zM385.5 166.6h1.4v1.4h-1.4zM377.3 164.3h1.4v1.4h-1.4zM388.2 169.4h1.4v1.4h-1.4zM389.4 169.1h1.4v1.4h-1.4zM385.0 160.7h1.4v1.4h-1.4zM393.7 169.2h1.4v1.4h-1.4zM381.1 164.5h1.4v1.4h-1.4zM392.8 167.5h1.4v1.4h-1.4zM381.1 160.7h1.4v1.4h-1.4zM390.2 168.5h1.4v1.4h-1.4zM383.9 175.0h1.4v1.4h-1.4zM383.7 164.7h1.4v1.4h-1.4zM382.3 164.8h1.4v1.4h-1.4zM385.8 173.6h1.4v1.4h-1.4zM375.9 178.7h1.4v1.4h-1.4zM364.6 179.9h1.4v1.4h-1.4zM367.5 167.1h1.4v1.4h-1.4zM371.1 169.9h1.4v1.4h-1.4zM387.3 170.2h1.4v1.4h-1.4zM382.0 172.5h1.4v1.4h-1.4zM378.7 172.2h1.4v1.4h-1.4zM372.1 181.9h1.4v1.4h-1.4zM379.1 166.4h1.4v1.4h-1.4zM388.6 168.1h1.4v1.4h-1.4zM355.6 175.3h1.4v1.4h-1.4zM361.6 176.9h1.4v1.4h-1.4zM371.1 164.8h1.4v1.4h-1.4zM390.3 172.5h1.4v1.4h-1.4zM382.3 169.1h1.4v1.4h-1.4zM385.0 169.8h1.4v1.4h-1.4zM386.6 161.9h1.4v1.4h-1.4zM380.1 175.7h1.4v1.4h-1.4zM376.8 168.7h1.4v1.4h-1.4zM358.3 176.8h1.4v1.4h-1.4zM381.7 176.3h1.4v1.4h-1.4zM383.6 172.1h1.4v1.4h-1.4zM387.9 162.3h1.4v1.4h-1.4zM388.2 166.6h1.4v1.4h-1.4zM371.7 180.2h1.4v1.4h-1.4zM365.2 183.4h1.4v1.4h-1.4zM382.2 161.3h1.4v1.4h-1.4zM390.1 165.1h1.4v1.4h-1.4zM361.1 171.4h1.4v1.4h-1.4zM385.6 160.0h1.4v1.4h-1.4zM365.9 163.2h1.4v1.4h-1.4zM389.4 180.3h1.4v1.4h-1.4zM375.7 162.0h1.4v1.4h-1.4zM374.5 181.0h1.4v1.4h-1.4zM381.9 160.5h1.4v1.4h-1.4zM370.8 173.5h1.4v1.4h-1.4zM388.9 178.2h1.4v1.4h-1.4zM378.7 168.0h1.4v1.4h-1.4zM382.2 174.1h1.4v1.4h-1.4zM385.6 173.0h1.4v1.4h-1.4zM366.8 167.1h1.4v1.4h-1.4zM384.7 169.6h1.4v1.4h-1.4zM373.9 176.1h1.4v1.4h-1.4zM384.5 181.8h1.4v1.4h-1.4zM381.1 164.3h1.4v1.4h-1.4zM375.4 181.3h1.4v1.4h-1.4zM369.5 176.9h1.4v1.4h-1.4zM371.5 163.8h1.4v1.4h-1.4zM372.8 160.5h1.4v1.4h-1.4zM358.4 179.6h1.4v1.4h-1.4zM384.7 173.0h1.4v1.4h-1.4zM370.6 179.7h1.4v1.4h-1.4zM375.4 173.3h1.4v1.4h-1.4zM350.3 201.1h1.4v1.4h-1.4zM350.0 200.1h1.4v1.4h-1.4zM355.1 196.9h1.4v1.4h-1.4zM352.6 195.6h1.4v1.4h-1.4zM354.0 201.6h1.4v1.4h-1.4zM353.0 195.8h1.4v1.4h-1.4zM349.1 194.5h1.4v1.4h-1.4zM346.1 189.1h1.4v1.4h-1.4zM350.5 198.5h1.4v1.4h-1.4zM351.0 192.9h1.4v1.4h-1.4zM352.6 197.5h1.4v1.4h-1.4zM354.1 192.1h1.4v1.4h-1.4zM349.3 195.4h1.4v1.4h-1.4z" fill="#111" fill-opacity="0.38"/>
<path d="M350.3 167.1h1.4v1.4h-1.4zM351.2 160.8h1.4v1.4h-1.4zM351.1 176.2h1.4v1.4h-1.4zM353.8 172.6h1.4v1.4h-1.4zM357.9 169.0h1.4v1.4h-1.4zM350.3 163.9h1.4v1.4h-1.4zM356.2 171.6h1.4v1.4h-1.4zM348.5 166.2h1.4v1.4h-1.4zM349.0 169.0h1.4v1.4h-1.4zM345.8 171.8h1.4v1.4h-1.4zM352.2 178.0h1.4v1.4h-1.4zM357.3 167.2h1.4v1.4h-1.4zM351.9 181.4h1.4v1.4h-1.4zM345.5 170.3h1.4v1.4h-1.4zM354.9 169.5h1.4v1.4h-1.4zM354.9 172.0h1.4v1.4h-1.4zM351.1 179.7h1.4v1.4h-1.4zM351.2 177.1h1.4v1.4h-1.4zM347.9 164.7h1.4v1.4h-1.4zM353.8 164.6h1.4v1.4h-1.4zM348.9 170.8h1.4v1.4h-1.4zM355.2 176.1h1.4v1.4h-1.4zM355.3 181.4h1.4v1.4h-1.4zM355.9 176.1h1.4v1.4h-1.4zM360.3 177.3h1.4v1.4h-1.4zM352.6 174.6h1.4v1.4h-1.4zM354.9 181.1h1.4v1.4h-1.4zM345.3 172.1h1.4v1.4h-1.4zM351.4 174.3h1.4v1.4h-1.4zM354.0 173.7h1.4v1.4h-1.4zM351.0 169.4h1.4v1.4h-1.4zM352.4 170.8h1.4v1.4h-1.4zM347.3 163.7h1.4v1.4h-1.4zM351.3 170.2h1.4v1.4h-1.4zM360.7 168.1h1.4v1.4h-1.4zM351.5 170.6h1.4v1.4h-1.4zM352.1 181.4h1.4v1.4h-1.4zM354.1 151.0h1.4v1.4h-1.4zM351.5 158.0h1.4v1.4h-1.4zM348.9 166.3h1.4v1.4h-1.4zM388.6 165.7h1.4v1.4h-1.4zM388.4 162.3h1.4v1.4h-1.4zM371.1 165.8h1.4v1.4h-1.4zM380.5 166.1h1.4v1.4h-1.4zM385.8 163.0h1.4v1.4h-1.4zM385.0 169.8h1.4v1.4h-1.4zM382.6 164.7h1.4v1.4h-1.4zM388.2 172.4h1.4v1.4h-1.4zM389.5 162.8h1.4v1.4h-1.4zM391.2 165.9h1.4v1.4h-1.4zM387.6 159.6h1.4v1.4h-1.4zM402.0 173.9h1.4v1.4h-1.4zM390.5 161.7h1.4v1.4h-1.4zM390.1 159.9h1.4v1.4h-1.4zM381.8 164.4h1.4v1.4h-1.4zM388.9 163.2h1.4v1.4h-1.4zM380.6 168.3h1.4v1.4h-1.4zM382.3 159.3h1.4v1.4h-1.4zM378.4 164.2h1.4v1.4h-1.4zM383.7 168.4h1.4v1.4h-1.4zM392.2 161.7h1.4v1.4h-1.4zM390.6 165.0h1.4v1.4h-1.4zM386.8 167.0h1.4v1.4h-1.4zM393.3 161.9h1.4v1.4h-1.4zM393.7 175.0h1.4v1.4h-1.4zM383.5 176.3h1.4v1.4h-1.4zM382.2 171.0h1.4v1.4h-1.4zM387.4 169.9h1.4v1.4h-1.4zM388.1 163.7h1.4v1.4h-1.4zM385.5 168.4h1.4v1.4h-1.4zM382.3 165.8h1.4v1.4h-1.4zM386.1 167.4h1.4v1.4h-1.4zM384.4 158.1h1.4v1.4h-1.4zM385.8 158.6h1.4v1.4h-1.4zM391.0 169.5h1.4v1.4h-1.4zM393.8 166.5h1.4v1.4h-1.4zM382.9 173.1h1.4v1.4h-1.4zM391.4 173.3h1.4v1.4h-1.4zM385.6 163.2h1.4v1.4h-1.4zM385.5 163.3h1.4v1.4h-1.4zM380.5 170.4h1.4v1.4h-1.4zM391.2 166.2h1.4v1.4h-1.4zM387.1 174.0h1.4v1.4h-1.4zM374.0 166.8h1.4v1.4h-1.4zM382.6 163.4h1.4v1.4h-1.4zM385.9 166.4h1.4v1.4h-1.4zM382.0 164.8h1.4v1.4h-1.4zM381.7 167.5h1.4v1.4h-1.4zM378.4 171.4h1.4v1.4h-1.4zM388.8 165.7h1.4v1.4h-1.4zM394.2 160.4h1.4v1.4h-1.4zM380.3 172.3h1.4v1.4h-1.4zM377.0 168.2h1.4v1.4h-1.4zM378.2 167.1h1.4v1.4h-1.4zM388.5 177.4h1.4v1.4h-1.4zM388.9 167.1h1.4v1.4h-1.4zM381.7 162.0h1.4v1.4h-1.4zM389.8 163.0h1.4v1.4h-1.4zM388.6 162.0h1.4v1.4h-1.4zM390.2 173.3h1.4v1.4h-1.4zM382.1 169.4h1.4v1.4h-1.4zM390.1 164.3h1.4v1.4h-1.4zM394.7 163.0h1.4v1.4h-1.4zM385.6 166.3h1.4v1.4h-1.4zM386.7 172.0h1.4v1.4h-1.4zM378.3 167.5h1.4v1.4h-1.4zM390.3 163.2h1.4v1.4h-1.4zM392.7 164.9h1.4v1.4h-1.4zM384.5 165.9h1.4v1.4h-1.4zM380.1 164.4h1.4v1.4h-1.4zM392.3 171.9h1.4v1.4h-1.4zM388.2 163.4h1.4v1.4h-1.4zM390.5 167.8h1.4v1.4h-1.4zM393.2 168.8h1.4v1.4h-1.4zM381.9 163.9h1.4v1.4h-1.4zM388.5 164.6h1.4v1.4h-1.4zM388.9 162.7h1.4v1.4h-1.4zM381.1 164.6h1.4v1.4h-1.4zM396.4 169.7h1.4v1.4h-1.4zM381.6 170.9h1.4v1.4h-1.4zM379.2 170.6h1.4v1.4h-1.4zM351.0 171.7h1.4v1.4h-1.4zM377.9 171.2h1.4v1.4h-1.4zM382.6 166.9h1.4v1.4h-1.4zM366.7 168.3h1.4v1.4h-1.4zM374.4 178.6h1.4v1.4h-1.4zM384.6 177.7h1.4v1.4h-1.4zM358.4 182.9h1.4v1.4h-1.4zM377.3 177.1h1.4v1.4h-1.4zM382.6 175.3h1.4v1.4h-1.4zM390.0 163.6h1.4v1.4h-1.4zM367.9 172.4h1.4v1.4h-1.4zM379.4 167.1h1.4v1.4h-1.4zM364.2 168.3h1.4v1.4h-1.4zM387.1 166.9h1.4v1.4h-1.4zM371.5 180.6h1.4v1.4h-1.4zM363.2 175.0h1.4v1.4h-1.4zM376.3 160.8h1.4v1.4h-1.4zM378.2 178.9h1.4v1.4h-1.4zM379.6 175.0h1.4v1.4h-1.4zM376.6 171.4h1.4v1.4h-1.4zM370.7 161.9h1.4v1.4h-1.4zM364.4 178.2h1.4v1.4h-1.4zM388.4 182.7h1.4v1.4h-1.4zM393.9 173.9h1.4v1.4h-1.4zM371.2 178.9h1.4v1.4h-1.4zM373.8 171.8h1.4v1.4h-1.4zM375.0 174.8h1.4v1.4h-1.4zM352.9 183.1h1.4v1.4h-1.4zM354.0 177.3h1.4v1.4h-1.4zM405.8 155.9h1.4v1.4h-1.4zM370.8 173.0h1.4v1.4h-1.4zM382.3 163.4h1.4v1.4h-1.4zM381.5 173.6h1.4v1.4h-1.4zM395.9 168.1h1.4v1.4h-1.4zM378.6 171.4h1.4v1.4h-1.4zM382.7 170.6h1.4v1.4h-1.4zM388.5 163.3h1.4v1.4h-1.4zM374.1 181.4h1.4v1.4h-1.4zM375.3 176.7h1.4v1.4h-1.4zM364.0 178.1h1.4v1.4h-1.4zM391.9 167.4h1.4v1.4h-1.4zM377.8 166.5h1.4v1.4h-1.4zM388.5 164.7h1.4v1.4h-1.4zM386.4 174.9h1.4v1.4h-1.4zM374.5 170.5h1.4v1.4h-1.4zM378.4 182.6h1.4v1.4h-1.4zM376.3 171.6h1.4v1.4h-1.4zM387.3 178.1h1.4v1.4h-1.4zM381.4 173.4h1.4v1.4h-1.4zM373.4 175.0h1.4v1.4h-1.4zM377.6 175.7h1.4v1.4h-1.4zM372.5 182.3h1.4v1.4h-1.4zM389.9 170.9h1.4v1.4h-1.4zM366.5 175.4h1.4v1.4h-1.4zM383.2 175.5h1.4v1.4h-1.4zM372.4 167.8h1.4v1.4h-1.4zM386.4 180.8h1.4v1.4h-1.4zM346.6 194.3h1.4v1.4h-1.4zM358.7 193.8h1.4v1.4h-1.4zM354.8 190.8h1.4v1.4h-1.4zM356.8 197.5h1.4v1.4h-1.4zM354.2 195.7h1.4v1.4h-1.4zM348.9 193.8h1.4v1.4h-1.4zM350.0 193.7h1.4v1.4h-1.4zM356.0 197.2h1.4v1.4h-1.4zM353.0 196.0h1.4v1.4h-1.4zM353.5 193.5h1.4v1.4h-1.4zM356.7 194.3h1.4v1.4h-1.4zM351.4 190.8h1.4v1.4h-1.4zM352.5 196.0h1.4v1.4h-1.4zM351.0 193.3h1.4v1.4h-1.4zM349.3 197.9h1.4v1.4h-1.4zM354.6 193.2h1.4v1.4h-1.4zM354.5 196.6h1.4v1.4h-1.4zM349.2 193.5h1.4v1.4h-1.4zM346.5 191.1h1.4v1.4h-1.4zM355.1 195.9h1.4v1.4h-1.4zM350.7 195.0h1.4v1.4h-1.4zM346.9 193.3h1.4v1.4h-1.4zM351.3 194.0h1.4v1.4h-1.4zM352.5 197.5h1.4v1.4h-1.4z" fill="#111" fill-opacity="0.38"/>
<path d="M355.6 168.3h1.4v1.4h-1.4zM350.1 161.6h1.4v1.4h-1.4zM350.9 167.2h1.4v1.4h-1.4zM354.2 173.1h1.4v1.4h-1.4zM348.4 175.8h1.4v1.4h-1.4zM352.1 164.5h1.4v1.4h-1.4zM352.9 165.5h1.4v1.4h-1.4zM350.1 163.7h1.4v1.4h-1.4zM347.3 168.2h1.4v1.4h-1.4zM352.8 168.0h1.4v1.4h-1.4zM354.0 183.1h1.4v1.4h-1.4zM356.1 176.9h1.4v1.4h-1.4zM352.2 174.5h1.4v1.4h-1.4zM352.6 171.6h1.4v1.4h-1.4zM357.2 177.2h1.4v1.4h-1.4zM357.7 164.4h1.4v1.4h-1.4zM349.3 175.8h1.4v1.4h-1.4zM355.9 172.3h1.4v1.4h-1.4zM352.6 171.0h1.4v1.4h-1.4zM355.0 169.7h1.4v1.4h-1.4zM353.4 169.2h1.4v1.4h-1.4zM345.9 173.0h1.4v1.4h-1.4zM351.7 172.0h1.4v1.4h-1.4zM351.3 166.8h1.4v1.4h-1.4zM350.2 165.3h1.4v1.4h-1.4zM358.6 162.1h1.4v1.4h-1.4zM352.6 174.5h1.4v1.4h-1.4zM354.9 177.4h1.4v1.4h-1.4zM356.6 168.2h1.4v1.4h-1.4zM354.7 169.7h1.4v1.4h-1.4zM354.3 172.3h1.4v1.4h-1.4zM354.7 168.4h1.4v1.4h-1.4zM351.2 186.4h1.4v1.4h-1.4zM386.2 161.1h1.4v1.4h-1.4zM394.2 168.7h1.4v1.4h-1.4zM380.5 167.9h1.4v1.4h-1.4zM390.6 168.3h1.4v1.4h-1.4zM388.8 172.4h1.4v1.4h-1.4zM387.4 166.1h1.4v1.4h-1.4zM389.5 176.1h1.4v1.4h-1.4zM395.2 173.0h1.4v1.4h-1.4zM382.0 168.2h1.4v1.4h-1.4zM390.6 166.1h1.4v1.4h-1.4zM381.0 169.1h1.4v1.4h-1.4zM392.3 174.2h1.4v1.4h-1.4zM385.7 168.0h1.4v1.4h-1.4zM380.6 165.9h1.4v1.4h-1.4zM379.9 164.0h1.4v1.4h-1.4zM384.2 162.9h1.4v1.4h-1.4zM391.8 163.0h1.4v1.4h-1.4zM384.7 166.2h1.4v1.4h-1.4zM389.0 173.1h1.4v1.4h-1.4zM385.5 169.6h1.4v1.4h-1.4zM377.6 165.1h1.4v1.4h-1.4zM383.9 167.5h1.4v1.4h-1.4zM386.0 163.3h1.4v1.4h-1.4zM386.3 171.0h1.4v1.4h-1.4zM392.3 160.9h1.4v1.4h-1.4zM386.5 167.2h1.4v1.4h-1.4zM392.7 168.5h1.4v1.4h-1.4zM381.2 172.7h1.4v1.4h-1.4zM388.4 165.3h1.4v1.4h-1.4zM380.2 167.4h1.4v1.4h-1.4zM395.9 174.1h1.4v1.4h-1.4zM389.3 171.2h1.4v1.4h-1.4zM388.6 165.7h1.4v1.4h-1.4zM383.5 161.7h1.4v1.4h-1.4zM385.3 169.0h1.4v1.4h-1.4zM392.0 159.1h1.4v1.4h-1.4zM385.9 167.5h1.4v1.4h-1.4zM388.7 165.8h1.4v1.4h-1.4zM384.5 169.9h1.4v1.4h-1.4zM380.5 170.8h1.4v1.4h-1.4zM383.8 169.8h1.4v1.4h-1.4zM390.7 168.5h1.4v1.4h-1.4zM394.5 169.2h1.4v1.4h-1.4zM377.8 167.7h1.4v1.4h-1.4zM391.2 166.3h1.4v1.4h-1.4zM381.0 170.0h1.4v1.4h-1.4zM389.6 168.5h1.4v1.4h-1.4zM394.3 167.7h1.4v1.4h-1.4zM383.2 170.0h1.4v1.4h-1.4zM384.6 175.0h1.4v1.4h-1.4zM386.7 166.9h1.4v1.4h-1.4zM384.0 167.8h1.4v1.4h-1.4zM386.8 168.5h1.4v1.4h-1.4zM392.3 160.8h1.4v1.4h-1.4zM390.5 158.0h1.4v1.4h-1.4zM387.5 168.0h1.4v1.4h-1.4zM389.6 168.4h1.4v1.4h-1.4zM382.3 171.0h1.4v1.4h-1.4zM384.7 166.2h1.4v1.4h-1.4zM390.8 160.6h1.4v1.4h-1.4zM388.6 167.4h1.4v1.4h-1.4zM380.3 169.9h1.4v1.4h-1.4zM382.6 164.9h1.4v1.4h-1.4zM380.4 168.9h1.4v1.4h-1.4zM384.3 169.1h1.4v1.4h-1.4zM390.9 171.7h1.4v1.4h-1.4zM386.7 166.6h1.4v1.4h-1.4zM390.5 166.0h1.4v1.4h-1.4zM383.4 167.2h1.4v1.4h-1.4zM384.6 164.1h1.4v1.4h-1.4zM391.8 161.8h1.4v1.4h-1.4zM393.1 172.1h1.4v1.4h-1.4zM378.8 161.8h1.4v1.4h-1.4zM388.0 167.0h1.4v1.4h-1.4zM383.5 164.3h1.4v1.4h-1.4zM380.8 168.8h1.4v1.4h-1.4zM377.9 161.8h1.4v1.4h-1.4zM397.2 170.6h1.4v1.4h-1.4zM398.0 171.6h1.4v1.4h-1.4zM385.2 161.1h1.4v1.4h-1.4zM390.8 165.4h1.4v1.4h-1.4zM385.9 167.3h1.4v1.4h-1.4zM372.3 170.1h1.4v1.4h-1.4zM394.2 168.6h1.4v1.4h-1.4zM397.4 168.0h1.4v1.4h-1.4zM386.5 167.3h1.4v1.4h-1.4zM385.4 168.9h1.4v1.4h-1.4zM388.7 161.0h1.4v1.4h-1.4zM380.1 168.3h1.4v1.4h-1.4zM385.7 162.2h1.4v1.4h-1.4zM388.7 164.1h1.4v1.4h-1.4zM370.8 177.3h1.4v1.4h-1.4zM383.7 180.0h1.4v1.4h-1.4zM383.3 187.0h1.4v1.4h-1.4zM375.2 181.7h1.4v1.4h-1.4zM387.9 178.7h1.4v1.4h-1.4zM393.6 168.8h1.4v1.4h-1.4zM395.8 164.6h1.4v1.4h-1.4zM374.9 165.8h1.4v1.4h-1.4zM382.7 173.4h1.4v1.4h-1.4zM377.8 169.8h1.4v1.4h-1.4zM382.3 167.8h1.4v1.4h-1.4zM389.6 168.8h1.4v1.4h-1.4zM378.4 183.0h1.4v1.4h-1.4zM382.9 172.6h1.4v1.4h-1.4zM380.1 181.6h1.4v1.4h-1.4zM382.7 182.2h1.4v1.4h-1.4zM387.2 166.3h1.4v1.4h-1.4zM371.2 167.0h1.4v1.4h-1.4zM391.4 172.6h1.4v1.4h-1.4zM376.0 179.9h1.4v1.4h-1.4zM374.6 169.2h1.4v1.4h-1.4zM394.4 169.2h1.4v1.4h-1.4zM388.3 180.4h1.4v1.4h-1.4zM370.7 180.3h1.4v1.4h-1.4zM375.9 177.9h1.4v1.4h-1.4zM386.3 181.8h1.4v1.4h-1.4zM391.3 167.3h1.4v1.4h-1.4zM364.7 177.5h1.4v1.4h-1.4zM391.1 170.9h1.4v1.4h-1.4zM387.3 165.9h1.4v1.4h-1.4zM366.3 178.6h1.4v1.4h-1.4zM388.1 158.1h1.4v1.4h-1.4zM363.4 182.8h1.4v1.4h-1.4zM389.6 173.3h1.4v1.4h-1.4zM379.1 172.9h1.4v1.4h-1.4zM364.0 176.4h1.4v1.4h-1.4zM366.2 174.8h1.4v1.4h-1.4zM373.5 178.7h1.4v1.4h-1.4zM373.4 167.8h1.4v1.4h-1.4zM377.7 161.2h1.4v1.4h-1.4zM381.1 169.0h1.4v1.4h-1.4zM373.9 179.0h1.4v1.4h-1.4zM374.7 167.2h1.4v1.4h-1.4zM375.2 166.1h1.4v1.4h-1.4zM382.3 175.4h1.4v1.4h-1.4zM379.3 184.1h1.4v1.4h-1.4zM383.2 172.3h1.4v1.4h-1.4zM388.6 171.0h1.4v1.4h-1.4zM377.0 165.3h1.4v1.4h-1.4zM380.0 162.6h1.4v1.4h-1.4zM378.5 181.8h1.4v1.4h-1.4zM387.3 176.5h1.4v1.4h-1.4zM388.8 168.8h1.4v1.4h-1.4zM349.9 194.9h1.4v1.4h-1.4zM348.6 200.9h1.4v1.4h-1.4zM350.2 194.2h1.4v1.4h-1.4zM345.9 187.6h1.4v1.4h-1.4zM350.7 194.7h1.4v1.4h-1.4zM348.8 195.4h1.4v1.4h-1.4zM353.9 197.2h1.4v1.4h-1.4zM349.8 200.1h1.4v1.4h-1.4zM356.0 185.5h1.4v1.4h-1.4zM347.8 195.6h1.4v1.4h-1.4zM348.9 191.0h1.4v1.4h-1.4zM352.4 185.9h1.4v1.4h-1.4zM356.7 192.8h1.4v1.4h-1.4zM346.3 191.3h1.4v1.4h-1.4zM350.4 194.4h1.4v1.4h-1.4zM346.2 195.5h1.4v1.4h-1.4zM348.9 194.6h1.4v1.4h-1.4z" fill="#111" fill-opacity="0.38"/>
<path d="M359.8 172.1h1.2v1.2h-1.2zM353.6 162.9h1.2v1.2h-1.2zM348.7 168.2h1.2v1.2h-1.2zM349.5 163.2h1.2v1.2h-1.2zM351.0 175.0h1.2v1.2h-1.2zM351.1 170.4h1.2v1.2h-1.2zM355.4 175.7h1.2v1.2h-1.2zM353.1 179.9h1.2v1.2h-1.2zM354.2 174.5h1.2v1.2h-1.2zM346.5 159.5h1.2v1.2h-1.2zM352.0 165.3h1.2v1.2h-1.2zM354.1 176.9h1.2v1.2h-1.2zM357.7 174.3h1.2v1.2h-1.2zM349.7 172.4h1.2v1.2h-1.2zM349.0 175.5h1.2v1.2h-1.2zM348.9 171.7h1.2v1.2h-1.2zM350.8 171.5h1.2v1.2h-1.2zM349.9 174.9h1.2v1.2h-1.2zM354.5 166.8h1.2v1.2h-1.2zM358.1 164.6h1.2v1.2h-1.2zM350.9 175.7h1.2v1.2h-1.2zM351.9 162.7h1.2v1.2h-1.2zM350.5 162.6h1.2v1.2h-1.2zM358.1 170.1h1.2v1.2h-1.2zM356.0 173.3h1.2v1.2h-1.2zM351.9 172.9h1.2v1.2h-1.2zM351.3 168.6h1.2v1.2h-1.2zM351.5 169.8h1.2v1.2h-1.2zM352.6 179.7h1.2v1.2h-1.2zM351.5 172.9h1.2v1.2h-1.2zM347.6 169.4h1.2v1.2h-1.2zM351.7 172.6h1.2v1.2h-1.2zM348.6 175.7h1.2v1.2h-1.2zM387.1 170.1h1.2v1.2h-1.2zM378.6 165.4h1.2v1.2h-1.2zM382.0 165.3h1.2v1.2h-1.2zM386.2 161.9h1.2v1.2h-1.2zM378.1 172.9h1.2v1.2h-1.2zM382.7 167.9h1.2v1.2h-1.2zM381.3 170.2h1.2v1.2h-1.2zM386.9 162.7h1.2v1.2h-1.2zM383.7 164.5h1.2v1.2h-1.2zM382.9 165.7h1.2v1.2h-1.2zM384.5 175.9h1.2v1.2h-1.2zM384.8 164.4h1.2v1.2h-1.2zM388.4 164.3h1.2v1.2h-1.2zM388.1 172.2h1.2v1.2h-1.2zM388.2 169.6h1.2v1.2h-1.2zM392.7 166.6h1.2v1.2h-1.2zM387.8 169.2h1.2v1.2h-1.2zM381.3 164.1h1.2v1.2h-1.2zM393.3 161.4h1.2v1.2h-1.2zM382.6 167.7h1.2v1.2h-1.2zM383.3 169.9h1.2v1.2h-1.2zM381.3 166.4h1.2v1.2h-1.2zM391.1 164.8h1.2v1.2h-1.2zM389.8 172.7h1.2v1.2h-1.2zM388.0 173.6h1.2v1.2h-1.2zM386.5 166.9h1.2v1.2h-1.2zM382.1 162.3h1.2v1.2h-1.2zM391.0 183.0h1.2v1.2h-1.2zM380.3 169.5h1.2v1.2h-1.2zM390.9 172.1h1.2v1.2h-1.2zM386.5 167.2h1.2v1.2h-1.2zM393.1 167.5h1.2v1.2h-1.2zM386.8 164.4h1.2v1.2h-1.2zM383.3 163.9h1.2v1.2h-1.2zM391.7 171.7h1.2v1.2h-1.2zM380.5 163.1h1.2v1.2h-1.2zM388.7 170.9h1.2v1.2h-1.2zM383.9 169.5h1.2v1.2h-1.2zM388.8 167.2h1.2v1.2h-1.2zM384.5 168.1h1.2v1.2h-1.2zM380.3 165.1h1.2v1.2h-1.2zM386.8 170.9h1.2v1.2h-1.2zM388.2 163.7h1.2v1.2h-1.2zM384.4 175.3h1.2v1.2h-1.2zM392.0 157.5h1.2v1.2h-1.2zM383.2 159.1h1.2v1.2h-1.2zM384.4 169.7h1.2v1.2h-1.2zM385.5 168.8h1.2v1.2h-1.2zM393.2 165.4h1.2v1.2h-1.2zM381.4 169.4h1.2v1.2h-1.2zM386.9 171.1h1.2v1.2h-1.2zM390.0 169.3h1.2v1.2h-1.2zM382.7 167.0h1.2v1.2h-1.2zM387.8 168.7h1.2v1.2h-1.2zM388.6 164.8h1.2v1.2h-1.2zM390.2 166.4h1.2v1.2h-1.2zM382.2 164.8h1.2v1.2h-1.2zM386.2 166.6h1.2v1.2h-1.2zM387.0 170.2h1.2v1.2h-1.2zM391.3 160.6h1.2v1.2h-1.2zM382.1 164.9h1.2v1.2h-1.2zM384.5 170.4h1.2v1.2h-1.2zM387.0 167.3h1.2v1.2h-1.2zM387.9 164.9h1.2v1.2h-1.2zM385.5 173.2h1.2v1.2h-1.2zM380.5 168.2h1.2v1.2h-1.2zM380.2 165.5h1.2v1.2h-1.2zM378.4 169.4h1.2v1.2h-1.2zM381.8 163.2h1.2v1.2h-1.2zM390.5 171.3h1.2v1.2h-1.2zM389.9 166.5h1.2v1.2h-1.2zM376.4 164.2h1.2v1.2h-1.2zM388.1 170.7h1.2v1.2h-1.2zM391.2 164.9h1.2v1.2h-1.2zM387.7 164.8h1.2v1.2h-1.2zM386.8 166.2h1.2v1.2h-1.2zM377.4 170.8h1.2v1.2h-1.2zM380.8 166.9h1.2v1.2h-1.2zM383.6 164.5h1.2v1.2h-1.2zM381.3 163.5h1.2v1.2h-1.2zM386.7 170.3h1.2v1.2h-1.2zM386.6 167.0h1.2v1.2h-1.2zM390.7 163.8h1.2v1.2h-1.2zM395.6 165.1h1.2v1.2h-1.2zM382.2 167.1h1.2v1.2h-1.2zM378.0 160.9h1.2v1.2h-1.2zM384.3 169.7h1.2v1.2h-1.2zM381.2 168.8h1.2v1.2h-1.2zM382.8 163.8h1.2v1.2h-1.2zM386.1 170.7h1.2v1.2h-1.2zM386.9 166.6h1.2v1.2h-1.2zM382.5 164.8h1.2v1.2h-1.2zM383.4 171.4h1.2v1.2h-1.2zM393.9 170.7h1.2v1.2h-1.2zM382.5 174.5h1.2v1.2h-1.2zM387.1 171.2h1.2v1.2h-1.2zM388.9 172.9h1.2v1.2h-1.2zM388.5 170.7h1.2v1.2h-1.2zM394.1 171.9h1.2v1.2h-1.2zM379.0 162.5h1.2v1.2h-1.2zM380.5 168.8h1.2v1.2h-1.2zM388.3 165.4h1.2v1.2h-1.2zM397.7 165.2h1.2v1.2h-1.2zM385.0 171.2h1.2v1.2h-1.2zM379.6 171.2h1.2v1.2h-1.2zM377.9 186.4h1.2v1.2h-1.2zM377.0 171.7h1.2v1.2h-1.2zM369.8 169.5h1.2v1.2h-1.2zM393.4 169.8h1.2v1.2h-1.2zM370.2 173.7h1.2v1.2h-1.2zM381.2 171.1h1.2v1.2h-1.2zM393.8 171.3h1.2v1.2h-1.2zM377.6 171.6h1.2v1.2h-1.2zM396.1 163.5h1.2v1.2h-1.2zM370.1 170.9h1.2v1.2h-1.2zM379.4 171.5h1.2v1.2h-1.2zM381.1 171.1h1.2v1.2h-1.2zM394.2 172.0h1.2v1.2h-1.2zM374.2 176.7h1.2v1.2h-1.2zM375.7 175.7h1.2v1.2h-1.2zM364.4 172.8h1.2v1.2h-1.2zM377.5 173.1h1.2v1.2h-1.2zM374.2 173.6h1.2v1.2h-1.2zM385.5 174.8h1.2v1.2h-1.2zM365.4 177.5h1.2v1.2h-1.2zM407.2 164.0h1.2v1.2h-1.2zM384.8 171.4h1.2v1.2h-1.2zM375.9 173.6h1.2v1.2h-1.2zM388.0 173.4h1.2v1.2h-1.2zM379.2 169.0h1.2v1.2h-1.2zM373.4 169.8h1.2v1.2h-1.2zM377.9 175.8h1.2v1.2h-1.2zM386.8 164.7h1.2v1.2h-1.2zM379.4 181.1h1.2v1.2h-1.2zM367.6 183.5h1.2v1.2h-1.2zM387.1 167.6h1.2v1.2h-1.2zM367.6 172.1h1.2v1.2h-1.2zM362.9 174.7h1.2v1.2h-1.2zM373.0 173.2h1.2v1.2h-1.2zM384.3 169.1h1.2v1.2h-1.2zM377.9 166.1h1.2v1.2h-1.2zM366.3 169.0h1.2v1.2h-1.2zM386.7 174.2h1.2v1.2h-1.2zM390.3 167.3h1.2v1.2h-1.2zM376.7 177.6h1.2v1.2h-1.2zM381.7 174.3h1.2v1.2h-1.2zM376.3 164.0h1.2v1.2h-1.2zM376.0 167.2h1.2v1.2h-1.2zM388.5 160.3h1.2v1.2h-1.2zM394.1 179.7h1.2v1.2h-1.2zM371.3 168.7h1.2v1.2h-1.2zM374.5 176.9h1.2v1.2h-1.2zM354.5 175.7h1.2v1.2h-1.2zM374.4 179.2h1.2v1.2h-1.2zM371.9 167.3h1.2v1.2h-1.2zM375.1 170.2h1.2v1.2h-1.2zM381.8 168.5h1.2v1.2h-1.2zM386.0 173.7h1.2v1.2h-1.2zM386.5 171.3h1.2v1.2h-1.2zM383.7 161.1h1.2v1.2h-1.2zM389.6 171.3h1.2v1.2h-1.2zM369.3 175.1h1.2v1.2h-1.2zM387.2 164.9h1.2v1.2h-1.2zM386.7 168.3h1.2v1.2h-1.2zM373.0 156.5h1.2v1.2h-1.2zM361.9 172.9h1.2v1.2h-1.2zM378.8 175.4h1.2v1.2h-1.2zM380.1 166.1h1.2v1.2h-1.2zM400.0 161.5h1.2v1.2h-1.2zM378.4 173.0h1.2v1.2h-1.2zM371.1 175.2h1.2v1.2h-1.2zM369.1 185.8h1.2v1.2h-1.2zM391.0 159.9h1.2v1.2h-1.2zM376.4 161.3h1.2v1.2h-1.2zM362.2 171.7h1.2v1.2h-1.2zM385.6 166.4h1.2v1.2h-1.2zM355.3 181.7h1.2v1.2h-1.2zM379.4 175.2h1.2v1.2h-1.2zM351.9 198.9h1.2v1.2h-1.2zM358.6 195.0h1.2v1.2h-1.2zM353.9 193.6h1.2v1.2h-1.2zM350.5 200.0h1.2v1.2h-1.2zM351.8 191.4h1.2v1.2h-1.2zM351.0 193.5h1.2v1.2h-1.2zM352.3 194.9h1.2v1.2h-1.2zM352.9 197.5h1.2v1.2h-1.2zM357.5 196.5h1.2v1.2h-1.2zM352.6 185.5h1.2v1.2h-1.2zM349.7 192.6h1.2v1.2h-1.2zM349.1 190.2h1.2v1.2h-1.2zM356.2 193.2h1.2v1.2h-1.2zM345.9 198.7h1.2v1.2h-1.2zM348.8 186.1h1.2v1.2h-1.2zM348.4 191.1h1.2v1.2h-1.2zM348.1 192.1h1.2v1.2h-1.2zM346.6 198.6h1.2v1.2h-1.2zM350.9 192.8h1.2v1.2h-1.2zM357.1 192.5h1.2v1.2h-1.2zM349.2 195.6h1.2v1.2h-1.2zM355.1 197.1h1.2v1.2h-1.2zM346.9 190.7h1.2v1.2h-1.2zM348.9 194.8h1.2v1.2h-1.2zM350.1 192.9h1.2v1.2h-1.2zM355.0 197.7h1.2v1.2h-1.2zM351.3 190.6h1.2v1.2h-1.2zM353.5 194.4h1.2v1.2h-1.2zM387.2 198.0h1.2v1.2h-1.2zM390.3 194.8h1.2v1.2h-1.2zM395.9 195.8h1.2v1.2h-1.2zM375.2 191.5h1.2v1.2h-1.2zM380.3 193.1h1.2v1.2h-1.2zM390.0 195.6h1.2v1.2h-1.2zM375.2 197.8h1.2v1.2h-1.2zM393.9 193.1h1.2v1.2h-1.2zM369.1 194.5h1.2v1.2h-1.2zM370.2 191.5h1.2v1.2h-1.2zM378.9 197.0h1.2v1.2h-1.2zM395.3 194.2h1.2v1.2h-1.2zM348.8 193.9h1.2v1.2h-1.2zM368.6 192.9h1.2v1.2h-1.2zM371.0 200.1h1.2v1.2h-1.2zM374.1 193.9h1.2v1.2h-1.2zM373.6 202.3h1.2v1.2h-1.2zM382.9 197.0h1.2v1.2h-1.2zM392.6 189.7h1.2v1.2h-1.2zM389.4 194.1h1.2v1.2h-1.2zM376.0 192.1h1.2v1.2h-1.2zM382.2 190.7h1.2v1.2h-1.2zM396.0 200.8h1.2v1.2h-1.2zM390.4 192.9h1.2v1.2h-1.2zM383.3 192.2h1.2v1.2h-1.2zM367.8 191.6h1.2v1.2h-1.2zM385.5 199.5h1.2v1.2h-1.2zM376.5 198.6h1.2v1.2h-1.2zM395.5 197.2h1.2v1.2h-1.2zM377.2 198.8h1.2v1.2h-1.2zM376.1 193.8h1.2v1.2h-1.2zM372.7 188.8h1.2v1.2h-1.2zM383.3 197.5h1.2v1.2h-1.2zM367.9 190.4h1.2v1.2h-1.2zM375.9 193.0h1.2v1.2h-1.2zM390.7 201.7h1.2v1.2h-1.2zM388.0 194.1h1.2v1.2h-1.2zM386.7 191.0h1.2v1.2h-1.2zM376.7 202.8h1.2v1.2h-1.2zM376.0 196.2h1.2v1.2h-1.2zM371.6 195.0h1.2v1.2h-1.2zM396.3 192.4h1.2v1.2h-1.2zM369.1 194.6h1.2v1.2h-1.2zM384.4 197.8h1.2v1.2h-1.2zM367.1 201.7h1.2v1.2h-1.2z" fill="#111" fill-opacity="0.28"/>
<path d="M348.0 170.8h1.2v1.2h-1.2zM355.9 152.6h1.2v1.2h-1.2zM351.2 176.0h1.2v1.2h-1.2zM356.4 166.9h1.2v1.2h-1.2zM349.7 172.1h1.2v1.2h-1.2zM347.5 175.0h1.2v1.2h-1.2zM348.0 175.5h1.2v1.2h-1.2zM354.9 176.2h1.2v1.2h-1.2zM356.3 169.4h1.2v1.2h-1.2zM349.0 175.9h1.2v1.2h-1.2zM352.9 172.0h1.2v1.2h-1.2zM345.4 168.7h1.2v1.2h-1.2zM352.5 179.6h1.2v1.2h-1.2zM350.7 180.0h1.2v1.2h-1.2zM358.7 171.5h1.2v1.2h-1.2zM354.5 167.5h1.2v1.2h-1.2zM352.0 170.7h1.2v1.2h-1.2zM355.1 175.3h1.2v1.2h-1.2zM355.2 171.1h1.2v1.2h-1.2zM360.2 163.5h1.2v1.2h-1.2zM349.6 181.6h1.2v1.2h-1.2zM347.5 177.5h1.2v1.2h-1.2zM352.6 178.9h1.2v1.2h-1.2zM356.3 168.4h1.2v1.2h-1.2zM353.4 172.6h1.2v1.2h-1.2zM351.3 175.0h1.2v1.2h-1.2zM348.2 168.2h1.2v1.2h-1.2zM351.6 166.6h1.2v1.2h-1.2zM356.5 177.5h1.2v1.2h-1.2zM354.0 178.6h1.2v1.2h-1.2zM346.2 169.6h1.2v1.2h-1.2zM358.9 175.2h1.2v1.2h-1.2zM387.1 171.9h1.2v1.2h-1.2zM390.6 164.3h1.2v1.2h-1.2zM386.2 175.0h1.2v1.2h-1.2zM378.7 163.9h1.2v1.2h-1.2zM380.9 164.7h1.2v1.2h-1.2zM395.0 166.2h1.2v1.2h-1.2zM387.0 170.1h1.2v1.2h-1.2zM381.4 171.0h1.2v1.2h-1.2zM383.4 163.4h1.2v1.2h-1.2zM386.9 161.9h1.2v1.2h-1.2zM399.2 161.5h1.2v1.2h-1.2zM392.6 170.8h1.2v1.2h-1.2zM388.0 161.0h1.2v1.2h-1.2zM390.6 162.5h1.2v1.2h-1.2zM384.7 165.0h1.2v1.2h-1.2zM385.6 164.9h1.2v1.2h-1.2zM395.1 167.2h1.2v1.2h-1.2zM388.9 169.5h1.2v1.2h-1.2zM382.2 168.9h1.2v1.2h-1.2zM388.8 167.4h1.2v1.2h-1.2zM388.0 166.9h1.2v1.2h-1.2zM371.7 164.5h1.2v1.2h-1.2zM374.5 169.2h1.2v1.2h-1.2zM389.4 172.5h1.2v1.2h-1.2zM381.5 163.2h1.2v1.2h-1.2zM386.3 178.4h1.2v1.2h-1.2zM378.3 165.9h1.2v1.2h-1.2zM388.4 168.2h1.2v1.2h-1.2zM387.0 171.1h1.2v1.2h-1.2zM392.7 164.7h1.2v1.2h-1.2zM384.9 162.5h1.2v1.2h-1.2zM381.1 160.9h1.2v1.2h-1.2zM385.9 168.1h1.2v1.2h-1.2zM386.6 160.5h1.2v1.2h-1.2zM391.3 166.4h1.2v1.2h-1.2zM390.7 168.9h1.2v1.2h-1.2zM378.4 171.5h1.2v1.2h-1.2zM386.2 163.7h1.2v1.2h-1.2zM383.9 163.4h1.2v1.2h-1.2zM393.0 163.8h1.2v1.2h-1.2zM384.0 162.0h1.2v1.2h-1.2zM390.4 170.0h1.2v1.2h-1.2zM389.7 171.0h1.2v1.2h-1.2zM389.0 166.7h1.2v1.2h-1.2zM395.1 168.7h1.2v1.2h-1.2zM392.6 169.7h1.2v1.2h-1.2zM389.6 162.6h1.2v1.2h-1.2zM388.9 167.3h1.2v1.2h-1.2zM382.1 163.7h1.2v1.2h-1.2zM381.8 165.0h1.2v1.2h-1.2zM378.4 168.3h1.2v1.2h-1.2zM388.3 160.3h1.2v1.2h-1.2zM389.5 171.4h1.2v1.2h-1.2zM383.0 164.7h1.2v1.2h-1.2zM389.2 167.2h1.2v1.2h-1.2zM386.3 168.4h1.2v1.2h-1.2zM386.2 162.0h1.2v1.2h-1.2zM388.2 170.1h1.2v1.2h-1.2zM383.6 169.2h1.2v1.2h-1.2zM389.7 170.5h1.2v1.2h-1.2zM381.7 169.8h1.2v1.2h-1.2zM392.3 168.6h1.2v1.2h-1.2zM390.4 170.6h1.2v1.2h-1.2zM382.3 167.8h1.2v1.2h-1.2zM399.0 172.2h1.2v1.2h-1.2zM386.0 170.3h1.2v1.2h-1.2zM393.6 162.6h1.2v1.2h-1.2zM390.0 164.0h1.2v1.2h-1.2zM383.7 167.2h1.2v1.2h-1.2zM387.9 165.7h1.2v1.2h-1.2zM388.7 163.9h1.2v1.2h-1.2zM389.2 171.9h1.2v1.2h-1.2zM385.1 170.5h1.2v1.2h-1.2zM383.3 175.2h1.2v1.2h-1.2zM387.2 170.2h1.2v1.2h-1.2zM379.2 166.7h1.2v1.2h-1.2zM382.4 172.5h1.2v1.2h-1.2zM389.8 173.6h1.2v1.2h-1.2zM387.8 166.1h1.2v1.2h-1.2zM382.4 166.3h1.2v1.2h-1.2zM385.4 166.4h1.2v1.2h-1.2zM387.1 159.4h1.2v1.2h-1.2zM389.1 159.9h1.2v1.2h-1.2zM379.5 159.9h1.2v1.2h-1.2zM387.7 163.0h1.2v1.2h-1.2zM380.2 171.5h1.2v1.2h-1.2zM376.5 165.5h1.2v1.2h-1.2zM388.2 168.2h1.2v1.2h-1.2zM388.7 163.2h1.2v1.2h-1.2zM382.7 173.5h1.2v1.2h-1.2zM389.9 165.1h1.2v1.2h-1.2zM390.0 163.3h1.2v1.2h-1.2zM393.9 174.0h1.2v1.2h-1.2zM384.0 174.5h1.2v1.2h-1.2zM384.5 167.3h1.2v1.2h-1.2zM392.1 172.7h1.2v1.2h-1.2zM382.8 168.9h1.2v1.2h-1.2zM385.5 164.0h1.2v1.2h-1.2zM388.6 164.1h1.2v1.2h-1.2zM392.3 156.1h1.2v1.2h-1.2zM393.4 167.2h1.2v1.2h-1.2zM382.9 171.5h1.2v1.2h-1.2zM381.2 165.3h1.2v1.2h-1.2zM385.4 178.5h1.2v1.2h-1.2zM383.1 171.5h1.2v1.2h-1.2zM386.0 159.7h1.2v1.2h-1.2zM393.1 166.3h1.2v1.2h-1.2zM381.6 171.2h1.2v1.2h-1.2zM390.5 169.7h1.2v1.2h-1.2zM389.7 170.0h1.2v1.2h-1.2zM389.0 168.6h1.2v1.2h-1.2zM396.7 163.5h1.2v1.2h-1.2zM388.3 166.9h1.2v1.2h-1.2zM390.7 168.4h1.2v1.2h-1.2zM374.6 170.0h1.2v1.2h-1.2zM389.8 161.3h1.2v1.2h-1.2zM384.4 168.7h1.2v1.2h-1.2zM373.9 160.2h1.2v1.2h-1.2zM387.8 167.0h1.2v1.2h-1.2zM384.6 165.3h1.2v1.2h-1.2zM392.2 162.3h1.2v1.2h-1.2zM386.1 166.0h1.2v1.2h-1.2zM388.3 172.2h1.2v1.2h-1.2zM379.9 169.0h1.2v1.2h-1.2zM388.6 162.4h1.2v1.2h-1.2zM389.7 168.5h1.2v1.2h-1.2zM374.6 173.4h1.2v1.2h-1.2zM388.0 174.4h1.2v1.2h-1.2zM385.9 169.9h1.2v1.2h-1.2zM363.0 182.5h1.2v1.2h-1.2zM381.5 165.6h1.2v1.2h-1.2zM366.2 167.1h1.2v1.2h-1.2zM381.9 168.7h1.2v1.2h-1.2zM384.7 167.2h1.2v1.2h-1.2zM375.9 154.8h1.2v1.2h-1.2zM373.8 174.4h1.2v1.2h-1.2zM381.3 179.4h1.2v1.2h-1.2zM366.7 177.5h1.2v1.2h-1.2zM367.9 175.0h1.2v1.2h-1.2zM355.2 184.8h1.2v1.2h-1.2zM374.0 170.3h1.2v1.2h-1.2zM372.6 172.0h1.2v1.2h-1.2zM370.9 174.0h1.2v1.2h-1.2zM380.1 172.0h1.2v1.2h-1.2zM389.0 173.7h1.2v1.2h-1.2zM387.9 165.4h1.2v1.2h-1.2zM368.3 163.4h1.2v1.2h-1.2zM370.2 185.8h1.2v1.2h-1.2zM388.0 164.6h1.2v1.2h-1.2zM384.0 160.4h1.2v1.2h-1.2zM389.8 167.2h1.2v1.2h-1.2zM375.5 163.8h1.2v1.2h-1.2zM395.4 160.3h1.2v1.2h-1.2zM381.2 169.6h1.2v1.2h-1.2zM387.1 166.0h1.2v1.2h-1.2zM399.8 170.7h1.2v1.2h-1.2zM371.1 183.2h1.2v1.2h-1.2zM365.1 171.9h1.2v1.2h-1.2zM394.4 169.1h1.2v1.2h-1.2zM388.0 182.5h1.2v1.2h-1.2zM374.7 177.4h1.2v1.2h-1.2zM386.2 175.2h1.2v1.2h-1.2zM382.8 158.7h1.2v1.2h-1.2zM384.5 169.1h1.2v1.2h-1.2zM369.8 167.8h1.2v1.2h-1.2zM358.1 168.9h1.2v1.2h-1.2zM372.7 170.6h1.2v1.2h-1.2zM377.6 170.8h1.2v1.2h-1.2zM383.8 169.0h1.2v1.2h-1.2zM375.6 171.3h1.2v1.2h-1.2zM384.5 168.4h1.2v1.2h-1.2zM391.5 167.3h1.2v1.2h-1.2zM381.9 165.7h1.2v1.2h-1.2zM387.4 173.3h1.2v1.2h-1.2zM383.2 175.2h1.2v1.2h-1.2zM389.4 179.5h1.2v1.2h-1.2zM378.3 169.4h1.2v1.2h-1.2zM386.2 164.3h1.2v1.2h-1.2zM378.6 183.6h1.2v1.2h-1.2zM370.9 173.3h1.2v1.2h-1.2zM376.7 165.1h1.2v1.2h-1.2zM375.8 167.2h1.2v1.2h-1.2zM383.5 177.5h1.2v1.2h-1.2zM376.7 171.1h1.2v1.2h-1.2zM371.2 185.7h1.2v1.2h-1.2zM403.5 158.0h1.2v1.2h-1.2zM373.4 171.8h1.2v1.2h-1.2zM357.8 171.6h1.2v1.2h-1.2zM378.5 167.6h1.2v1.2h-1.2zM391.2 164.5h1.2v1.2h-1.2zM380.5 178.2h1.2v1.2h-1.2zM378.9 178.0h1.2v1.2h-1.2zM383.0 166.1h1.2v1.2h-1.2zM374.8 167.1h1.2v1.2h-1.2zM390.7 166.7h1.2v1.2h-1.2zM351.1 193.2h1.2v1.2h-1.2zM347.3 194.0h1.2v1.2h-1.2zM358.3 192.8h1.2v1.2h-1.2zM351.4 195.0h1.2v1.2h-1.2zM357.0 194.7h1.2v1.2h-1.2zM352.5 197.0h1.2v1.2h-1.2zM354.5 193.4h1.2v1.2h-1.2zM352.8 197.5h1.2v1.2h-1.2zM349.5 186.0h1.2v1.2h-1.2zM353.2 191.2h1.2v1.2h-1.2zM358.5 198.1h1.2v1.2h-1.2zM348.6 192.5h1.2v1.2h-1.2zM357.3 190.8h1.2v1.2h-1.2zM352.3 193.5h1.2v1.2h-1.2zM359.2 199.8h1.2v1.2h-1.2zM353.4 198.5h1.2v1.2h-1.2zM348.5 193.0h1.2v1.2h-1.2zM355.6 199.5h1.2v1.2h-1.2zM345.8 196.1h1.2v1.2h-1.2zM351.3 201.4h1.2v1.2h-1.2zM351.2 201.5h1.2v1.2h-1.2zM350.4 196.3h1.2v1.2h-1.2zM376.8 198.7h1.2v1.2h-1.2zM381.6 194.5h1.2v1.2h-1.2zM374.2 194.8h1.2v1.2h-1.2zM378.4 194.6h1.2v1.2h-1.2zM377.6 189.6h1.2v1.2h-1.2zM388.9 194.4h1.2v1.2h-1.2zM383.5 194.9h1.2v1.2h-1.2zM367.0 195.6h1.2v1.2h-1.2zM384.8 184.5h1.2v1.2h-1.2zM382.8 191.6h1.2v1.2h-1.2zM383.7 199.9h1.2v1.2h-1.2zM383.6 195.2h1.2v1.2h-1.2zM363.3 197.5h1.2v1.2h-1.2zM373.9 196.0h1.2v1.2h-1.2zM394.7 192.6h1.2v1.2h-1.2zM386.3 194.8h1.2v1.2h-1.2zM376.1 192.9h1.2v1.2h-1.2zM366.5 195.0h1.2v1.2h-1.2zM382.7 199.0h1.2v1.2h-1.2zM374.8 193.7h1.2v1.2h-1.2zM378.6 190.3h1.2v1.2h-1.2zM393.8 194.7h1.2v1.2h-1.2zM363.3 197.0h1.2v1.2h-1.2zM372.5 191.7h1.2v1.2h-1.2zM388.0 196.3h1.2v1.2h-1.2zM370.7 195.8h1.2v1.2h-1.2zM369.5 184.6h1.2v1.2h-1.2zM385.5 190.6h1.2v1.2h-1.2zM363.9 193.4h1.2v1.2h-1.2zM391.3 190.2h1.2v1.2h-1.2zM368.2 199.5h1.2v1.2h-1.2zM377.4 190.8h1.2v1.2h-1.2zM360.8 188.0h1.2v1.2h-1.2zM377.6 196.7h1.2v1.2h-1.2zM396.6 199.2h1.2v1.2h-1.2zM387.7 190.8h1.2v1.2h-1.2zM386.5 199.7h1.2v1.2h-1.2zM391.6 190.8h1.2v1.2h-1.2zM372.4 196.6h1.2v1.2h-1.2zM381.5 187.8h1.2v1.2h-1.2zM378.2 200.6h1.2v1.2h-1.2zM368.8 191.3h1.2v1.2h-1.2zM370.4 199.6h1.2v1.2h-1.2zM386.0 193.6h1.2v1.2h-1.2zM385.6 195.2h1.2v1.2h-1.2zM376.3 190.1h1.2v1.2h-1.2zM378.4 195.7h1.2v1.2h-1.2zM377.7 195.4h1.2v1.2h-1.2zM380.3 192.5h1.2v1.2h-1.2zM370.7 199.7h1.2v1.2h-1.2zM364.6 187.9h1.2v1.2h-1.2z" fill="#111" fill-opacity="0.28"/>
<path d="M351.2 172.8h1.2v1.2h-1.2zM352.1 168.2h1.2v1.2h-1.2zM354.1 163.2h1.2v1.2h-1.2zM345.7 167.3h1.2v1.2h-1.2zM354.2 174.7h1.2v1.2h-1.2zM354.6 168.6h1.2v1.2h-1.2zM354.9 170.4h1.2v1.2h-1.2zM353.2 174.5h1.2v1.2h-1.2zM358.0 163.9h1.2v1.2h-1.2zM349.6 174.5h1.2v1.2h-1.2zM349.0 179.1h1.2v1.2h-1.2zM357.2 170.6h1.2v1.2h-1.2zM350.8 163.0h1.2v1.2h-1.2zM361.7 177.9h1.2v1.2h-1.2zM357.7 175.7h1.2v1.2h-1.2zM354.4 167.8h1.2v1.2h-1.2zM350.3 173.9h1.2v1.2h-1.2zM348.5 160.4h1.2v1.2h-1.2zM349.0 176.9h1.2v1.2h-1.2zM350.7 170.1h1.2v1.2h-1.2zM350.5 168.6h1.2v1.2h-1.2zM352.5 170.4h1.2v1.2h-1.2zM356.1 157.3h1.2v1.2h-1.2zM354.8 170.8h1.2v1.2h-1.2zM349.5 176.0h1.2v1.2h-1.2zM348.3 179.2h1.2v1.2h-1.2zM353.0 180.7h1.2v1.2h-1.2zM354.5 169.4h1.2v1.2h-1.2zM352.2 171.2h1.2v1.2h-1.2zM354.3 177.8h1.2v1.2h-1.2zM354.8 181.2h1.2v1.2h-1.2zM354.8 178.8h1.2v1.2h-1.2zM358.7 165.3h1.2v1.2h-1.2zM349.2 157.6h1.2v1.2h-1.2zM351.6 175.8h1.2v1.2h-1.2zM359.2 178.8h1.2v1.2h-1.2zM357.7 166.2h1.2v1.2h-1.2zM359.0 175.9h1.2v1.2h-1.2zM352.2 171.1h1.2v1.2h-1.2zM394.3 164.6h1.2v1.2h-1.2zM380.6 162.2h1.2v1.2h-1.2zM382.1 163.5h1.2v1.2h-1.2zM386.8 161.3h1.2v1.2h-1.2zM390.0 161.5h1.2v1.2h-1.2zM384.4 159.8h1.2v1.2h-1.2zM381.6 172.2h1.2v1.2h-1.2zM383.6 168.3h1.2v1.2h-1.2zM389.8 164.4h1.2v1.2h-1.2zM388.8 161.8h1.2v1.2h-1.2zM387.6 169.0h1.2v1.2h-1.2zM379.2 167.2h1.2v1.2h-1.2zM390.5 175.4h1.2v1.2h-1.2zM392.0 164.9h1.2v1.2h-1.2zM384.2 166.5h1.2v1.2h-1.2zM382.4 165.4h1.2v1.2h-1.2zM391.3 170.6h1.2v1.2h-1.2zM379.5 167.9h1.2v1.2h-1.2zM392.7 165.6h1.2v1.2h-1.2zM381.7 156.8h1.2v1.2h-1.2zM380.9 169.2h1.2v1.2h-1.2zM387.7 165.9h1.2v1.2h-1.2zM375.2 165.2h1.2v1.2h-1.2zM379.4 168.9h1.2v1.2h-1.2zM382.5 169.2h1.2v1.2h-1.2zM383.6 167.1h1.2v1.2h-1.2zM386.7 166.5h1.2v1.2h-1.2zM390.2 164.6h1.2v1.2h-1.2zM378.4 170.1h1.2v1.2h-1.2zM384.0 173.4h1.2v1.2h-1.2zM391.3 167.8h1.2v1.2h-1.2zM392.5 168.1h1.2v1.2h-1.2zM384.4 172.4h1.2v1.2h-1.2zM375.5 166.6h1.2v1.2h-1.2zM380.8 165.0h1.2v1.2h-1.2zM386.0 172.0h1.2v1.2h-1.2zM389.6 165.3h1.2v1.2h-1.2zM391.7 169.6h1.2v1.2h-1.2zM376.3 160.3h1.2v1.2h-1.2zM379.4 163.8h1.2v1.2h-1.2zM383.5 168.3h1.2v1.2h-1.2zM385.8 179.0h1.2v1.2h-1.2zM389.8 170.9h1.2v1.2h-1.2zM377.6 164.1h1.2v1.2h-1.2zM380.6 165.1h1.2v1.2h-1.2zM391.5 176.0h1.2v1.2h-1.2zM388.8 166.0h1.2v1.2h-1.2zM382.9 168.7h1.2v1.2h-1.2zM385.4 162.2h1.2v1.2h-1.2zM395.8 165.3h1.2v1.2h-1.2zM390.7 157.6h1.2v1.2h-1.2zM388.6 176.3h1.2v1.2h-1.2zM381.3 169.7h1.2v1.2h-1.2zM389.0 171.1h1.2v1.2h-1.2zM390.2 171.1h1.2v1.2h-1.2zM380.2 164.0h1.2v1.2h-1.2zM384.4 169.0h1.2v1.2h-1.2zM385.6 165.8h1.2v1.2h-1.2zM386.1 167.0h1.2v1.2h-1.2zM381.1 171.1h1.2v1.2h-1.2zM383.3 163.5h1.2v1.2h-1.2zM385.8 165.0h1.2v1.2h-1.2zM385.8 165.7h1.2v1.2h-1.2zM381.1 166.5h1.2v1.2h-1.2zM384.4 170.4h1.2v1.2h-1.2zM393.0 173.2h1.2v1.2h-1.2zM380.6 170.2h1.2v1.2h-1.2zM386.0 167.3h1.2v1.2h-1.2zM387.0 170.6h1.2v1.2h-1.2zM386.2 166.8h1.2v1.2h-1.2zM381.8 175.5h1.2v1.2h-1.2zM389.0 165.3h1.2v1.2h-1.2zM389.8 169.5h1.2v1.2h-1.2zM384.1 168.1h1.2v1.2h-1.2zM393.1 162.9h1.2v1.2h-1.2zM386.6 166.4h1.2v1.2h-1.2zM386.0 164.2h1.2v1.2h-1.2zM388.2 169.9h1.2v1.2h-1.2zM394.2 165.1h1.2v1.2h-1.2zM386.4 164.0h1.2v1.2h-1.2zM385.7 169.2h1.2v1.2h-1.2zM386.2 177.4h1.2v1.2h-1.2zM384.2 173.4h1.2v1.2h-1.2zM391.2 176.0h1.2v1.2h-1.2zM386.2 168.6h1.2v1.2h-1.2zM386.5 163.5h1.2v1.2h-1.2zM387.9 169.5h1.2v1.2h-1.2zM387.7 165.8h1.2v1.2h-1.2zM395.8 172.4h1.2v1.2h-1.2zM391.5 163.4h1.2v1.2h-1.2zM383.2 170.2h1.2v1.2h-1.2zM385.7 168.4h1.2v1.2h-1.2zM383.8 169.2h1.2v1.2h-1.2zM382.2 167.0h1.2v1.2h-1.2zM381.6 167.2h1.2v1.2h-1.2zM390.2 166.0h1.2v1.2h-1.2zM379.8 164.6h1.2v1.2h-1.2zM386.5 161.6h1.2v1.2h-1.2zM384.1 168.1h1.2v1.2h-1.2zM378.1 170.7h1.2v1.2h-1.2zM385.8 162.5h1.2v1.2h-1.2zM390.1 168.1h1.2v1.2h-1.2zM386.5 160.4h1.2v1.2h-1.2zM393.9 170.2h1.2v1.2h-1.2zM382.3 176.0h1.2v1.2h-1.2zM387.6 161.3h1.2v1.2h-1.2zM389.8 171.6h1.2v1.2h-1.2zM383.2 175.9h1.2v1.2h-1.2zM393.3 164.1h1.2v1.2h-1.2zM376.5 168.1h1.2v1.2h-1.2zM393.6 161.9h1.2v1.2h-1.2zM383.9 169.8h1.2v1.2h-1.2zM389.2 169.2h1.2v1.2h-1.2zM380.9 168.9h1.2v1.2h-1.2zM386.4 162.0h1.2v1.2h-1.2zM386.5 168.3h1.2v1.2h-1.2zM390.5 163.7h1.2v1.2h-1.2zM388.9 166.5h1.2v1.2h-1.2zM387.3 175.3h1.2v1.2h-1.2zM383.6 158.9h1.2v1.2h-1.2zM387.6 165.4h1.2v1.2h-1.2zM387.7 166.5h1.2v1.2h-1.2zM385.3 165.8h1.2v1.2h-1.2zM386.6 174.8h1.2v1.2h-1.2zM387.2 170.8h1.2v1.2h-1.2zM384.8 174.0h1.2v1.2h-1.2zM382.0 164.6h1.2v1.2h-1.2zM370.9 174.7h1.2v1.2h-1.2zM392.2 176.3h1.2v1.2h-1.2zM379.2 176.5h1.2v1.2h-1.2zM397.7 160.6h1.2v1.2h-1.2zM378.3 168.2h1.2v1.2h-1.2zM367.9 164.7h1.2v1.2h-1.2zM384.8 163.5h1.2v1.2h-1.2zM372.7 173.4h1.2v1.2h-1.2zM387.0 172.8h1.2v1.2h-1.2zM381.3 173.5h1.2v1.2h-1.2zM389.2 165.4h1.2v1.2h-1.2zM367.8 167.5h1.2v1.2h-1.2zM381.5 167.8h1.2v1.2h-1.2zM380.1 178.1h1.2v1.2h-1.2zM386.9 165.1h1.2v1.2h-1.2zM399.8 168.9h1.2v1.2h-1.2zM373.4 168.4h1.2v1.2h-1.2zM383.9 171.3h1.2v1.2h-1.2zM391.7 168.6h1.2v1.2h-1.2zM379.1 168.5h1.2v1.2h-1.2zM372.6 174.0h1.2v1.2h-1.2zM371.7 179.4h1.2v1.2h-1.2zM372.0 173.2h1.2v1.2h-1.2zM375.9 169.4h1.2v1.2h-1.2zM366.2 170.3h1.2v1.2h-1.2zM384.3 184.5h1.2v1.2h-1.2zM397.7 163.3h1.2v1.2h-1.2zM377.4 162.2h1.2v1.2h-1.2zM377.1 164.6h1.2v1.2h-1.2zM362.5 176.2h1.2v1.2h-1.2zM388.0 165.3h1.2v1.2h-1.2zM381.1 171.4h1.2v1.2h-1.2zM364.7 178.1h1.2v1.2h-1.2zM386.1 165.6h1.2v1.2h-1.2zM373.4 178.3h1.2v1.2h-1.2zM372.8 181.6h1.2v1.2h-1.2zM374.6 181.7h1.2v1.2h-1.2zM361.7 177.7h1.2v1.2h-1.2zM386.5 169.7h1.2v1.2h-1.2zM382.9 168.6h1.2v1.2h-1.2zM397.6 173.8h1.2v1.2h-1.2zM371.3 178.1h1.2v1.2h-1.2zM380.5 164.2h1.2v1.2h-1.2zM366.0 169.0h1.2v1.2h-1.2zM361.1 169.6h1.2v1.2h-1.2zM393.2 167.0h1.2v1.2h-1.2zM381.7 166.9h1.2v1.2h-1.2zM377.9 176.5h1.2v1.2h-1.2zM352.1 182.5h1.2v1.2h-1.2zM383.1 157.2h1.2v1.2h-1.2zM364.2 180.2h1.2v1.2h-1.2zM389.7 173.0h1.2v1.2h-1.2zM383.5 176.7h1.2v1.2h-1.2zM375.2 178.4h1.2v1.2h-1.2zM385.7 159.6h1.2v1.2h-1.2zM383.3 168.0h1.2v1.2h-1.2zM386.3 173.9h1.2v1.2h-1.2zM383.7 159.4h1.2v1.2h-1.2zM376.5 166.1h1.2v1.2h-1.2zM374.9 168.8h1.2v1.2h-1.2zM373.8 170.3h1.2v1.2h-1.2zM377.6 180.4h1.2v1.2h-1.2zM385.3 173.3h1.2v1.2h-1.2zM379.0 169.9h1.2v1.2h-1.2zM373.2 164.4h1.2v1.2h-1.2zM367.6 175.5h1.2v1.2h-1.2zM370.6 160.9h1.2v1.2h-1.2zM383.9 170.9h1.2v1.2h-1.2zM377.9 160.8h1.2v1.2h-1.2zM381.6 163.0h1.2v1.2h-1.2zM377.0 185.2h1.2v1.2h-1.2zM392.5 162.3h1.2v1.2h-1.2zM371.7 169.1h1.2v1.2h-1.2zM399.7 166.6h1.2v1.2h-1.2zM389.2 162.6h1.2v1.2h-1.2zM387.7 171.1h1.2v1.2h-1.2zM396.2 182.7h1.2v1.2h-1.2zM395.1 166.5h1.2v1.2h-1.2zM382.8 166.3h1.2v1.2h-1.2zM351.9 187.0h1.2v1.2h-1.2zM348.7 196.1h1.2v1.2h-1.2zM353.2 188.7h1.2v1.2h-1.2zM349.1 195.5h1.2v1.2h-1.2zM358.9 189.7h1.2v1.2h-1.2zM348.4 190.6h1.2v1.2h-1.2zM350.8 187.9h1.2v1.2h-1.2zM352.3 195.6h1.2v1.2h-1.2zM348.1 198.4h1.2v1.2h-1.2zM346.7 197.0h1.2v1.2h-1.2zM349.5 191.9h1.2v1.2h-1.2zM354.7 194.8h1.2v1.2h-1.2zM352.6 196.6h1.2v1.2h-1.2zM356.6 198.7h1.2v1.2h-1.2zM348.8 195.5h1.2v1.2h-1.2zM352.9 195.8h1.2v1.2h-1.2zM349.4 194.3h1.2v1.2h-1.2zM357.8 195.3h1.2v1.2h-1.2zM347.3 196.8h1.2v1.2h-1.2zM349.6 190.6h1.2v1.2h-1.2zM346.5 196.6h1.2v1.2h-1.2zM354.1 196.7h1.2v1.2h-1.2zM350.7 196.4h1.2v1.2h-1.2zM376.5 199.2h1.2v1.2h-1.2zM376.2 195.6h1.2v1.2h-1.2zM375.0 189.6h1.2v1.2h-1.2zM389.6 191.5h1.2v1.2h-1.2zM387.0 192.9h1.2v1.2h-1.2zM395.9 194.0h1.2v1.2h-1.2zM387.4 193.6h1.2v1.2h-1.2zM384.2 197.7h1.2v1.2h-1.2zM374.1 196.5h1.2v1.2h-1.2zM373.7 195.9h1.2v1.2h-1.2zM381.1 195.6h1.2v1.2h-1.2zM388.5 194.8h1.2v1.2h-1.2zM380.1 190.2h1.2v1.2h-1.2zM371.0 199.6h1.2v1.2h-1.2zM371.7 198.9h1.2v1.2h-1.2zM389.1 194.8h1.2v1.2h-1.2zM383.7 196.9h1.2v1.2h-1.2zM370.1 196.8h1.2v1.2h-1.2zM371.8 195.2h1.2v1.2h-1.2zM382.7 196.0h1.2v1.2h-1.2zM374.7 195.3h1.2v1.2h-1.2zM373.4 193.4h1.2v1.2h-1.2zM379.3 195.3h1.2v1.2h-1.2zM381.4 194.5h1.2v1.2h-1.2zM383.9 198.5h1.2v1.2h-1.2zM376.3 198.8h1.2v1.2h-1.2zM374.6 201.1h1.2v1.2h-1.2zM372.4 199.3h1.2v1.2h-1.2zM369.7 194.3h1.2v1.2h-1.2zM390.0 200.9h1.2v1.2h-1.2zM379.2 198.2h1.2v1.2h-1.2zM380.2 194.6h1.2v1.2h-1.2zM373.8 194.9h1.2v1.2h-1.2zM381.0 192.5h1.2v1.2h-1.2zM375.4 191.0h1.2v1.2h-1.2zM361.9 194.5h1.2v1.2h-1.2zM380.1 194.9h1.2v1.2h-1.2zM366.2 190.6h1.2v1.2h-1.2zM369.9 195.4h1.2v1.2h-1.2zM376.4 195.4h1.2v1.2h-1.2zM360.1 199.4h1.2v1.2h-1.2zM370.8 197.0h1.2v1.2h-1.2zM383.2 191.4h1.2v1.2h-1.2zM375.6 200.9h1.2v1.2h-1.2zM371.4 200.0h1.2v1.2h-1.2zM380.5 194.1h1.2v1.2h-1.2zM371.1 195.3h1.2v1.2h-1.2z" fill="#111" fill-opacity="0.28"/>
<path d="M364.6 176.6h1.2v1.2h-1.2zM350.5 176.3h1.2v1.2h-1.2zM359.4 165.2h1.2v1.2h-1.2zM348.6 176.6h1.2v1.2h-1.2zM352.7 170.5h1.2v1.2h-1.2zM351.2 185.0h1.2v1.2h-1.2zM348.3 167.1h1.2v1.2h-1.2zM354.7 180.2h1.2v1.2h-1.2zM353.3 172.6h1.2v1.2h-1.2zM350.6 173.5h1.2v1.2h-1.2zM353.3 177.5h1.2v1.2h-1.2zM353.1 170.1h1.2v1.2h-1.2zM356.5 175.2h1.2v1.2h-1.2zM347.1 168.9h1.2v1.2h-1.2zM354.9 178.7h1.2v1.2h-1.2zM351.3 163.0h1.2v1.2h-1.2zM361.4 161.5h1.2v1.2h-1.2zM351.1 163.4h1.2v1.2h-1.2zM346.9 166.2h1.2v1.2h-1.2zM354.0 168.3h1.2v1.2h-1.2zM352.4 177.3h1.2v1.2h-1.2zM346.2 168.2h1.2v1.2h-1.2zM350.3 167.9h1.2v1.2h-1.2zM358.4 170.5h1.2v1.2h-1.2zM350.2 186.5h1.2v1.2h-1.2zM351.9 170.4h1.2v1.2h-1.2zM349.3 175.1h1.2v1.2h-1.2zM355.9 175.2h1.2v1.2h-1.2zM358.2 171.4h1.2v1.2h-1.2zM351.0 174.2h1.2v1.2h-1.2zM348.8 163.9h1.2v1.2h-1.2zM356.8 165.8h1.2v1.2h-1.2zM348.0 172.1h1.2v1.2h-1.2zM351.4 172.8h1.2v1.2h-1.2zM349.0 178.6h1.2v1.2h-1.2zM354.0 165.8h1.2v1.2h-1.2zM351.8 168.7h1.2v1.2h-1.2zM350.0 160.7h1.2v1.2h-1.2zM354.4 170.9h1.2v1.2h-1.2zM347.5 178.0h1.2v1.2h-1.2zM348.4 176.9h1.2v1.2h-1.2zM355.7 164.8h1.2v1.2h-1.2zM350.6 174.1h1.2v1.2h-1.2zM356.6 168.4h1.2v1.2h-1.2zM349.9 175.6h1.2v1.2h-1.2zM351.7 165.1h1.2v1.2h-1.2zM393.7 171.6h1.2v1.2h-1.2zM379.8 170.8h1.2v1.2h-1.2zM380.8 167.7h1.2v1.2h-1.2zM396.5 173.0h1.2v1.2h-1.2zM389.8 169.3h1.2v1.2h-1.2zM394.2 163.3h1.2v1.2h-1.2zM392.9 166.6h1.2v1.2h-1.2zM385.3 167.2h1.2v1.2h-1.2zM388.4 170.0h1.2v1.2h-1.2zM388.2 168.2h1.2v1.2h-1.2zM385.3 167.1h1.2v1.2h-1.2zM386.3 173.2h1.2v1.2h-1.2zM389.3 164.4h1.2v1.2h-1.2zM385.6 162.7h1.2v1.2h-1.2zM384.7 161.7h1.2v1.2h-1.2zM392.9 163.2h1.2v1.2h-1.2zM387.9 169.7h1.2v1.2h-1.2zM377.7 169.9h1.2v1.2h-1.2zM390.0 171.7h1.2v1.2h-1.2zM391.4 166.3h1.2v1.2h-1.2zM390.2 162.4h1.2v1.2h-1.2zM388.1 162.7h1.2v1.2h-1.2zM375.7 160.7h1.2v1.2h-1.2zM379.3 169.4h1.2v1.2h-1.2zM389.2 170.5h1.2v1.2h-1.2zM389.9 173.9h1.2v1.2h-1.2zM391.0 168.1h1.2v1.2h-1.2zM380.1 169.6h1.2v1.2h-1.2zM380.6 174.5h1.2v1.2h-1.2zM379.7 168.0h1.2v1.2h-1.2zM395.7 169.8h1.2v1.2h-1.2zM378.4 167.7h1.2v1.2h-1.2zM381.6 167.3h1.2v1.2h-1.2zM380.0 166.7h1.2v1.2h-1.2zM385.7 168.0h1.2v1.2h-1.2zM383.8 165.9h1.2v1.2h-1.2zM387.2 167.8h1.2v1.2h-1.2zM383.5 171.9h1.2v1.2h-1.2zM386.7 171.0h1.2v1.2h-1.2zM385.3 172.6h1.2v1.2h-1.2zM389.7 171.7h1.2v1.2h-1.2zM386.1 164.4h1.2v1.2h-1.2zM391.1 166.5h1.2v1.2h-1.2zM386.1 172.7h1.2v1.2h-1.2zM386.8 162.7h1.2v1.2h-1.2zM383.7 164.7h1.2v1.2h-1.2zM381.5 171.1h1.2v1.2h-1.2zM385.4 167.6h1.2v1.2h-1.2zM392.5 172.7h1.2v1.2h-1.2zM391.5 168.3h1.2v1.2h-1.2zM386.8 163.4h1.2v1.2h-1.2zM395.4 165.9h1.2v1.2h-1.2zM390.7 168.4h1.2v1.2h-1.2zM384.6 162.2h1.2v1.2h-1.2zM392.2 171.0h1.2v1.2h-1.2zM385.8 169.7h1.2v1.2h-1.2zM381.5 163.6h1.2v1.2h-1.2zM382.4 168.7h1.2v1.2h-1.2zM385.0 168.2h1.2v1.2h-1.2zM388.1 168.5h1.2v1.2h-1.2zM390.0 163.8h1.2v1.2h-1.2zM380.5 166.5h1.2v1.2h-1.2zM390.9 162.0h1.2v1.2h-1.2zM385.1 159.5h1.2v1.2h-1.2zM384.4 169.4h1.2v1.2h-1.2zM385.0 170.6h1.2v1.2h-1.2zM387.2 165.7h1.2v1.2h-1.2zM387.9 171.4h1.2v1.2h-1.2zM386.5 167.6h1.2v1.2h-1.2zM385.7 161.2h1.2v1.2h-1.2zM394.1 163.1h1.2v1.2h-1.2zM386.1 169.0h1.2v1.2h-1.2zM380.9 164.6h1.2v1.2h-1.2zM391.9 172.3h1.2v1.2h-1.2zM384.8 165.7h1.2v1.2h-1.2zM395.9 167.6h1.2v1.2h-1.2zM385.5 168.3h1.2v1.2h-1.2zM381.8 167.6h1.2v1.2h-1.2zM372.9 171.5h1.2v1.2h-1.2zM383.5 166.0h1.2v1.2h-1.2zM384.9 166.3h1.2v1.2h-1.2zM385.1 160.1h1.2v1.2h-1.2zM391.4 170.2h1.2v1.2h-1.2zM387.0 162.5h1.2v1.2h-1.2zM394.2 162.1h1.2v1.2h-1.2zM392.7 164.0h1.2v1.2h-1.2zM390.7 169.2h1.2v1.2h-1.2zM393.1 168.3h1.2v1.2h-1.2zM383.3 161.8h1.2v1.2h-1.2zM379.9 162.6h1.2v1.2h-1.2zM393.6 177.1h1.2v1.2h-1.2zM383.2 162.9h1.2v1.2h-1.2zM388.6 163.8h1.2v1.2h-1.2zM382.6 164.1h1.2v1.2h-1.2zM394.3 171.3h1.2v1.2h-1.2zM373.4 169.7h1.2v1.2h-1.2zM382.3 159.6h1.2v1.2h-1.2zM389.9 175.5h1.2v1.2h-1.2zM393.1 166.2h1.2v1.2h-1.2zM389.7 173.0h1.2v1.2h-1.2zM387.9 165.1h1.2v1.2h-1.2zM389.9 161.8h1.2v1.2h-1.2zM387.1 166.7h1.2v1.2h-1.2zM397.6 169.2h1.2v1.2h-1.2zM385.8 167.7h1.2v1.2h-1.2zM377.6 174.9h1.2v1.2h-1.2zM381.6 164.7h1.2v1.2h-1.2zM385.0 166.7h1.2v1.2h-1.2zM382.9 165.4h1.2v1.2h-1.2zM381.0 164.5h1.2v1.2h-1.2zM387.2 159.4h1.2v1.2h-1.2zM392.6 159.2h1.2v1.2h-1.2zM400.9 175.7h1.2v1.2h-1.2zM376.7 172.8h1.2v1.2h-1.2zM380.1 168.7h1.2v1.2h-1.2zM376.0 178.8h1.2v1.2h-1.2zM401.8 176.4h1.2v1.2h-1.2zM367.7 160.3h1.2v1.2h-1.2zM381.8 175.4h1.2v1.2h-1.2zM378.5 174.0h1.2v1.2h-1.2zM367.0 189.1h1.2v1.2h-1.2zM386.2 156.8h1.2v1.2h-1.2zM379.3 169.9h1.2v1.2h-1.2zM394.1 157.8h1.2v1.2h-1.2zM398.0 173.0h1.2v1.2h-1.2zM382.8 170.6h1.2v1.2h-1.2zM392.3 166.2h1.2v1.2h-1.2zM380.5 150.9h1.2v1.2h-1.2zM374.5 174.3h1.2v1.2h-1.2zM387.9 156.6h1.2v1.2h-1.2zM362.2 168.5h1.2v1.2h-1.2zM384.7 187.1h1.2v1.2h-1.2zM379.2 172.6h1.2v1.2h-1.2zM362.9 181.3h1.2v1.2h-1.2zM381.9 172.9h1.2v1.2h-1.2zM368.2 172.6h1.2v1.2h-1.2zM362.2 168.6h1.2v1.2h-1.2zM391.0 160.3h1.2v1.2h-1.2zM378.7 168.6h1.2v1.2h-1.2zM388.5 178.4h1.2v1.2h-1.2zM370.2 171.7h1.2v1.2h-1.2zM373.7 167.9h1.2v1.2h-1.2zM374.4 166.3h1.2v1.2h-1.2zM370.4 177.4h1.2v1.2h-1.2zM376.4 175.0h1.2v1.2h-1.2zM386.3 168.4h1.2v1.2h-1.2zM377.2 172.5h1.2v1.2h-1.2zM361.5 179.2h1.2v1.2h-1.2zM381.9 175.2h1.2v1.2h-1.2zM368.9 173.8h1.2v1.2h-1.2zM368.6 182.4h1.2v1.2h-1.2zM374.1 169.0h1.2v1.2h-1.2zM377.2 174.5h1.2v1.2h-1.2zM376.9 160.9h1.2v1.2h-1.2zM362.1 177.1h1.2v1.2h-1.2zM397.7 167.2h1.2v1.2h-1.2zM384.8 166.6h1.2v1.2h-1.2zM383.4 171.0h1.2v1.2h-1.2zM372.8 174.7h1.2v1.2h-1.2zM372.6 177.4h1.2v1.2h-1.2zM390.9 169.5h1.2v1.2h-1.2zM403.7 156.2h1.2v1.2h-1.2zM370.3 186.7h1.2v1.2h-1.2zM389.9 169.4h1.2v1.2h-1.2zM350.1 181.2h1.2v1.2h-1.2zM386.6 168.7h1.2v1.2h-1.2zM392.8 174.5h1.2v1.2h-1.2zM384.7 179.2h1.2v1.2h-1.2zM388.3 182.2h1.2v1.2h-1.2zM381.2 174.6h1.2v1.2h-1.2zM369.2 191.5h1.2v1.2h-1.2zM383.3 180.9h1.2v1.2h-1.2zM384.4 172.6h1.2v1.2h-1.2zM381.3 170.9h1.2v1.2h-1.2zM378.4 167.4h1.2v1.2h-1.2zM387.1 172.0h1.2v1.2h-1.2zM391.0 168.3h1.2v1.2h-1.2zM354.7 198.1h1.2v1.2h-1.2zM349.4 194.1h1.2v1.2h-1.2zM355.4 190.3h1.2v1.2h-1.2zM345.6 199.2h1.2v1.2h-1.2zM350.1 197.0h1.2v1.2h-1.2zM354.2 192.4h1.2v1.2h-1.2zM349.3 195.4h1.2v1.2h-1.2zM356.6 194.9h1.2v1.2h-1.2zM353.8 194.3h1.2v1.2h-1.2zM356.3 197.3h1.2v1.2h-1.2zM352.7 194.6h1.2v1.2h-1.2zM348.3 198.8h1.2v1.2h-1.2zM357.8 189.7h1.2v1.2h-1.2zM350.7 200.3h1.2v1.2h-1.2zM357.3 198.0h1.2v1.2h-1.2zM354.0 190.7h1.2v1.2h-1.2zM353.9 199.6h1.2v1.2h-1.2zM357.8 192.7h1.2v1.2h-1.2zM353.4 198.8h1.2v1.2h-1.2zM353.8 194.2h1.2v1.2h-1.2zM350.6 196.1h1.2v1.2h-1.2zM355.2 196.9h1.2v1.2h-1.2zM352.5 190.5h1.2v1.2h-1.2zM359.7 192.6h1.2v1.2h-1.2zM357.5 197.9h1.2v1.2h-1.2zM353.3 194.2h1.2v1.2h-1.2zM349.7 192.3h1.2v1.2h-1.2zM386.3 190.2h1.2v1.2h-1.2zM379.0 195.2h1.2v1.2h-1.2zM380.6 192.4h1.2v1.2h-1.2zM357.1 191.2h1.2v1.2h-1.2zM378.2 191.4h1.2v1.2h-1.2zM384.0 195.1h1.2v1.2h-1.2zM379.7 187.2h1.2v1.2h-1.2zM382.9 192.1h1.2v1.2h-1.2zM372.5 192.5h1.2v1.2h-1.2zM379.6 190.5h1.2v1.2h-1.2zM382.8 194.8h1.2v1.2h-1.2zM399.3 195.5h1.2v1.2h-1.2zM383.3 195.8h1.2v1.2h-1.2zM369.8 193.8h1.2v1.2h-1.2zM386.2 195.0h1.2v1.2h-1.2zM374.3 198.0h1.2v1.2h-1.2zM391.4 193.6h1.2v1.2h-1.2zM377.3 192.6h1.2v1.2h-1.2zM359.6 193.0h1.2v1.2h-1.2zM380.7 196.7h1.2v1.2h-1.2zM378.4 197.6h1.2v1.2h-1.2zM386.3 191.4h1.2v1.2h-1.2zM388.0 201.8h1.2v1.2h-1.2zM388.6 191.4h1.2v1.2h-1.2zM397.6 196.2h1.2v1.2h-1.2zM381.1 196.2h1.2v1.2h-1.2zM374.4 188.3h1.2v1.2h-1.2zM372.3 189.5h1.2v1.2h-1.2zM381.7 193.2h1.2v1.2h-1.2zM376.8 188.3h1.2v1.2h-1.2zM369.9 194.2h1.2v1.2h-1.2zM379.9 192.3h1.2v1.2h-1.2zM372.0 195.4h1.2v1.2h-1.2zM378.1 194.4h1.2v1.2h-1.2zM369.2 190.9h1.2v1.2h-1.2zM364.4 198.8h1.2v1.2h-1.2zM364.0 194.8h1.2v1.2h-1.2zM388.0 191.5h1.2v1.2h-1.2zM358.1 196.2h1.2v1.2h-1.2zM385.4 194.7h1.2v1.2h-1.2zM380.2 200.4h1.2v1.2h-1.2zM376.5 189.5h1.2v1.2h-1.2zM377.8 192.2h1.2v1.2h-1.2zM380.1 194.8h1.2v1.2h-1.2zM361.6 191.6h1.2v1.2h-1.2zM376.4 186.7h1.2v1.2h-1.2zM361.3 199.4h1.2v1.2h-1.2zM385.4 197.4h1.2v1.2h-1.2zM393.5 200.8h1.2v1.2h-1.2zM376.5 192.4h1.2v1.2h-1.2zM383.1 193.6h1.2v1.2h-1.2zM363.8 194.6h1.2v1.2h-1.2zM363.8 192.5h1.2v1.2h-1.2zM376.0 190.2h1.2v1.2h-1.2zM356.3 191.6h1.2v1.2h-1.2zM366.1 196.5h1.2v1.2h-1.2z" fill="#111" fill-opacity="0.28"/>
<path d="M349.5 204.5v2.5M353.0 204.5v2.5M355.4 204.5v2.5M357.3 204.5v2.5M358.9 204.5v2.5M360.2 204.5v2.5M361.3 204.5v2.5M362.4 204.5v2.5M369.2 204.5v2.5M372.6 204.5v2.5M375.1 204.5v2.5M377.0 204.5v2.5M378.5 204.5v2.5M379.9 204.5v2.5M381.0 204.5v2.5M382.0 204.5v2.5M363.2 204.5v5.5M388.8 204.5v2.5M392.3 204.5v2.5M394.7 204.5v2.5M396.6 204.5v2.5M398.2 204.5v2.5M399.5 204.5v2.5M400.6 204.5v2.5M401.7 204.5v2.5M382.9 204.5v5.5M408.5 204.5v2.5M411.9 204.5v2.5M414.4 204.5v2.5M416.3 204.5v2.5M417.8 204.5v2.5M419.2 204.5v2.5M420.3 204.5v2.5M421.3 204.5v2.5M402.6 204.5v5.5M422.5 204.5v5.5M343.5 198.7h-2.5M343.5 195.4h-2.5M343.5 193.1h-2.5M343.5 191.3h-2.5M343.5 189.9h-2.5M343.5 188.6h-2.5M343.5 187.6h-2.5M343.5 186.6h-2.5M343.5 180.2h-2.5M343.5 177.0h-2.5M343.5 174.7h-2.5M343.5 172.9h-2.5M343.5 171.4h-2.5M343.5 170.2h-2.5M343.5 169.1h-2.5M343.5 168.2h-2.5M343.5 185.8h-5.5M343.5 161.8h-2.5M343.5 158.6h-2.5M343.5 156.3h-2.5M343.5 154.5h-2.5M343.5 153.0h-2.5M343.5 151.8h-2.5M343.5 150.7h-2.5M343.5 149.8h-2.5M343.5 167.3h-5.5M343.5 143.4h-2.5M343.5 140.1h-2.5M343.5 137.8h-2.5M343.5 136.0h-2.5M343.5 134.6h-2.5M343.5 133.4h-2.5M343.5 132.3h-2.5M343.5 131.3h-2.5M343.5 148.9h-5.5" stroke="#888" stroke-width="0.8" fill="none"/>
<rect x="343.5" y="130.5" width="79.0" height="74.0" fill="none" stroke="#888" stroke-width="1"/>
<line x1="360.50" y1="130.50" x2="360.50" y2="204.50" stroke="#333" stroke-width="1.0"/>
<line x1="338.00" y1="186.50" x2="422.50" y2="186.50" stroke="#333" stroke-width="1.0"/>
<text transform="translate(346.00,142.50) scale(0.9,1.0)" font-size="12" text-anchor="start" font-weight="normal" style="stroke-width:0.25px">14</text>
<text transform="translate(419.00,142.50) scale(0.9,1.0)" font-size="12" text-anchor="end" font-weight="normal" style="stroke-width:0.25px">77</text>
<text transform="translate(419.90,202.50) scale(0.9,1.0)" font-size="12" text-anchor="end" font-weight="normal" style="stroke-width:0.25px">4</text>
<path d="M443.1 154.3h1.4v1.4h-1.4zM448.5 162.3h1.4v1.4h-1.4zM438.6 162.6h1.4v1.4h-1.4zM446.1 173.7h1.4v1.4h-1.4zM449.4 165.3h1.4v1.4h-1.4zM448.3 173.1h1.4v1.4h-1.4zM447.1 173.8h1.4v1.4h-1.4zM445.9 170.8h1.4v1.4h-1.4zM445.0 173.7h1.4v1.4h-1.4zM446.5 162.5h1.4v1.4h-1.4zM447.7 166.2h1.4v1.4h-1.4zM441.5 172.6h1.4v1.4h-1.4zM445.3 165.3h1.4v1.4h-1.4zM448.5 163.4h1.4v1.4h-1.4zM443.2 166.9h1.4v1.4h-1.4zM443.9 163.2h1.4v1.4h-1.4zM447.0 169.2h1.4v1.4h-1.4zM448.3 169.4h1.4v1.4h-1.4zM446.1 154.8h1.4v1.4h-1.4zM445.6 176.9h1.4v1.4h-1.4zM450.3 166.6h1.4v1.4h-1.4zM447.5 177.2h1.4v1.4h-1.4zM441.8 170.4h1.4v1.4h-1.4zM448.5 164.8h1.4v1.4h-1.4zM444.6 154.1h1.4v1.4h-1.4zM448.4 160.4h1.4v1.4h-1.4zM448.9 169.9h1.4v1.4h-1.4zM441.8 177.7h1.4v1.4h-1.4zM449.6 172.9h1.4v1.4h-1.4zM441.8 162.4h1.4v1.4h-1.4zM445.2 160.3h1.4v1.4h-1.4zM449.5 173.0h1.4v1.4h-1.4zM446.2 161.0h1.4v1.4h-1.4zM447.5 168.9h1.4v1.4h-1.4zM448.3 171.3h1.4v1.4h-1.4zM445.4 168.9h1.4v1.4h-1.4zM445.5 169.3h1.4v1.4h-1.4zM438.2 165.7h1.4v1.4h-1.4zM472.1 167.2h1.4v1.4h-1.4zM490.7 175.7h1.4v1.4h-1.4zM486.0 165.0h1.4v1.4h-1.4zM452.1 161.0h1.4v1.4h-1.4zM483.5 173.9h1.4v1.4h-1.4zM475.8 166.9h1.4v1.4h-1.4zM477.4 175.1h1.4v1.4h-1.4zM487.6 160.7h1.4v1.4h-1.4zM482.1 163.2h1.4v1.4h-1.4zM467.2 167.1h1.4v1.4h-1.4zM466.5 172.8h1.4v1.4h-1.4zM482.3 164.4h1.4v1.4h-1.4zM493.1 161.4h1.4v1.4h-1.4zM465.0 169.7h1.4v1.4h-1.4zM467.9 172.1h1.4v1.4h-1.4zM478.5 164.4h1.4v1.4h-1.4zM468.0 166.5h1.4v1.4h-1.4zM473.1 176.8h1.4v1.4h-1.4zM482.6 160.0h1.4v1.4h-1.4zM472.5 165.6h1.4v1.4h-1.4zM473.6 164.4h1.4v1.4h-1.4zM465.3 169.9h1.4v1.4h-1.4zM484.2 157.4h1.4v1.4h-1.4zM477.8 172.8h1.4v1.4h-1.4zM472.7 164.2h1.4v1.4h-1.4zM477.0 171.7h1.4v1.4h-1.4zM482.1 176.6h1.4v1.4h-1.4zM463.7 162.5h1.4v1.4h-1.4zM482.2 171.0h1.4v1.4h-1.4zM491.9 167.2h1.4v1.4h-1.4zM458.1 166.3h1.4v1.4h-1.4zM477.4 165.8h1.4v1.4h-1.4zM486.7 162.4h1.4v1.4h-1.4zM462.6 174.2h1.4v1.4h-1.4zM472.8 165.2h1.4v1.4h-1.4zM484.7 160.7h1.4v1.4h-1.4zM489.6 170.0h1.4v1.4h-1.4zM483.2 171.1h1.4v1.4h-1.4zM457.1 171.0h1.4v1.4h-1.4zM475.8 168.0h1.4v1.4h-1.4zM484.9 168.9h1.4v1.4h-1.4zM463.2 173.2h1.4v1.4h-1.4zM468.7 161.2h1.4v1.4h-1.4zM471.7 165.1h1.4v1.4h-1.4zM470.1 165.7h1.4v1.4h-1.4zM474.1 167.9h1.4v1.4h-1.4zM474.1 166.4h1.4v1.4h-1.4zM473.8 171.4h1.4v1.4h-1.4zM477.0 163.0h1.4v1.4h-1.4zM487.4 169.4h1.4v1.4h-1.4zM477.4 168.5h1.4v1.4h-1.4zM473.0 175.3h1.4v1.4h-1.4zM499.6 164.8h1.4v1.4h-1.4zM480.3 177.0h1.4v1.4h-1.4zM470.4 177.2h1.4v1.4h-1.4zM479.3 170.5h1.4v1.4h-1.4zM484.5 170.9h1.4v1.4h-1.4zM473.6 150.7h1.4v1.4h-1.4zM473.4 164.0h1.4v1.4h-1.4zM486.5 171.2h1.4v1.4h-1.4zM477.7 173.6h1.4v1.4h-1.4zM486.0 171.6h1.4v1.4h-1.4zM481.3 167.4h1.4v1.4h-1.4zM470.1 169.4h1.4v1.4h-1.4zM475.3 172.0h1.4v1.4h-1.4zM488.1 165.2h1.4v1.4h-1.4zM471.5 168.6h1.4v1.4h-1.4zM485.6 164.5h1.4v1.4h-1.4zM478.0 167.2h1.4v1.4h-1.4zM481.3 169.0h1.4v1.4h-1.4zM485.7 170.4h1.4v1.4h-1.4zM479.8 171.5h1.4v1.4h-1.4zM475.5 173.6h1.4v1.4h-1.4zM474.8 172.2h1.4v1.4h-1.4zM485.4 167.3h1.4v1.4h-1.4zM483.2 171.2h1.4v1.4h-1.4zM484.9 165.7h1.4v1.4h-1.4zM479.2 170.8h1.4v1.4h-1.4zM471.8 165.4h1.4v1.4h-1.4zM472.9 168.3h1.4v1.4h-1.4zM478.3 166.8h1.4v1.4h-1.4zM480.1 168.6h1.4v1.4h-1.4zM474.5 172.5h1.4v1.4h-1.4zM483.2 168.1h1.4v1.4h-1.4zM479.3 163.8h1.4v1.4h-1.4zM476.3 167.8h1.4v1.4h-1.4zM477.5 168.8h1.4v1.4h-1.4zM478.9 172.6h1.4v1.4h-1.4zM478.1 173.0h1.4v1.4h-1.4zM472.3 169.3h1.4v1.4h-1.4zM487.3 166.8h1.4v1.4h-1.4zM479.5 166.1h1.4v1.4h-1.4zM489.6 169.9h1.4v1.4h-1.4zM476.1 164.5h1.4v1.4h-1.4zM475.9 171.6h1.4v1.4h-1.4zM481.0 167.2h1.4v1.4h-1.4zM476.9 173.7h1.4v1.4h-1.4zM447.1 193.1h1.4v1.4h-1.4zM444.7 198.3h1.4v1.4h-1.4zM444.7 194.3h1.4v1.4h-1.4zM446.2 197.3h1.4v1.4h-1.4zM448.3 193.8h1.4v1.4h-1.4zM439.8 194.8h1.4v1.4h-1.4zM443.3 196.3h1.4v1.4h-1.4zM444.2 198.8h1.4v1.4h-1.4zM446.2 197.7h1.4v1.4h-1.4zM453.5 187.2h1.4v1.4h-1.4zM444.0 195.4h1.4v1.4h-1.4zM444.5 195.8h1.4v1.4h-1.4zM444.3 201.1h1.4v1.4h-1.4zM445.8 199.2h1.4v1.4h-1.4zM446.5 200.9h1.4v1.4h-1.4zM439.1 195.7h1.4v1.4h-1.4zM438.9 197.5h1.4v1.4h-1.4zM441.4 196.8h1.4v1.4h-1.4zM447.6 189.0h1.4v1.4h-1.4zM446.6 194.3h1.4v1.4h-1.4zM444.2 195.1h1.4v1.4h-1.4zM444.5 193.6h1.4v1.4h-1.4zM438.9 193.1h1.4v1.4h-1.4zM446.6 193.2h1.4v1.4h-1.4zM442.4 195.6h1.4v1.4h-1.4zM448.4 199.8h1.4v1.4h-1.4zM447.3 192.4h1.4v1.4h-1.4zM447.5 193.3h1.4v1.4h-1.4zM493.7 193.9h1.4v1.4h-1.4zM490.8 197.2h1.4v1.4h-1.4zM494.3 196.6h1.4v1.4h-1.4zM497.8 193.9h1.4v1.4h-1.4zM479.8 194.2h1.4v1.4h-1.4zM496.5 197.9h1.4v1.4h-1.4zM488.8 202.2h1.4v1.4h-1.4zM496.9 193.6h1.4v1.4h-1.4zM503.4 192.5h1.4v1.4h-1.4zM486.8 198.0h1.4v1.4h-1.4zM494.8 197.5h1.4v1.4h-1.4zM479.3 195.4h1.4v1.4h-1.4zM498.0 193.5h1.4v1.4h-1.4zM487.9 193.4h1.4v1.4h-1.4zM486.8 195.4h1.4v1.4h-1.4zM479.7 195.7h1.4v1.4h-1.4zM481.9 192.4h1.4v1.4h-1.4zM485.4 195.1h1.4v1.4h-1.4zM492.9 199.6h1.4v1.4h-1.4zM482.2 196.1h1.4v1.4h-1.4zM489.0 189.9h1.4v1.4h-1.4zM492.8 195.6h1.4v1.4h-1.4zM484.3 192.7h1.4v1.4h-1.4zM489.8 198.5h1.4v1.4h-1.4zM481.4 201.2h1.4v1.4h-1.4zM501.7 189.9h1.4v1.4h-1.4zM479.0 199.2h1.4v1.4h-1.4zM495.3 195.4h1.4v1.4h-1.4zM474.3 187.1h1.4v1.4h-1.4zM488.3 194.3h1.4v1.4h-1.4zM491.4 190.5h1.4v1.4h-1.4zM488.0 199.1h1.4v1.4h-1.4zM482.5 194.5h1.4v1.4h-1.4zM490.8 198.5h1.4v1.4h-1.4zM488.1 194.9h1.4v1.4h-1.4zM495.7 197.4h1.4v1.4h-1.4zM481.2 197.3h1.4v1.4h-1.4zM486.6 192.2h1.4v1.4h-1.4z" fill="#111" fill-opacity="0.38"/>
<path d="M447.9 169.5h1.4v1.4h-1.4zM440.1 165.1h1.4v1.4h-1.4zM444.3 167.9h1.4v1.4h-1.4zM443.1 161.9h1.4v1.4h-1.4zM448.3 169.4h1.4v1.4h-1.4zM446.1 159.6h1.4v1.4h-1.4zM444.8 176.4h1.4v1.4h-1.4zM444.5 177.1h1.4v1.4h-1.4zM445.5 164.1h1.4v1.4h-1.4zM441.9 161.1h1.4v1.4h-1.4zM449.9 166.4h1.4v1.4h-1.4zM445.0 163.1h1.4v1.4h-1.4zM442.5 169.0h1.4v1.4h-1.4zM441.8 179.2h1.4v1.4h-1.4zM449.6 163.9h1.4v1.4h-1.4zM448.4 166.3h1.4v1.4h-1.4zM443.5 169.3h1.4v1.4h-1.4zM445.8 166.3h1.4v1.4h-1.4zM445.5 161.5h1.4v1.4h-1.4zM442.2 166.5h1.4v1.4h-1.4zM442.4 178.0h1.4v1.4h-1.4zM445.0 163.0h1.4v1.4h-1.4zM446.3 166.4h1.4v1.4h-1.4zM444.2 170.0h1.4v1.4h-1.4zM442.3 173.1h1.4v1.4h-1.4zM449.7 168.6h1.4v1.4h-1.4zM446.3 168.7h1.4v1.4h-1.4zM447.7 163.5h1.4v1.4h-1.4zM442.8 171.5h1.4v1.4h-1.4zM447.3 163.5h1.4v1.4h-1.4zM450.2 162.8h1.4v1.4h-1.4zM443.1 170.0h1.4v1.4h-1.4zM448.5 168.5h1.4v1.4h-1.4zM445.8 168.1h1.4v1.4h-1.4zM450.1 165.6h1.4v1.4h-1.4zM443.2 176.7h1.4v1.4h-1.4zM447.8 166.6h1.4v1.4h-1.4zM451.9 163.9h1.4v1.4h-1.4zM447.6 172.3h1.4v1.4h-1.4zM446.9 165.8h1.4v1.4h-1.4zM443.2 156.5h1.4v1.4h-1.4zM442.0 166.9h1.4v1.4h-1.4zM443.5 170.8h1.4v1.4h-1.4zM443.2 176.3h1.4v1.4h-1.4zM440.8 171.4h1.4v1.4h-1.4zM444.3 174.0h1.4v1.4h-1.4zM449.5 175.3h1.4v1.4h-1.4zM448.6 167.9h1.4v1.4h-1.4zM453.0 162.0h1.4v1.4h-1.4zM511.7 170.1h1.4v1.4h-1.4zM469.2 168.0h1.4v1.4h-1.4zM484.5 172.4h1.4v1.4h-1.4zM489.6 170.4h1.4v1.4h-1.4zM474.1 164.8h1.4v1.4h-1.4zM468.7 162.4h1.4v1.4h-1.4zM489.1 165.2h1.4v1.4h-1.4zM484.6 174.5h1.4v1.4h-1.4zM489.8 159.0h1.4v1.4h-1.4zM468.0 156.8h1.4v1.4h-1.4zM472.9 170.1h1.4v1.4h-1.4zM471.9 163.0h1.4v1.4h-1.4zM466.8 173.8h1.4v1.4h-1.4zM494.5 169.1h1.4v1.4h-1.4zM479.4 162.1h1.4v1.4h-1.4zM451.6 173.3h1.4v1.4h-1.4zM457.4 167.1h1.4v1.4h-1.4zM474.2 172.3h1.4v1.4h-1.4zM455.0 169.2h1.4v1.4h-1.4zM472.7 160.7h1.4v1.4h-1.4zM485.5 163.4h1.4v1.4h-1.4zM487.0 168.7h1.4v1.4h-1.4zM475.8 164.6h1.4v1.4h-1.4zM481.7 167.1h1.4v1.4h-1.4zM482.1 170.3h1.4v1.4h-1.4zM477.6 168.4h1.4v1.4h-1.4zM466.2 175.1h1.4v1.4h-1.4zM494.2 167.1h1.4v1.4h-1.4zM477.5 162.8h1.4v1.4h-1.4zM490.6 164.8h1.4v1.4h-1.4zM475.1 175.2h1.4v1.4h-1.4zM478.5 170.1h1.4v1.4h-1.4zM475.5 164.9h1.4v1.4h-1.4zM478.3 155.7h1.4v1.4h-1.4zM473.2 161.7h1.4v1.4h-1.4zM460.0 165.8h1.4v1.4h-1.4zM453.9 176.8h1.4v1.4h-1.4zM491.8 170.3h1.4v1.4h-1.4zM458.2 172.5h1.4v1.4h-1.4zM467.6 166.8h1.4v1.4h-1.4zM478.9 166.1h1.4v1.4h-1.4zM470.8 171.7h1.4v1.4h-1.4zM482.0 164.9h1.4v1.4h-1.4zM476.5 162.5h1.4v1.4h-1.4zM480.5 163.0h1.4v1.4h-1.4zM478.3 171.3h1.4v1.4h-1.4zM482.5 170.1h1.4v1.4h-1.4zM496.1 168.9h1.4v1.4h-1.4zM495.0 173.4h1.4v1.4h-1.4zM479.9 174.5h1.4v1.4h-1.4zM477.4 174.0h1.4v1.4h-1.4zM467.4 178.1h1.4v1.4h-1.4zM485.2 160.3h1.4v1.4h-1.4zM477.3 160.7h1.4v1.4h-1.4zM478.5 169.9h1.4v1.4h-1.4zM497.4 166.9h1.4v1.4h-1.4zM474.1 171.2h1.4v1.4h-1.4zM472.6 159.0h1.4v1.4h-1.4zM467.3 154.1h1.4v1.4h-1.4zM483.2 172.6h1.4v1.4h-1.4zM466.2 163.7h1.4v1.4h-1.4zM473.4 162.0h1.4v1.4h-1.4zM468.8 161.0h1.4v1.4h-1.4zM492.7 167.0h1.4v1.4h-1.4zM461.4 160.8h1.4v1.4h-1.4zM469.5 163.2h1.4v1.4h-1.4zM497.2 164.4h1.4v1.4h-1.4zM477.1 175.4h1.4v1.4h-1.4zM467.6 169.2h1.4v1.4h-1.4zM473.7 163.7h1.4v1.4h-1.4zM479.9 170.9h1.4v1.4h-1.4zM475.5 174.1h1.4v1.4h-1.4zM486.3 171.7h1.4v1.4h-1.4zM484.7 165.8h1.4v1.4h-1.4zM485.0 173.1h1.4v1.4h-1.4zM479.6 168.3h1.4v1.4h-1.4zM481.9 168.9h1.4v1.4h-1.4zM486.6 171.2h1.4v1.4h-1.4zM483.3 170.1h1.4v1.4h-1.4zM486.1 170.4h1.4v1.4h-1.4zM480.9 173.2h1.4v1.4h-1.4zM480.9 169.9h1.4v1.4h-1.4zM478.8 171.3h1.4v1.4h-1.4zM487.9 170.4h1.4v1.4h-1.4zM485.3 164.9h1.4v1.4h-1.4zM484.3 166.1h1.4v1.4h-1.4zM479.6 178.1h1.4v1.4h-1.4zM475.6 169.8h1.4v1.4h-1.4zM476.6 175.4h1.4v1.4h-1.4zM481.1 174.3h1.4v1.4h-1.4zM476.6 168.7h1.4v1.4h-1.4zM470.5 165.7h1.4v1.4h-1.4zM481.1 165.0h1.4v1.4h-1.4zM448.4 196.9h1.4v1.4h-1.4zM447.7 197.8h1.4v1.4h-1.4zM441.4 190.5h1.4v1.4h-1.4zM441.1 194.9h1.4v1.4h-1.4zM445.9 192.9h1.4v1.4h-1.4zM444.0 193.5h1.4v1.4h-1.4zM440.5 196.1h1.4v1.4h-1.4zM447.8 196.3h1.4v1.4h-1.4zM444.5 196.3h1.4v1.4h-1.4zM447.0 193.7h1.4v1.4h-1.4zM447.1 199.8h1.4v1.4h-1.4zM447.5 197.7h1.4v1.4h-1.4zM445.7 200.1h1.4v1.4h-1.4zM450.3 188.9h1.4v1.4h-1.4zM444.2 199.6h1.4v1.4h-1.4zM449.4 195.6h1.4v1.4h-1.4zM445.8 203.0h1.4v1.4h-1.4zM446.4 197.2h1.4v1.4h-1.4zM446.5 191.9h1.4v1.4h-1.4zM448.2 193.3h1.4v1.4h-1.4zM441.1 193.9h1.4v1.4h-1.4zM444.0 197.0h1.4v1.4h-1.4zM446.7 199.1h1.4v1.4h-1.4zM444.3 194.0h1.4v1.4h-1.4zM448.4 192.6h1.4v1.4h-1.4zM444.7 195.4h1.4v1.4h-1.4zM440.9 200.1h1.4v1.4h-1.4zM443.6 201.5h1.4v1.4h-1.4zM446.4 197.1h1.4v1.4h-1.4zM496.2 200.0h1.4v1.4h-1.4zM499.6 192.4h1.4v1.4h-1.4zM478.5 196.7h1.4v1.4h-1.4zM494.6 197.9h1.4v1.4h-1.4zM479.9 190.7h1.4v1.4h-1.4zM483.7 192.5h1.4v1.4h-1.4zM495.0 192.2h1.4v1.4h-1.4zM492.3 196.0h1.4v1.4h-1.4zM488.3 194.5h1.4v1.4h-1.4zM494.9 193.4h1.4v1.4h-1.4zM485.6 201.2h1.4v1.4h-1.4zM487.4 199.5h1.4v1.4h-1.4zM483.5 190.9h1.4v1.4h-1.4zM502.4 194.7h1.4v1.4h-1.4zM475.8 194.5h1.4v1.4h-1.4zM495.8 197.0h1.4v1.4h-1.4zM483.9 196.3h1.4v1.4h-1.4zM486.2 196.2h1.4v1.4h-1.4zM495.8 199.9h1.4v1.4h-1.4zM485.5 199.1h1.4v1.4h-1.4zM492.5 197.6h1.4v1.4h-1.4zM495.2 195.8h1.4v1.4h-1.4zM482.5 192.4h1.4v1.4h-1.4zM491.1 195.4h1.4v1.4h-1.4zM498.9 198.8h1.4v1.4h-1.4zM483.5 195.6h1.4v1.4h-1.4zM495.7 199.6h1.4v1.4h-1.4zM501.2 199.0h1.4v1.4h-1.4zM483.7 190.2h1.4v1.4h-1.4zM488.1 191.0h1.4v1.4h-1.4zM491.6 196.4h1.4v1.4h-1.4zM489.6 194.6h1.4v1.4h-1.4zM491.0 194.3h1.4v1.4h-1.4z" fill="#111" fill-opacity="0.38"/>
<path d="M444.9 167.5h1.4v1.4h-1.4zM445.5 160.0h1.4v1.4h-1.4zM444.2 165.5h1.4v1.4h-1.4zM445.4 163.9h1.4v1.4h-1.4zM446.6 166.2h1.4v1.4h-1.4zM441.3 161.0h1.4v1.4h-1.4zM439.4 172.8h1.4v1.4h-1.4zM449.1 164.9h1.4v1.4h-1.4zM442.7 164.8h1.4v1.4h-1.4zM443.0 167.7h1.4v1.4h-1.4zM446.8 174.8h1.4v1.4h-1.4zM451.6 167.1h1.4v1.4h-1.4zM447.7 171.9h1.4v1.4h-1.4zM448.4 164.2h1.4v1.4h-1.4zM445.1 167.2h1.4v1.4h-1.4zM451.5 169.7h1.4v1.4h-1.4zM445.1 174.0h1.4v1.4h-1.4zM443.1 177.2h1.4v1.4h-1.4zM444.3 171.5h1.4v1.4h-1.4zM443.8 161.7h1.4v1.4h-1.4zM440.6 167.8h1.4v1.4h-1.4zM443.6 167.3h1.4v1.4h-1.4zM444.5 166.9h1.4v1.4h-1.4zM442.4 170.0h1.4v1.4h-1.4zM441.5 177.6h1.4v1.4h-1.4zM450.6 166.9h1.4v1.4h-1.4zM445.4 171.2h1.4v1.4h-1.4zM447.0 166.7h1.4v1.4h-1.4zM445.4 170.0h1.4v1.4h-1.4zM451.9 167.3h1.4v1.4h-1.4zM448.0 169.3h1.4v1.4h-1.4zM444.1 169.1h1.4v1.4h-1.4zM448.1 175.2h1.4v1.4h-1.4zM463.5 158.0h1.4v1.4h-1.4zM496.5 171.8h1.4v1.4h-1.4zM470.2 169.1h1.4v1.4h-1.4zM472.4 177.1h1.4v1.4h-1.4zM487.4 165.7h1.4v1.4h-1.4zM466.1 172.1h1.4v1.4h-1.4zM466.2 166.3h1.4v1.4h-1.4zM465.6 175.0h1.4v1.4h-1.4zM458.8 166.7h1.4v1.4h-1.4zM457.2 164.7h1.4v1.4h-1.4zM469.2 169.7h1.4v1.4h-1.4zM462.8 181.8h1.4v1.4h-1.4zM488.5 174.5h1.4v1.4h-1.4zM474.9 176.3h1.4v1.4h-1.4zM472.2 169.5h1.4v1.4h-1.4zM489.7 166.7h1.4v1.4h-1.4zM489.6 171.2h1.4v1.4h-1.4zM480.3 166.7h1.4v1.4h-1.4zM460.5 178.0h1.4v1.4h-1.4zM462.9 167.5h1.4v1.4h-1.4zM480.8 165.5h1.4v1.4h-1.4zM482.8 175.3h1.4v1.4h-1.4zM477.2 167.7h1.4v1.4h-1.4zM472.3 166.2h1.4v1.4h-1.4zM469.6 168.7h1.4v1.4h-1.4zM480.1 168.9h1.4v1.4h-1.4zM474.5 169.4h1.4v1.4h-1.4zM473.4 170.8h1.4v1.4h-1.4zM473.2 171.9h1.4v1.4h-1.4zM488.2 175.0h1.4v1.4h-1.4zM473.4 158.9h1.4v1.4h-1.4zM469.7 164.3h1.4v1.4h-1.4zM478.5 157.6h1.4v1.4h-1.4zM495.5 179.5h1.4v1.4h-1.4zM463.5 164.9h1.4v1.4h-1.4zM483.3 168.6h1.4v1.4h-1.4zM468.6 169.3h1.4v1.4h-1.4zM464.0 160.6h1.4v1.4h-1.4zM471.6 170.5h1.4v1.4h-1.4zM497.7 164.2h1.4v1.4h-1.4zM471.7 172.6h1.4v1.4h-1.4zM467.8 163.9h1.4v1.4h-1.4zM470.8 165.9h1.4v1.4h-1.4zM472.6 170.3h1.4v1.4h-1.4zM476.1 169.2h1.4v1.4h-1.4zM480.9 170.5h1.4v1.4h-1.4zM481.1 165.9h1.4v1.4h-1.4zM481.5 166.6h1.4v1.4h-1.4zM471.4 173.4h1.4v1.4h-1.4zM478.8 165.2h1.4v1.4h-1.4zM482.6 171.1h1.4v1.4h-1.4zM474.6 165.0h1.4v1.4h-1.4zM481.7 167.4h1.4v1.4h-1.4zM492.9 168.1h1.4v1.4h-1.4zM487.2 165.5h1.4v1.4h-1.4zM478.7 166.9h1.4v1.4h-1.4zM482.8 173.9h1.4v1.4h-1.4zM465.4 172.4h1.4v1.4h-1.4zM476.1 173.8h1.4v1.4h-1.4zM482.4 168.0h1.4v1.4h-1.4zM481.5 165.0h1.4v1.4h-1.4zM484.3 170.1h1.4v1.4h-1.4zM470.1 171.1h1.4v1.4h-1.4zM494.4 167.3h1.4v1.4h-1.4zM480.2 168.6h1.4v1.4h-1.4zM477.4 175.8h1.4v1.4h-1.4zM477.0 167.1h1.4v1.4h-1.4zM479.8 164.4h1.4v1.4h-1.4zM477.6 167.0h1.4v1.4h-1.4zM478.8 165.3h1.4v1.4h-1.4zM473.1 169.8h1.4v1.4h-1.4zM481.2 167.8h1.4v1.4h-1.4zM481.3 168.0h1.4v1.4h-1.4zM478.7 166.6h1.4v1.4h-1.4zM484.8 168.8h1.4v1.4h-1.4zM483.6 170.0h1.4v1.4h-1.4zM472.7 165.8h1.4v1.4h-1.4zM486.1 170.2h1.4v1.4h-1.4zM481.7 171.5h1.4v1.4h-1.4zM477.6 165.1h1.4v1.4h-1.4zM471.4 166.4h1.4v1.4h-1.4zM478.6 171.8h1.4v1.4h-1.4zM488.9 169.0h1.4v1.4h-1.4zM484.4 170.4h1.4v1.4h-1.4zM485.8 166.7h1.4v1.4h-1.4zM475.9 163.9h1.4v1.4h-1.4zM469.1 170.8h1.4v1.4h-1.4zM479.6 169.9h1.4v1.4h-1.4zM476.8 166.3h1.4v1.4h-1.4zM475.4 167.6h1.4v1.4h-1.4zM477.9 166.4h1.4v1.4h-1.4zM489.1 167.2h1.4v1.4h-1.4zM479.2 171.1h1.4v1.4h-1.4zM481.7 172.8h1.4v1.4h-1.4zM476.3 171.2h1.4v1.4h-1.4zM483.7 169.8h1.4v1.4h-1.4zM438.1 201.3h1.4v1.4h-1.4zM438.4 198.3h1.4v1.4h-1.4zM448.2 191.6h1.4v1.4h-1.4zM444.6 199.1h1.4v1.4h-1.4zM447.5 195.2h1.4v1.4h-1.4zM445.9 196.3h1.4v1.4h-1.4zM444.1 190.6h1.4v1.4h-1.4zM444.9 196.1h1.4v1.4h-1.4zM442.7 196.2h1.4v1.4h-1.4zM446.6 200.0h1.4v1.4h-1.4zM448.2 192.5h1.4v1.4h-1.4zM442.2 189.0h1.4v1.4h-1.4zM444.3 198.8h1.4v1.4h-1.4zM447.1 193.9h1.4v1.4h-1.4zM442.4 192.9h1.4v1.4h-1.4zM444.8 190.2h1.4v1.4h-1.4zM447.9 195.4h1.4v1.4h-1.4zM442.0 193.3h1.4v1.4h-1.4zM441.5 196.9h1.4v1.4h-1.4zM440.9 194.9h1.4v1.4h-1.4zM438.0 192.5h1.4v1.4h-1.4zM445.1 196.2h1.4v1.4h-1.4zM444.4 193.1h1.4v1.4h-1.4zM446.3 190.8h1.4v1.4h-1.4zM443.2 200.5h1.4v1.4h-1.4zM445.5 202.5h1.4v1.4h-1.4zM443.4 198.9h1.4v1.4h-1.4zM441.6 197.6h1.4v1.4h-1.4zM489.4 195.7h1.4v1.4h-1.4zM497.3 195.4h1.4v1.4h-1.4zM491.1 199.8h1.4v1.4h-1.4zM500.9 192.1h1.4v1.4h-1.4zM476.2 193.6h1.4v1.4h-1.4zM479.9 192.8h1.4v1.4h-1.4zM491.0 195.9h1.4v1.4h-1.4zM484.6 193.8h1.4v1.4h-1.4zM501.7 190.9h1.4v1.4h-1.4zM493.2 194.3h1.4v1.4h-1.4zM500.6 190.9h1.4v1.4h-1.4zM485.7 192.6h1.4v1.4h-1.4zM483.1 195.2h1.4v1.4h-1.4zM492.1 192.0h1.4v1.4h-1.4zM484.4 193.2h1.4v1.4h-1.4zM492.7 198.2h1.4v1.4h-1.4zM474.4 198.0h1.4v1.4h-1.4zM483.3 196.4h1.4v1.4h-1.4zM492.4 192.8h1.4v1.4h-1.4zM491.5 197.0h1.4v1.4h-1.4zM486.1 196.5h1.4v1.4h-1.4zM483.3 198.1h1.4v1.4h-1.4zM488.0 195.4h1.4v1.4h-1.4zM475.7 197.0h1.4v1.4h-1.4zM486.4 192.8h1.4v1.4h-1.4zM479.6 195.0h1.4v1.4h-1.4zM492.3 193.8h1.4v1.4h-1.4zM495.0 200.2h1.4v1.4h-1.4zM481.5 192.1h1.4v1.4h-1.4zM483.8 193.4h1.4v1.4h-1.4zM498.2 194.7h1.4v1.4h-1.4zM510.9 202.3h1.4v1.4h-1.4zM492.7 199.1h1.4v1.4h-1.4zM484.7 194.7h1.4v1.4h-1.4zM490.7 196.9h1.4v1.4h-1.4zM504.7 195.3h1.4v1.4h-1.4zM505.9 197.6h1.4v1.4h-1.4zM483.1 200.3h1.4v1.4h-1.4zM488.2 197.1h1.4v1.4h-1.4zM493.2 194.1h1.4v1.4h-1.4zM499.1 197.1h1.4v1.4h-1.4z" fill="#111" fill-opacity="0.38"/>
<path d="M443.2 166.8h1.4v1.4h-1.4zM446.3 172.8h1.4v1.4h-1.4zM453.6 168.9h1.4v1.4h-1.4zM445.1 171.3h1.4v1.4h-1.4zM440.2 162.7h1.4v1.4h-1.4zM449.0 164.9h1.4v1.4h-1.4zM448.6 164.6h1.4v1.4h-1.4zM442.6 162.6h1.4v1.4h-1.4zM446.1 169.0h1.4v1.4h-1.4zM449.3 164.9h1.4v1.4h-1.4zM442.0 170.9h1.4v1.4h-1.4zM445.2 173.1h1.4v1.4h-1.4zM441.2 171.6h1.4v1.4h-1.4zM445.5 172.5h1.4v1.4h-1.4zM446.2 169.0h1.4v1.4h-1.4zM444.6 162.5h1.4v1.4h-1.4zM451.5 161.3h1.4v1.4h-1.4zM444.9 166.1h1.4v1.4h-1.4zM453.6 167.3h1.4v1.4h-1.4zM441.4 170.1h1.4v1.4h-1.4zM445.8 164.7h1.4v1.4h-1.4zM442.8 161.7h1.4v1.4h-1.4zM445.5 172.5h1.4v1.4h-1.4zM443.9 163.9h1.4v1.4h-1.4zM449.5 169.2h1.4v1.4h-1.4zM450.3 169.7h1.4v1.4h-1.4zM448.1 168.2h1.4v1.4h-1.4zM440.0 175.6h1.4v1.4h-1.4zM448.7 163.5h1.4v1.4h-1.4zM451.8 168.8h1.4v1.4h-1.4zM445.1 171.5h1.4v1.4h-1.4zM445.5 170.1h1.4v1.4h-1.4zM448.1 161.3h1.4v1.4h-1.4zM449.8 170.7h1.4v1.4h-1.4zM446.1 165.6h1.4v1.4h-1.4zM447.8 163.4h1.4v1.4h-1.4zM446.9 160.8h1.4v1.4h-1.4zM448.6 162.5h1.4v1.4h-1.4zM445.7 163.1h1.4v1.4h-1.4zM448.1 162.2h1.4v1.4h-1.4zM450.3 169.6h1.4v1.4h-1.4zM451.6 161.6h1.4v1.4h-1.4zM441.1 165.3h1.4v1.4h-1.4zM449.3 171.2h1.4v1.4h-1.4zM445.1 164.5h1.4v1.4h-1.4zM444.4 161.3h1.4v1.4h-1.4zM447.1 169.4h1.4v1.4h-1.4zM478.8 171.2h1.4v1.4h-1.4zM475.6 162.5h1.4v1.4h-1.4zM477.2 174.7h1.4v1.4h-1.4zM449.8 169.0h1.4v1.4h-1.4zM476.7 171.4h1.4v1.4h-1.4zM476.3 171.4h1.4v1.4h-1.4zM487.5 168.5h1.4v1.4h-1.4zM486.7 157.8h1.4v1.4h-1.4zM474.8 163.3h1.4v1.4h-1.4zM464.1 166.3h1.4v1.4h-1.4zM484.3 164.8h1.4v1.4h-1.4zM484.0 166.0h1.4v1.4h-1.4zM474.7 163.4h1.4v1.4h-1.4zM481.1 164.2h1.4v1.4h-1.4zM480.8 169.2h1.4v1.4h-1.4zM481.4 170.1h1.4v1.4h-1.4zM470.5 170.9h1.4v1.4h-1.4zM476.1 178.2h1.4v1.4h-1.4zM480.0 162.8h1.4v1.4h-1.4zM467.6 165.6h1.4v1.4h-1.4zM474.6 167.0h1.4v1.4h-1.4zM475.3 168.0h1.4v1.4h-1.4zM470.4 173.7h1.4v1.4h-1.4zM478.1 174.5h1.4v1.4h-1.4zM480.7 163.3h1.4v1.4h-1.4zM464.6 165.4h1.4v1.4h-1.4zM476.3 169.1h1.4v1.4h-1.4zM463.3 165.2h1.4v1.4h-1.4zM493.3 177.4h1.4v1.4h-1.4zM493.3 170.8h1.4v1.4h-1.4zM479.1 160.8h1.4v1.4h-1.4zM483.9 166.8h1.4v1.4h-1.4zM470.1 166.9h1.4v1.4h-1.4zM470.8 177.6h1.4v1.4h-1.4zM464.2 173.3h1.4v1.4h-1.4zM486.8 167.8h1.4v1.4h-1.4zM470.2 165.5h1.4v1.4h-1.4zM474.5 171.7h1.4v1.4h-1.4zM487.8 163.2h1.4v1.4h-1.4zM490.7 174.4h1.4v1.4h-1.4zM491.9 171.4h1.4v1.4h-1.4zM469.9 163.5h1.4v1.4h-1.4zM493.9 167.9h1.4v1.4h-1.4zM464.5 167.4h1.4v1.4h-1.4zM484.2 174.1h1.4v1.4h-1.4zM461.4 170.3h1.4v1.4h-1.4zM474.7 161.0h1.4v1.4h-1.4zM464.1 165.7h1.4v1.4h-1.4zM454.1 173.6h1.4v1.4h-1.4zM461.6 163.3h1.4v1.4h-1.4zM458.3 176.5h1.4v1.4h-1.4zM490.6 166.6h1.4v1.4h-1.4zM473.9 171.7h1.4v1.4h-1.4zM461.5 174.3h1.4v1.4h-1.4zM479.7 170.5h1.4v1.4h-1.4zM478.9 169.4h1.4v1.4h-1.4zM492.5 165.9h1.4v1.4h-1.4zM472.0 165.4h1.4v1.4h-1.4zM472.8 167.5h1.4v1.4h-1.4zM474.6 163.0h1.4v1.4h-1.4zM476.9 171.9h1.4v1.4h-1.4zM468.0 168.2h1.4v1.4h-1.4zM464.0 167.2h1.4v1.4h-1.4zM485.3 173.8h1.4v1.4h-1.4zM474.2 167.0h1.4v1.4h-1.4zM478.2 165.8h1.4v1.4h-1.4zM479.4 163.6h1.4v1.4h-1.4zM487.5 176.2h1.4v1.4h-1.4zM478.5 172.6h1.4v1.4h-1.4zM482.4 176.0h1.4v1.4h-1.4zM483.3 171.7h1.4v1.4h-1.4zM476.5 167.1h1.4v1.4h-1.4zM477.0 175.1h1.4v1.4h-1.4zM481.6 172.7h1.4v1.4h-1.4zM482.1 165.9h1.4v1.4h-1.4zM483.4 167.5h1.4v1.4h-1.4zM484.4 168.3h1.4v1.4h-1.4zM481.1 169.5h1.4v1.4h-1.4zM477.7 171.6h1.4v1.4h-1.4zM478.4 168.3h1.4v1.4h-1.4zM484.8 169.2h1.4v1.4h-1.4zM474.3 163.5h1.4v1.4h-1.4zM476.3 169.8h1.4v1.4h-1.4zM478.3 167.6h1.4v1.4h-1.4zM484.6 160.8h1.4v1.4h-1.4zM484.4 171.5h1.4v1.4h-1.4zM477.8 173.1h1.4v1.4h-1.4zM482.4 162.2h1.4v1.4h-1.4zM483.5 171.0h1.4v1.4h-1.4zM482.0 167.1h1.4v1.4h-1.4zM444.2 191.9h1.4v1.4h-1.4zM447.5 201.9h1.4v1.4h-1.4zM445.9 197.3h1.4v1.4h-1.4zM443.9 196.9h1.4v1.4h-1.4zM445.3 201.1h1.4v1.4h-1.4zM442.1 197.4h1.4v1.4h-1.4zM442.1 196.2h1.4v1.4h-1.4zM448.3 200.3h1.4v1.4h-1.4zM442.5 195.9h1.4v1.4h-1.4zM446.1 197.4h1.4v1.4h-1.4zM447.7 198.4h1.4v1.4h-1.4zM446.5 193.5h1.4v1.4h-1.4zM448.4 192.9h1.4v1.4h-1.4zM443.5 194.3h1.4v1.4h-1.4zM444.7 192.5h1.4v1.4h-1.4zM447.4 200.1h1.4v1.4h-1.4zM446.5 200.8h1.4v1.4h-1.4zM450.4 199.9h1.4v1.4h-1.4zM479.0 199.9h1.4v1.4h-1.4zM483.7 195.8h1.4v1.4h-1.4zM494.2 192.4h1.4v1.4h-1.4zM492.2 194.9h1.4v1.4h-1.4zM499.4 195.6h1.4v1.4h-1.4zM489.3 196.8h1.4v1.4h-1.4zM495.9 197.1h1.4v1.4h-1.4zM492.3 194.0h1.4v1.4h-1.4zM491.3 197.9h1.4v1.4h-1.4zM488.3 197.5h1.4v1.4h-1.4zM493.0 191.2h1.4v1.4h-1.4zM491.7 197.7h1.4v1.4h-1.4zM475.2 192.5h1.4v1.4h-1.4zM483.6 194.8h1.4v1.4h-1.4zM485.6 194.8h1.4v1.4h-1.4zM497.1 195.5h1.4v1.4h-1.4zM474.8 192.1h1.4v1.4h-1.4zM483.9 194.0h1.4v1.4h-1.4zM490.5 192.0h1.4v1.4h-1.4zM482.6 195.7h1.4v1.4h-1.4zM492.5 197.8h1.4v1.4h-1.4zM482.6 196.7h1.4v1.4h-1.4zM496.4 195.0h1.4v1.4h-1.4zM495.5 194.9h1.4v1.4h-1.4zM489.6 200.2h1.4v1.4h-1.4zM485.0 193.3h1.4v1.4h-1.4zM487.0 197.2h1.4v1.4h-1.4zM501.5 192.2h1.4v1.4h-1.4zM483.3 192.9h1.4v1.4h-1.4zM474.7 197.8h1.4v1.4h-1.4zM490.9 196.7h1.4v1.4h-1.4zM504.4 195.5h1.4v1.4h-1.4zM476.9 193.3h1.4v1.4h-1.4zM489.5 195.7h1.4v1.4h-1.4zM484.7 192.5h1.4v1.4h-1.4zM495.5 193.3h1.4v1.4h-1.4zM487.5 195.5h1.4v1.4h-1.4zM489.4 193.0h1.4v1.4h-1.4zM477.2 196.8h1.4v1.4h-1.4zM484.3 197.4h1.4v1.4h-1.4zM492.1 200.9h1.4v1.4h-1.4zM480.6 191.0h1.4v1.4h-1.4zM485.6 195.0h1.4v1.4h-1.4z" fill="#111" fill-opacity="0.38"/>
<path d="M451.5 164.0h1.2v1.2h-1.2zM451.2 166.4h1.2v1.2h-1.2zM446.6 177.9h1.2v1.2h-1.2zM447.3 159.0h1.2v1.2h-1.2zM438.6 166.3h1.2v1.2h-1.2zM446.9 176.6h1.2v1.2h-1.2zM445.5 166.1h1.2v1.2h-1.2zM437.9 167.6h1.2v1.2h-1.2zM449.0 171.4h1.2v1.2h-1.2zM449.1 173.4h1.2v1.2h-1.2zM442.9 160.8h1.2v1.2h-1.2zM445.0 171.0h1.2v1.2h-1.2zM443.7 171.0h1.2v1.2h-1.2zM447.9 162.8h1.2v1.2h-1.2zM442.7 169.9h1.2v1.2h-1.2zM441.0 154.5h1.2v1.2h-1.2zM445.0 166.7h1.2v1.2h-1.2zM450.0 176.1h1.2v1.2h-1.2zM446.1 171.7h1.2v1.2h-1.2zM445.2 156.0h1.2v1.2h-1.2zM440.4 160.9h1.2v1.2h-1.2zM445.7 167.0h1.2v1.2h-1.2zM449.9 169.4h1.2v1.2h-1.2zM448.2 168.6h1.2v1.2h-1.2zM444.5 165.1h1.2v1.2h-1.2zM445.1 163.6h1.2v1.2h-1.2zM451.1 158.9h1.2v1.2h-1.2zM442.2 170.9h1.2v1.2h-1.2zM445.3 174.3h1.2v1.2h-1.2zM437.7 179.8h1.2v1.2h-1.2zM442.7 166.3h1.2v1.2h-1.2zM444.9 161.6h1.2v1.2h-1.2zM441.3 173.4h1.2v1.2h-1.2zM445.5 159.7h1.2v1.2h-1.2zM438.9 176.5h1.2v1.2h-1.2zM445.5 170.8h1.2v1.2h-1.2zM444.9 169.9h1.2v1.2h-1.2zM445.0 175.4h1.2v1.2h-1.2zM451.9 162.4h1.2v1.2h-1.2zM445.1 164.3h1.2v1.2h-1.2zM444.6 157.1h1.2v1.2h-1.2zM437.5 170.3h1.2v1.2h-1.2zM443.3 163.6h1.2v1.2h-1.2zM446.2 165.6h1.2v1.2h-1.2zM440.1 167.5h1.2v1.2h-1.2zM446.4 181.8h1.2v1.2h-1.2zM443.1 165.2h1.2v1.2h-1.2zM448.1 176.0h1.2v1.2h-1.2zM445.8 173.7h1.2v1.2h-1.2zM445.2 162.5h1.2v1.2h-1.2zM446.2 164.7h1.2v1.2h-1.2zM449.9 158.2h1.2v1.2h-1.2zM440.6 177.1h1.2v1.2h-1.2zM444.8 164.0h1.2v1.2h-1.2zM448.7 164.4h1.2v1.2h-1.2zM471.3 161.4h1.2v1.2h-1.2zM482.9 172.9h1.2v1.2h-1.2zM483.1 162.6h1.2v1.2h-1.2zM485.5 165.7h1.2v1.2h-1.2zM476.9 170.1h1.2v1.2h-1.2zM484.4 173.1h1.2v1.2h-1.2zM473.1 166.2h1.2v1.2h-1.2zM480.4 171.4h1.2v1.2h-1.2zM450.7 165.3h1.2v1.2h-1.2zM473.2 169.2h1.2v1.2h-1.2zM460.8 166.3h1.2v1.2h-1.2zM482.0 167.6h1.2v1.2h-1.2zM460.0 166.0h1.2v1.2h-1.2zM484.6 166.8h1.2v1.2h-1.2zM475.3 166.3h1.2v1.2h-1.2zM466.8 176.6h1.2v1.2h-1.2zM477.5 167.2h1.2v1.2h-1.2zM479.4 170.7h1.2v1.2h-1.2zM480.2 166.4h1.2v1.2h-1.2zM469.7 169.3h1.2v1.2h-1.2zM490.3 167.9h1.2v1.2h-1.2zM482.2 171.3h1.2v1.2h-1.2zM503.9 167.5h1.2v1.2h-1.2zM481.8 168.7h1.2v1.2h-1.2zM472.0 167.5h1.2v1.2h-1.2zM466.0 168.0h1.2v1.2h-1.2zM473.2 172.5h1.2v1.2h-1.2zM462.0 158.7h1.2v1.2h-1.2zM476.1 159.3h1.2v1.2h-1.2zM478.0 166.2h1.2v1.2h-1.2zM471.8 165.5h1.2v1.2h-1.2zM462.2 165.3h1.2v1.2h-1.2zM479.7 164.9h1.2v1.2h-1.2zM468.0 175.4h1.2v1.2h-1.2zM481.1 158.3h1.2v1.2h-1.2zM489.9 167.7h1.2v1.2h-1.2zM480.8 169.0h1.2v1.2h-1.2zM470.4 163.4h1.2v1.2h-1.2zM475.8 168.6h1.2v1.2h-1.2zM472.9 171.6h1.2v1.2h-1.2zM480.4 167.2h1.2v1.2h-1.2zM472.7 173.5h1.2v1.2h-1.2zM476.9 173.9h1.2v1.2h-1.2zM472.4 165.1h1.2v1.2h-1.2zM472.1 171.9h1.2v1.2h-1.2zM489.8 163.0h1.2v1.2h-1.2zM479.8 161.1h1.2v1.2h-1.2zM470.3 167.3h1.2v1.2h-1.2zM482.3 164.5h1.2v1.2h-1.2zM468.3 166.5h1.2v1.2h-1.2zM474.8 174.6h1.2v1.2h-1.2zM492.9 168.3h1.2v1.2h-1.2zM480.4 174.2h1.2v1.2h-1.2zM487.9 168.1h1.2v1.2h-1.2zM467.7 164.2h1.2v1.2h-1.2zM461.9 170.8h1.2v1.2h-1.2zM485.3 170.1h1.2v1.2h-1.2zM469.4 163.3h1.2v1.2h-1.2zM474.2 163.4h1.2v1.2h-1.2zM477.0 173.0h1.2v1.2h-1.2zM485.8 167.8h1.2v1.2h-1.2zM494.3 173.4h1.2v1.2h-1.2zM487.2 167.4h1.2v1.2h-1.2zM479.9 163.8h1.2v1.2h-1.2zM477.3 173.4h1.2v1.2h-1.2zM483.7 162.2h1.2v1.2h-1.2zM483.2 174.7h1.2v1.2h-1.2zM481.2 175.3h1.2v1.2h-1.2zM474.4 169.2h1.2v1.2h-1.2zM485.1 169.0h1.2v1.2h-1.2zM474.1 170.4h1.2v1.2h-1.2zM477.0 156.8h1.2v1.2h-1.2zM454.8 161.7h1.2v1.2h-1.2zM467.2 170.5h1.2v1.2h-1.2zM487.4 170.5h1.2v1.2h-1.2zM465.8 174.6h1.2v1.2h-1.2zM470.2 176.4h1.2v1.2h-1.2zM494.3 169.1h1.2v1.2h-1.2zM464.6 161.4h1.2v1.2h-1.2zM475.0 165.9h1.2v1.2h-1.2zM468.9 170.6h1.2v1.2h-1.2zM469.5 168.7h1.2v1.2h-1.2zM453.3 156.0h1.2v1.2h-1.2zM488.6 170.7h1.2v1.2h-1.2zM477.2 159.6h1.2v1.2h-1.2zM461.6 160.0h1.2v1.2h-1.2zM481.8 174.0h1.2v1.2h-1.2zM470.7 161.4h1.2v1.2h-1.2zM468.9 169.0h1.2v1.2h-1.2zM499.0 170.8h1.2v1.2h-1.2zM476.1 163.8h1.2v1.2h-1.2zM469.3 169.6h1.2v1.2h-1.2zM478.2 166.0h1.2v1.2h-1.2zM473.8 174.8h1.2v1.2h-1.2zM475.3 155.9h1.2v1.2h-1.2zM469.0 170.3h1.2v1.2h-1.2zM480.9 164.3h1.2v1.2h-1.2zM476.7 162.8h1.2v1.2h-1.2zM476.0 171.0h1.2v1.2h-1.2zM480.3 169.4h1.2v1.2h-1.2zM486.0 164.9h1.2v1.2h-1.2zM482.3 170.4h1.2v1.2h-1.2zM480.3 174.1h1.2v1.2h-1.2zM474.7 177.3h1.2v1.2h-1.2zM482.5 172.4h1.2v1.2h-1.2zM488.7 170.9h1.2v1.2h-1.2zM480.3 163.7h1.2v1.2h-1.2zM483.1 169.9h1.2v1.2h-1.2zM476.7 170.3h1.2v1.2h-1.2zM478.4 165.5h1.2v1.2h-1.2zM482.0 168.8h1.2v1.2h-1.2zM484.4 173.3h1.2v1.2h-1.2zM474.8 168.4h1.2v1.2h-1.2zM481.3 166.9h1.2v1.2h-1.2zM485.8 167.3h1.2v1.2h-1.2zM475.4 171.5h1.2v1.2h-1.2zM484.0 167.2h1.2v1.2h-1.2zM484.6 163.7h1.2v1.2h-1.2zM476.7 168.1h1.2v1.2h-1.2zM474.4 169.1h1.2v1.2h-1.2zM482.0 167.6h1.2v1.2h-1.2zM476.6 167.1h1.2v1.2h-1.2zM474.2 169.4h1.2v1.2h-1.2zM480.2 172.2h1.2v1.2h-1.2zM480.2 167.8h1.2v1.2h-1.2zM484.5 177.3h1.2v1.2h-1.2zM491.1 172.7h1.2v1.2h-1.2zM478.1 171.0h1.2v1.2h-1.2zM486.8 164.3h1.2v1.2h-1.2zM444.1 194.6h1.2v1.2h-1.2zM444.6 192.7h1.2v1.2h-1.2zM442.2 199.7h1.2v1.2h-1.2zM441.6 196.9h1.2v1.2h-1.2zM444.5 198.2h1.2v1.2h-1.2zM439.4 198.6h1.2v1.2h-1.2zM450.1 192.4h1.2v1.2h-1.2zM447.4 197.5h1.2v1.2h-1.2zM438.3 196.5h1.2v1.2h-1.2zM440.6 193.2h1.2v1.2h-1.2zM450.2 194.3h1.2v1.2h-1.2zM445.6 193.5h1.2v1.2h-1.2zM445.5 200.4h1.2v1.2h-1.2zM445.0 199.7h1.2v1.2h-1.2zM441.2 188.3h1.2v1.2h-1.2zM442.3 195.8h1.2v1.2h-1.2zM486.4 196.1h1.2v1.2h-1.2zM489.0 197.5h1.2v1.2h-1.2zM496.5 194.9h1.2v1.2h-1.2zM490.9 192.3h1.2v1.2h-1.2zM490.7 196.6h1.2v1.2h-1.2zM489.3 199.6h1.2v1.2h-1.2zM491.2 196.1h1.2v1.2h-1.2zM493.5 197.9h1.2v1.2h-1.2zM502.9 194.5h1.2v1.2h-1.2zM473.3 197.1h1.2v1.2h-1.2zM475.4 196.1h1.2v1.2h-1.2zM489.4 194.8h1.2v1.2h-1.2zM493.8 197.9h1.2v1.2h-1.2zM500.0 188.7h1.2v1.2h-1.2zM489.8 195.2h1.2v1.2h-1.2zM493.7 193.4h1.2v1.2h-1.2zM484.5 197.6h1.2v1.2h-1.2zM495.4 198.2h1.2v1.2h-1.2zM484.3 197.8h1.2v1.2h-1.2zM504.9 201.4h1.2v1.2h-1.2zM482.0 192.5h1.2v1.2h-1.2zM491.8 195.0h1.2v1.2h-1.2zM487.3 197.2h1.2v1.2h-1.2zM492.1 197.8h1.2v1.2h-1.2zM493.5 194.3h1.2v1.2h-1.2zM483.5 190.8h1.2v1.2h-1.2zM492.9 196.0h1.2v1.2h-1.2zM504.5 201.9h1.2v1.2h-1.2zM492.5 199.8h1.2v1.2h-1.2zM477.1 196.6h1.2v1.2h-1.2zM476.0 198.8h1.2v1.2h-1.2zM483.3 195.2h1.2v1.2h-1.2zM490.7 199.2h1.2v1.2h-1.2zM495.6 192.0h1.2v1.2h-1.2zM501.1 195.7h1.2v1.2h-1.2zM495.7 194.7h1.2v1.2h-1.2zM498.1 199.2h1.2v1.2h-1.2zM493.1 193.6h1.2v1.2h-1.2zM483.0 196.1h1.2v1.2h-1.2zM483.1 194.8h1.2v1.2h-1.2zM499.0 193.0h1.2v1.2h-1.2zM491.5 199.8h1.2v1.2h-1.2zM478.7 191.4h1.2v1.2h-1.2zM496.9 192.7h1.2v1.2h-1.2zM493.1 200.5h1.2v1.2h-1.2zM490.5 192.5h1.2v1.2h-1.2zM480.1 192.8h1.2v1.2h-1.2zM489.7 195.6h1.2v1.2h-1.2zM478.9 195.4h1.2v1.2h-1.2zM484.9 196.5h1.2v1.2h-1.2zM497.2 195.1h1.2v1.2h-1.2zM484.9 193.0h1.2v1.2h-1.2zM485.7 194.2h1.2v1.2h-1.2zM496.8 193.1h1.2v1.2h-1.2zM493.9 196.5h1.2v1.2h-1.2zM498.7 198.0h1.2v1.2h-1.2zM480.9 197.1h1.2v1.2h-1.2zM483.9 190.5h1.2v1.2h-1.2zM474.0 195.7h1.2v1.2h-1.2zM468.3 193.3h1.2v1.2h-1.2zM481.3 195.6h1.2v1.2h-1.2zM456.1 194.4h1.2v1.2h-1.2zM468.2 195.7h1.2v1.2h-1.2zM457.2 197.8h1.2v1.2h-1.2zM455.0 192.6h1.2v1.2h-1.2zM462.9 203.1h1.2v1.2h-1.2zM477.6 197.4h1.2v1.2h-1.2zM465.1 186.9h1.2v1.2h-1.2zM444.0 194.6h1.2v1.2h-1.2zM474.9 198.5h1.2v1.2h-1.2zM462.2 196.6h1.2v1.2h-1.2zM464.4 191.7h1.2v1.2h-1.2zM466.6 194.6h1.2v1.2h-1.2zM463.4 191.5h1.2v1.2h-1.2zM450.2 194.4h1.2v1.2h-1.2zM482.5 198.3h1.2v1.2h-1.2zM462.1 191.1h1.2v1.2h-1.2zM467.2 197.5h1.2v1.2h-1.2zM470.7 192.6h1.2v1.2h-1.2zM450.9 198.9h1.2v1.2h-1.2zM444.7 196.1h1.2v1.2h-1.2zM460.6 191.6h1.2v1.2h-1.2zM473.8 198.0h1.2v1.2h-1.2zM472.9 199.2h1.2v1.2h-1.2zM462.3 192.1h1.2v1.2h-1.2zM457.3 195.5h1.2v1.2h-1.2zM459.3 202.4h1.2v1.2h-1.2zM458.4 198.6h1.2v1.2h-1.2zM452.4 199.8h1.2v1.2h-1.2zM476.2 195.6h1.2v1.2h-1.2zM460.8 195.3h1.2v1.2h-1.2zM466.9 199.2h1.2v1.2h-1.2zM471.0 201.3h1.2v1.2h-1.2zM450.9 194.4h1.2v1.2h-1.2zM466.3 193.5h1.2v1.2h-1.2zM472.7 190.7h1.2v1.2h-1.2zM469.2 196.8h1.2v1.2h-1.2zM469.9 196.9h1.2v1.2h-1.2z" fill="#111" fill-opacity="0.28"/>
<path d="M439.6 168.8h1.2v1.2h-1.2zM443.3 166.8h1.2v1.2h-1.2zM446.4 153.9h1.2v1.2h-1.2zM450.8 174.7h1.2v1.2h-1.2zM442.6 168.1h1.2v1.2h-1.2zM442.1 174.8h1.2v1.2h-1.2zM448.3 170.7h1.2v1.2h-1.2zM449.3 163.0h1.2v1.2h-1.2zM448.4 160.4h1.2v1.2h-1.2zM440.2 166.5h1.2v1.2h-1.2zM447.4 178.3h1.2v1.2h-1.2zM445.4 175.1h1.2v1.2h-1.2zM447.3 171.8h1.2v1.2h-1.2zM449.8 168.2h1.2v1.2h-1.2zM446.0 166.6h1.2v1.2h-1.2zM444.6 173.6h1.2v1.2h-1.2zM449.9 169.3h1.2v1.2h-1.2zM445.5 166.7h1.2v1.2h-1.2zM446.5 173.1h1.2v1.2h-1.2zM443.5 160.1h1.2v1.2h-1.2zM449.0 165.8h1.2v1.2h-1.2zM442.4 167.6h1.2v1.2h-1.2zM450.3 170.8h1.2v1.2h-1.2zM450.7 168.7h1.2v1.2h-1.2zM449.2 166.9h1.2v1.2h-1.2zM440.9 164.2h1.2v1.2h-1.2zM439.7 165.1h1.2v1.2h-1.2zM440.6 172.7h1.2v1.2h-1.2zM445.9 162.5h1.2v1.2h-1.2zM446.7 179.8h1.2v1.2h-1.2zM453.4 182.2h1.2v1.2h-1.2zM449.5 167.2h1.2v1.2h-1.2zM445.9 180.7h1.2v1.2h-1.2zM446.1 162.0h1.2v1.2h-1.2zM444.0 165.0h1.2v1.2h-1.2zM449.2 164.9h1.2v1.2h-1.2zM445.1 173.3h1.2v1.2h-1.2zM445.1 167.4h1.2v1.2h-1.2zM449.0 176.6h1.2v1.2h-1.2zM448.2 165.2h1.2v1.2h-1.2zM455.0 165.9h1.2v1.2h-1.2zM448.8 174.0h1.2v1.2h-1.2zM450.1 171.7h1.2v1.2h-1.2zM444.3 168.8h1.2v1.2h-1.2zM442.7 165.6h1.2v1.2h-1.2zM448.1 163.4h1.2v1.2h-1.2zM448.0 166.6h1.2v1.2h-1.2zM444.6 167.5h1.2v1.2h-1.2zM443.9 172.4h1.2v1.2h-1.2zM442.9 172.4h1.2v1.2h-1.2zM445.0 170.5h1.2v1.2h-1.2zM439.1 159.2h1.2v1.2h-1.2zM443.0 173.0h1.2v1.2h-1.2zM454.2 158.1h1.2v1.2h-1.2zM442.0 172.5h1.2v1.2h-1.2zM437.4 165.3h1.2v1.2h-1.2zM480.3 165.7h1.2v1.2h-1.2zM474.2 166.0h1.2v1.2h-1.2zM467.0 172.4h1.2v1.2h-1.2zM454.4 161.1h1.2v1.2h-1.2zM466.1 167.2h1.2v1.2h-1.2zM486.3 171.3h1.2v1.2h-1.2zM498.4 169.3h1.2v1.2h-1.2zM474.6 161.8h1.2v1.2h-1.2zM460.8 165.1h1.2v1.2h-1.2zM489.5 168.9h1.2v1.2h-1.2zM469.4 169.5h1.2v1.2h-1.2zM471.8 170.8h1.2v1.2h-1.2zM470.4 163.0h1.2v1.2h-1.2zM483.0 172.1h1.2v1.2h-1.2zM481.9 171.4h1.2v1.2h-1.2zM458.8 167.1h1.2v1.2h-1.2zM479.8 171.7h1.2v1.2h-1.2zM476.6 170.2h1.2v1.2h-1.2zM462.1 169.2h1.2v1.2h-1.2zM458.9 171.3h1.2v1.2h-1.2zM490.6 168.3h1.2v1.2h-1.2zM486.5 166.5h1.2v1.2h-1.2zM461.0 165.0h1.2v1.2h-1.2zM460.1 167.0h1.2v1.2h-1.2zM462.7 166.0h1.2v1.2h-1.2zM482.8 174.3h1.2v1.2h-1.2zM495.4 165.4h1.2v1.2h-1.2zM481.8 172.3h1.2v1.2h-1.2zM461.1 175.6h1.2v1.2h-1.2zM453.6 177.7h1.2v1.2h-1.2zM476.6 165.4h1.2v1.2h-1.2zM471.0 171.1h1.2v1.2h-1.2zM478.4 171.2h1.2v1.2h-1.2zM460.3 178.0h1.2v1.2h-1.2zM446.4 161.9h1.2v1.2h-1.2zM477.0 162.8h1.2v1.2h-1.2zM464.7 168.7h1.2v1.2h-1.2zM476.2 181.5h1.2v1.2h-1.2zM478.6 164.7h1.2v1.2h-1.2zM482.0 167.6h1.2v1.2h-1.2zM474.4 163.4h1.2v1.2h-1.2zM454.5 177.2h1.2v1.2h-1.2zM488.1 173.3h1.2v1.2h-1.2zM468.2 170.3h1.2v1.2h-1.2zM490.1 162.6h1.2v1.2h-1.2zM457.6 155.5h1.2v1.2h-1.2zM466.8 171.7h1.2v1.2h-1.2zM460.6 159.7h1.2v1.2h-1.2zM477.4 165.3h1.2v1.2h-1.2zM479.4 166.6h1.2v1.2h-1.2zM494.2 154.9h1.2v1.2h-1.2zM468.2 169.4h1.2v1.2h-1.2zM471.6 176.1h1.2v1.2h-1.2zM476.7 169.5h1.2v1.2h-1.2zM494.9 163.8h1.2v1.2h-1.2zM485.7 171.5h1.2v1.2h-1.2zM480.8 168.3h1.2v1.2h-1.2zM491.4 169.4h1.2v1.2h-1.2zM483.7 172.6h1.2v1.2h-1.2zM466.7 162.3h1.2v1.2h-1.2zM471.7 175.8h1.2v1.2h-1.2zM461.7 172.9h1.2v1.2h-1.2zM490.8 166.0h1.2v1.2h-1.2zM478.3 166.3h1.2v1.2h-1.2zM479.6 173.4h1.2v1.2h-1.2zM470.9 169.6h1.2v1.2h-1.2zM458.4 160.7h1.2v1.2h-1.2zM472.6 168.8h1.2v1.2h-1.2zM467.6 168.6h1.2v1.2h-1.2zM462.2 174.6h1.2v1.2h-1.2zM455.9 163.2h1.2v1.2h-1.2zM467.4 168.4h1.2v1.2h-1.2zM490.0 171.0h1.2v1.2h-1.2zM493.1 179.5h1.2v1.2h-1.2zM468.8 168.4h1.2v1.2h-1.2zM459.0 170.7h1.2v1.2h-1.2zM464.2 163.4h1.2v1.2h-1.2zM488.4 158.8h1.2v1.2h-1.2zM487.2 168.5h1.2v1.2h-1.2zM483.6 168.9h1.2v1.2h-1.2zM484.4 170.1h1.2v1.2h-1.2zM479.9 164.6h1.2v1.2h-1.2zM479.6 167.0h1.2v1.2h-1.2zM487.0 166.5h1.2v1.2h-1.2zM480.1 164.4h1.2v1.2h-1.2zM480.9 165.5h1.2v1.2h-1.2zM475.4 171.8h1.2v1.2h-1.2zM474.6 171.3h1.2v1.2h-1.2zM480.9 172.1h1.2v1.2h-1.2zM475.3 176.4h1.2v1.2h-1.2zM474.4 167.9h1.2v1.2h-1.2zM474.1 166.9h1.2v1.2h-1.2zM476.1 173.9h1.2v1.2h-1.2zM470.3 173.3h1.2v1.2h-1.2zM471.3 173.2h1.2v1.2h-1.2zM488.8 164.2h1.2v1.2h-1.2zM481.8 169.9h1.2v1.2h-1.2zM481.8 167.5h1.2v1.2h-1.2zM482.8 169.1h1.2v1.2h-1.2zM474.8 172.6h1.2v1.2h-1.2zM486.2 174.2h1.2v1.2h-1.2zM479.3 167.6h1.2v1.2h-1.2zM486.4 170.4h1.2v1.2h-1.2zM477.2 168.2h1.2v1.2h-1.2zM479.4 166.8h1.2v1.2h-1.2zM475.1 169.6h1.2v1.2h-1.2zM479.1 172.7h1.2v1.2h-1.2zM481.5 175.2h1.2v1.2h-1.2zM484.7 165.6h1.2v1.2h-1.2zM481.1 168.0h1.2v1.2h-1.2zM472.9 165.6h1.2v1.2h-1.2zM480.7 172.8h1.2v1.2h-1.2zM483.7 163.7h1.2v1.2h-1.2zM445.3 195.5h1.2v1.2h-1.2zM443.7 183.7h1.2v1.2h-1.2zM439.5 189.6h1.2v1.2h-1.2zM445.1 192.0h1.2v1.2h-1.2zM444.5 190.3h1.2v1.2h-1.2zM448.0 188.6h1.2v1.2h-1.2zM442.8 193.3h1.2v1.2h-1.2zM447.9 195.7h1.2v1.2h-1.2zM449.4 194.1h1.2v1.2h-1.2zM444.2 200.1h1.2v1.2h-1.2zM445.9 195.5h1.2v1.2h-1.2zM444.0 196.1h1.2v1.2h-1.2zM443.8 191.7h1.2v1.2h-1.2zM438.6 194.8h1.2v1.2h-1.2zM449.8 195.6h1.2v1.2h-1.2zM443.0 192.6h1.2v1.2h-1.2zM450.5 197.0h1.2v1.2h-1.2zM442.8 197.0h1.2v1.2h-1.2zM448.8 194.8h1.2v1.2h-1.2zM442.6 196.1h1.2v1.2h-1.2zM451.1 192.0h1.2v1.2h-1.2zM440.8 195.7h1.2v1.2h-1.2zM444.1 193.1h1.2v1.2h-1.2zM444.4 190.9h1.2v1.2h-1.2zM441.8 189.1h1.2v1.2h-1.2zM447.9 192.4h1.2v1.2h-1.2zM456.0 192.0h1.2v1.2h-1.2zM451.6 193.0h1.2v1.2h-1.2zM449.3 196.0h1.2v1.2h-1.2zM495.4 195.4h1.2v1.2h-1.2zM495.9 188.2h1.2v1.2h-1.2zM493.8 199.9h1.2v1.2h-1.2zM481.0 192.4h1.2v1.2h-1.2zM489.1 194.4h1.2v1.2h-1.2zM494.5 196.4h1.2v1.2h-1.2zM486.9 199.7h1.2v1.2h-1.2zM488.9 196.4h1.2v1.2h-1.2zM489.0 199.9h1.2v1.2h-1.2zM487.5 193.1h1.2v1.2h-1.2zM490.8 195.4h1.2v1.2h-1.2zM484.8 193.3h1.2v1.2h-1.2zM479.1 197.9h1.2v1.2h-1.2zM498.3 195.7h1.2v1.2h-1.2zM479.4 194.9h1.2v1.2h-1.2zM494.5 191.8h1.2v1.2h-1.2zM475.9 202.0h1.2v1.2h-1.2zM491.2 199.0h1.2v1.2h-1.2zM474.5 196.4h1.2v1.2h-1.2zM482.9 195.0h1.2v1.2h-1.2zM485.5 197.5h1.2v1.2h-1.2zM493.3 197.1h1.2v1.2h-1.2zM491.6 190.6h1.2v1.2h-1.2zM482.0 193.0h1.2v1.2h-1.2zM487.2 195.9h1.2v1.2h-1.2zM490.7 198.4h1.2v1.2h-1.2zM488.5 197.7h1.2v1.2h-1.2zM483.1 198.0h1.2v1.2h-1.2zM487.6 196.3h1.2v1.2h-1.2zM488.2 193.9h1.2v1.2h-1.2zM497.8 199.2h1.2v1.2h-1.2zM492.8 194.0h1.2v1.2h-1.2zM486.3 193.0h1.2v1.2h-1.2zM478.2 193.6h1.2v1.2h-1.2zM480.6 190.8h1.2v1.2h-1.2zM485.8 196.6h1.2v1.2h-1.2zM477.5 188.5h1.2v1.2h-1.2zM468.3 197.3h1.2v1.2h-1.2zM466.2 197.2h1.2v1.2h-1.2zM474.3 196.3h1.2v1.2h-1.2zM454.7 193.7h1.2v1.2h-1.2zM473.3 189.6h1.2v1.2h-1.2zM469.4 199.5h1.2v1.2h-1.2zM468.1 191.6h1.2v1.2h-1.2zM486.2 187.9h1.2v1.2h-1.2zM450.4 197.1h1.2v1.2h-1.2zM461.7 195.6h1.2v1.2h-1.2zM439.0 190.8h1.2v1.2h-1.2zM465.1 195.3h1.2v1.2h-1.2zM462.3 199.0h1.2v1.2h-1.2zM452.5 190.9h1.2v1.2h-1.2zM486.7 200.3h1.2v1.2h-1.2zM466.7 192.9h1.2v1.2h-1.2zM460.2 200.4h1.2v1.2h-1.2zM459.2 196.9h1.2v1.2h-1.2zM474.0 193.4h1.2v1.2h-1.2zM454.4 196.0h1.2v1.2h-1.2zM462.9 197.9h1.2v1.2h-1.2zM461.4 194.3h1.2v1.2h-1.2zM466.5 188.4h1.2v1.2h-1.2zM465.5 197.8h1.2v1.2h-1.2zM453.2 193.0h1.2v1.2h-1.2zM450.2 193.9h1.2v1.2h-1.2zM459.6 190.0h1.2v1.2h-1.2zM456.6 185.4h1.2v1.2h-1.2zM480.5 194.6h1.2v1.2h-1.2zM473.7 201.0h1.2v1.2h-1.2zM462.9 192.9h1.2v1.2h-1.2zM458.2 199.3h1.2v1.2h-1.2zM460.9 192.8h1.2v1.2h-1.2zM457.7 189.0h1.2v1.2h-1.2zM447.6 196.7h1.2v1.2h-1.2zM466.1 193.1h1.2v1.2h-1.2z" fill="#111" fill-opacity="0.28"/>
<path d="M446.0 160.3h1.2v1.2h-1.2zM439.7 155.8h1.2v1.2h-1.2zM449.5 169.8h1.2v1.2h-1.2zM442.3 163.7h1.2v1.2h-1.2zM438.9 163.9h1.2v1.2h-1.2zM444.3 169.8h1.2v1.2h-1.2zM443.3 168.8h1.2v1.2h-1.2zM443.4 164.6h1.2v1.2h-1.2zM447.2 159.1h1.2v1.2h-1.2zM444.2 179.2h1.2v1.2h-1.2zM452.2 159.8h1.2v1.2h-1.2zM444.3 162.5h1.2v1.2h-1.2zM444.6 160.2h1.2v1.2h-1.2zM443.3 170.6h1.2v1.2h-1.2zM440.2 167.9h1.2v1.2h-1.2zM447.7 167.7h1.2v1.2h-1.2zM445.9 168.7h1.2v1.2h-1.2zM439.4 166.0h1.2v1.2h-1.2zM453.2 174.4h1.2v1.2h-1.2zM447.7 173.8h1.2v1.2h-1.2zM449.4 171.4h1.2v1.2h-1.2zM450.3 167.9h1.2v1.2h-1.2zM442.4 175.6h1.2v1.2h-1.2zM444.9 170.1h1.2v1.2h-1.2zM446.8 169.7h1.2v1.2h-1.2zM444.8 160.8h1.2v1.2h-1.2zM452.4 174.8h1.2v1.2h-1.2zM446.3 152.3h1.2v1.2h-1.2zM449.1 167.4h1.2v1.2h-1.2zM447.9 164.1h1.2v1.2h-1.2zM448.5 159.9h1.2v1.2h-1.2zM441.1 175.6h1.2v1.2h-1.2zM444.2 170.4h1.2v1.2h-1.2zM446.6 172.7h1.2v1.2h-1.2zM447.3 158.4h1.2v1.2h-1.2zM451.3 155.7h1.2v1.2h-1.2zM446.9 172.6h1.2v1.2h-1.2zM446.2 162.0h1.2v1.2h-1.2zM445.3 167.7h1.2v1.2h-1.2zM449.4 172.9h1.2v1.2h-1.2zM452.5 154.5h1.2v1.2h-1.2zM444.6 160.0h1.2v1.2h-1.2zM442.3 167.1h1.2v1.2h-1.2zM455.6 169.0h1.2v1.2h-1.2zM441.5 168.6h1.2v1.2h-1.2zM441.8 172.3h1.2v1.2h-1.2zM442.1 159.1h1.2v1.2h-1.2zM451.1 175.7h1.2v1.2h-1.2zM443.2 171.3h1.2v1.2h-1.2zM442.6 165.6h1.2v1.2h-1.2zM446.2 168.8h1.2v1.2h-1.2zM447.2 165.2h1.2v1.2h-1.2zM445.7 167.9h1.2v1.2h-1.2zM444.9 168.1h1.2v1.2h-1.2zM451.2 151.6h1.2v1.2h-1.2zM442.2 167.8h1.2v1.2h-1.2zM450.6 173.8h1.2v1.2h-1.2zM442.2 176.0h1.2v1.2h-1.2zM451.3 162.6h1.2v1.2h-1.2zM446.8 167.9h1.2v1.2h-1.2zM441.4 161.3h1.2v1.2h-1.2zM445.5 169.3h1.2v1.2h-1.2zM459.6 175.2h1.2v1.2h-1.2zM477.5 167.7h1.2v1.2h-1.2zM473.4 172.5h1.2v1.2h-1.2zM462.2 172.1h1.2v1.2h-1.2zM478.8 164.7h1.2v1.2h-1.2zM476.9 168.9h1.2v1.2h-1.2zM463.6 168.3h1.2v1.2h-1.2zM483.9 160.6h1.2v1.2h-1.2zM460.9 172.1h1.2v1.2h-1.2zM475.7 168.5h1.2v1.2h-1.2zM458.9 169.1h1.2v1.2h-1.2zM475.0 167.5h1.2v1.2h-1.2zM484.0 163.9h1.2v1.2h-1.2zM479.4 166.3h1.2v1.2h-1.2zM489.1 164.9h1.2v1.2h-1.2zM494.9 172.8h1.2v1.2h-1.2zM479.1 175.1h1.2v1.2h-1.2zM492.5 163.5h1.2v1.2h-1.2zM492.6 166.9h1.2v1.2h-1.2zM492.7 171.5h1.2v1.2h-1.2zM474.8 171.5h1.2v1.2h-1.2zM479.7 161.6h1.2v1.2h-1.2zM470.9 176.1h1.2v1.2h-1.2zM469.5 169.0h1.2v1.2h-1.2zM472.2 171.9h1.2v1.2h-1.2zM465.4 171.6h1.2v1.2h-1.2zM464.4 175.8h1.2v1.2h-1.2zM466.4 167.2h1.2v1.2h-1.2zM474.3 162.9h1.2v1.2h-1.2zM469.0 164.6h1.2v1.2h-1.2zM464.5 165.4h1.2v1.2h-1.2zM463.2 169.4h1.2v1.2h-1.2zM497.0 172.5h1.2v1.2h-1.2zM480.3 174.3h1.2v1.2h-1.2zM471.7 161.8h1.2v1.2h-1.2zM472.2 165.9h1.2v1.2h-1.2zM466.1 170.9h1.2v1.2h-1.2zM471.7 161.7h1.2v1.2h-1.2zM478.7 165.3h1.2v1.2h-1.2zM461.3 167.9h1.2v1.2h-1.2zM464.6 164.9h1.2v1.2h-1.2zM478.9 167.9h1.2v1.2h-1.2zM480.6 163.2h1.2v1.2h-1.2zM482.8 161.5h1.2v1.2h-1.2zM476.6 164.6h1.2v1.2h-1.2zM470.5 173.6h1.2v1.2h-1.2zM482.3 164.1h1.2v1.2h-1.2zM474.5 173.6h1.2v1.2h-1.2zM486.3 175.9h1.2v1.2h-1.2zM462.0 178.3h1.2v1.2h-1.2zM482.3 158.9h1.2v1.2h-1.2zM485.4 170.9h1.2v1.2h-1.2zM474.2 174.1h1.2v1.2h-1.2zM467.0 169.8h1.2v1.2h-1.2zM464.6 178.2h1.2v1.2h-1.2zM481.1 165.1h1.2v1.2h-1.2zM486.9 169.6h1.2v1.2h-1.2zM495.5 169.4h1.2v1.2h-1.2zM480.8 164.2h1.2v1.2h-1.2zM471.1 167.2h1.2v1.2h-1.2zM474.8 169.5h1.2v1.2h-1.2zM473.1 173.5h1.2v1.2h-1.2zM458.3 168.0h1.2v1.2h-1.2zM470.9 165.6h1.2v1.2h-1.2zM467.8 170.9h1.2v1.2h-1.2zM492.0 171.4h1.2v1.2h-1.2zM472.3 169.0h1.2v1.2h-1.2zM457.2 178.5h1.2v1.2h-1.2zM483.5 170.0h1.2v1.2h-1.2zM479.0 158.9h1.2v1.2h-1.2zM475.9 167.1h1.2v1.2h-1.2zM476.7 165.4h1.2v1.2h-1.2zM470.3 165.0h1.2v1.2h-1.2zM471.1 167.2h1.2v1.2h-1.2zM480.2 173.3h1.2v1.2h-1.2zM480.0 168.2h1.2v1.2h-1.2zM478.9 172.4h1.2v1.2h-1.2zM477.7 164.1h1.2v1.2h-1.2zM484.8 168.1h1.2v1.2h-1.2zM476.5 174.7h1.2v1.2h-1.2zM482.2 163.3h1.2v1.2h-1.2zM482.6 168.3h1.2v1.2h-1.2zM484.4 172.2h1.2v1.2h-1.2zM471.1 167.5h1.2v1.2h-1.2zM481.5 168.0h1.2v1.2h-1.2zM475.1 164.1h1.2v1.2h-1.2zM480.5 164.1h1.2v1.2h-1.2zM480.8 165.4h1.2v1.2h-1.2zM477.9 169.0h1.2v1.2h-1.2zM482.4 168.0h1.2v1.2h-1.2zM482.1 164.8h1.2v1.2h-1.2zM476.3 167.0h1.2v1.2h-1.2zM478.9 170.4h1.2v1.2h-1.2zM480.0 174.1h1.2v1.2h-1.2zM485.8 170.0h1.2v1.2h-1.2zM476.3 169.2h1.2v1.2h-1.2zM474.4 168.8h1.2v1.2h-1.2zM483.6 162.9h1.2v1.2h-1.2zM477.6 173.6h1.2v1.2h-1.2zM478.9 171.7h1.2v1.2h-1.2zM484.9 173.1h1.2v1.2h-1.2zM480.4 173.5h1.2v1.2h-1.2zM483.4 170.3h1.2v1.2h-1.2zM472.8 174.6h1.2v1.2h-1.2zM446.1 196.3h1.2v1.2h-1.2zM448.7 203.1h1.2v1.2h-1.2zM444.4 192.5h1.2v1.2h-1.2zM446.5 198.6h1.2v1.2h-1.2zM445.1 193.6h1.2v1.2h-1.2zM444.7 200.0h1.2v1.2h-1.2zM442.3 195.6h1.2v1.2h-1.2zM445.8 199.2h1.2v1.2h-1.2zM443.0 197.7h1.2v1.2h-1.2zM445.4 189.7h1.2v1.2h-1.2zM443.6 196.7h1.2v1.2h-1.2zM448.9 196.5h1.2v1.2h-1.2zM447.3 193.7h1.2v1.2h-1.2zM439.9 198.3h1.2v1.2h-1.2zM490.2 197.4h1.2v1.2h-1.2zM486.3 196.3h1.2v1.2h-1.2zM493.6 193.9h1.2v1.2h-1.2zM486.1 196.4h1.2v1.2h-1.2zM485.4 191.8h1.2v1.2h-1.2zM482.5 196.7h1.2v1.2h-1.2zM486.3 198.9h1.2v1.2h-1.2zM476.0 198.0h1.2v1.2h-1.2zM489.0 199.5h1.2v1.2h-1.2zM495.2 191.0h1.2v1.2h-1.2zM492.6 193.7h1.2v1.2h-1.2zM481.9 190.4h1.2v1.2h-1.2zM491.3 191.9h1.2v1.2h-1.2zM486.9 190.1h1.2v1.2h-1.2zM487.0 198.0h1.2v1.2h-1.2zM504.6 190.9h1.2v1.2h-1.2zM487.9 198.4h1.2v1.2h-1.2zM493.4 197.4h1.2v1.2h-1.2zM493.8 194.1h1.2v1.2h-1.2zM486.4 191.5h1.2v1.2h-1.2zM502.9 193.9h1.2v1.2h-1.2zM498.7 193.9h1.2v1.2h-1.2zM479.0 195.4h1.2v1.2h-1.2zM500.0 194.2h1.2v1.2h-1.2zM495.0 193.0h1.2v1.2h-1.2zM476.3 199.6h1.2v1.2h-1.2zM493.5 192.1h1.2v1.2h-1.2zM486.9 192.0h1.2v1.2h-1.2zM501.1 196.2h1.2v1.2h-1.2zM487.4 193.3h1.2v1.2h-1.2zM488.2 197.0h1.2v1.2h-1.2zM487.6 195.4h1.2v1.2h-1.2zM503.3 197.2h1.2v1.2h-1.2zM486.1 196.9h1.2v1.2h-1.2zM496.1 194.8h1.2v1.2h-1.2zM497.9 193.4h1.2v1.2h-1.2zM482.7 195.3h1.2v1.2h-1.2zM491.1 201.7h1.2v1.2h-1.2zM487.2 197.8h1.2v1.2h-1.2zM492.1 197.5h1.2v1.2h-1.2zM488.1 193.1h1.2v1.2h-1.2zM499.1 191.7h1.2v1.2h-1.2zM490.3 196.9h1.2v1.2h-1.2zM486.0 199.8h1.2v1.2h-1.2zM488.4 190.2h1.2v1.2h-1.2zM469.9 196.0h1.2v1.2h-1.2zM452.7 197.7h1.2v1.2h-1.2zM473.3 199.7h1.2v1.2h-1.2zM462.8 194.4h1.2v1.2h-1.2zM457.5 192.7h1.2v1.2h-1.2zM471.2 196.6h1.2v1.2h-1.2zM450.7 190.4h1.2v1.2h-1.2zM463.9 201.1h1.2v1.2h-1.2zM471.8 200.8h1.2v1.2h-1.2zM459.9 195.0h1.2v1.2h-1.2zM475.5 188.5h1.2v1.2h-1.2zM462.4 196.0h1.2v1.2h-1.2zM474.4 202.6h1.2v1.2h-1.2zM448.1 193.1h1.2v1.2h-1.2zM459.2 200.3h1.2v1.2h-1.2zM450.3 199.4h1.2v1.2h-1.2zM452.8 197.0h1.2v1.2h-1.2zM451.0 198.0h1.2v1.2h-1.2zM438.8 192.8h1.2v1.2h-1.2zM448.8 196.3h1.2v1.2h-1.2zM466.6 201.1h1.2v1.2h-1.2zM456.2 196.6h1.2v1.2h-1.2zM455.6 198.9h1.2v1.2h-1.2zM466.4 194.1h1.2v1.2h-1.2zM476.7 192.2h1.2v1.2h-1.2zM474.6 199.4h1.2v1.2h-1.2zM479.3 196.2h1.2v1.2h-1.2zM482.3 197.7h1.2v1.2h-1.2zM473.4 194.3h1.2v1.2h-1.2zM468.5 197.8h1.2v1.2h-1.2zM454.2 190.5h1.2v1.2h-1.2zM470.1 194.3h1.2v1.2h-1.2zM458.2 196.6h1.2v1.2h-1.2zM473.7 198.2h1.2v1.2h-1.2zM462.7 193.7h1.2v1.2h-1.2z" fill="#111" fill-opacity="0.28"/>
<path d="M442.3 162.4h1.2v1.2h-1.2zM446.3 177.0h1.2v1.2h-1.2zM442.0 166.9h1.2v1.2h-1.2zM448.2 167.2h1.2v1.2h-1.2zM444.6 167.2h1.2v1.2h-1.2zM452.9 163.4h1.2v1.2h-1.2zM440.8 159.8h1.2v1.2h-1.2zM450.4 169.2h1.2v1.2h-1.2zM446.1 163.4h1.2v1.2h-1.2zM452.9 168.3h1.2v1.2h-1.2zM454.2 173.1h1.2v1.2h-1.2zM445.1 161.8h1.2v1.2h-1.2zM450.4 171.2h1.2v1.2h-1.2zM449.1 164.7h1.2v1.2h-1.2zM445.3 167.7h1.2v1.2h-1.2zM442.7 170.7h1.2v1.2h-1.2zM445.4 165.5h1.2v1.2h-1.2zM448.2 177.6h1.2v1.2h-1.2zM444.7 167.0h1.2v1.2h-1.2zM452.1 165.3h1.2v1.2h-1.2zM445.3 167.0h1.2v1.2h-1.2zM447.7 171.4h1.2v1.2h-1.2zM446.2 161.3h1.2v1.2h-1.2zM442.2 165.5h1.2v1.2h-1.2zM447.0 176.7h1.2v1.2h-1.2zM446.3 170.1h1.2v1.2h-1.2zM449.4 168.8h1.2v1.2h-1.2zM444.0 173.7h1.2v1.2h-1.2zM439.9 162.7h1.2v1.2h-1.2zM443.1 173.2h1.2v1.2h-1.2zM445.5 162.7h1.2v1.2h-1.2zM447.3 171.5h1.2v1.2h-1.2zM447.2 168.1h1.2v1.2h-1.2zM443.1 166.4h1.2v1.2h-1.2zM443.4 169.7h1.2v1.2h-1.2zM444.2 171.8h1.2v1.2h-1.2zM440.1 169.5h1.2v1.2h-1.2zM482.9 163.1h1.2v1.2h-1.2zM488.9 170.5h1.2v1.2h-1.2zM450.3 169.7h1.2v1.2h-1.2zM467.8 172.7h1.2v1.2h-1.2zM469.7 172.7h1.2v1.2h-1.2zM467.5 172.0h1.2v1.2h-1.2zM470.5 172.5h1.2v1.2h-1.2zM467.8 166.7h1.2v1.2h-1.2zM502.5 168.3h1.2v1.2h-1.2zM474.4 173.8h1.2v1.2h-1.2zM464.2 162.8h1.2v1.2h-1.2zM482.1 170.6h1.2v1.2h-1.2zM478.6 169.0h1.2v1.2h-1.2zM489.1 166.9h1.2v1.2h-1.2zM470.1 161.2h1.2v1.2h-1.2zM463.7 164.7h1.2v1.2h-1.2zM459.6 175.2h1.2v1.2h-1.2zM467.6 165.7h1.2v1.2h-1.2zM493.4 159.7h1.2v1.2h-1.2zM468.7 165.2h1.2v1.2h-1.2zM460.9 171.5h1.2v1.2h-1.2zM487.2 170.3h1.2v1.2h-1.2zM475.4 172.2h1.2v1.2h-1.2zM487.4 158.3h1.2v1.2h-1.2zM494.8 171.9h1.2v1.2h-1.2zM468.8 164.7h1.2v1.2h-1.2zM470.9 165.2h1.2v1.2h-1.2zM463.2 165.0h1.2v1.2h-1.2zM449.9 165.9h1.2v1.2h-1.2zM462.2 173.1h1.2v1.2h-1.2zM472.0 159.9h1.2v1.2h-1.2zM492.2 163.5h1.2v1.2h-1.2zM462.1 169.7h1.2v1.2h-1.2zM487.5 158.1h1.2v1.2h-1.2zM475.8 163.5h1.2v1.2h-1.2zM456.2 166.5h1.2v1.2h-1.2zM469.9 161.2h1.2v1.2h-1.2zM488.7 164.9h1.2v1.2h-1.2zM478.0 164.7h1.2v1.2h-1.2zM489.8 172.6h1.2v1.2h-1.2zM480.3 162.4h1.2v1.2h-1.2zM475.9 160.4h1.2v1.2h-1.2zM472.5 174.0h1.2v1.2h-1.2zM478.3 178.6h1.2v1.2h-1.2zM486.3 163.7h1.2v1.2h-1.2zM455.7 163.8h1.2v1.2h-1.2zM473.5 170.3h1.2v1.2h-1.2zM491.4 172.9h1.2v1.2h-1.2zM478.9 168.0h1.2v1.2h-1.2zM480.4 163.2h1.2v1.2h-1.2zM492.6 169.1h1.2v1.2h-1.2zM500.6 166.4h1.2v1.2h-1.2zM468.4 168.6h1.2v1.2h-1.2zM465.5 168.6h1.2v1.2h-1.2zM477.8 166.8h1.2v1.2h-1.2zM463.2 175.2h1.2v1.2h-1.2zM474.7 167.0h1.2v1.2h-1.2zM484.9 171.5h1.2v1.2h-1.2zM482.4 176.2h1.2v1.2h-1.2zM476.6 167.1h1.2v1.2h-1.2zM490.0 167.3h1.2v1.2h-1.2zM471.8 162.8h1.2v1.2h-1.2zM466.4 170.4h1.2v1.2h-1.2zM482.2 170.0h1.2v1.2h-1.2zM452.8 172.9h1.2v1.2h-1.2zM473.1 168.8h1.2v1.2h-1.2zM490.1 165.3h1.2v1.2h-1.2zM478.2 169.0h1.2v1.2h-1.2zM486.7 165.5h1.2v1.2h-1.2zM471.8 172.8h1.2v1.2h-1.2zM476.7 170.4h1.2v1.2h-1.2zM495.3 178.5h1.2v1.2h-1.2zM477.4 170.3h1.2v1.2h-1.2zM475.9 168.1h1.2v1.2h-1.2zM466.3 168.9h1.2v1.2h-1.2zM480.3 179.4h1.2v1.2h-1.2zM463.5 167.5h1.2v1.2h-1.2zM470.7 169.2h1.2v1.2h-1.2zM472.6 168.1h1.2v1.2h-1.2zM465.6 172.0h1.2v1.2h-1.2zM475.7 164.6h1.2v1.2h-1.2zM492.1 170.7h1.2v1.2h-1.2zM473.6 169.8h1.2v1.2h-1.2zM470.4 170.1h1.2v1.2h-1.2zM479.1 165.9h1.2v1.2h-1.2zM471.3 171.6h1.2v1.2h-1.2zM455.6 169.0h1.2v1.2h-1.2zM475.7 163.9h1.2v1.2h-1.2zM482.7 170.3h1.2v1.2h-1.2zM488.8 165.5h1.2v1.2h-1.2zM471.5 159.1h1.2v1.2h-1.2zM476.1 169.6h1.2v1.2h-1.2zM472.5 173.9h1.2v1.2h-1.2zM475.9 164.7h1.2v1.2h-1.2zM473.9 161.5h1.2v1.2h-1.2zM475.6 174.9h1.2v1.2h-1.2zM475.2 170.6h1.2v1.2h-1.2zM482.3 168.1h1.2v1.2h-1.2zM472.2 171.6h1.2v1.2h-1.2zM476.8 162.7h1.2v1.2h-1.2zM476.1 169.3h1.2v1.2h-1.2zM474.6 168.0h1.2v1.2h-1.2zM477.8 166.6h1.2v1.2h-1.2zM484.1 174.0h1.2v1.2h-1.2zM484.6 163.3h1.2v1.2h-1.2zM485.8 176.9h1.2v1.2h-1.2zM481.3 172.2h1.2v1.2h-1.2zM480.3 166.5h1.2v1.2h-1.2zM476.1 169.5h1.2v1.2h-1.2zM481.8 164.8h1.2v1.2h-1.2zM486.5 166.0h1.2v1.2h-1.2zM474.9 169.9h1.2v1.2h-1.2zM473.2 170.1h1.2v1.2h-1.2zM488.5 167.2h1.2v1.2h-1.2zM482.6 168.4h1.2v1.2h-1.2zM481.8 165.4h1.2v1.2h-1.2zM485.5 167.2h1.2v1.2h-1.2zM474.5 164.8h1.2v1.2h-1.2zM471.5 170.0h1.2v1.2h-1.2zM481.5 168.9h1.2v1.2h-1.2zM480.5 164.9h1.2v1.2h-1.2zM486.1 167.3h1.2v1.2h-1.2zM480.5 169.8h1.2v1.2h-1.2zM474.6 167.3h1.2v1.2h-1.2zM470.9 162.5h1.2v1.2h-1.2zM472.8 166.8h1.2v1.2h-1.2zM476.6 171.9h1.2v1.2h-1.2zM445.2 194.4h1.2v1.2h-1.2zM446.0 195.5h1.2v1.2h-1.2zM440.3 198.5h1.2v1.2h-1.2zM451.9 195.7h1.2v1.2h-1.2zM440.9 193.7h1.2v1.2h-1.2zM441.4 195.1h1.2v1.2h-1.2zM445.7 200.6h1.2v1.2h-1.2zM445.4 197.0h1.2v1.2h-1.2zM440.2 192.8h1.2v1.2h-1.2zM451.4 196.9h1.2v1.2h-1.2zM449.8 193.0h1.2v1.2h-1.2zM451.5 201.7h1.2v1.2h-1.2zM450.3 196.7h1.2v1.2h-1.2zM448.0 193.8h1.2v1.2h-1.2zM441.9 195.7h1.2v1.2h-1.2zM443.4 195.1h1.2v1.2h-1.2zM439.7 201.0h1.2v1.2h-1.2zM441.2 196.3h1.2v1.2h-1.2zM445.8 195.0h1.2v1.2h-1.2zM448.3 190.4h1.2v1.2h-1.2zM451.5 195.6h1.2v1.2h-1.2zM446.7 193.6h1.2v1.2h-1.2zM449.8 197.5h1.2v1.2h-1.2zM448.2 201.2h1.2v1.2h-1.2zM442.6 191.5h1.2v1.2h-1.2zM447.8 195.9h1.2v1.2h-1.2zM441.8 197.3h1.2v1.2h-1.2zM445.0 192.3h1.2v1.2h-1.2zM438.1 195.7h1.2v1.2h-1.2zM489.9 192.6h1.2v1.2h-1.2zM486.0 199.7h1.2v1.2h-1.2zM478.2 196.8h1.2v1.2h-1.2zM492.8 198.4h1.2v1.2h-1.2zM474.8 197.2h1.2v1.2h-1.2zM497.7 198.3h1.2v1.2h-1.2zM491.4 202.9h1.2v1.2h-1.2zM495.0 196.1h1.2v1.2h-1.2zM487.2 198.8h1.2v1.2h-1.2zM489.5 196.3h1.2v1.2h-1.2zM489.5 197.2h1.2v1.2h-1.2zM491.5 197.3h1.2v1.2h-1.2zM479.6 198.2h1.2v1.2h-1.2zM491.5 201.7h1.2v1.2h-1.2zM492.2 203.0h1.2v1.2h-1.2zM493.5 199.5h1.2v1.2h-1.2zM491.5 197.3h1.2v1.2h-1.2zM484.3 194.3h1.2v1.2h-1.2zM496.9 193.5h1.2v1.2h-1.2zM480.6 193.0h1.2v1.2h-1.2zM495.8 197.6h1.2v1.2h-1.2zM493.8 190.6h1.2v1.2h-1.2zM484.2 195.3h1.2v1.2h-1.2zM493.6 196.2h1.2v1.2h-1.2zM483.7 191.5h1.2v1.2h-1.2zM498.8 200.3h1.2v1.2h-1.2zM482.1 193.8h1.2v1.2h-1.2zM484.2 194.9h1.2v1.2h-1.2zM481.2 191.5h1.2v1.2h-1.2zM498.6 199.7h1.2v1.2h-1.2zM482.4 195.8h1.2v1.2h-1.2zM497.5 197.8h1.2v1.2h-1.2zM488.7 194.7h1.2v1.2h-1.2zM486.5 201.4h1.2v1.2h-1.2zM502.9 202.3h1.2v1.2h-1.2zM494.0 196.5h1.2v1.2h-1.2zM487.7 195.8h1.2v1.2h-1.2zM494.8 187.5h1.2v1.2h-1.2zM489.6 191.4h1.2v1.2h-1.2zM495.3 198.3h1.2v1.2h-1.2zM492.0 194.3h1.2v1.2h-1.2zM497.8 195.2h1.2v1.2h-1.2zM488.0 194.8h1.2v1.2h-1.2zM485.2 196.9h1.2v1.2h-1.2zM497.1 198.8h1.2v1.2h-1.2zM492.9 190.3h1.2v1.2h-1.2zM485.1 193.3h1.2v1.2h-1.2zM493.2 201.7h1.2v1.2h-1.2zM498.7 193.7h1.2v1.2h-1.2zM482.5 201.8h1.2v1.2h-1.2zM492.4 196.8h1.2v1.2h-1.2zM489.5 197.7h1.2v1.2h-1.2zM479.6 195.6h1.2v1.2h-1.2zM464.7 188.6h1.2v1.2h-1.2zM467.9 194.3h1.2v1.2h-1.2zM463.1 195.6h1.2v1.2h-1.2zM483.0 200.9h1.2v1.2h-1.2zM465.5 197.0h1.2v1.2h-1.2zM459.1 194.2h1.2v1.2h-1.2zM480.6 195.8h1.2v1.2h-1.2zM464.6 199.1h1.2v1.2h-1.2zM466.2 198.7h1.2v1.2h-1.2zM475.2 200.2h1.2v1.2h-1.2zM477.6 191.7h1.2v1.2h-1.2zM461.5 193.4h1.2v1.2h-1.2zM476.6 190.7h1.2v1.2h-1.2zM488.4 193.1h1.2v1.2h-1.2zM478.1 193.2h1.2v1.2h-1.2zM463.1 196.0h1.2v1.2h-1.2zM465.7 197.6h1.2v1.2h-1.2zM451.9 192.2h1.2v1.2h-1.2zM466.3 203.1h1.2v1.2h-1.2zM479.9 193.8h1.2v1.2h-1.2zM474.8 196.5h1.2v1.2h-1.2zM482.7 195.0h1.2v1.2h-1.2zM464.0 189.1h1.2v1.2h-1.2zM476.1 194.3h1.2v1.2h-1.2zM456.2 197.8h1.2v1.2h-1.2zM467.6 196.9h1.2v1.2h-1.2zM460.7 198.2h1.2v1.2h-1.2zM456.0 198.2h1.2v1.2h-1.2zM468.6 199.0h1.2v1.2h-1.2zM461.0 193.5h1.2v1.2h-1.2zM463.4 192.4h1.2v1.2h-1.2zM463.6 197.1h1.2v1.2h-1.2zM472.5 192.8h1.2v1.2h-1.2zM458.8 192.5h1.2v1.2h-1.2zM461.2 196.4h1.2v1.2h-1.2zM457.6 195.1h1.2v1.2h-1.2zM468.8 198.8h1.2v1.2h-1.2z" fill="#111" fill-opacity="0.28"/>
<path d="M442.2 204.5v2.5M445.7 204.5v2.5M448.1 204.5v2.5M450.1 204.5v2.5M451.6 204.5v2.5M452.9 204.5v2.5M454.1 204.5v2.5M455.1 204.5v2.5M461.9 204.5v2.5M465.4 204.5v2.5M467.8 204.5v2.5M469.7 204.5v2.5M471.3 204.5v2.5M472.6 204.5v2.5M473.7 204.5v2.5M474.7 204.5v2.5M456.0 204.5v5.5M481.6 204.5v2.5M485.0 204.5v2.5M487.5 204.5v2.5M489.4 204.5v2.5M491.0 204.5v2.5M492.3 204.5v2.5M493.4 204.5v2.5M494.4 204.5v2.5M475.6 204.5v5.5M501.2 204.5v2.5M504.7 204.5v2.5M507.2 204.5v2.5M509.1 204.5v2.5M510.6 204.5v2.5M512.0 204.5v2.5M513.1 204.5v2.5M514.1 204.5v2.5M495.3 204.5v5.5M515.5 204.5v5.5M436.5 198.7h-2.5M436.5 195.5h-2.5M436.5 193.2h-2.5M436.5 191.4h-2.5M436.5 190.0h-2.5M436.5 188.7h-2.5M436.5 187.7h-2.5M436.5 186.7h-2.5M436.5 180.4h-2.5M436.5 177.2h-2.5M436.5 174.9h-2.5M436.5 173.1h-2.5M436.5 171.7h-2.5M436.5 170.4h-2.5M436.5 169.4h-2.5M436.5 168.4h-2.5M436.5 185.9h-5.5M436.5 162.1h-2.5M436.5 158.9h-2.5M436.5 156.6h-2.5M436.5 154.8h-2.5M436.5 153.4h-2.5M436.5 152.1h-2.5M436.5 151.1h-2.5M436.5 150.1h-2.5M436.5 167.6h-5.5M436.5 143.8h-2.5M436.5 140.6h-2.5M436.5 138.3h-2.5M436.5 136.5h-2.5M436.5 135.1h-2.5M436.5 133.8h-2.5M436.5 132.8h-2.5M436.5 131.8h-2.5M436.5 149.3h-5.5" stroke="#888" stroke-width="0.8" fill="none"/>
<rect x="436.5" y="131.5" width="79.0" height="73.0" fill="none" stroke="#888" stroke-width="1"/>
<line x1="453.50" y1="131.50" x2="453.50" y2="204.50" stroke="#333" stroke-width="1.0"/>
<line x1="431.00" y1="186.50" x2="515.50" y2="186.50" stroke="#333" stroke-width="1.0"/>
<text transform="translate(439.60,143.00) scale(0.9,1.0)" font-size="12" text-anchor="start" font-weight="normal" style="stroke-width:0.25px">21</text>
<text transform="translate(513.80,143.00) scale(0.9,1.0)" font-size="12" text-anchor="end" font-weight="normal" style="stroke-width:0.25px">35</text>
<text transform="translate(514.00,202.80) scale(0.9,1.0)" font-size="12" text-anchor="end" font-weight="normal" style="stroke-width:0.25px">22</text>
<path d="M324.0 314.9h1.4v1.4h-1.4zM331.6 308.9h1.4v1.4h-1.4zM324.5 311.7h1.4v1.4h-1.4zM328.8 305.1h1.4v1.4h-1.4zM325.7 306.9h1.4v1.4h-1.4zM328.3 306.5h1.4v1.4h-1.4zM334.3 308.3h1.4v1.4h-1.4zM330.8 309.9h1.4v1.4h-1.4zM327.6 309.6h1.4v1.4h-1.4zM324.5 315.6h1.4v1.4h-1.4zM323.6 307.9h1.4v1.4h-1.4zM325.2 315.1h1.4v1.4h-1.4zM331.6 307.8h1.4v1.4h-1.4zM322.2 313.7h1.4v1.4h-1.4zM331.1 311.1h1.4v1.4h-1.4zM324.6 314.5h1.4v1.4h-1.4zM330.3 307.8h1.4v1.4h-1.4zM326.5 314.4h1.4v1.4h-1.4zM319.5 308.2h1.4v1.4h-1.4zM326.9 310.3h1.4v1.4h-1.4zM325.5 304.2h1.4v1.4h-1.4zM326.6 318.8h1.4v1.4h-1.4zM326.9 315.8h1.4v1.4h-1.4zM326.4 317.9h1.4v1.4h-1.4zM326.8 311.4h1.4v1.4h-1.4zM325.4 305.7h1.4v1.4h-1.4zM325.8 310.9h1.4v1.4h-1.4zM328.2 314.1h1.4v1.4h-1.4zM328.0 316.3h1.4v1.4h-1.4zM326.0 309.4h1.4v1.4h-1.4zM330.3 312.2h1.4v1.4h-1.4zM322.1 314.6h1.4v1.4h-1.4zM323.5 319.3h1.4v1.4h-1.4zM326.3 304.2h1.4v1.4h-1.4zM325.1 306.0h1.4v1.4h-1.4zM327.7 314.2h1.4v1.4h-1.4zM325.3 312.5h1.4v1.4h-1.4zM331.8 312.9h1.4v1.4h-1.4zM327.7 315.5h1.4v1.4h-1.4zM325.0 310.2h1.4v1.4h-1.4zM325.0 321.6h1.4v1.4h-1.4zM324.9 310.2h1.4v1.4h-1.4zM322.7 315.5h1.4v1.4h-1.4zM329.0 307.5h1.4v1.4h-1.4zM327.2 309.2h1.4v1.4h-1.4zM324.9 309.2h1.4v1.4h-1.4zM332.1 316.5h1.4v1.4h-1.4zM328.6 308.8h1.4v1.4h-1.4zM327.3 315.1h1.4v1.4h-1.4zM321.5 320.3h1.4v1.4h-1.4zM328.1 312.7h1.4v1.4h-1.4zM323.6 316.0h1.4v1.4h-1.4zM324.2 312.6h1.4v1.4h-1.4zM325.9 314.9h1.4v1.4h-1.4zM321.8 305.7h1.4v1.4h-1.4zM332.8 312.2h1.4v1.4h-1.4zM329.9 313.8h1.4v1.4h-1.4zM327.4 314.6h1.4v1.4h-1.4zM326.8 312.2h1.4v1.4h-1.4zM326.9 310.9h1.4v1.4h-1.4zM330.2 314.2h1.4v1.4h-1.4zM330.3 315.5h1.4v1.4h-1.4zM326.8 311.6h1.4v1.4h-1.4zM329.6 314.6h1.4v1.4h-1.4zM324.2 306.6h1.4v1.4h-1.4zM333.3 311.9h1.4v1.4h-1.4zM365.5 342.7h1.4v1.4h-1.4zM373.6 346.0h1.4v1.4h-1.4zM365.7 344.1h1.4v1.4h-1.4zM365.4 344.6h1.4v1.4h-1.4zM360.7 341.0h1.4v1.4h-1.4zM355.1 348.1h1.4v1.4h-1.4zM359.5 341.3h1.4v1.4h-1.4zM367.9 344.3h1.4v1.4h-1.4zM361.2 341.6h1.4v1.4h-1.4zM361.3 341.5h1.4v1.4h-1.4zM363.3 344.5h1.4v1.4h-1.4zM367.3 342.5h1.4v1.4h-1.4zM359.1 344.1h1.4v1.4h-1.4zM371.4 345.0h1.4v1.4h-1.4zM361.2 339.7h1.4v1.4h-1.4zM361.3 349.5h1.4v1.4h-1.4zM361.5 344.8h1.4v1.4h-1.4zM362.9 340.1h1.4v1.4h-1.4zM369.3 341.9h1.4v1.4h-1.4zM362.9 346.5h1.4v1.4h-1.4zM369.7 341.2h1.4v1.4h-1.4zM359.7 340.8h1.4v1.4h-1.4zM357.9 337.3h1.4v1.4h-1.4zM369.0 342.0h1.4v1.4h-1.4zM356.2 349.3h1.4v1.4h-1.4zM366.7 343.6h1.4v1.4h-1.4zM366.4 340.0h1.4v1.4h-1.4zM357.7 347.3h1.4v1.4h-1.4zM370.9 343.2h1.4v1.4h-1.4zM367.3 344.2h1.4v1.4h-1.4zM360.8 338.7h1.4v1.4h-1.4zM356.7 342.3h1.4v1.4h-1.4zM354.6 341.7h1.4v1.4h-1.4zM356.3 347.3h1.4v1.4h-1.4zM364.3 345.6h1.4v1.4h-1.4zM358.8 343.2h1.4v1.4h-1.4zM366.4 349.0h1.4v1.4h-1.4zM357.3 349.8h1.4v1.4h-1.4zM361.6 343.5h1.4v1.4h-1.4zM371.9 342.9h1.4v1.4h-1.4zM360.7 348.1h1.4v1.4h-1.4zM367.3 346.3h1.4v1.4h-1.4zM364.5 340.9h1.4v1.4h-1.4zM363.3 341.5h1.4v1.4h-1.4zM357.0 342.3h1.4v1.4h-1.4zM371.0 345.9h1.4v1.4h-1.4zM364.2 345.5h1.4v1.4h-1.4zM368.2 341.0h1.4v1.4h-1.4zM370.7 346.3h1.4v1.4h-1.4zM356.5 343.9h1.4v1.4h-1.4zM366.6 347.7h1.4v1.4h-1.4zM368.4 342.4h1.4v1.4h-1.4z" fill="#111" fill-opacity="0.38"/>
<path d="M327.4 312.7h1.4v1.4h-1.4zM324.2 309.7h1.4v1.4h-1.4zM328.3 311.6h1.4v1.4h-1.4zM324.6 310.6h1.4v1.4h-1.4zM322.4 306.1h1.4v1.4h-1.4zM326.4 310.5h1.4v1.4h-1.4zM325.5 312.7h1.4v1.4h-1.4zM325.2 308.5h1.4v1.4h-1.4zM320.1 313.8h1.4v1.4h-1.4zM322.7 308.4h1.4v1.4h-1.4zM326.0 313.2h1.4v1.4h-1.4zM322.5 312.4h1.4v1.4h-1.4zM325.4 312.4h1.4v1.4h-1.4zM324.8 314.3h1.4v1.4h-1.4zM324.5 313.7h1.4v1.4h-1.4zM322.6 314.0h1.4v1.4h-1.4zM324.8 306.3h1.4v1.4h-1.4zM321.8 316.0h1.4v1.4h-1.4zM332.7 310.5h1.4v1.4h-1.4zM330.0 312.1h1.4v1.4h-1.4zM323.6 317.3h1.4v1.4h-1.4zM324.2 321.7h1.4v1.4h-1.4zM330.8 307.3h1.4v1.4h-1.4zM323.7 311.5h1.4v1.4h-1.4zM327.3 319.6h1.4v1.4h-1.4zM326.5 313.5h1.4v1.4h-1.4zM329.0 305.7h1.4v1.4h-1.4zM332.2 310.0h1.4v1.4h-1.4zM325.7 307.4h1.4v1.4h-1.4zM328.8 316.3h1.4v1.4h-1.4zM325.4 318.1h1.4v1.4h-1.4zM325.4 318.4h1.4v1.4h-1.4zM326.3 311.0h1.4v1.4h-1.4zM326.0 309.6h1.4v1.4h-1.4zM323.1 308.8h1.4v1.4h-1.4zM324.3 316.1h1.4v1.4h-1.4zM333.2 312.8h1.4v1.4h-1.4zM324.5 313.2h1.4v1.4h-1.4zM328.2 309.8h1.4v1.4h-1.4zM332.2 314.2h1.4v1.4h-1.4zM324.2 308.4h1.4v1.4h-1.4zM327.6 317.7h1.4v1.4h-1.4zM326.4 318.5h1.4v1.4h-1.4zM324.9 315.4h1.4v1.4h-1.4zM323.8 317.0h1.4v1.4h-1.4zM324.3 309.7h1.4v1.4h-1.4zM326.3 315.9h1.4v1.4h-1.4zM326.4 311.5h1.4v1.4h-1.4zM327.5 311.1h1.4v1.4h-1.4zM322.8 309.0h1.4v1.4h-1.4zM327.2 313.5h1.4v1.4h-1.4zM326.8 316.4h1.4v1.4h-1.4zM328.2 317.0h1.4v1.4h-1.4zM323.7 314.4h1.4v1.4h-1.4zM324.8 311.1h1.4v1.4h-1.4zM327.6 311.9h1.4v1.4h-1.4zM325.8 319.3h1.4v1.4h-1.4zM330.7 315.6h1.4v1.4h-1.4zM327.2 305.7h1.4v1.4h-1.4zM323.5 312.8h1.4v1.4h-1.4zM330.9 310.6h1.4v1.4h-1.4zM327.4 311.4h1.4v1.4h-1.4zM325.8 300.7h1.4v1.4h-1.4zM323.0 310.2h1.4v1.4h-1.4zM332.0 315.8h1.4v1.4h-1.4zM328.1 319.5h1.4v1.4h-1.4zM326.6 313.0h1.4v1.4h-1.4zM324.5 309.5h1.4v1.4h-1.4zM326.9 305.7h1.4v1.4h-1.4zM329.0 308.4h1.4v1.4h-1.4zM324.5 310.8h1.4v1.4h-1.4zM324.1 308.5h1.4v1.4h-1.4zM329.6 314.7h1.4v1.4h-1.4zM333.0 311.5h1.4v1.4h-1.4zM329.0 310.4h1.4v1.4h-1.4zM322.4 306.2h1.4v1.4h-1.4zM324.3 304.2h1.4v1.4h-1.4zM328.9 306.5h1.4v1.4h-1.4zM360.3 344.4h1.4v1.4h-1.4zM360.1 341.3h1.4v1.4h-1.4zM353.3 341.6h1.4v1.4h-1.4zM364.8 336.1h1.4v1.4h-1.4zM353.0 343.9h1.4v1.4h-1.4zM358.9 343.1h1.4v1.4h-1.4zM372.6 338.9h1.4v1.4h-1.4zM362.1 337.1h1.4v1.4h-1.4zM364.0 343.7h1.4v1.4h-1.4zM356.8 340.0h1.4v1.4h-1.4zM348.8 343.4h1.4v1.4h-1.4zM364.1 348.7h1.4v1.4h-1.4zM364.6 345.1h1.4v1.4h-1.4zM356.5 341.8h1.4v1.4h-1.4zM361.8 337.5h1.4v1.4h-1.4zM355.4 346.1h1.4v1.4h-1.4zM359.0 342.9h1.4v1.4h-1.4zM358.1 346.4h1.4v1.4h-1.4zM354.7 346.0h1.4v1.4h-1.4zM360.9 341.8h1.4v1.4h-1.4zM353.3 343.9h1.4v1.4h-1.4zM363.0 344.9h1.4v1.4h-1.4zM364.8 343.3h1.4v1.4h-1.4zM362.2 348.3h1.4v1.4h-1.4zM355.2 340.0h1.4v1.4h-1.4zM356.5 337.4h1.4v1.4h-1.4zM361.4 343.0h1.4v1.4h-1.4zM363.2 345.6h1.4v1.4h-1.4zM353.7 344.1h1.4v1.4h-1.4zM364.3 344.1h1.4v1.4h-1.4zM363.4 343.8h1.4v1.4h-1.4zM364.5 349.1h1.4v1.4h-1.4zM364.4 339.5h1.4v1.4h-1.4zM368.9 342.5h1.4v1.4h-1.4zM366.9 347.2h1.4v1.4h-1.4zM357.3 339.8h1.4v1.4h-1.4zM362.0 344.5h1.4v1.4h-1.4zM358.9 347.8h1.4v1.4h-1.4zM368.5 342.8h1.4v1.4h-1.4zM360.4 343.7h1.4v1.4h-1.4z" fill="#111" fill-opacity="0.38"/>
<path d="M323.4 315.0h1.4v1.4h-1.4zM329.2 314.5h1.4v1.4h-1.4zM325.7 309.7h1.4v1.4h-1.4zM323.0 313.2h1.4v1.4h-1.4zM327.4 314.7h1.4v1.4h-1.4zM322.7 317.5h1.4v1.4h-1.4zM325.3 311.6h1.4v1.4h-1.4zM323.4 308.2h1.4v1.4h-1.4zM330.8 310.7h1.4v1.4h-1.4zM325.0 310.9h1.4v1.4h-1.4zM324.2 308.4h1.4v1.4h-1.4zM321.5 310.7h1.4v1.4h-1.4zM329.4 303.9h1.4v1.4h-1.4zM327.8 312.7h1.4v1.4h-1.4zM332.5 317.1h1.4v1.4h-1.4zM328.0 312.7h1.4v1.4h-1.4zM328.1 312.2h1.4v1.4h-1.4zM320.7 310.6h1.4v1.4h-1.4zM325.8 310.7h1.4v1.4h-1.4zM333.4 312.8h1.4v1.4h-1.4zM324.8 315.6h1.4v1.4h-1.4zM329.9 306.5h1.4v1.4h-1.4zM325.6 315.0h1.4v1.4h-1.4zM324.4 312.9h1.4v1.4h-1.4zM327.6 316.7h1.4v1.4h-1.4zM326.8 312.5h1.4v1.4h-1.4zM321.3 312.5h1.4v1.4h-1.4zM322.2 306.6h1.4v1.4h-1.4zM328.2 314.5h1.4v1.4h-1.4zM327.0 310.6h1.4v1.4h-1.4zM324.5 312.9h1.4v1.4h-1.4zM329.5 313.5h1.4v1.4h-1.4zM322.6 314.8h1.4v1.4h-1.4zM324.2 312.7h1.4v1.4h-1.4zM325.4 316.0h1.4v1.4h-1.4zM330.1 316.8h1.4v1.4h-1.4zM325.0 310.7h1.4v1.4h-1.4zM324.3 312.4h1.4v1.4h-1.4zM324.5 311.4h1.4v1.4h-1.4zM327.9 316.2h1.4v1.4h-1.4zM327.6 314.8h1.4v1.4h-1.4zM331.0 316.7h1.4v1.4h-1.4zM324.6 316.0h1.4v1.4h-1.4zM328.1 317.6h1.4v1.4h-1.4zM329.4 311.2h1.4v1.4h-1.4zM328.8 311.0h1.4v1.4h-1.4zM325.3 315.3h1.4v1.4h-1.4zM321.6 313.4h1.4v1.4h-1.4zM325.8 312.7h1.4v1.4h-1.4zM328.8 315.3h1.4v1.4h-1.4zM322.3 312.8h1.4v1.4h-1.4zM330.6 314.9h1.4v1.4h-1.4zM327.9 315.4h1.4v1.4h-1.4zM324.3 317.1h1.4v1.4h-1.4zM329.2 310.6h1.4v1.4h-1.4zM332.3 312.2h1.4v1.4h-1.4zM332.9 315.2h1.4v1.4h-1.4zM323.3 313.7h1.4v1.4h-1.4zM326.6 316.2h1.4v1.4h-1.4zM321.0 312.7h1.4v1.4h-1.4zM324.5 310.2h1.4v1.4h-1.4zM324.7 311.3h1.4v1.4h-1.4zM325.5 315.7h1.4v1.4h-1.4zM323.0 311.1h1.4v1.4h-1.4zM329.4 314.3h1.4v1.4h-1.4zM325.8 317.5h1.4v1.4h-1.4zM321.6 312.0h1.4v1.4h-1.4zM325.7 314.4h1.4v1.4h-1.4zM321.9 312.4h1.4v1.4h-1.4zM324.5 316.0h1.4v1.4h-1.4zM357.6 340.1h1.4v1.4h-1.4zM363.4 340.9h1.4v1.4h-1.4zM361.2 340.7h1.4v1.4h-1.4zM358.8 344.4h1.4v1.4h-1.4zM351.7 340.5h1.4v1.4h-1.4zM368.1 345.0h1.4v1.4h-1.4zM367.6 346.9h1.4v1.4h-1.4zM360.8 341.7h1.4v1.4h-1.4zM364.7 343.3h1.4v1.4h-1.4zM368.5 343.1h1.4v1.4h-1.4zM362.4 345.4h1.4v1.4h-1.4zM366.5 345.2h1.4v1.4h-1.4zM358.2 339.2h1.4v1.4h-1.4zM368.1 334.1h1.4v1.4h-1.4zM349.4 338.9h1.4v1.4h-1.4zM372.3 343.7h1.4v1.4h-1.4zM365.7 345.1h1.4v1.4h-1.4zM368.8 337.4h1.4v1.4h-1.4zM372.0 342.3h1.4v1.4h-1.4zM366.2 347.0h1.4v1.4h-1.4zM358.2 345.2h1.4v1.4h-1.4zM364.3 348.5h1.4v1.4h-1.4zM366.7 349.4h1.4v1.4h-1.4zM360.8 344.5h1.4v1.4h-1.4zM371.5 343.9h1.4v1.4h-1.4zM360.2 347.5h1.4v1.4h-1.4zM349.4 344.5h1.4v1.4h-1.4zM360.0 345.6h1.4v1.4h-1.4zM363.4 343.5h1.4v1.4h-1.4zM360.2 339.4h1.4v1.4h-1.4zM359.6 345.3h1.4v1.4h-1.4zM356.6 342.1h1.4v1.4h-1.4zM358.5 344.8h1.4v1.4h-1.4zM361.1 345.9h1.4v1.4h-1.4zM356.9 343.1h1.4v1.4h-1.4zM367.9 342.2h1.4v1.4h-1.4z" fill="#111" fill-opacity="0.38"/>
<path d="M322.3 307.5h1.4v1.4h-1.4zM326.2 308.8h1.4v1.4h-1.4zM322.8 318.4h1.4v1.4h-1.4zM326.3 311.6h1.4v1.4h-1.4zM323.4 309.8h1.4v1.4h-1.4zM323.0 315.2h1.4v1.4h-1.4zM326.6 309.8h1.4v1.4h-1.4zM323.0 314.1h1.4v1.4h-1.4zM328.6 307.8h1.4v1.4h-1.4zM326.8 318.9h1.4v1.4h-1.4zM327.8 318.5h1.4v1.4h-1.4zM328.5 311.0h1.4v1.4h-1.4zM324.8 312.7h1.4v1.4h-1.4zM327.0 310.4h1.4v1.4h-1.4zM325.5 308.4h1.4v1.4h-1.4zM328.8 307.5h1.4v1.4h-1.4zM330.9 313.0h1.4v1.4h-1.4zM326.6 313.3h1.4v1.4h-1.4zM322.8 316.3h1.4v1.4h-1.4zM332.7 310.9h1.4v1.4h-1.4zM327.8 306.8h1.4v1.4h-1.4zM328.1 310.7h1.4v1.4h-1.4zM323.2 313.5h1.4v1.4h-1.4zM328.6 305.5h1.4v1.4h-1.4zM324.3 309.5h1.4v1.4h-1.4zM325.9 323.9h1.4v1.4h-1.4zM330.2 310.4h1.4v1.4h-1.4zM329.2 316.1h1.4v1.4h-1.4zM322.8 306.0h1.4v1.4h-1.4zM324.8 313.5h1.4v1.4h-1.4zM326.0 307.3h1.4v1.4h-1.4zM327.4 310.3h1.4v1.4h-1.4zM324.3 315.6h1.4v1.4h-1.4zM323.6 316.3h1.4v1.4h-1.4zM324.6 312.6h1.4v1.4h-1.4zM326.3 315.8h1.4v1.4h-1.4zM328.0 317.7h1.4v1.4h-1.4zM322.1 313.7h1.4v1.4h-1.4zM325.3 313.0h1.4v1.4h-1.4zM321.5 304.9h1.4v1.4h-1.4zM322.5 314.4h1.4v1.4h-1.4zM327.2 312.0h1.4v1.4h-1.4zM328.2 310.8h1.4v1.4h-1.4zM321.9 316.1h1.4v1.4h-1.4zM331.6 306.2h1.4v1.4h-1.4zM331.7 304.3h1.4v1.4h-1.4zM327.2 310.7h1.4v1.4h-1.4zM331.1 316.2h1.4v1.4h-1.4zM327.5 308.3h1.4v1.4h-1.4zM328.7 309.0h1.4v1.4h-1.4zM330.4 312.0h1.4v1.4h-1.4zM332.9 313.5h1.4v1.4h-1.4zM329.2 313.2h1.4v1.4h-1.4zM324.4 312.5h1.4v1.4h-1.4zM329.4 318.5h1.4v1.4h-1.4zM326.3 304.5h1.4v1.4h-1.4zM327.6 316.0h1.4v1.4h-1.4zM328.5 305.5h1.4v1.4h-1.4zM328.5 318.1h1.4v1.4h-1.4zM329.5 312.8h1.4v1.4h-1.4zM327.8 310.0h1.4v1.4h-1.4zM323.5 310.6h1.4v1.4h-1.4zM320.2 308.1h1.4v1.4h-1.4zM326.4 310.6h1.4v1.4h-1.4zM322.8 319.3h1.4v1.4h-1.4zM330.6 317.3h1.4v1.4h-1.4zM326.4 312.0h1.4v1.4h-1.4zM333.0 312.0h1.4v1.4h-1.4zM334.3 306.8h1.4v1.4h-1.4zM327.5 314.4h1.4v1.4h-1.4zM328.0 310.9h1.4v1.4h-1.4zM331.7 312.8h1.4v1.4h-1.4zM326.9 313.3h1.4v1.4h-1.4zM328.6 321.3h1.4v1.4h-1.4zM328.7 316.2h1.4v1.4h-1.4zM359.5 350.4h1.4v1.4h-1.4zM362.8 338.9h1.4v1.4h-1.4zM360.0 345.3h1.4v1.4h-1.4zM364.7 341.9h1.4v1.4h-1.4zM356.5 342.5h1.4v1.4h-1.4zM371.8 343.3h1.4v1.4h-1.4zM355.8 348.5h1.4v1.4h-1.4zM359.3 339.4h1.4v1.4h-1.4zM367.2 344.6h1.4v1.4h-1.4zM364.6 344.5h1.4v1.4h-1.4zM367.7 345.3h1.4v1.4h-1.4zM358.0 344.1h1.4v1.4h-1.4zM363.6 343.7h1.4v1.4h-1.4zM357.9 349.1h1.4v1.4h-1.4zM359.3 343.1h1.4v1.4h-1.4zM359.4 347.2h1.4v1.4h-1.4zM366.6 344.1h1.4v1.4h-1.4zM359.9 336.2h1.4v1.4h-1.4zM367.7 347.8h1.4v1.4h-1.4zM367.7 343.8h1.4v1.4h-1.4zM359.9 340.7h1.4v1.4h-1.4zM367.4 342.5h1.4v1.4h-1.4zM359.9 345.8h1.4v1.4h-1.4zM357.9 341.4h1.4v1.4h-1.4zM368.9 343.3h1.4v1.4h-1.4zM359.1 343.2h1.4v1.4h-1.4zM360.0 346.8h1.4v1.4h-1.4zM360.4 344.7h1.4v1.4h-1.4zM368.3 342.5h1.4v1.4h-1.4zM366.5 344.3h1.4v1.4h-1.4zM363.5 346.2h1.4v1.4h-1.4zM366.2 342.6h1.4v1.4h-1.4zM372.0 345.1h1.4v1.4h-1.4zM358.3 348.2h1.4v1.4h-1.4zM363.2 341.6h1.4v1.4h-1.4zM361.1 341.8h1.4v1.4h-1.4zM361.2 342.7h1.4v1.4h-1.4zM368.5 338.5h1.4v1.4h-1.4zM369.0 347.1h1.4v1.4h-1.4zM355.3 343.6h1.4v1.4h-1.4zM355.6 345.1h1.4v1.4h-1.4zM354.4 343.3h1.4v1.4h-1.4zM356.6 339.9h1.4v1.4h-1.4zM355.6 341.2h1.4v1.4h-1.4zM357.6 346.8h1.4v1.4h-1.4zM361.9 343.8h1.4v1.4h-1.4zM345.6 346.6h1.4v1.4h-1.4zM360.9 348.9h1.4v1.4h-1.4zM361.1 339.7h1.4v1.4h-1.4zM366.6 346.1h1.4v1.4h-1.4zM351.7 342.7h1.4v1.4h-1.4zM357.0 340.3h1.4v1.4h-1.4z" fill="#111" fill-opacity="0.38"/>
<path d="M327.8 319.0h1.2v1.2h-1.2zM322.6 318.9h1.2v1.2h-1.2zM327.8 308.9h1.2v1.2h-1.2zM321.2 318.2h1.2v1.2h-1.2zM326.6 309.6h1.2v1.2h-1.2zM327.2 305.0h1.2v1.2h-1.2zM330.2 315.0h1.2v1.2h-1.2zM328.9 319.2h1.2v1.2h-1.2zM324.6 312.1h1.2v1.2h-1.2zM327.1 316.5h1.2v1.2h-1.2zM326.4 312.5h1.2v1.2h-1.2zM329.4 308.1h1.2v1.2h-1.2zM322.3 308.1h1.2v1.2h-1.2zM322.9 313.3h1.2v1.2h-1.2zM323.1 313.6h1.2v1.2h-1.2zM322.4 307.7h1.2v1.2h-1.2zM325.0 314.6h1.2v1.2h-1.2zM326.8 314.3h1.2v1.2h-1.2zM332.0 315.7h1.2v1.2h-1.2zM323.5 315.4h1.2v1.2h-1.2zM323.1 314.1h1.2v1.2h-1.2zM327.4 308.8h1.2v1.2h-1.2zM329.3 314.0h1.2v1.2h-1.2zM326.9 310.8h1.2v1.2h-1.2zM325.4 305.8h1.2v1.2h-1.2zM324.9 324.3h1.2v1.2h-1.2zM323.4 313.1h1.2v1.2h-1.2zM329.4 310.2h1.2v1.2h-1.2zM328.6 315.7h1.2v1.2h-1.2zM326.1 307.8h1.2v1.2h-1.2zM326.3 312.7h1.2v1.2h-1.2zM323.5 313.3h1.2v1.2h-1.2zM324.7 310.9h1.2v1.2h-1.2zM332.5 313.8h1.2v1.2h-1.2zM330.6 312.6h1.2v1.2h-1.2zM326.8 310.7h1.2v1.2h-1.2zM323.0 311.6h1.2v1.2h-1.2zM330.7 304.3h1.2v1.2h-1.2zM329.6 316.1h1.2v1.2h-1.2zM328.1 310.9h1.2v1.2h-1.2zM330.2 311.5h1.2v1.2h-1.2zM323.9 306.3h1.2v1.2h-1.2zM332.0 319.4h1.2v1.2h-1.2zM325.4 301.4h1.2v1.2h-1.2zM326.7 310.7h1.2v1.2h-1.2zM328.9 308.4h1.2v1.2h-1.2zM328.2 317.9h1.2v1.2h-1.2zM324.2 312.9h1.2v1.2h-1.2zM330.7 312.6h1.2v1.2h-1.2zM324.8 311.1h1.2v1.2h-1.2zM328.8 316.2h1.2v1.2h-1.2zM327.2 312.3h1.2v1.2h-1.2zM325.3 309.9h1.2v1.2h-1.2zM324.3 318.0h1.2v1.2h-1.2zM329.6 305.1h1.2v1.2h-1.2zM328.2 310.2h1.2v1.2h-1.2zM329.4 315.0h1.2v1.2h-1.2zM330.1 310.3h1.2v1.2h-1.2zM325.4 312.6h1.2v1.2h-1.2zM330.5 312.0h1.2v1.2h-1.2zM322.7 315.3h1.2v1.2h-1.2zM321.5 309.0h1.2v1.2h-1.2zM327.2 310.0h1.2v1.2h-1.2zM327.6 311.2h1.2v1.2h-1.2zM324.4 311.9h1.2v1.2h-1.2zM326.7 314.4h1.2v1.2h-1.2zM329.9 307.5h1.2v1.2h-1.2zM332.2 315.7h1.2v1.2h-1.2zM329.1 311.5h1.2v1.2h-1.2zM328.0 309.9h1.2v1.2h-1.2zM321.8 310.1h1.2v1.2h-1.2zM328.9 315.7h1.2v1.2h-1.2zM328.9 311.5h1.2v1.2h-1.2zM321.2 317.5h1.2v1.2h-1.2zM327.3 306.8h1.2v1.2h-1.2zM330.8 316.1h1.2v1.2h-1.2zM327.6 318.4h1.2v1.2h-1.2zM321.9 310.5h1.2v1.2h-1.2zM322.9 309.7h1.2v1.2h-1.2zM323.3 314.2h1.2v1.2h-1.2zM326.2 311.3h1.2v1.2h-1.2zM326.2 316.9h1.2v1.2h-1.2zM328.9 310.8h1.2v1.2h-1.2zM322.9 311.3h1.2v1.2h-1.2zM324.7 309.6h1.2v1.2h-1.2zM323.9 310.4h1.2v1.2h-1.2zM331.3 315.8h1.2v1.2h-1.2zM329.1 313.3h1.2v1.2h-1.2zM321.4 306.6h1.2v1.2h-1.2zM325.9 323.7h1.2v1.2h-1.2zM329.8 322.3h1.2v1.2h-1.2zM321.1 307.0h1.2v1.2h-1.2zM324.2 321.4h1.2v1.2h-1.2zM323.1 310.1h1.2v1.2h-1.2zM327.2 310.3h1.2v1.2h-1.2zM325.1 316.8h1.2v1.2h-1.2zM328.9 311.0h1.2v1.2h-1.2zM327.2 321.9h1.2v1.2h-1.2zM321.2 325.2h1.2v1.2h-1.2zM328.1 312.5h1.2v1.2h-1.2zM323.3 323.8h1.2v1.2h-1.2zM325.4 319.9h1.2v1.2h-1.2zM325.6 319.9h1.2v1.2h-1.2zM325.1 329.1h1.2v1.2h-1.2zM327.7 324.1h1.2v1.2h-1.2zM328.4 320.9h1.2v1.2h-1.2zM329.8 326.9h1.2v1.2h-1.2zM330.8 318.9h1.2v1.2h-1.2zM328.4 314.9h1.2v1.2h-1.2zM325.8 334.0h1.2v1.2h-1.2zM329.3 326.6h1.2v1.2h-1.2zM323.4 321.1h1.2v1.2h-1.2zM324.9 309.9h1.2v1.2h-1.2zM328.5 324.9h1.2v1.2h-1.2zM327.9 320.9h1.2v1.2h-1.2zM327.4 325.9h1.2v1.2h-1.2zM329.9 321.0h1.2v1.2h-1.2zM332.0 320.6h1.2v1.2h-1.2zM323.9 337.1h1.2v1.2h-1.2zM329.6 330.8h1.2v1.2h-1.2zM330.8 328.8h1.2v1.2h-1.2zM324.7 324.4h1.2v1.2h-1.2zM327.7 306.5h1.2v1.2h-1.2zM323.3 324.6h1.2v1.2h-1.2zM324.0 332.2h1.2v1.2h-1.2zM323.1 324.8h1.2v1.2h-1.2zM360.4 322.1h1.2v1.2h-1.2zM349.3 325.2h1.2v1.2h-1.2zM341.8 325.1h1.2v1.2h-1.2zM344.9 312.6h1.2v1.2h-1.2zM352.3 325.7h1.2v1.2h-1.2zM358.6 310.2h1.2v1.2h-1.2zM353.8 319.5h1.2v1.2h-1.2zM356.1 307.4h1.2v1.2h-1.2zM369.3 315.9h1.2v1.2h-1.2zM350.3 321.0h1.2v1.2h-1.2zM340.0 324.7h1.2v1.2h-1.2zM355.0 329.2h1.2v1.2h-1.2zM351.0 329.6h1.2v1.2h-1.2zM364.8 303.8h1.2v1.2h-1.2zM360.0 319.8h1.2v1.2h-1.2zM360.8 320.3h1.2v1.2h-1.2zM352.2 315.9h1.2v1.2h-1.2zM340.1 317.0h1.2v1.2h-1.2zM363.5 322.4h1.2v1.2h-1.2zM356.8 318.8h1.2v1.2h-1.2zM338.7 318.2h1.2v1.2h-1.2zM346.7 322.9h1.2v1.2h-1.2zM356.6 319.9h1.2v1.2h-1.2zM339.5 321.4h1.2v1.2h-1.2zM341.3 328.3h1.2v1.2h-1.2zM349.9 324.5h1.2v1.2h-1.2zM350.2 330.2h1.2v1.2h-1.2zM343.1 315.5h1.2v1.2h-1.2zM343.0 303.0h1.2v1.2h-1.2zM346.7 334.1h1.2v1.2h-1.2zM354.9 325.3h1.2v1.2h-1.2zM349.7 316.8h1.2v1.2h-1.2zM342.1 317.8h1.2v1.2h-1.2zM353.8 326.7h1.2v1.2h-1.2zM376.2 325.7h1.2v1.2h-1.2zM344.1 306.8h1.2v1.2h-1.2zM355.3 316.7h1.2v1.2h-1.2zM368.6 346.6h1.2v1.2h-1.2zM364.3 341.4h1.2v1.2h-1.2zM364.9 344.8h1.2v1.2h-1.2zM366.4 343.1h1.2v1.2h-1.2zM360.2 337.7h1.2v1.2h-1.2zM353.2 349.2h1.2v1.2h-1.2zM354.1 343.3h1.2v1.2h-1.2zM362.8 338.6h1.2v1.2h-1.2zM366.5 341.4h1.2v1.2h-1.2zM361.3 343.3h1.2v1.2h-1.2zM363.0 340.3h1.2v1.2h-1.2zM364.4 346.4h1.2v1.2h-1.2zM357.7 348.0h1.2v1.2h-1.2zM363.0 338.2h1.2v1.2h-1.2zM367.9 337.9h1.2v1.2h-1.2zM362.4 340.1h1.2v1.2h-1.2zM363.3 341.8h1.2v1.2h-1.2zM366.2 346.7h1.2v1.2h-1.2zM361.2 350.1h1.2v1.2h-1.2zM364.3 347.0h1.2v1.2h-1.2zM349.3 345.4h1.2v1.2h-1.2zM363.9 344.5h1.2v1.2h-1.2zM367.8 346.4h1.2v1.2h-1.2zM368.4 343.0h1.2v1.2h-1.2zM353.5 342.3h1.2v1.2h-1.2zM358.8 350.5h1.2v1.2h-1.2zM359.3 340.3h1.2v1.2h-1.2zM363.1 346.7h1.2v1.2h-1.2zM366.3 345.6h1.2v1.2h-1.2zM369.2 347.8h1.2v1.2h-1.2zM362.1 345.2h1.2v1.2h-1.2zM352.2 344.7h1.2v1.2h-1.2zM363.7 343.4h1.2v1.2h-1.2zM359.9 344.3h1.2v1.2h-1.2zM367.3 339.9h1.2v1.2h-1.2zM364.8 345.7h1.2v1.2h-1.2zM364.0 345.3h1.2v1.2h-1.2zM358.0 340.2h1.2v1.2h-1.2zM354.1 342.0h1.2v1.2h-1.2zM366.3 344.3h1.2v1.2h-1.2zM365.7 344.9h1.2v1.2h-1.2zM363.5 343.7h1.2v1.2h-1.2zM355.1 342.0h1.2v1.2h-1.2zM358.0 340.8h1.2v1.2h-1.2zM376.6 347.3h1.2v1.2h-1.2zM356.7 343.6h1.2v1.2h-1.2zM354.6 342.1h1.2v1.2h-1.2zM333.4 346.7h1.2v1.2h-1.2zM322.0 343.0h1.2v1.2h-1.2zM328.4 343.0h1.2v1.2h-1.2zM331.5 341.7h1.2v1.2h-1.2zM321.4 345.6h1.2v1.2h-1.2zM327.3 346.2h1.2v1.2h-1.2zM319.4 341.3h1.2v1.2h-1.2zM323.4 345.8h1.2v1.2h-1.2zM319.7 338.7h1.2v1.2h-1.2zM327.7 342.7h1.2v1.2h-1.2zM326.4 338.4h1.2v1.2h-1.2zM321.1 349.9h1.2v1.2h-1.2zM320.4 345.7h1.2v1.2h-1.2zM327.3 346.6h1.2v1.2h-1.2z" fill="#111" fill-opacity="0.28"/>
<path d="M323.9 313.8h1.2v1.2h-1.2zM325.7 311.8h1.2v1.2h-1.2zM331.7 306.7h1.2v1.2h-1.2zM325.9 316.8h1.2v1.2h-1.2zM329.6 317.0h1.2v1.2h-1.2zM329.2 313.6h1.2v1.2h-1.2zM325.3 314.5h1.2v1.2h-1.2zM323.7 315.3h1.2v1.2h-1.2zM322.4 312.8h1.2v1.2h-1.2zM320.6 310.7h1.2v1.2h-1.2zM325.3 319.4h1.2v1.2h-1.2zM326.7 316.3h1.2v1.2h-1.2zM326.5 301.1h1.2v1.2h-1.2zM332.3 319.0h1.2v1.2h-1.2zM328.5 313.7h1.2v1.2h-1.2zM327.2 315.1h1.2v1.2h-1.2zM326.9 316.1h1.2v1.2h-1.2zM324.5 311.2h1.2v1.2h-1.2zM324.7 313.6h1.2v1.2h-1.2zM323.4 304.6h1.2v1.2h-1.2zM324.8 310.3h1.2v1.2h-1.2zM325.9 307.5h1.2v1.2h-1.2zM330.1 303.0h1.2v1.2h-1.2zM326.2 305.8h1.2v1.2h-1.2zM330.7 312.0h1.2v1.2h-1.2zM325.3 313.5h1.2v1.2h-1.2zM328.0 310.8h1.2v1.2h-1.2zM322.4 314.9h1.2v1.2h-1.2zM329.5 308.7h1.2v1.2h-1.2zM325.4 314.9h1.2v1.2h-1.2zM320.8 307.5h1.2v1.2h-1.2zM330.3 308.4h1.2v1.2h-1.2zM326.1 307.8h1.2v1.2h-1.2zM325.6 311.5h1.2v1.2h-1.2zM329.2 312.6h1.2v1.2h-1.2zM321.7 309.4h1.2v1.2h-1.2zM322.8 309.6h1.2v1.2h-1.2zM323.1 312.3h1.2v1.2h-1.2zM322.3 316.1h1.2v1.2h-1.2zM322.3 315.5h1.2v1.2h-1.2zM332.5 310.8h1.2v1.2h-1.2zM328.9 308.9h1.2v1.2h-1.2zM321.2 309.5h1.2v1.2h-1.2zM326.4 314.5h1.2v1.2h-1.2zM327.1 313.0h1.2v1.2h-1.2zM325.3 311.3h1.2v1.2h-1.2zM325.4 313.7h1.2v1.2h-1.2zM327.2 308.7h1.2v1.2h-1.2zM321.1 311.4h1.2v1.2h-1.2zM330.8 311.2h1.2v1.2h-1.2zM328.2 304.6h1.2v1.2h-1.2zM325.1 310.9h1.2v1.2h-1.2zM327.8 309.4h1.2v1.2h-1.2zM331.3 310.0h1.2v1.2h-1.2zM325.7 313.1h1.2v1.2h-1.2zM324.0 312.8h1.2v1.2h-1.2zM320.0 311.1h1.2v1.2h-1.2zM323.2 309.7h1.2v1.2h-1.2zM327.3 319.5h1.2v1.2h-1.2zM324.7 315.9h1.2v1.2h-1.2zM320.2 313.1h1.2v1.2h-1.2zM320.6 315.2h1.2v1.2h-1.2zM327.7 305.8h1.2v1.2h-1.2zM331.8 313.4h1.2v1.2h-1.2zM325.3 316.6h1.2v1.2h-1.2zM326.2 311.9h1.2v1.2h-1.2zM331.5 306.5h1.2v1.2h-1.2zM327.3 310.0h1.2v1.2h-1.2zM326.6 315.7h1.2v1.2h-1.2zM323.7 313.2h1.2v1.2h-1.2zM325.6 316.2h1.2v1.2h-1.2zM327.2 306.1h1.2v1.2h-1.2zM324.9 312.7h1.2v1.2h-1.2zM326.3 308.7h1.2v1.2h-1.2zM329.3 313.8h1.2v1.2h-1.2zM327.1 311.3h1.2v1.2h-1.2zM329.0 312.6h1.2v1.2h-1.2zM330.6 310.2h1.2v1.2h-1.2zM333.0 313.5h1.2v1.2h-1.2zM325.4 307.2h1.2v1.2h-1.2zM327.1 317.9h1.2v1.2h-1.2zM331.2 312.3h1.2v1.2h-1.2zM330.7 318.8h1.2v1.2h-1.2zM326.8 318.6h1.2v1.2h-1.2zM325.0 325.0h1.2v1.2h-1.2zM328.5 315.9h1.2v1.2h-1.2zM332.0 324.8h1.2v1.2h-1.2zM328.9 325.6h1.2v1.2h-1.2zM336.2 326.8h1.2v1.2h-1.2zM326.9 327.8h1.2v1.2h-1.2zM323.7 307.9h1.2v1.2h-1.2zM326.6 326.2h1.2v1.2h-1.2zM328.1 306.0h1.2v1.2h-1.2zM327.5 322.6h1.2v1.2h-1.2zM326.9 315.3h1.2v1.2h-1.2zM322.6 327.5h1.2v1.2h-1.2zM332.4 327.8h1.2v1.2h-1.2zM332.9 324.0h1.2v1.2h-1.2zM332.8 313.0h1.2v1.2h-1.2zM330.4 332.0h1.2v1.2h-1.2zM325.2 325.2h1.2v1.2h-1.2zM329.7 324.6h1.2v1.2h-1.2zM328.1 314.2h1.2v1.2h-1.2zM320.1 319.7h1.2v1.2h-1.2zM334.4 330.2h1.2v1.2h-1.2zM325.6 314.3h1.2v1.2h-1.2zM328.1 310.5h1.2v1.2h-1.2zM328.7 316.1h1.2v1.2h-1.2zM330.2 321.3h1.2v1.2h-1.2zM324.3 325.1h1.2v1.2h-1.2zM329.2 321.9h1.2v1.2h-1.2zM330.0 331.1h1.2v1.2h-1.2zM326.0 312.0h1.2v1.2h-1.2zM326.7 317.1h1.2v1.2h-1.2zM334.1 321.4h1.2v1.2h-1.2zM321.1 310.9h1.2v1.2h-1.2zM331.1 319.3h1.2v1.2h-1.2zM326.3 321.7h1.2v1.2h-1.2zM332.1 308.9h1.2v1.2h-1.2zM330.1 321.0h1.2v1.2h-1.2zM344.4 329.2h1.2v1.2h-1.2zM346.4 315.2h1.2v1.2h-1.2zM350.2 325.1h1.2v1.2h-1.2zM350.5 317.0h1.2v1.2h-1.2zM336.4 319.0h1.2v1.2h-1.2zM364.5 316.3h1.2v1.2h-1.2zM357.3 317.2h1.2v1.2h-1.2zM363.0 312.1h1.2v1.2h-1.2zM364.7 311.7h1.2v1.2h-1.2zM349.3 338.3h1.2v1.2h-1.2zM349.2 322.7h1.2v1.2h-1.2zM359.6 317.6h1.2v1.2h-1.2zM339.9 315.8h1.2v1.2h-1.2zM351.9 328.3h1.2v1.2h-1.2zM353.1 315.4h1.2v1.2h-1.2zM351.2 311.1h1.2v1.2h-1.2zM344.6 329.1h1.2v1.2h-1.2zM358.1 317.6h1.2v1.2h-1.2zM345.6 324.9h1.2v1.2h-1.2zM341.1 314.0h1.2v1.2h-1.2zM341.9 312.8h1.2v1.2h-1.2zM351.0 321.6h1.2v1.2h-1.2zM356.9 314.6h1.2v1.2h-1.2zM349.6 325.4h1.2v1.2h-1.2zM343.7 335.2h1.2v1.2h-1.2zM343.8 323.1h1.2v1.2h-1.2zM342.8 333.9h1.2v1.2h-1.2zM337.3 318.3h1.2v1.2h-1.2zM375.3 316.1h1.2v1.2h-1.2zM346.7 315.0h1.2v1.2h-1.2zM358.3 319.0h1.2v1.2h-1.2zM347.6 319.6h1.2v1.2h-1.2zM348.6 312.3h1.2v1.2h-1.2zM330.1 330.5h1.2v1.2h-1.2zM369.2 326.0h1.2v1.2h-1.2zM342.4 324.4h1.2v1.2h-1.2zM343.3 324.2h1.2v1.2h-1.2zM340.4 313.5h1.2v1.2h-1.2zM364.9 342.4h1.2v1.2h-1.2zM366.1 348.4h1.2v1.2h-1.2zM364.1 340.0h1.2v1.2h-1.2zM361.9 345.2h1.2v1.2h-1.2zM364.6 335.4h1.2v1.2h-1.2zM362.9 342.8h1.2v1.2h-1.2zM364.5 344.9h1.2v1.2h-1.2zM358.7 340.4h1.2v1.2h-1.2zM373.0 344.3h1.2v1.2h-1.2zM357.9 347.3h1.2v1.2h-1.2zM364.7 341.9h1.2v1.2h-1.2zM372.4 343.8h1.2v1.2h-1.2zM369.8 343.9h1.2v1.2h-1.2zM364.8 345.9h1.2v1.2h-1.2zM359.8 345.1h1.2v1.2h-1.2zM358.3 340.3h1.2v1.2h-1.2zM355.8 344.5h1.2v1.2h-1.2zM364.0 343.8h1.2v1.2h-1.2zM360.1 343.8h1.2v1.2h-1.2zM370.2 340.2h1.2v1.2h-1.2zM363.7 343.9h1.2v1.2h-1.2zM363.2 341.9h1.2v1.2h-1.2zM361.7 345.0h1.2v1.2h-1.2zM352.1 342.1h1.2v1.2h-1.2zM355.8 343.9h1.2v1.2h-1.2zM370.6 345.1h1.2v1.2h-1.2zM373.1 346.8h1.2v1.2h-1.2zM368.0 345.0h1.2v1.2h-1.2zM363.5 345.8h1.2v1.2h-1.2zM360.7 334.5h1.2v1.2h-1.2zM355.1 341.0h1.2v1.2h-1.2zM367.3 346.6h1.2v1.2h-1.2zM368.1 349.4h1.2v1.2h-1.2zM366.9 339.0h1.2v1.2h-1.2zM358.2 340.1h1.2v1.2h-1.2zM354.6 339.7h1.2v1.2h-1.2zM355.2 341.9h1.2v1.2h-1.2zM362.1 340.9h1.2v1.2h-1.2zM371.4 344.6h1.2v1.2h-1.2zM363.6 347.1h1.2v1.2h-1.2zM345.4 340.2h1.2v1.2h-1.2zM371.7 344.8h1.2v1.2h-1.2zM370.5 343.9h1.2v1.2h-1.2zM361.8 345.2h1.2v1.2h-1.2zM361.3 346.6h1.2v1.2h-1.2zM358.3 346.6h1.2v1.2h-1.2zM365.2 345.5h1.2v1.2h-1.2zM358.5 341.2h1.2v1.2h-1.2zM361.7 347.9h1.2v1.2h-1.2zM357.9 340.2h1.2v1.2h-1.2zM354.0 345.5h1.2v1.2h-1.2zM365.3 342.7h1.2v1.2h-1.2zM356.7 341.8h1.2v1.2h-1.2zM365.5 345.2h1.2v1.2h-1.2zM366.3 341.3h1.2v1.2h-1.2zM359.2 345.4h1.2v1.2h-1.2zM362.9 344.6h1.2v1.2h-1.2zM364.7 343.7h1.2v1.2h-1.2zM361.0 350.6h1.2v1.2h-1.2zM369.7 344.1h1.2v1.2h-1.2zM326.0 345.2h1.2v1.2h-1.2zM327.5 348.5h1.2v1.2h-1.2zM327.4 338.0h1.2v1.2h-1.2zM329.6 339.4h1.2v1.2h-1.2zM331.1 346.2h1.2v1.2h-1.2zM328.1 342.6h1.2v1.2h-1.2zM327.8 332.8h1.2v1.2h-1.2zM332.7 347.2h1.2v1.2h-1.2zM325.3 342.4h1.2v1.2h-1.2zM325.9 343.6h1.2v1.2h-1.2zM322.2 344.2h1.2v1.2h-1.2zM331.4 342.1h1.2v1.2h-1.2zM322.9 347.8h1.2v1.2h-1.2zM324.2 348.5h1.2v1.2h-1.2z" fill="#111" fill-opacity="0.28"/>
<path d="M326.9 312.2h1.2v1.2h-1.2zM328.9 315.7h1.2v1.2h-1.2zM327.1 309.3h1.2v1.2h-1.2zM321.0 303.8h1.2v1.2h-1.2zM324.9 308.6h1.2v1.2h-1.2zM323.1 310.9h1.2v1.2h-1.2zM325.8 309.6h1.2v1.2h-1.2zM326.3 309.1h1.2v1.2h-1.2zM328.4 306.8h1.2v1.2h-1.2zM329.6 315.5h1.2v1.2h-1.2zM325.1 320.2h1.2v1.2h-1.2zM325.8 312.5h1.2v1.2h-1.2zM328.0 309.3h1.2v1.2h-1.2zM327.3 311.5h1.2v1.2h-1.2zM325.5 313.5h1.2v1.2h-1.2zM323.2 307.3h1.2v1.2h-1.2zM329.0 317.6h1.2v1.2h-1.2zM324.0 315.8h1.2v1.2h-1.2zM325.7 316.2h1.2v1.2h-1.2zM325.6 316.7h1.2v1.2h-1.2zM321.1 315.1h1.2v1.2h-1.2zM325.3 318.5h1.2v1.2h-1.2zM332.4 312.0h1.2v1.2h-1.2zM335.1 309.6h1.2v1.2h-1.2zM328.0 311.6h1.2v1.2h-1.2zM326.5 304.4h1.2v1.2h-1.2zM319.8 314.2h1.2v1.2h-1.2zM323.3 310.7h1.2v1.2h-1.2zM329.2 313.6h1.2v1.2h-1.2zM326.0 308.2h1.2v1.2h-1.2zM326.2 309.6h1.2v1.2h-1.2zM329.1 315.4h1.2v1.2h-1.2zM328.9 317.3h1.2v1.2h-1.2zM322.9 309.9h1.2v1.2h-1.2zM330.5 317.0h1.2v1.2h-1.2zM326.7 315.2h1.2v1.2h-1.2zM325.6 317.0h1.2v1.2h-1.2zM323.4 313.1h1.2v1.2h-1.2zM323.7 320.9h1.2v1.2h-1.2zM329.3 317.2h1.2v1.2h-1.2zM325.9 305.3h1.2v1.2h-1.2zM324.2 317.6h1.2v1.2h-1.2zM326.4 301.7h1.2v1.2h-1.2zM329.3 313.6h1.2v1.2h-1.2zM322.3 312.7h1.2v1.2h-1.2zM325.2 311.4h1.2v1.2h-1.2zM325.2 311.5h1.2v1.2h-1.2zM324.4 311.8h1.2v1.2h-1.2zM325.9 313.2h1.2v1.2h-1.2zM326.6 309.9h1.2v1.2h-1.2zM329.3 312.4h1.2v1.2h-1.2zM327.4 308.6h1.2v1.2h-1.2zM330.3 312.0h1.2v1.2h-1.2zM329.1 311.0h1.2v1.2h-1.2zM323.3 309.2h1.2v1.2h-1.2zM325.9 316.3h1.2v1.2h-1.2zM328.8 312.2h1.2v1.2h-1.2zM328.7 311.8h1.2v1.2h-1.2zM325.3 321.9h1.2v1.2h-1.2zM325.4 311.0h1.2v1.2h-1.2zM330.7 312.6h1.2v1.2h-1.2zM323.1 309.2h1.2v1.2h-1.2zM331.2 313.3h1.2v1.2h-1.2zM325.5 315.4h1.2v1.2h-1.2zM328.6 309.9h1.2v1.2h-1.2zM321.4 308.0h1.2v1.2h-1.2zM328.7 305.9h1.2v1.2h-1.2zM323.6 310.2h1.2v1.2h-1.2zM328.0 308.8h1.2v1.2h-1.2zM326.3 312.3h1.2v1.2h-1.2zM324.1 312.9h1.2v1.2h-1.2zM330.1 311.3h1.2v1.2h-1.2zM330.2 309.7h1.2v1.2h-1.2zM328.8 311.8h1.2v1.2h-1.2zM325.2 316.5h1.2v1.2h-1.2zM328.4 310.1h1.2v1.2h-1.2zM321.9 308.4h1.2v1.2h-1.2zM325.7 313.4h1.2v1.2h-1.2zM328.4 312.4h1.2v1.2h-1.2zM324.1 312.4h1.2v1.2h-1.2zM322.6 311.2h1.2v1.2h-1.2zM327.2 311.6h1.2v1.2h-1.2zM327.1 317.7h1.2v1.2h-1.2zM319.6 309.7h1.2v1.2h-1.2zM327.1 313.0h1.2v1.2h-1.2zM320.2 312.9h1.2v1.2h-1.2zM332.9 316.6h1.2v1.2h-1.2zM330.4 311.9h1.2v1.2h-1.2zM324.4 322.2h1.2v1.2h-1.2zM325.4 311.6h1.2v1.2h-1.2zM333.3 309.1h1.2v1.2h-1.2zM323.0 315.1h1.2v1.2h-1.2zM331.6 304.9h1.2v1.2h-1.2zM325.2 319.1h1.2v1.2h-1.2zM322.8 322.9h1.2v1.2h-1.2zM334.2 325.6h1.2v1.2h-1.2zM328.1 314.5h1.2v1.2h-1.2zM321.3 309.7h1.2v1.2h-1.2zM329.1 332.1h1.2v1.2h-1.2zM335.9 314.3h1.2v1.2h-1.2zM326.7 321.0h1.2v1.2h-1.2zM325.0 313.4h1.2v1.2h-1.2zM326.2 314.5h1.2v1.2h-1.2zM327.7 319.0h1.2v1.2h-1.2zM332.1 317.6h1.2v1.2h-1.2zM329.6 322.4h1.2v1.2h-1.2zM327.9 317.7h1.2v1.2h-1.2zM328.4 323.2h1.2v1.2h-1.2zM327.3 311.7h1.2v1.2h-1.2zM325.0 321.0h1.2v1.2h-1.2zM329.2 322.6h1.2v1.2h-1.2zM324.4 314.5h1.2v1.2h-1.2zM324.6 319.7h1.2v1.2h-1.2zM332.9 330.9h1.2v1.2h-1.2zM320.7 325.3h1.2v1.2h-1.2zM324.0 315.2h1.2v1.2h-1.2zM334.4 320.0h1.2v1.2h-1.2zM331.2 312.7h1.2v1.2h-1.2zM336.4 324.7h1.2v1.2h-1.2zM328.2 319.6h1.2v1.2h-1.2zM328.3 325.6h1.2v1.2h-1.2zM323.3 319.6h1.2v1.2h-1.2zM350.5 314.4h1.2v1.2h-1.2zM355.0 311.2h1.2v1.2h-1.2zM348.0 321.8h1.2v1.2h-1.2zM359.6 325.2h1.2v1.2h-1.2zM349.6 320.3h1.2v1.2h-1.2zM368.2 313.2h1.2v1.2h-1.2zM356.4 311.3h1.2v1.2h-1.2zM337.8 310.3h1.2v1.2h-1.2zM341.7 328.8h1.2v1.2h-1.2zM349.0 303.6h1.2v1.2h-1.2zM350.0 313.2h1.2v1.2h-1.2zM362.3 323.4h1.2v1.2h-1.2zM349.0 323.3h1.2v1.2h-1.2zM349.1 316.4h1.2v1.2h-1.2zM357.6 317.3h1.2v1.2h-1.2zM349.3 324.0h1.2v1.2h-1.2zM358.0 316.6h1.2v1.2h-1.2zM347.3 315.6h1.2v1.2h-1.2zM347.3 318.6h1.2v1.2h-1.2zM360.8 325.0h1.2v1.2h-1.2zM355.6 323.0h1.2v1.2h-1.2zM352.9 321.4h1.2v1.2h-1.2zM347.3 328.9h1.2v1.2h-1.2zM341.8 314.2h1.2v1.2h-1.2zM349.6 326.7h1.2v1.2h-1.2zM352.5 331.5h1.2v1.2h-1.2zM358.0 320.8h1.2v1.2h-1.2zM351.4 319.3h1.2v1.2h-1.2zM345.0 325.6h1.2v1.2h-1.2zM365.1 321.1h1.2v1.2h-1.2zM343.9 323.4h1.2v1.2h-1.2zM352.5 321.5h1.2v1.2h-1.2zM364.6 317.3h1.2v1.2h-1.2zM350.2 319.0h1.2v1.2h-1.2zM351.0 318.2h1.2v1.2h-1.2zM328.0 313.3h1.2v1.2h-1.2zM343.0 333.6h1.2v1.2h-1.2zM358.5 313.8h1.2v1.2h-1.2zM373.5 340.4h1.2v1.2h-1.2zM366.5 344.0h1.2v1.2h-1.2zM362.9 339.2h1.2v1.2h-1.2zM371.0 341.9h1.2v1.2h-1.2zM352.9 338.3h1.2v1.2h-1.2zM357.8 347.8h1.2v1.2h-1.2zM356.5 346.1h1.2v1.2h-1.2zM360.8 346.6h1.2v1.2h-1.2zM365.3 343.3h1.2v1.2h-1.2zM363.7 348.7h1.2v1.2h-1.2zM368.8 347.4h1.2v1.2h-1.2zM353.6 343.1h1.2v1.2h-1.2zM357.9 342.2h1.2v1.2h-1.2zM364.4 345.4h1.2v1.2h-1.2zM357.9 341.8h1.2v1.2h-1.2zM359.3 343.2h1.2v1.2h-1.2zM369.2 349.6h1.2v1.2h-1.2zM367.9 339.0h1.2v1.2h-1.2zM359.7 347.7h1.2v1.2h-1.2zM363.4 347.5h1.2v1.2h-1.2zM365.7 344.2h1.2v1.2h-1.2zM365.0 343.0h1.2v1.2h-1.2zM360.2 343.9h1.2v1.2h-1.2zM358.0 343.4h1.2v1.2h-1.2zM360.9 339.3h1.2v1.2h-1.2zM364.5 342.7h1.2v1.2h-1.2zM356.0 343.8h1.2v1.2h-1.2zM355.8 342.9h1.2v1.2h-1.2zM373.9 345.1h1.2v1.2h-1.2zM359.9 344.4h1.2v1.2h-1.2zM356.1 347.3h1.2v1.2h-1.2zM359.3 340.3h1.2v1.2h-1.2zM363.0 344.9h1.2v1.2h-1.2zM361.9 349.6h1.2v1.2h-1.2zM365.3 346.4h1.2v1.2h-1.2zM363.5 341.7h1.2v1.2h-1.2zM359.6 341.4h1.2v1.2h-1.2zM364.4 340.4h1.2v1.2h-1.2zM355.1 344.8h1.2v1.2h-1.2zM362.2 341.4h1.2v1.2h-1.2zM364.8 342.1h1.2v1.2h-1.2zM354.7 344.2h1.2v1.2h-1.2zM371.7 347.0h1.2v1.2h-1.2zM356.2 341.1h1.2v1.2h-1.2zM357.0 343.2h1.2v1.2h-1.2zM353.4 341.2h1.2v1.2h-1.2zM365.0 340.7h1.2v1.2h-1.2zM358.2 349.5h1.2v1.2h-1.2zM359.4 341.2h1.2v1.2h-1.2zM362.7 346.0h1.2v1.2h-1.2zM325.7 347.1h1.2v1.2h-1.2zM332.1 342.9h1.2v1.2h-1.2zM322.5 344.7h1.2v1.2h-1.2zM328.6 341.1h1.2v1.2h-1.2zM326.6 339.3h1.2v1.2h-1.2zM326.4 334.9h1.2v1.2h-1.2zM327.1 348.9h1.2v1.2h-1.2zM324.9 344.1h1.2v1.2h-1.2zM320.1 344.2h1.2v1.2h-1.2zM322.5 348.1h1.2v1.2h-1.2zM328.9 340.5h1.2v1.2h-1.2zM332.3 346.7h1.2v1.2h-1.2zM331.4 348.3h1.2v1.2h-1.2zM330.4 347.2h1.2v1.2h-1.2z" fill="#111" fill-opacity="0.28"/>
<path d="M330.1 314.2h1.2v1.2h-1.2zM324.7 312.3h1.2v1.2h-1.2zM322.2 307.2h1.2v1.2h-1.2zM323.0 303.9h1.2v1.2h-1.2zM326.6 311.3h1.2v1.2h-1.2zM320.1 312.3h1.2v1.2h-1.2zM325.4 310.2h1.2v1.2h-1.2zM323.8 313.8h1.2v1.2h-1.2zM331.1 316.9h1.2v1.2h-1.2zM329.2 312.7h1.2v1.2h-1.2zM325.2 316.7h1.2v1.2h-1.2zM327.3 313.0h1.2v1.2h-1.2zM322.7 310.3h1.2v1.2h-1.2zM325.5 313.0h1.2v1.2h-1.2zM326.5 316.4h1.2v1.2h-1.2zM326.3 313.3h1.2v1.2h-1.2zM327.3 307.7h1.2v1.2h-1.2zM332.6 312.7h1.2v1.2h-1.2zM326.6 313.1h1.2v1.2h-1.2zM323.3 312.3h1.2v1.2h-1.2zM329.9 308.9h1.2v1.2h-1.2zM327.9 308.2h1.2v1.2h-1.2zM326.7 310.0h1.2v1.2h-1.2zM328.5 310.5h1.2v1.2h-1.2zM328.8 317.4h1.2v1.2h-1.2zM331.5 314.8h1.2v1.2h-1.2zM326.5 314.9h1.2v1.2h-1.2zM323.1 308.0h1.2v1.2h-1.2zM325.3 309.3h1.2v1.2h-1.2zM329.9 312.0h1.2v1.2h-1.2zM328.5 311.2h1.2v1.2h-1.2zM323.5 313.5h1.2v1.2h-1.2zM329.4 315.7h1.2v1.2h-1.2zM326.6 305.5h1.2v1.2h-1.2zM329.8 313.5h1.2v1.2h-1.2zM332.0 321.6h1.2v1.2h-1.2zM327.6 308.1h1.2v1.2h-1.2zM323.7 302.8h1.2v1.2h-1.2zM335.4 313.3h1.2v1.2h-1.2zM325.9 312.9h1.2v1.2h-1.2zM326.3 314.5h1.2v1.2h-1.2zM328.5 305.6h1.2v1.2h-1.2zM324.2 310.3h1.2v1.2h-1.2zM328.6 318.9h1.2v1.2h-1.2zM323.6 307.8h1.2v1.2h-1.2zM325.4 314.9h1.2v1.2h-1.2zM327.4 312.3h1.2v1.2h-1.2zM330.8 308.8h1.2v1.2h-1.2zM328.3 316.7h1.2v1.2h-1.2zM328.8 314.7h1.2v1.2h-1.2zM329.9 315.5h1.2v1.2h-1.2zM330.3 312.6h1.2v1.2h-1.2zM332.9 309.4h1.2v1.2h-1.2zM329.8 312.8h1.2v1.2h-1.2zM326.7 310.3h1.2v1.2h-1.2zM326.3 309.5h1.2v1.2h-1.2zM326.6 314.0h1.2v1.2h-1.2zM325.6 309.6h1.2v1.2h-1.2zM327.6 314.3h1.2v1.2h-1.2zM329.1 316.7h1.2v1.2h-1.2zM327.5 311.4h1.2v1.2h-1.2zM323.0 316.1h1.2v1.2h-1.2zM332.2 307.4h1.2v1.2h-1.2zM328.2 313.3h1.2v1.2h-1.2zM329.5 306.7h1.2v1.2h-1.2zM329.1 318.7h1.2v1.2h-1.2zM323.3 312.6h1.2v1.2h-1.2zM324.6 308.3h1.2v1.2h-1.2zM328.0 311.7h1.2v1.2h-1.2zM327.7 313.9h1.2v1.2h-1.2zM329.2 315.1h1.2v1.2h-1.2zM323.7 311.0h1.2v1.2h-1.2zM323.1 312.8h1.2v1.2h-1.2zM326.1 312.0h1.2v1.2h-1.2zM327.4 319.5h1.2v1.2h-1.2zM326.7 312.3h1.2v1.2h-1.2zM327.2 306.7h1.2v1.2h-1.2zM327.4 318.1h1.2v1.2h-1.2zM325.7 311.5h1.2v1.2h-1.2zM321.2 316.2h1.2v1.2h-1.2zM327.0 311.4h1.2v1.2h-1.2zM325.6 317.8h1.2v1.2h-1.2zM329.8 306.8h1.2v1.2h-1.2zM326.7 314.7h1.2v1.2h-1.2zM330.4 316.6h1.2v1.2h-1.2zM323.8 307.0h1.2v1.2h-1.2zM325.6 316.3h1.2v1.2h-1.2zM324.5 311.9h1.2v1.2h-1.2zM328.0 310.0h1.2v1.2h-1.2zM329.7 308.2h1.2v1.2h-1.2zM327.3 309.9h1.2v1.2h-1.2zM324.1 310.2h1.2v1.2h-1.2zM324.5 305.5h1.2v1.2h-1.2zM336.5 309.1h1.2v1.2h-1.2zM324.0 306.1h1.2v1.2h-1.2zM325.1 328.1h1.2v1.2h-1.2zM330.9 317.8h1.2v1.2h-1.2zM324.5 315.5h1.2v1.2h-1.2zM326.4 320.4h1.2v1.2h-1.2zM326.7 319.7h1.2v1.2h-1.2zM329.0 318.3h1.2v1.2h-1.2zM326.2 319.4h1.2v1.2h-1.2zM328.2 311.1h1.2v1.2h-1.2zM332.5 319.6h1.2v1.2h-1.2zM326.9 308.5h1.2v1.2h-1.2zM327.5 320.1h1.2v1.2h-1.2zM325.4 309.8h1.2v1.2h-1.2zM327.1 319.9h1.2v1.2h-1.2zM320.9 327.8h1.2v1.2h-1.2zM325.5 320.0h1.2v1.2h-1.2zM328.0 317.9h1.2v1.2h-1.2zM327.4 314.7h1.2v1.2h-1.2zM329.9 324.2h1.2v1.2h-1.2zM327.1 316.5h1.2v1.2h-1.2zM321.5 317.5h1.2v1.2h-1.2zM325.7 315.9h1.2v1.2h-1.2zM327.4 319.8h1.2v1.2h-1.2zM327.3 315.7h1.2v1.2h-1.2zM322.9 311.7h1.2v1.2h-1.2zM325.1 316.0h1.2v1.2h-1.2zM322.0 321.1h1.2v1.2h-1.2zM325.3 326.8h1.2v1.2h-1.2zM331.6 317.8h1.2v1.2h-1.2zM328.8 324.7h1.2v1.2h-1.2zM336.5 328.2h1.2v1.2h-1.2zM324.3 312.5h1.2v1.2h-1.2zM330.8 323.0h1.2v1.2h-1.2zM324.1 320.8h1.2v1.2h-1.2zM330.3 324.5h1.2v1.2h-1.2zM328.0 323.1h1.2v1.2h-1.2zM325.0 322.6h1.2v1.2h-1.2zM347.2 316.6h1.2v1.2h-1.2zM354.6 330.9h1.2v1.2h-1.2zM360.9 312.2h1.2v1.2h-1.2zM348.3 312.8h1.2v1.2h-1.2zM338.0 310.8h1.2v1.2h-1.2zM360.0 310.3h1.2v1.2h-1.2zM353.4 313.2h1.2v1.2h-1.2zM359.5 324.9h1.2v1.2h-1.2zM354.1 312.5h1.2v1.2h-1.2zM343.9 319.2h1.2v1.2h-1.2zM355.4 312.2h1.2v1.2h-1.2zM362.3 327.0h1.2v1.2h-1.2zM364.7 310.3h1.2v1.2h-1.2zM345.9 321.9h1.2v1.2h-1.2zM335.2 313.0h1.2v1.2h-1.2zM348.9 324.6h1.2v1.2h-1.2zM353.8 319.3h1.2v1.2h-1.2zM351.7 318.6h1.2v1.2h-1.2zM349.8 306.3h1.2v1.2h-1.2zM348.4 316.4h1.2v1.2h-1.2zM356.8 323.5h1.2v1.2h-1.2zM357.0 312.8h1.2v1.2h-1.2zM337.5 328.2h1.2v1.2h-1.2zM352.5 335.5h1.2v1.2h-1.2zM355.6 318.2h1.2v1.2h-1.2zM338.3 322.9h1.2v1.2h-1.2zM337.4 321.2h1.2v1.2h-1.2zM355.5 317.1h1.2v1.2h-1.2zM352.0 315.3h1.2v1.2h-1.2zM351.9 310.1h1.2v1.2h-1.2zM334.9 325.9h1.2v1.2h-1.2zM353.1 329.9h1.2v1.2h-1.2zM359.6 322.8h1.2v1.2h-1.2zM367.0 307.8h1.2v1.2h-1.2zM360.3 325.7h1.2v1.2h-1.2zM354.2 341.2h1.2v1.2h-1.2zM355.1 315.2h1.2v1.2h-1.2zM362.9 342.6h1.2v1.2h-1.2zM356.2 344.1h1.2v1.2h-1.2zM372.4 341.8h1.2v1.2h-1.2zM369.0 337.9h1.2v1.2h-1.2zM350.3 336.9h1.2v1.2h-1.2zM361.9 346.9h1.2v1.2h-1.2zM361.5 342.9h1.2v1.2h-1.2zM352.6 345.5h1.2v1.2h-1.2zM356.8 346.5h1.2v1.2h-1.2zM369.1 341.5h1.2v1.2h-1.2zM363.4 348.1h1.2v1.2h-1.2zM360.9 345.2h1.2v1.2h-1.2zM365.3 343.4h1.2v1.2h-1.2zM365.1 343.7h1.2v1.2h-1.2zM366.8 345.2h1.2v1.2h-1.2zM364.7 345.5h1.2v1.2h-1.2zM355.7 344.0h1.2v1.2h-1.2zM362.3 346.0h1.2v1.2h-1.2zM356.8 342.0h1.2v1.2h-1.2zM363.6 346.8h1.2v1.2h-1.2zM358.1 346.1h1.2v1.2h-1.2zM361.1 341.8h1.2v1.2h-1.2zM370.6 342.4h1.2v1.2h-1.2zM354.3 343.8h1.2v1.2h-1.2zM360.9 341.4h1.2v1.2h-1.2zM355.9 345.3h1.2v1.2h-1.2zM364.4 341.0h1.2v1.2h-1.2zM367.8 341.7h1.2v1.2h-1.2zM362.2 341.2h1.2v1.2h-1.2zM359.4 339.8h1.2v1.2h-1.2zM365.6 346.5h1.2v1.2h-1.2zM356.1 349.0h1.2v1.2h-1.2zM364.4 343.9h1.2v1.2h-1.2zM367.7 342.3h1.2v1.2h-1.2zM361.7 339.0h1.2v1.2h-1.2zM360.3 346.4h1.2v1.2h-1.2zM372.2 343.0h1.2v1.2h-1.2zM361.2 344.1h1.2v1.2h-1.2zM361.7 349.0h1.2v1.2h-1.2zM353.3 343.8h1.2v1.2h-1.2zM362.9 344.0h1.2v1.2h-1.2zM363.4 341.4h1.2v1.2h-1.2zM365.6 340.3h1.2v1.2h-1.2zM359.6 342.9h1.2v1.2h-1.2zM365.1 340.6h1.2v1.2h-1.2zM368.8 339.6h1.2v1.2h-1.2zM357.3 345.4h1.2v1.2h-1.2zM363.0 348.5h1.2v1.2h-1.2zM358.2 348.2h1.2v1.2h-1.2zM359.6 340.5h1.2v1.2h-1.2zM361.8 347.1h1.2v1.2h-1.2zM366.0 339.5h1.2v1.2h-1.2zM369.7 343.8h1.2v1.2h-1.2zM364.8 345.8h1.2v1.2h-1.2zM366.9 342.6h1.2v1.2h-1.2zM356.1 343.5h1.2v1.2h-1.2zM365.0 348.0h1.2v1.2h-1.2zM368.6 340.8h1.2v1.2h-1.2zM368.2 344.1h1.2v1.2h-1.2zM357.2 344.7h1.2v1.2h-1.2zM366.4 345.8h1.2v1.2h-1.2zM329.2 343.3h1.2v1.2h-1.2zM327.1 342.0h1.2v1.2h-1.2zM331.7 342.7h1.2v1.2h-1.2zM328.9 345.1h1.2v1.2h-1.2zM329.8 338.5h1.2v1.2h-1.2zM327.3 339.6h1.2v1.2h-1.2zM326.1 341.9h1.2v1.2h-1.2zM327.0 341.7h1.2v1.2h-1.2zM324.3 342.4h1.2v1.2h-1.2zM328.7 340.7h1.2v1.2h-1.2zM325.0 340.7h1.2v1.2h-1.2zM320.9 344.6h1.2v1.2h-1.2zM326.5 344.1h1.2v1.2h-1.2zM331.9 350.7h1.2v1.2h-1.2zM327.8 347.4h1.2v1.2h-1.2zM328.6 343.8h1.2v1.2h-1.2zM324.7 343.3h1.2v1.2h-1.2zM324.8 348.2h1.2v1.2h-1.2z" fill="#111" fill-opacity="0.28"/>
<path d="M324.0 352.5v2.5M327.5 352.5v2.5M329.9 352.5v2.5M331.9 352.5v2.5M333.4 352.5v2.5M334.7 352.5v2.5M335.9 352.5v2.5M336.9 352.5v2.5M343.7 352.5v2.5M347.2 352.5v2.5M349.6 352.5v2.5M351.5 352.5v2.5M353.1 352.5v2.5M354.4 352.5v2.5M355.5 352.5v2.5M356.5 352.5v2.5M337.8 352.5v5.5M363.4 352.5v2.5M366.8 352.5v2.5M369.3 352.5v2.5M371.2 352.5v2.5M372.8 352.5v2.5M374.1 352.5v2.5M375.2 352.5v2.5M376.2 352.5v2.5M357.5 352.5v5.5M383.0 352.5v2.5M386.5 352.5v2.5M389.0 352.5v2.5M390.9 352.5v2.5M392.4 352.5v2.5M393.8 352.5v2.5M394.9 352.5v2.5M395.9 352.5v2.5M377.1 352.5v5.5M396.5 352.5v5.5M318.5 346.5h-2.5M318.5 343.3h-2.5M318.5 341.0h-2.5M318.5 339.2h-2.5M318.5 337.8h-2.5M318.5 336.6h-2.5M318.5 335.5h-2.5M318.5 334.6h-2.5M318.5 328.2h-2.5M318.5 325.0h-2.5M318.5 322.7h-2.5M318.5 321.0h-2.5M318.5 319.5h-2.5M318.5 318.3h-2.5M318.5 317.2h-2.5M318.5 316.3h-2.5M318.5 333.7h-5.5M318.5 309.9h-2.5M318.5 306.7h-2.5M318.5 304.4h-2.5M318.5 302.7h-2.5M318.5 301.2h-2.5M318.5 300.0h-2.5M318.5 298.9h-2.5M318.5 298.0h-2.5M318.5 315.4h-5.5M318.5 291.7h-2.5M318.5 288.5h-2.5M318.5 286.2h-2.5M318.5 284.4h-2.5M318.5 283.0h-2.5M318.5 281.7h-2.5M318.5 280.7h-2.5M318.5 279.7h-2.5M318.5 297.2h-5.5" stroke="#888" stroke-width="0.8" fill="none"/>
<rect x="318.5" y="278.5" width="78.0" height="74.0" fill="none" stroke="#888" stroke-width="1"/>
<line x1="334.50" y1="278.50" x2="334.50" y2="352.50" stroke="#333" stroke-width="1.0"/>
<line x1="313.00" y1="334.50" x2="396.50" y2="334.50" stroke="#333" stroke-width="1.0"/>
<text transform="translate(318.70,289.70) scale(0.9,1.0)" font-size="12" text-anchor="start" font-weight="normal" style="stroke-width:0.25px">63</text>
<text transform="translate(393.80,289.70) scale(0.9,1.0)" font-size="12" text-anchor="end" font-weight="normal" style="stroke-width:0.25px">1</text>
<text transform="translate(394.40,350.20) scale(0.9,1.0)" font-size="12" text-anchor="end" font-weight="normal" style="stroke-width:0.25px">26</text>
<path d="M445.8 319.4h1.4v1.4h-1.4zM450.4 316.3h1.4v1.4h-1.4zM439.2 325.3h1.4v1.4h-1.4zM444.1 311.0h1.4v1.4h-1.4zM444.4 321.4h1.4v1.4h-1.4zM443.2 328.2h1.4v1.4h-1.4zM447.7 314.1h1.4v1.4h-1.4zM443.1 319.1h1.4v1.4h-1.4zM443.2 323.6h1.4v1.4h-1.4zM443.1 315.0h1.4v1.4h-1.4zM439.5 327.1h1.4v1.4h-1.4zM443.7 324.6h1.4v1.4h-1.4zM437.2 321.3h1.4v1.4h-1.4zM447.9 324.5h1.4v1.4h-1.4zM446.3 326.9h1.4v1.4h-1.4zM452.6 318.3h1.4v1.4h-1.4zM442.3 317.0h1.4v1.4h-1.4zM437.4 320.0h1.4v1.4h-1.4zM445.7 324.2h1.4v1.4h-1.4zM445.3 309.0h1.4v1.4h-1.4zM444.5 325.5h1.4v1.4h-1.4zM440.9 306.6h1.4v1.4h-1.4zM443.6 320.9h1.4v1.4h-1.4zM442.3 322.5h1.4v1.4h-1.4zM440.0 317.4h1.4v1.4h-1.4zM447.1 321.5h1.4v1.4h-1.4zM445.4 321.0h1.4v1.4h-1.4zM442.5 322.2h1.4v1.4h-1.4zM442.6 318.8h1.4v1.4h-1.4zM452.5 307.4h1.4v1.4h-1.4zM444.5 318.0h1.4v1.4h-1.4zM448.2 315.5h1.4v1.4h-1.4zM444.0 315.1h1.4v1.4h-1.4zM440.9 313.7h1.4v1.4h-1.4zM439.3 318.2h1.4v1.4h-1.4zM446.9 326.7h1.4v1.4h-1.4zM446.8 327.8h1.4v1.4h-1.4zM447.1 321.6h1.4v1.4h-1.4zM441.3 304.2h1.4v1.4h-1.4zM442.1 322.0h1.4v1.4h-1.4zM444.1 315.2h1.4v1.4h-1.4zM451.9 310.5h1.4v1.4h-1.4zM452.6 316.2h1.4v1.4h-1.4zM445.4 319.5h1.4v1.4h-1.4zM444.1 321.0h1.4v1.4h-1.4zM445.8 313.0h1.4v1.4h-1.4zM448.5 311.3h1.4v1.4h-1.4zM445.3 316.3h1.4v1.4h-1.4zM442.3 319.1h1.4v1.4h-1.4zM444.5 311.3h1.4v1.4h-1.4zM445.8 315.5h1.4v1.4h-1.4zM446.8 307.8h1.4v1.4h-1.4zM441.9 346.2h1.4v1.4h-1.4zM453.2 348.8h1.4v1.4h-1.4zM442.0 342.1h1.4v1.4h-1.4zM447.9 343.1h1.4v1.4h-1.4zM447.6 342.4h1.4v1.4h-1.4zM441.0 336.6h1.4v1.4h-1.4zM440.9 341.8h1.4v1.4h-1.4zM450.1 343.4h1.4v1.4h-1.4zM442.4 345.3h1.4v1.4h-1.4zM450.5 335.9h1.4v1.4h-1.4zM446.4 342.6h1.4v1.4h-1.4zM445.1 345.8h1.4v1.4h-1.4zM449.8 344.8h1.4v1.4h-1.4zM446.5 343.9h1.4v1.4h-1.4zM439.0 347.2h1.4v1.4h-1.4zM447.1 342.0h1.4v1.4h-1.4zM446.3 337.1h1.4v1.4h-1.4zM446.6 341.4h1.4v1.4h-1.4zM446.7 341.1h1.4v1.4h-1.4zM442.5 344.3h1.4v1.4h-1.4zM445.1 341.7h1.4v1.4h-1.4zM448.4 336.2h1.4v1.4h-1.4zM445.5 340.9h1.4v1.4h-1.4zM444.2 343.7h1.4v1.4h-1.4zM441.8 342.9h1.4v1.4h-1.4zM442.7 344.2h1.4v1.4h-1.4zM446.8 345.2h1.4v1.4h-1.4zM444.3 344.1h1.4v1.4h-1.4zM443.4 340.2h1.4v1.4h-1.4zM448.9 347.6h1.4v1.4h-1.4zM446.7 347.8h1.4v1.4h-1.4zM444.1 343.8h1.4v1.4h-1.4zM474.6 309.7h1.4v1.4h-1.4zM479.7 308.8h1.4v1.4h-1.4zM480.9 308.6h1.4v1.4h-1.4zM479.2 305.6h1.4v1.4h-1.4zM482.2 303.4h1.4v1.4h-1.4zM494.3 305.5h1.4v1.4h-1.4zM475.1 307.0h1.4v1.4h-1.4zM482.0 303.7h1.4v1.4h-1.4zM483.8 306.5h1.4v1.4h-1.4zM481.3 305.2h1.4v1.4h-1.4zM479.1 300.1h1.4v1.4h-1.4zM486.4 306.6h1.4v1.4h-1.4zM486.5 310.0h1.4v1.4h-1.4zM474.5 308.5h1.4v1.4h-1.4zM484.6 304.0h1.4v1.4h-1.4zM486.9 296.8h1.4v1.4h-1.4zM487.6 302.8h1.4v1.4h-1.4zM475.2 314.7h1.4v1.4h-1.4zM480.5 300.4h1.4v1.4h-1.4zM482.6 317.4h1.4v1.4h-1.4zM481.2 312.1h1.4v1.4h-1.4zM476.5 303.3h1.4v1.4h-1.4zM485.6 315.5h1.4v1.4h-1.4zM475.6 304.8h1.4v1.4h-1.4zM488.1 311.4h1.4v1.4h-1.4zM479.4 312.9h1.4v1.4h-1.4zM476.9 305.5h1.4v1.4h-1.4zM484.7 310.4h1.4v1.4h-1.4zM482.8 310.6h1.4v1.4h-1.4zM476.3 309.4h1.4v1.4h-1.4zM489.7 303.7h1.4v1.4h-1.4zM489.9 307.3h1.4v1.4h-1.4zM481.2 335.2h1.4v1.4h-1.4zM482.0 342.1h1.4v1.4h-1.4zM471.3 343.4h1.4v1.4h-1.4zM461.8 342.4h1.4v1.4h-1.4zM478.4 346.4h1.4v1.4h-1.4zM475.5 346.4h1.4v1.4h-1.4zM487.0 343.4h1.4v1.4h-1.4zM490.9 343.7h1.4v1.4h-1.4zM492.7 346.0h1.4v1.4h-1.4zM477.2 339.4h1.4v1.4h-1.4zM477.2 344.5h1.4v1.4h-1.4zM479.0 345.9h1.4v1.4h-1.4zM481.1 337.1h1.4v1.4h-1.4zM476.7 343.3h1.4v1.4h-1.4zM474.4 344.1h1.4v1.4h-1.4zM467.6 340.8h1.4v1.4h-1.4zM471.9 344.9h1.4v1.4h-1.4zM478.4 344.7h1.4v1.4h-1.4zM479.6 342.1h1.4v1.4h-1.4zM472.5 338.3h1.4v1.4h-1.4zM480.3 340.7h1.4v1.4h-1.4zM474.6 346.8h1.4v1.4h-1.4zM463.7 347.2h1.4v1.4h-1.4zM477.8 340.5h1.4v1.4h-1.4zM465.5 343.6h1.4v1.4h-1.4z" fill="#111" fill-opacity="0.38"/>
<path d="M444.0 310.5h1.4v1.4h-1.4zM449.4 323.9h1.4v1.4h-1.4zM448.7 315.3h1.4v1.4h-1.4zM441.5 309.6h1.4v1.4h-1.4zM445.8 322.5h1.4v1.4h-1.4zM444.3 311.7h1.4v1.4h-1.4zM441.5 313.2h1.4v1.4h-1.4zM442.8 321.5h1.4v1.4h-1.4zM440.4 307.9h1.4v1.4h-1.4zM442.0 320.9h1.4v1.4h-1.4zM447.3 303.2h1.4v1.4h-1.4zM448.6 320.9h1.4v1.4h-1.4zM444.9 311.0h1.4v1.4h-1.4zM445.0 315.4h1.4v1.4h-1.4zM444.1 319.2h1.4v1.4h-1.4zM445.0 322.4h1.4v1.4h-1.4zM444.7 308.3h1.4v1.4h-1.4zM450.6 323.9h1.4v1.4h-1.4zM447.9 311.3h1.4v1.4h-1.4zM447.9 324.4h1.4v1.4h-1.4zM446.6 313.8h1.4v1.4h-1.4zM437.1 306.1h1.4v1.4h-1.4zM447.7 325.3h1.4v1.4h-1.4zM443.1 318.7h1.4v1.4h-1.4zM449.7 320.4h1.4v1.4h-1.4zM442.8 317.3h1.4v1.4h-1.4zM441.0 320.1h1.4v1.4h-1.4zM449.4 323.9h1.4v1.4h-1.4zM439.1 316.8h1.4v1.4h-1.4zM442.3 320.1h1.4v1.4h-1.4zM438.6 317.7h1.4v1.4h-1.4zM443.7 307.1h1.4v1.4h-1.4zM444.4 308.1h1.4v1.4h-1.4zM449.1 320.9h1.4v1.4h-1.4zM439.2 326.6h1.4v1.4h-1.4zM448.2 317.8h1.4v1.4h-1.4zM444.3 318.4h1.4v1.4h-1.4zM443.3 325.3h1.4v1.4h-1.4zM441.7 323.1h1.4v1.4h-1.4zM446.8 314.5h1.4v1.4h-1.4zM442.6 325.5h1.4v1.4h-1.4zM441.2 309.3h1.4v1.4h-1.4zM446.7 324.6h1.4v1.4h-1.4zM445.3 324.7h1.4v1.4h-1.4zM448.6 312.7h1.4v1.4h-1.4zM438.3 318.5h1.4v1.4h-1.4zM445.9 319.3h1.4v1.4h-1.4zM447.6 325.9h1.4v1.4h-1.4zM442.4 317.0h1.4v1.4h-1.4zM446.5 312.8h1.4v1.4h-1.4zM443.8 313.1h1.4v1.4h-1.4zM448.8 325.3h1.4v1.4h-1.4zM443.9 305.1h1.4v1.4h-1.4zM443.6 320.4h1.4v1.4h-1.4zM447.5 321.9h1.4v1.4h-1.4zM440.3 311.0h1.4v1.4h-1.4zM443.1 320.2h1.4v1.4h-1.4zM444.1 326.7h1.4v1.4h-1.4zM439.4 323.6h1.4v1.4h-1.4zM444.5 315.5h1.4v1.4h-1.4zM440.5 311.1h1.4v1.4h-1.4zM446.5 302.1h1.4v1.4h-1.4zM443.9 316.9h1.4v1.4h-1.4zM443.9 311.6h1.4v1.4h-1.4zM449.7 317.5h1.4v1.4h-1.4zM449.2 318.1h1.4v1.4h-1.4zM445.2 321.8h1.4v1.4h-1.4zM441.5 320.2h1.4v1.4h-1.4zM443.3 331.4h1.4v1.4h-1.4zM442.7 319.8h1.4v1.4h-1.4zM444.2 323.9h1.4v1.4h-1.4zM445.4 343.2h1.4v1.4h-1.4zM442.4 342.7h1.4v1.4h-1.4zM449.6 341.7h1.4v1.4h-1.4zM441.9 340.1h1.4v1.4h-1.4zM439.5 336.7h1.4v1.4h-1.4zM446.6 343.7h1.4v1.4h-1.4zM445.0 337.8h1.4v1.4h-1.4zM438.1 342.4h1.4v1.4h-1.4zM444.8 345.2h1.4v1.4h-1.4zM444.5 335.1h1.4v1.4h-1.4zM446.7 345.5h1.4v1.4h-1.4zM447.3 344.5h1.4v1.4h-1.4zM444.6 349.7h1.4v1.4h-1.4zM439.3 341.4h1.4v1.4h-1.4zM450.1 344.5h1.4v1.4h-1.4zM446.2 344.1h1.4v1.4h-1.4zM438.4 339.9h1.4v1.4h-1.4zM451.1 341.9h1.4v1.4h-1.4zM444.7 344.8h1.4v1.4h-1.4zM446.6 336.5h1.4v1.4h-1.4zM444.0 343.5h1.4v1.4h-1.4zM440.8 341.8h1.4v1.4h-1.4zM447.4 342.3h1.4v1.4h-1.4zM443.5 341.5h1.4v1.4h-1.4zM442.0 338.7h1.4v1.4h-1.4zM444.8 337.0h1.4v1.4h-1.4zM448.0 345.9h1.4v1.4h-1.4zM450.3 349.5h1.4v1.4h-1.4zM443.6 347.0h1.4v1.4h-1.4zM441.2 341.2h1.4v1.4h-1.4zM443.2 339.1h1.4v1.4h-1.4zM443.8 338.8h1.4v1.4h-1.4zM446.1 341.0h1.4v1.4h-1.4zM447.1 343.7h1.4v1.4h-1.4zM442.3 337.2h1.4v1.4h-1.4zM445.1 342.0h1.4v1.4h-1.4zM443.7 343.1h1.4v1.4h-1.4zM439.8 342.1h1.4v1.4h-1.4zM443.8 343.5h1.4v1.4h-1.4zM442.5 339.6h1.4v1.4h-1.4zM446.9 339.4h1.4v1.4h-1.4zM445.6 338.8h1.4v1.4h-1.4zM446.4 339.7h1.4v1.4h-1.4zM444.4 335.7h1.4v1.4h-1.4zM450.1 343.6h1.4v1.4h-1.4zM445.4 345.4h1.4v1.4h-1.4zM442.7 344.1h1.4v1.4h-1.4zM483.2 312.6h1.4v1.4h-1.4zM482.1 306.0h1.4v1.4h-1.4zM488.2 306.9h1.4v1.4h-1.4zM476.4 301.0h1.4v1.4h-1.4zM487.6 308.3h1.4v1.4h-1.4zM485.5 306.2h1.4v1.4h-1.4zM476.1 309.3h1.4v1.4h-1.4zM490.6 316.9h1.4v1.4h-1.4zM478.7 305.0h1.4v1.4h-1.4zM481.9 312.7h1.4v1.4h-1.4zM487.6 310.5h1.4v1.4h-1.4zM488.6 309.1h1.4v1.4h-1.4zM482.5 307.5h1.4v1.4h-1.4zM468.8 303.2h1.4v1.4h-1.4zM495.4 307.2h1.4v1.4h-1.4zM487.4 305.3h1.4v1.4h-1.4zM481.3 308.3h1.4v1.4h-1.4zM476.3 312.4h1.4v1.4h-1.4zM472.3 307.7h1.4v1.4h-1.4zM481.9 315.9h1.4v1.4h-1.4zM479.8 311.7h1.4v1.4h-1.4zM485.3 304.9h1.4v1.4h-1.4zM483.0 305.2h1.4v1.4h-1.4zM482.7 309.6h1.4v1.4h-1.4zM476.2 295.9h1.4v1.4h-1.4zM476.1 340.6h1.4v1.4h-1.4zM481.9 347.4h1.4v1.4h-1.4zM474.5 345.5h1.4v1.4h-1.4zM473.3 347.1h1.4v1.4h-1.4zM484.9 340.8h1.4v1.4h-1.4zM476.8 343.6h1.4v1.4h-1.4zM466.5 343.9h1.4v1.4h-1.4zM475.4 344.8h1.4v1.4h-1.4zM479.7 344.7h1.4v1.4h-1.4zM470.4 340.5h1.4v1.4h-1.4zM468.6 344.1h1.4v1.4h-1.4zM475.9 343.2h1.4v1.4h-1.4zM464.0 343.3h1.4v1.4h-1.4zM488.8 346.9h1.4v1.4h-1.4zM462.9 346.4h1.4v1.4h-1.4zM475.8 334.7h1.4v1.4h-1.4zM465.7 347.3h1.4v1.4h-1.4zM466.1 343.7h1.4v1.4h-1.4zM478.6 340.0h1.4v1.4h-1.4zM479.3 341.9h1.4v1.4h-1.4z" fill="#111" fill-opacity="0.38"/>
<path d="M441.0 320.7h1.4v1.4h-1.4zM441.8 311.0h1.4v1.4h-1.4zM448.5 318.3h1.4v1.4h-1.4zM441.7 315.0h1.4v1.4h-1.4zM445.8 316.9h1.4v1.4h-1.4zM440.4 319.8h1.4v1.4h-1.4zM441.5 307.1h1.4v1.4h-1.4zM442.3 320.8h1.4v1.4h-1.4zM447.9 322.2h1.4v1.4h-1.4zM440.8 308.4h1.4v1.4h-1.4zM443.4 314.3h1.4v1.4h-1.4zM450.5 316.2h1.4v1.4h-1.4zM448.8 320.8h1.4v1.4h-1.4zM443.4 309.1h1.4v1.4h-1.4zM447.2 314.7h1.4v1.4h-1.4zM445.2 324.3h1.4v1.4h-1.4zM444.0 313.6h1.4v1.4h-1.4zM449.0 323.7h1.4v1.4h-1.4zM441.4 324.4h1.4v1.4h-1.4zM443.8 320.8h1.4v1.4h-1.4zM440.6 318.1h1.4v1.4h-1.4zM441.0 311.3h1.4v1.4h-1.4zM442.3 308.3h1.4v1.4h-1.4zM446.8 318.4h1.4v1.4h-1.4zM446.4 326.2h1.4v1.4h-1.4zM441.3 318.9h1.4v1.4h-1.4zM445.3 316.7h1.4v1.4h-1.4zM444.8 322.4h1.4v1.4h-1.4zM446.0 313.8h1.4v1.4h-1.4zM446.4 320.0h1.4v1.4h-1.4zM445.0 332.8h1.4v1.4h-1.4zM446.6 309.9h1.4v1.4h-1.4zM446.2 312.0h1.4v1.4h-1.4zM440.3 329.5h1.4v1.4h-1.4zM443.1 321.4h1.4v1.4h-1.4zM448.0 317.1h1.4v1.4h-1.4zM443.2 322.4h1.4v1.4h-1.4zM438.4 327.5h1.4v1.4h-1.4zM451.3 315.2h1.4v1.4h-1.4zM445.4 318.3h1.4v1.4h-1.4zM441.6 324.2h1.4v1.4h-1.4zM448.8 324.3h1.4v1.4h-1.4zM446.1 321.3h1.4v1.4h-1.4zM444.6 313.2h1.4v1.4h-1.4zM447.0 336.8h1.4v1.4h-1.4zM444.5 325.2h1.4v1.4h-1.4zM441.4 319.6h1.4v1.4h-1.4zM441.2 316.4h1.4v1.4h-1.4zM449.9 330.8h1.4v1.4h-1.4zM440.4 317.5h1.4v1.4h-1.4zM443.6 319.7h1.4v1.4h-1.4zM441.7 316.3h1.4v1.4h-1.4zM441.1 308.2h1.4v1.4h-1.4zM443.4 309.8h1.4v1.4h-1.4zM444.5 317.3h1.4v1.4h-1.4zM442.1 312.1h1.4v1.4h-1.4zM442.6 318.8h1.4v1.4h-1.4zM443.0 317.3h1.4v1.4h-1.4zM451.9 317.9h1.4v1.4h-1.4zM448.4 321.5h1.4v1.4h-1.4zM439.7 324.9h1.4v1.4h-1.4zM448.2 341.9h1.4v1.4h-1.4zM445.3 344.9h1.4v1.4h-1.4zM440.4 341.8h1.4v1.4h-1.4zM446.2 343.6h1.4v1.4h-1.4zM448.6 337.6h1.4v1.4h-1.4zM445.8 347.0h1.4v1.4h-1.4zM442.0 345.7h1.4v1.4h-1.4zM440.7 343.3h1.4v1.4h-1.4zM448.0 345.4h1.4v1.4h-1.4zM447.8 348.7h1.4v1.4h-1.4zM443.1 348.2h1.4v1.4h-1.4zM445.0 347.3h1.4v1.4h-1.4zM447.9 349.4h1.4v1.4h-1.4zM449.9 344.0h1.4v1.4h-1.4zM438.1 345.2h1.4v1.4h-1.4zM447.9 347.2h1.4v1.4h-1.4zM447.7 338.9h1.4v1.4h-1.4zM446.0 347.2h1.4v1.4h-1.4zM449.0 338.9h1.4v1.4h-1.4zM443.1 343.2h1.4v1.4h-1.4zM441.7 346.6h1.4v1.4h-1.4zM443.5 340.2h1.4v1.4h-1.4zM438.6 347.8h1.4v1.4h-1.4zM445.4 337.9h1.4v1.4h-1.4zM443.8 342.4h1.4v1.4h-1.4zM444.8 342.2h1.4v1.4h-1.4zM444.9 350.4h1.4v1.4h-1.4zM446.2 345.4h1.4v1.4h-1.4zM445.6 341.4h1.4v1.4h-1.4zM444.2 341.5h1.4v1.4h-1.4zM444.5 346.5h1.4v1.4h-1.4zM446.6 341.3h1.4v1.4h-1.4zM446.1 350.8h1.4v1.4h-1.4zM452.4 339.8h1.4v1.4h-1.4zM444.5 336.4h1.4v1.4h-1.4zM443.1 346.0h1.4v1.4h-1.4zM487.9 309.3h1.4v1.4h-1.4zM480.6 313.9h1.4v1.4h-1.4zM475.8 303.6h1.4v1.4h-1.4zM479.9 306.3h1.4v1.4h-1.4zM484.5 310.5h1.4v1.4h-1.4zM489.3 306.4h1.4v1.4h-1.4zM481.9 311.9h1.4v1.4h-1.4zM487.3 302.4h1.4v1.4h-1.4zM483.4 301.8h1.4v1.4h-1.4zM476.1 316.5h1.4v1.4h-1.4zM484.6 304.4h1.4v1.4h-1.4zM474.1 307.5h1.4v1.4h-1.4zM480.1 305.5h1.4v1.4h-1.4zM474.3 309.2h1.4v1.4h-1.4zM478.2 309.1h1.4v1.4h-1.4zM475.9 304.2h1.4v1.4h-1.4zM487.6 301.3h1.4v1.4h-1.4zM479.9 309.3h1.4v1.4h-1.4zM457.3 347.2h1.4v1.4h-1.4zM465.0 341.7h1.4v1.4h-1.4zM467.8 338.7h1.4v1.4h-1.4zM477.3 341.4h1.4v1.4h-1.4zM486.3 340.3h1.4v1.4h-1.4zM470.9 339.4h1.4v1.4h-1.4zM482.2 342.7h1.4v1.4h-1.4zM474.8 347.7h1.4v1.4h-1.4zM487.0 339.5h1.4v1.4h-1.4zM479.4 340.9h1.4v1.4h-1.4zM479.0 338.6h1.4v1.4h-1.4zM480.4 336.8h1.4v1.4h-1.4zM473.7 345.8h1.4v1.4h-1.4zM481.9 343.5h1.4v1.4h-1.4zM475.7 340.5h1.4v1.4h-1.4zM474.9 339.3h1.4v1.4h-1.4zM488.4 340.7h1.4v1.4h-1.4zM474.7 347.6h1.4v1.4h-1.4zM462.9 344.7h1.4v1.4h-1.4zM468.6 346.9h1.4v1.4h-1.4zM481.3 340.2h1.4v1.4h-1.4zM480.1 338.0h1.4v1.4h-1.4zM472.0 340.2h1.4v1.4h-1.4zM473.5 343.6h1.4v1.4h-1.4zM471.3 342.8h1.4v1.4h-1.4zM467.2 335.3h1.4v1.4h-1.4zM479.5 340.8h1.4v1.4h-1.4zM474.3 349.6h1.4v1.4h-1.4zM476.3 347.5h1.4v1.4h-1.4zM496.1 348.4h1.4v1.4h-1.4z" fill="#111" fill-opacity="0.38"/>
<path d="M445.5 311.6h1.4v1.4h-1.4zM446.3 318.0h1.4v1.4h-1.4zM449.1 318.8h1.4v1.4h-1.4zM444.8 319.1h1.4v1.4h-1.4zM441.7 324.3h1.4v1.4h-1.4zM446.8 324.1h1.4v1.4h-1.4zM446.4 319.5h1.4v1.4h-1.4zM445.4 310.7h1.4v1.4h-1.4zM446.0 325.4h1.4v1.4h-1.4zM446.1 316.6h1.4v1.4h-1.4zM445.8 316.7h1.4v1.4h-1.4zM445.1 318.8h1.4v1.4h-1.4zM447.5 319.6h1.4v1.4h-1.4zM447.0 320.7h1.4v1.4h-1.4zM446.7 315.7h1.4v1.4h-1.4zM439.8 324.8h1.4v1.4h-1.4zM454.6 322.6h1.4v1.4h-1.4zM444.9 313.0h1.4v1.4h-1.4zM446.3 323.6h1.4v1.4h-1.4zM446.2 320.4h1.4v1.4h-1.4zM447.3 308.9h1.4v1.4h-1.4zM440.0 314.0h1.4v1.4h-1.4zM443.2 326.3h1.4v1.4h-1.4zM446.3 318.0h1.4v1.4h-1.4zM442.1 317.5h1.4v1.4h-1.4zM438.3 325.4h1.4v1.4h-1.4zM443.6 324.5h1.4v1.4h-1.4zM441.8 320.5h1.4v1.4h-1.4zM444.0 325.9h1.4v1.4h-1.4zM445.0 320.3h1.4v1.4h-1.4zM439.9 316.4h1.4v1.4h-1.4zM441.9 317.9h1.4v1.4h-1.4zM440.2 320.0h1.4v1.4h-1.4zM443.7 325.7h1.4v1.4h-1.4zM449.9 317.4h1.4v1.4h-1.4zM449.5 318.3h1.4v1.4h-1.4zM440.8 321.8h1.4v1.4h-1.4zM443.9 316.9h1.4v1.4h-1.4zM445.1 314.6h1.4v1.4h-1.4zM442.2 318.1h1.4v1.4h-1.4zM443.7 324.0h1.4v1.4h-1.4zM443.5 312.5h1.4v1.4h-1.4zM443.8 312.3h1.4v1.4h-1.4zM442.7 322.8h1.4v1.4h-1.4zM444.6 332.4h1.4v1.4h-1.4zM445.5 318.1h1.4v1.4h-1.4zM440.3 319.9h1.4v1.4h-1.4zM444.9 318.3h1.4v1.4h-1.4zM445.8 316.6h1.4v1.4h-1.4zM443.3 311.1h1.4v1.4h-1.4zM446.3 326.9h1.4v1.4h-1.4zM445.0 324.9h1.4v1.4h-1.4zM443.1 315.9h1.4v1.4h-1.4zM447.9 317.0h1.4v1.4h-1.4zM441.1 328.1h1.4v1.4h-1.4zM448.3 344.8h1.4v1.4h-1.4zM440.6 343.6h1.4v1.4h-1.4zM448.1 343.9h1.4v1.4h-1.4zM441.8 347.8h1.4v1.4h-1.4zM446.0 343.1h1.4v1.4h-1.4zM442.0 341.9h1.4v1.4h-1.4zM441.9 344.5h1.4v1.4h-1.4zM444.6 341.4h1.4v1.4h-1.4zM442.8 341.3h1.4v1.4h-1.4zM442.8 343.8h1.4v1.4h-1.4zM445.7 337.3h1.4v1.4h-1.4zM444.5 339.7h1.4v1.4h-1.4zM440.4 343.3h1.4v1.4h-1.4zM443.2 341.4h1.4v1.4h-1.4zM447.1 339.1h1.4v1.4h-1.4zM442.4 344.7h1.4v1.4h-1.4zM443.6 340.8h1.4v1.4h-1.4zM440.9 350.0h1.4v1.4h-1.4zM441.6 342.4h1.4v1.4h-1.4zM442.8 349.6h1.4v1.4h-1.4zM444.8 343.3h1.4v1.4h-1.4zM447.8 345.8h1.4v1.4h-1.4zM441.2 340.9h1.4v1.4h-1.4zM450.6 342.6h1.4v1.4h-1.4zM444.0 341.8h1.4v1.4h-1.4zM438.8 341.4h1.4v1.4h-1.4zM479.6 302.3h1.4v1.4h-1.4zM478.5 309.7h1.4v1.4h-1.4zM485.7 302.5h1.4v1.4h-1.4zM470.4 304.6h1.4v1.4h-1.4zM484.6 307.6h1.4v1.4h-1.4zM478.1 299.6h1.4v1.4h-1.4zM486.1 307.3h1.4v1.4h-1.4zM479.3 302.3h1.4v1.4h-1.4zM474.5 306.7h1.4v1.4h-1.4zM480.6 315.7h1.4v1.4h-1.4zM481.2 310.3h1.4v1.4h-1.4zM488.9 310.6h1.4v1.4h-1.4zM479.3 299.1h1.4v1.4h-1.4zM486.7 314.8h1.4v1.4h-1.4zM481.2 308.9h1.4v1.4h-1.4zM479.1 308.4h1.4v1.4h-1.4zM483.6 301.7h1.4v1.4h-1.4zM480.7 306.3h1.4v1.4h-1.4zM469.5 305.1h1.4v1.4h-1.4zM476.8 302.3h1.4v1.4h-1.4zM470.8 303.7h1.4v1.4h-1.4zM483.8 299.6h1.4v1.4h-1.4zM478.3 307.1h1.4v1.4h-1.4zM463.2 343.6h1.4v1.4h-1.4zM469.6 342.0h1.4v1.4h-1.4zM474.3 343.9h1.4v1.4h-1.4zM458.7 344.1h1.4v1.4h-1.4zM468.6 344.4h1.4v1.4h-1.4zM480.3 342.0h1.4v1.4h-1.4zM472.7 343.1h1.4v1.4h-1.4zM481.9 343.9h1.4v1.4h-1.4zM469.2 346.1h1.4v1.4h-1.4zM491.9 344.9h1.4v1.4h-1.4zM485.6 345.4h1.4v1.4h-1.4zM477.9 345.7h1.4v1.4h-1.4zM462.8 343.6h1.4v1.4h-1.4zM484.2 342.0h1.4v1.4h-1.4zM475.7 340.6h1.4v1.4h-1.4zM478.0 341.3h1.4v1.4h-1.4zM456.1 344.5h1.4v1.4h-1.4zM479.7 339.0h1.4v1.4h-1.4zM465.2 341.8h1.4v1.4h-1.4zM472.7 348.3h1.4v1.4h-1.4z" fill="#111" fill-opacity="0.38"/>
<path d="M447.8 322.7h1.2v1.2h-1.2zM444.4 318.5h1.2v1.2h-1.2zM438.8 303.2h1.2v1.2h-1.2zM442.8 320.7h1.2v1.2h-1.2zM443.8 318.5h1.2v1.2h-1.2zM444.6 321.6h1.2v1.2h-1.2zM447.1 326.5h1.2v1.2h-1.2zM447.9 309.1h1.2v1.2h-1.2zM439.5 316.8h1.2v1.2h-1.2zM439.5 321.0h1.2v1.2h-1.2zM445.9 307.8h1.2v1.2h-1.2zM443.5 315.8h1.2v1.2h-1.2zM439.6 319.9h1.2v1.2h-1.2zM440.4 318.2h1.2v1.2h-1.2zM441.3 322.1h1.2v1.2h-1.2zM445.5 320.9h1.2v1.2h-1.2zM448.6 315.7h1.2v1.2h-1.2zM442.3 313.8h1.2v1.2h-1.2zM442.6 322.8h1.2v1.2h-1.2zM450.2 318.1h1.2v1.2h-1.2zM445.6 314.2h1.2v1.2h-1.2zM442.6 308.0h1.2v1.2h-1.2zM452.3 308.9h1.2v1.2h-1.2zM439.4 310.6h1.2v1.2h-1.2zM442.3 326.8h1.2v1.2h-1.2zM446.8 319.6h1.2v1.2h-1.2zM445.1 332.4h1.2v1.2h-1.2zM445.7 318.7h1.2v1.2h-1.2zM444.8 322.6h1.2v1.2h-1.2zM441.9 324.2h1.2v1.2h-1.2zM449.7 312.2h1.2v1.2h-1.2zM447.8 310.7h1.2v1.2h-1.2zM446.0 326.2h1.2v1.2h-1.2zM440.8 316.9h1.2v1.2h-1.2zM445.5 312.4h1.2v1.2h-1.2zM443.2 306.6h1.2v1.2h-1.2zM440.4 317.9h1.2v1.2h-1.2zM447.3 308.5h1.2v1.2h-1.2zM446.3 309.5h1.2v1.2h-1.2zM443.2 307.4h1.2v1.2h-1.2zM444.5 313.8h1.2v1.2h-1.2zM448.3 317.4h1.2v1.2h-1.2zM445.8 324.8h1.2v1.2h-1.2zM440.2 312.8h1.2v1.2h-1.2zM442.8 315.7h1.2v1.2h-1.2zM445.3 321.5h1.2v1.2h-1.2zM445.1 312.3h1.2v1.2h-1.2zM442.3 321.3h1.2v1.2h-1.2zM450.0 322.8h1.2v1.2h-1.2zM450.0 324.9h1.2v1.2h-1.2zM443.2 321.1h1.2v1.2h-1.2zM443.9 316.1h1.2v1.2h-1.2zM440.8 320.0h1.2v1.2h-1.2zM447.6 316.9h1.2v1.2h-1.2zM443.7 313.2h1.2v1.2h-1.2zM443.1 307.4h1.2v1.2h-1.2zM441.0 315.4h1.2v1.2h-1.2zM443.4 319.7h1.2v1.2h-1.2zM448.6 331.1h1.2v1.2h-1.2zM445.9 320.0h1.2v1.2h-1.2zM441.6 317.9h1.2v1.2h-1.2zM447.5 316.6h1.2v1.2h-1.2zM447.7 320.5h1.2v1.2h-1.2zM443.3 310.7h1.2v1.2h-1.2zM444.2 314.9h1.2v1.2h-1.2zM447.4 321.1h1.2v1.2h-1.2zM443.3 315.3h1.2v1.2h-1.2zM454.8 323.0h1.2v1.2h-1.2zM450.4 324.0h1.2v1.2h-1.2zM446.6 334.8h1.2v1.2h-1.2zM446.9 305.0h1.2v1.2h-1.2zM445.6 313.3h1.2v1.2h-1.2zM446.6 317.8h1.2v1.2h-1.2zM449.5 310.6h1.2v1.2h-1.2zM445.6 313.8h1.2v1.2h-1.2zM445.0 314.3h1.2v1.2h-1.2zM442.5 318.1h1.2v1.2h-1.2zM445.3 306.4h1.2v1.2h-1.2zM446.9 324.7h1.2v1.2h-1.2zM440.8 328.7h1.2v1.2h-1.2zM452.4 316.8h1.2v1.2h-1.2zM440.0 321.8h1.2v1.2h-1.2zM445.0 321.3h1.2v1.2h-1.2zM446.4 306.8h1.2v1.2h-1.2zM448.5 308.3h1.2v1.2h-1.2zM440.4 313.5h1.2v1.2h-1.2zM442.2 309.5h1.2v1.2h-1.2zM448.6 313.9h1.2v1.2h-1.2zM445.8 325.7h1.2v1.2h-1.2zM447.9 340.1h1.2v1.2h-1.2zM444.3 346.3h1.2v1.2h-1.2zM442.5 346.9h1.2v1.2h-1.2zM442.5 342.9h1.2v1.2h-1.2zM441.4 347.3h1.2v1.2h-1.2zM442.6 339.8h1.2v1.2h-1.2zM443.2 345.3h1.2v1.2h-1.2zM441.9 341.1h1.2v1.2h-1.2zM450.1 345.9h1.2v1.2h-1.2zM446.4 343.6h1.2v1.2h-1.2zM444.4 346.9h1.2v1.2h-1.2zM442.9 344.5h1.2v1.2h-1.2zM445.8 340.7h1.2v1.2h-1.2zM447.1 343.1h1.2v1.2h-1.2zM439.9 346.1h1.2v1.2h-1.2zM445.2 342.3h1.2v1.2h-1.2zM446.1 341.5h1.2v1.2h-1.2zM444.8 344.5h1.2v1.2h-1.2zM444.4 343.8h1.2v1.2h-1.2zM446.0 342.5h1.2v1.2h-1.2zM449.5 339.5h1.2v1.2h-1.2zM441.5 336.3h1.2v1.2h-1.2zM445.6 346.7h1.2v1.2h-1.2zM446.6 339.1h1.2v1.2h-1.2zM450.1 339.1h1.2v1.2h-1.2zM443.4 349.0h1.2v1.2h-1.2zM447.3 341.0h1.2v1.2h-1.2zM443.5 347.2h1.2v1.2h-1.2zM443.1 336.9h1.2v1.2h-1.2zM441.7 340.3h1.2v1.2h-1.2zM446.2 340.1h1.2v1.2h-1.2zM447.2 344.4h1.2v1.2h-1.2zM449.1 346.4h1.2v1.2h-1.2zM447.8 344.0h1.2v1.2h-1.2zM439.4 344.3h1.2v1.2h-1.2zM446.0 341.1h1.2v1.2h-1.2zM441.9 341.0h1.2v1.2h-1.2zM444.3 341.8h1.2v1.2h-1.2zM481.2 301.3h1.2v1.2h-1.2zM485.6 298.5h1.2v1.2h-1.2zM482.8 304.9h1.2v1.2h-1.2zM479.0 308.1h1.2v1.2h-1.2zM484.7 306.2h1.2v1.2h-1.2zM479.9 310.3h1.2v1.2h-1.2zM482.1 305.0h1.2v1.2h-1.2zM479.8 307.4h1.2v1.2h-1.2zM488.1 315.0h1.2v1.2h-1.2zM477.1 309.2h1.2v1.2h-1.2zM482.6 299.1h1.2v1.2h-1.2zM478.4 305.3h1.2v1.2h-1.2zM480.5 304.8h1.2v1.2h-1.2zM477.3 296.2h1.2v1.2h-1.2zM474.7 307.7h1.2v1.2h-1.2zM481.9 309.6h1.2v1.2h-1.2zM475.8 298.0h1.2v1.2h-1.2zM489.5 303.7h1.2v1.2h-1.2zM480.7 310.3h1.2v1.2h-1.2zM479.3 309.7h1.2v1.2h-1.2zM492.2 301.6h1.2v1.2h-1.2zM487.0 305.4h1.2v1.2h-1.2zM490.4 308.6h1.2v1.2h-1.2zM484.9 309.9h1.2v1.2h-1.2zM482.3 296.7h1.2v1.2h-1.2zM476.6 309.1h1.2v1.2h-1.2zM492.6 310.8h1.2v1.2h-1.2zM471.3 308.3h1.2v1.2h-1.2zM477.8 312.9h1.2v1.2h-1.2zM480.6 309.0h1.2v1.2h-1.2zM483.6 305.1h1.2v1.2h-1.2zM478.5 308.3h1.2v1.2h-1.2zM481.5 292.3h1.2v1.2h-1.2zM477.8 300.3h1.2v1.2h-1.2zM474.0 312.7h1.2v1.2h-1.2zM478.6 305.7h1.2v1.2h-1.2zM474.9 300.3h1.2v1.2h-1.2zM489.0 293.0h1.2v1.2h-1.2zM490.0 303.9h1.2v1.2h-1.2zM468.6 324.1h1.2v1.2h-1.2zM476.2 302.9h1.2v1.2h-1.2zM470.7 317.8h1.2v1.2h-1.2zM463.4 310.7h1.2v1.2h-1.2zM473.4 315.6h1.2v1.2h-1.2zM474.9 309.3h1.2v1.2h-1.2zM476.9 290.9h1.2v1.2h-1.2zM465.1 313.9h1.2v1.2h-1.2zM477.1 327.6h1.2v1.2h-1.2zM476.3 311.5h1.2v1.2h-1.2zM474.2 315.3h1.2v1.2h-1.2zM450.0 319.7h1.2v1.2h-1.2zM482.3 302.2h1.2v1.2h-1.2zM473.3 324.4h1.2v1.2h-1.2zM481.9 315.1h1.2v1.2h-1.2zM470.4 309.2h1.2v1.2h-1.2zM468.8 308.8h1.2v1.2h-1.2zM473.5 317.4h1.2v1.2h-1.2zM464.5 318.5h1.2v1.2h-1.2zM470.8 342.1h1.2v1.2h-1.2zM471.3 308.7h1.2v1.2h-1.2zM469.8 305.5h1.2v1.2h-1.2zM464.3 326.5h1.2v1.2h-1.2zM497.1 311.3h1.2v1.2h-1.2zM459.1 319.8h1.2v1.2h-1.2zM463.5 323.3h1.2v1.2h-1.2zM468.4 309.1h1.2v1.2h-1.2zM476.4 319.4h1.2v1.2h-1.2zM469.3 310.7h1.2v1.2h-1.2zM478.0 322.7h1.2v1.2h-1.2zM475.9 317.3h1.2v1.2h-1.2zM470.9 314.0h1.2v1.2h-1.2zM450.1 314.4h1.2v1.2h-1.2zM456.6 316.9h1.2v1.2h-1.2zM469.9 311.1h1.2v1.2h-1.2zM452.0 310.2h1.2v1.2h-1.2zM469.1 296.3h1.2v1.2h-1.2zM477.7 310.2h1.2v1.2h-1.2zM472.7 310.5h1.2v1.2h-1.2zM475.1 294.5h1.2v1.2h-1.2zM473.8 326.7h1.2v1.2h-1.2zM487.9 336.3h1.2v1.2h-1.2zM486.4 318.8h1.2v1.2h-1.2zM469.2 312.6h1.2v1.2h-1.2zM478.0 310.7h1.2v1.2h-1.2zM458.5 330.0h1.2v1.2h-1.2zM465.0 310.6h1.2v1.2h-1.2zM475.6 313.5h1.2v1.2h-1.2zM463.4 310.5h1.2v1.2h-1.2zM473.1 296.3h1.2v1.2h-1.2zM456.1 321.8h1.2v1.2h-1.2zM470.1 305.9h1.2v1.2h-1.2zM463.8 326.3h1.2v1.2h-1.2zM493.1 295.2h1.2v1.2h-1.2zM487.5 317.3h1.2v1.2h-1.2zM471.1 316.8h1.2v1.2h-1.2zM483.4 311.9h1.2v1.2h-1.2zM469.9 301.1h1.2v1.2h-1.2zM462.2 300.5h1.2v1.2h-1.2zM474.7 316.8h1.2v1.2h-1.2zM465.5 314.0h1.2v1.2h-1.2zM482.9 306.0h1.2v1.2h-1.2zM468.7 320.6h1.2v1.2h-1.2zM471.9 319.4h1.2v1.2h-1.2zM478.2 311.3h1.2v1.2h-1.2zM461.1 326.8h1.2v1.2h-1.2zM494.1 305.8h1.2v1.2h-1.2zM479.9 301.2h1.2v1.2h-1.2zM468.2 321.2h1.2v1.2h-1.2zM469.2 313.9h1.2v1.2h-1.2zM468.8 311.6h1.2v1.2h-1.2zM458.0 310.0h1.2v1.2h-1.2zM484.1 316.3h1.2v1.2h-1.2zM484.7 312.0h1.2v1.2h-1.2zM457.1 319.8h1.2v1.2h-1.2zM477.2 308.6h1.2v1.2h-1.2zM477.0 311.5h1.2v1.2h-1.2zM492.1 306.0h1.2v1.2h-1.2zM490.2 311.5h1.2v1.2h-1.2zM463.1 315.1h1.2v1.2h-1.2zM483.0 319.9h1.2v1.2h-1.2zM495.5 317.3h1.2v1.2h-1.2zM481.3 319.0h1.2v1.2h-1.2zM489.9 317.8h1.2v1.2h-1.2zM472.2 339.7h1.2v1.2h-1.2zM477.6 319.0h1.2v1.2h-1.2zM485.1 317.2h1.2v1.2h-1.2zM464.6 323.2h1.2v1.2h-1.2zM477.2 331.5h1.2v1.2h-1.2zM465.3 301.5h1.2v1.2h-1.2zM479.2 313.0h1.2v1.2h-1.2zM483.4 347.7h1.2v1.2h-1.2zM482.8 345.0h1.2v1.2h-1.2zM471.0 347.5h1.2v1.2h-1.2zM487.3 344.4h1.2v1.2h-1.2zM476.5 334.3h1.2v1.2h-1.2zM456.7 346.8h1.2v1.2h-1.2zM480.6 340.1h1.2v1.2h-1.2zM472.1 343.5h1.2v1.2h-1.2zM469.8 341.1h1.2v1.2h-1.2zM463.0 349.8h1.2v1.2h-1.2zM482.4 341.5h1.2v1.2h-1.2zM469.6 347.6h1.2v1.2h-1.2zM482.0 339.4h1.2v1.2h-1.2zM478.4 341.3h1.2v1.2h-1.2zM473.6 340.1h1.2v1.2h-1.2zM489.1 343.7h1.2v1.2h-1.2zM478.5 340.1h1.2v1.2h-1.2zM468.3 345.5h1.2v1.2h-1.2zM465.0 343.7h1.2v1.2h-1.2zM474.1 346.0h1.2v1.2h-1.2zM490.7 339.4h1.2v1.2h-1.2zM471.1 344.2h1.2v1.2h-1.2z" fill="#111" fill-opacity="0.28"/>
<path d="M445.1 315.8h1.2v1.2h-1.2zM445.4 317.6h1.2v1.2h-1.2zM447.5 323.2h1.2v1.2h-1.2zM444.0 310.1h1.2v1.2h-1.2zM442.3 318.5h1.2v1.2h-1.2zM446.5 319.5h1.2v1.2h-1.2zM444.0 313.1h1.2v1.2h-1.2zM445.5 316.4h1.2v1.2h-1.2zM438.3 321.1h1.2v1.2h-1.2zM445.2 315.8h1.2v1.2h-1.2zM444.8 315.5h1.2v1.2h-1.2zM441.1 321.8h1.2v1.2h-1.2zM448.7 320.3h1.2v1.2h-1.2zM443.5 317.0h1.2v1.2h-1.2zM445.0 319.8h1.2v1.2h-1.2zM438.8 306.2h1.2v1.2h-1.2zM439.2 311.0h1.2v1.2h-1.2zM438.5 320.9h1.2v1.2h-1.2zM445.5 314.9h1.2v1.2h-1.2zM441.6 321.7h1.2v1.2h-1.2zM448.7 324.8h1.2v1.2h-1.2zM441.9 316.8h1.2v1.2h-1.2zM443.1 326.3h1.2v1.2h-1.2zM446.9 327.0h1.2v1.2h-1.2zM444.7 326.0h1.2v1.2h-1.2zM446.0 309.8h1.2v1.2h-1.2zM449.8 309.5h1.2v1.2h-1.2zM441.1 312.2h1.2v1.2h-1.2zM447.9 311.1h1.2v1.2h-1.2zM449.6 317.4h1.2v1.2h-1.2zM440.1 331.6h1.2v1.2h-1.2zM449.1 312.4h1.2v1.2h-1.2zM444.6 325.2h1.2v1.2h-1.2zM446.8 317.6h1.2v1.2h-1.2zM441.7 310.4h1.2v1.2h-1.2zM448.3 303.9h1.2v1.2h-1.2zM444.7 322.3h1.2v1.2h-1.2zM450.0 322.6h1.2v1.2h-1.2zM448.5 325.5h1.2v1.2h-1.2zM446.4 311.0h1.2v1.2h-1.2zM445.3 323.9h1.2v1.2h-1.2zM445.3 320.6h1.2v1.2h-1.2zM447.0 314.0h1.2v1.2h-1.2zM440.9 304.5h1.2v1.2h-1.2zM442.7 324.1h1.2v1.2h-1.2zM444.0 319.7h1.2v1.2h-1.2zM440.8 319.6h1.2v1.2h-1.2zM447.5 324.2h1.2v1.2h-1.2zM445.6 320.8h1.2v1.2h-1.2zM447.0 312.4h1.2v1.2h-1.2zM444.7 310.3h1.2v1.2h-1.2zM442.2 314.9h1.2v1.2h-1.2zM437.9 316.1h1.2v1.2h-1.2zM448.8 329.3h1.2v1.2h-1.2zM447.2 319.1h1.2v1.2h-1.2zM446.4 314.6h1.2v1.2h-1.2zM447.3 312.5h1.2v1.2h-1.2zM445.4 313.9h1.2v1.2h-1.2zM448.2 313.1h1.2v1.2h-1.2zM441.1 312.7h1.2v1.2h-1.2zM441.7 321.5h1.2v1.2h-1.2zM444.7 322.6h1.2v1.2h-1.2zM439.3 326.6h1.2v1.2h-1.2zM444.8 320.2h1.2v1.2h-1.2zM448.6 311.3h1.2v1.2h-1.2zM446.8 314.0h1.2v1.2h-1.2zM441.6 313.5h1.2v1.2h-1.2zM447.1 326.3h1.2v1.2h-1.2zM441.2 314.1h1.2v1.2h-1.2zM446.1 317.2h1.2v1.2h-1.2zM449.5 310.1h1.2v1.2h-1.2zM445.3 330.5h1.2v1.2h-1.2zM448.0 315.8h1.2v1.2h-1.2zM446.2 317.2h1.2v1.2h-1.2zM451.0 316.1h1.2v1.2h-1.2zM443.4 321.7h1.2v1.2h-1.2zM445.0 313.7h1.2v1.2h-1.2zM441.1 310.9h1.2v1.2h-1.2zM438.8 313.2h1.2v1.2h-1.2zM444.6 319.7h1.2v1.2h-1.2zM445.4 315.9h1.2v1.2h-1.2zM446.4 314.7h1.2v1.2h-1.2zM443.1 310.0h1.2v1.2h-1.2zM446.2 317.9h1.2v1.2h-1.2zM446.2 322.2h1.2v1.2h-1.2zM442.8 312.1h1.2v1.2h-1.2zM447.4 319.4h1.2v1.2h-1.2zM444.3 322.8h1.2v1.2h-1.2zM443.3 339.9h1.2v1.2h-1.2zM444.7 344.7h1.2v1.2h-1.2zM445.7 345.4h1.2v1.2h-1.2zM448.4 349.1h1.2v1.2h-1.2zM453.4 350.3h1.2v1.2h-1.2zM449.6 344.4h1.2v1.2h-1.2zM447.0 339.5h1.2v1.2h-1.2zM444.0 337.2h1.2v1.2h-1.2zM446.1 340.4h1.2v1.2h-1.2zM444.9 341.5h1.2v1.2h-1.2zM440.3 338.3h1.2v1.2h-1.2zM449.2 350.3h1.2v1.2h-1.2zM442.4 338.3h1.2v1.2h-1.2zM445.2 343.9h1.2v1.2h-1.2zM444.6 346.8h1.2v1.2h-1.2zM441.9 341.2h1.2v1.2h-1.2zM441.2 344.4h1.2v1.2h-1.2zM445.8 345.2h1.2v1.2h-1.2zM447.7 337.2h1.2v1.2h-1.2zM447.2 340.3h1.2v1.2h-1.2zM445.6 344.1h1.2v1.2h-1.2zM448.6 339.3h1.2v1.2h-1.2zM445.7 345.3h1.2v1.2h-1.2zM439.8 345.8h1.2v1.2h-1.2zM443.5 347.6h1.2v1.2h-1.2zM441.1 341.0h1.2v1.2h-1.2zM444.2 341.7h1.2v1.2h-1.2zM441.5 342.3h1.2v1.2h-1.2zM443.8 339.6h1.2v1.2h-1.2zM447.5 342.9h1.2v1.2h-1.2zM446.4 344.8h1.2v1.2h-1.2zM445.2 350.1h1.2v1.2h-1.2zM446.1 342.5h1.2v1.2h-1.2zM441.3 339.0h1.2v1.2h-1.2zM437.6 338.2h1.2v1.2h-1.2zM443.5 344.4h1.2v1.2h-1.2zM450.1 340.4h1.2v1.2h-1.2zM447.3 338.8h1.2v1.2h-1.2zM451.1 343.6h1.2v1.2h-1.2zM444.2 337.2h1.2v1.2h-1.2zM443.0 343.5h1.2v1.2h-1.2zM448.0 346.7h1.2v1.2h-1.2zM470.9 307.6h1.2v1.2h-1.2zM483.6 305.1h1.2v1.2h-1.2zM478.1 316.1h1.2v1.2h-1.2zM477.1 311.2h1.2v1.2h-1.2zM474.7 313.3h1.2v1.2h-1.2zM471.4 311.4h1.2v1.2h-1.2zM477.3 305.4h1.2v1.2h-1.2zM478.6 303.4h1.2v1.2h-1.2zM471.3 306.3h1.2v1.2h-1.2zM476.1 309.9h1.2v1.2h-1.2zM485.3 301.7h1.2v1.2h-1.2zM481.9 306.5h1.2v1.2h-1.2zM480.3 300.1h1.2v1.2h-1.2zM484.3 312.1h1.2v1.2h-1.2zM480.4 311.2h1.2v1.2h-1.2zM483.4 309.4h1.2v1.2h-1.2zM484.5 306.3h1.2v1.2h-1.2zM483.8 306.3h1.2v1.2h-1.2zM477.1 304.7h1.2v1.2h-1.2zM478.9 304.8h1.2v1.2h-1.2zM477.8 306.9h1.2v1.2h-1.2zM476.4 307.0h1.2v1.2h-1.2zM478.7 301.7h1.2v1.2h-1.2zM481.6 304.8h1.2v1.2h-1.2zM479.5 309.5h1.2v1.2h-1.2zM479.6 302.6h1.2v1.2h-1.2zM477.8 313.5h1.2v1.2h-1.2zM473.9 306.2h1.2v1.2h-1.2zM462.9 315.4h1.2v1.2h-1.2zM489.9 314.7h1.2v1.2h-1.2zM496.8 311.7h1.2v1.2h-1.2zM477.9 322.8h1.2v1.2h-1.2zM472.9 321.6h1.2v1.2h-1.2zM468.4 336.4h1.2v1.2h-1.2zM458.8 320.2h1.2v1.2h-1.2zM471.6 311.0h1.2v1.2h-1.2zM466.5 313.4h1.2v1.2h-1.2zM479.6 307.5h1.2v1.2h-1.2zM485.5 294.9h1.2v1.2h-1.2zM481.1 321.0h1.2v1.2h-1.2zM474.2 320.6h1.2v1.2h-1.2zM473.9 299.7h1.2v1.2h-1.2zM469.5 330.8h1.2v1.2h-1.2zM475.9 303.2h1.2v1.2h-1.2zM487.2 316.9h1.2v1.2h-1.2zM465.6 320.2h1.2v1.2h-1.2zM470.8 315.4h1.2v1.2h-1.2zM462.9 312.9h1.2v1.2h-1.2zM471.1 314.1h1.2v1.2h-1.2zM493.0 312.0h1.2v1.2h-1.2zM483.2 307.3h1.2v1.2h-1.2zM485.4 307.4h1.2v1.2h-1.2zM486.2 292.4h1.2v1.2h-1.2zM479.6 304.5h1.2v1.2h-1.2zM474.7 307.4h1.2v1.2h-1.2zM466.8 314.7h1.2v1.2h-1.2zM479.2 311.0h1.2v1.2h-1.2zM484.3 303.5h1.2v1.2h-1.2zM474.9 320.8h1.2v1.2h-1.2zM473.4 319.5h1.2v1.2h-1.2zM460.4 296.2h1.2v1.2h-1.2zM465.3 304.1h1.2v1.2h-1.2zM463.7 309.0h1.2v1.2h-1.2zM472.1 311.6h1.2v1.2h-1.2zM474.2 308.1h1.2v1.2h-1.2zM457.6 337.1h1.2v1.2h-1.2zM469.7 322.3h1.2v1.2h-1.2zM472.2 291.2h1.2v1.2h-1.2zM466.9 319.5h1.2v1.2h-1.2zM474.7 306.1h1.2v1.2h-1.2zM475.3 317.7h1.2v1.2h-1.2zM474.8 308.4h1.2v1.2h-1.2zM468.7 314.3h1.2v1.2h-1.2zM471.3 323.2h1.2v1.2h-1.2zM475.1 312.0h1.2v1.2h-1.2zM472.1 298.5h1.2v1.2h-1.2zM470.8 306.7h1.2v1.2h-1.2zM472.2 310.5h1.2v1.2h-1.2zM471.9 312.7h1.2v1.2h-1.2zM475.6 302.3h1.2v1.2h-1.2zM466.4 320.1h1.2v1.2h-1.2zM480.4 288.3h1.2v1.2h-1.2zM469.2 304.0h1.2v1.2h-1.2zM481.2 318.4h1.2v1.2h-1.2zM486.3 296.7h1.2v1.2h-1.2zM470.2 310.9h1.2v1.2h-1.2zM461.5 313.6h1.2v1.2h-1.2zM464.4 312.9h1.2v1.2h-1.2zM494.9 293.3h1.2v1.2h-1.2zM474.4 320.2h1.2v1.2h-1.2zM479.2 292.7h1.2v1.2h-1.2zM452.5 324.7h1.2v1.2h-1.2zM464.2 313.8h1.2v1.2h-1.2zM458.2 318.0h1.2v1.2h-1.2zM474.5 331.6h1.2v1.2h-1.2zM464.1 317.7h1.2v1.2h-1.2zM476.7 321.3h1.2v1.2h-1.2zM465.1 315.6h1.2v1.2h-1.2zM491.6 304.9h1.2v1.2h-1.2zM469.9 308.8h1.2v1.2h-1.2zM474.4 318.8h1.2v1.2h-1.2zM481.6 322.2h1.2v1.2h-1.2zM471.3 311.8h1.2v1.2h-1.2zM461.4 316.9h1.2v1.2h-1.2zM475.9 310.1h1.2v1.2h-1.2zM479.4 306.3h1.2v1.2h-1.2zM471.1 329.3h1.2v1.2h-1.2zM482.7 307.9h1.2v1.2h-1.2zM464.1 301.5h1.2v1.2h-1.2zM473.4 296.3h1.2v1.2h-1.2zM478.7 306.2h1.2v1.2h-1.2zM472.4 321.9h1.2v1.2h-1.2zM480.5 311.5h1.2v1.2h-1.2zM488.0 299.1h1.2v1.2h-1.2zM471.0 311.3h1.2v1.2h-1.2zM478.4 308.2h1.2v1.2h-1.2zM482.6 326.6h1.2v1.2h-1.2zM475.1 340.1h1.2v1.2h-1.2zM474.1 342.8h1.2v1.2h-1.2zM474.4 344.9h1.2v1.2h-1.2zM489.9 340.1h1.2v1.2h-1.2zM473.8 341.5h1.2v1.2h-1.2zM475.1 340.7h1.2v1.2h-1.2zM474.9 344.1h1.2v1.2h-1.2zM479.6 345.9h1.2v1.2h-1.2zM473.5 346.9h1.2v1.2h-1.2zM470.2 338.1h1.2v1.2h-1.2zM470.9 341.2h1.2v1.2h-1.2zM469.5 340.3h1.2v1.2h-1.2zM478.4 338.7h1.2v1.2h-1.2zM466.6 342.8h1.2v1.2h-1.2zM486.1 340.4h1.2v1.2h-1.2zM477.2 344.3h1.2v1.2h-1.2zM483.3 347.5h1.2v1.2h-1.2zM480.4 346.0h1.2v1.2h-1.2zM458.7 339.5h1.2v1.2h-1.2zM481.1 346.4h1.2v1.2h-1.2zM482.3 346.9h1.2v1.2h-1.2zM471.6 341.5h1.2v1.2h-1.2zM492.3 343.9h1.2v1.2h-1.2zM473.6 338.4h1.2v1.2h-1.2zM481.7 347.6h1.2v1.2h-1.2zM475.3 341.1h1.2v1.2h-1.2zM489.0 342.0h1.2v1.2h-1.2z" fill="#111" fill-opacity="0.28"/>
<path d="M448.0 320.8h1.2v1.2h-1.2zM450.4 307.5h1.2v1.2h-1.2zM449.0 315.3h1.2v1.2h-1.2zM448.8 321.3h1.2v1.2h-1.2zM445.2 317.5h1.2v1.2h-1.2zM443.3 319.7h1.2v1.2h-1.2zM450.3 319.5h1.2v1.2h-1.2zM443.7 310.0h1.2v1.2h-1.2zM446.6 315.0h1.2v1.2h-1.2zM443.0 323.1h1.2v1.2h-1.2zM447.0 323.2h1.2v1.2h-1.2zM447.3 320.4h1.2v1.2h-1.2zM449.2 314.1h1.2v1.2h-1.2zM441.9 319.8h1.2v1.2h-1.2zM445.0 320.0h1.2v1.2h-1.2zM440.8 318.7h1.2v1.2h-1.2zM446.1 310.4h1.2v1.2h-1.2zM441.3 312.7h1.2v1.2h-1.2zM443.5 322.9h1.2v1.2h-1.2zM447.5 329.8h1.2v1.2h-1.2zM445.1 328.0h1.2v1.2h-1.2zM442.2 313.3h1.2v1.2h-1.2zM447.9 316.2h1.2v1.2h-1.2zM444.4 319.4h1.2v1.2h-1.2zM445.7 318.7h1.2v1.2h-1.2zM439.9 323.3h1.2v1.2h-1.2zM442.4 322.1h1.2v1.2h-1.2zM449.1 320.6h1.2v1.2h-1.2zM439.3 318.8h1.2v1.2h-1.2zM443.8 314.8h1.2v1.2h-1.2zM445.4 311.4h1.2v1.2h-1.2zM440.0 308.2h1.2v1.2h-1.2zM442.2 310.9h1.2v1.2h-1.2zM445.7 323.9h1.2v1.2h-1.2zM449.0 313.7h1.2v1.2h-1.2zM442.4 314.2h1.2v1.2h-1.2zM443.8 311.9h1.2v1.2h-1.2zM439.5 319.8h1.2v1.2h-1.2zM449.6 313.2h1.2v1.2h-1.2zM439.2 312.9h1.2v1.2h-1.2zM445.9 320.8h1.2v1.2h-1.2zM441.0 314.1h1.2v1.2h-1.2zM443.0 323.3h1.2v1.2h-1.2zM447.6 318.5h1.2v1.2h-1.2zM440.7 310.8h1.2v1.2h-1.2zM443.6 312.0h1.2v1.2h-1.2zM446.1 313.8h1.2v1.2h-1.2zM446.5 316.9h1.2v1.2h-1.2zM442.2 317.6h1.2v1.2h-1.2zM441.4 323.4h1.2v1.2h-1.2zM444.8 313.6h1.2v1.2h-1.2zM441.3 313.6h1.2v1.2h-1.2zM451.9 321.9h1.2v1.2h-1.2zM445.9 325.5h1.2v1.2h-1.2zM440.0 311.2h1.2v1.2h-1.2zM445.2 330.8h1.2v1.2h-1.2zM441.5 312.6h1.2v1.2h-1.2zM445.7 322.9h1.2v1.2h-1.2zM440.4 320.0h1.2v1.2h-1.2zM444.7 312.5h1.2v1.2h-1.2zM444.3 326.9h1.2v1.2h-1.2zM443.1 309.4h1.2v1.2h-1.2zM443.3 321.1h1.2v1.2h-1.2zM443.9 319.4h1.2v1.2h-1.2zM446.6 325.9h1.2v1.2h-1.2zM442.2 319.2h1.2v1.2h-1.2zM441.5 321.5h1.2v1.2h-1.2zM440.6 328.8h1.2v1.2h-1.2zM441.8 319.3h1.2v1.2h-1.2zM443.4 317.0h1.2v1.2h-1.2zM450.0 309.4h1.2v1.2h-1.2zM451.5 313.7h1.2v1.2h-1.2zM441.1 310.3h1.2v1.2h-1.2zM447.7 315.1h1.2v1.2h-1.2zM448.8 323.0h1.2v1.2h-1.2zM449.4 310.9h1.2v1.2h-1.2zM439.8 315.2h1.2v1.2h-1.2zM446.1 323.5h1.2v1.2h-1.2zM443.1 320.0h1.2v1.2h-1.2zM439.0 325.4h1.2v1.2h-1.2zM448.7 318.9h1.2v1.2h-1.2zM442.8 318.8h1.2v1.2h-1.2zM441.5 318.3h1.2v1.2h-1.2zM441.5 321.2h1.2v1.2h-1.2zM444.9 326.7h1.2v1.2h-1.2zM445.6 313.2h1.2v1.2h-1.2zM439.7 315.4h1.2v1.2h-1.2zM444.5 323.3h1.2v1.2h-1.2zM446.8 325.1h1.2v1.2h-1.2zM444.0 321.1h1.2v1.2h-1.2zM442.0 320.1h1.2v1.2h-1.2zM446.7 315.0h1.2v1.2h-1.2zM443.3 321.4h1.2v1.2h-1.2zM442.6 315.9h1.2v1.2h-1.2zM446.1 346.9h1.2v1.2h-1.2zM445.0 346.4h1.2v1.2h-1.2zM444.4 340.7h1.2v1.2h-1.2zM444.9 343.3h1.2v1.2h-1.2zM440.6 347.0h1.2v1.2h-1.2zM441.1 346.8h1.2v1.2h-1.2zM442.4 340.8h1.2v1.2h-1.2zM444.2 336.7h1.2v1.2h-1.2zM440.2 336.0h1.2v1.2h-1.2zM449.4 341.5h1.2v1.2h-1.2zM444.8 344.9h1.2v1.2h-1.2zM447.7 340.1h1.2v1.2h-1.2zM442.2 342.1h1.2v1.2h-1.2zM443.1 347.4h1.2v1.2h-1.2zM443.6 342.0h1.2v1.2h-1.2zM446.3 342.3h1.2v1.2h-1.2zM443.8 339.1h1.2v1.2h-1.2zM450.2 344.8h1.2v1.2h-1.2zM444.8 342.9h1.2v1.2h-1.2zM442.2 350.8h1.2v1.2h-1.2zM442.7 340.4h1.2v1.2h-1.2zM448.6 342.0h1.2v1.2h-1.2zM443.8 341.7h1.2v1.2h-1.2zM443.6 340.3h1.2v1.2h-1.2zM451.2 336.3h1.2v1.2h-1.2zM445.8 345.0h1.2v1.2h-1.2zM445.1 335.9h1.2v1.2h-1.2zM442.6 336.3h1.2v1.2h-1.2zM449.6 343.4h1.2v1.2h-1.2zM445.8 342.1h1.2v1.2h-1.2zM444.8 339.4h1.2v1.2h-1.2zM442.9 344.4h1.2v1.2h-1.2zM441.7 344.9h1.2v1.2h-1.2zM443.3 341.8h1.2v1.2h-1.2zM449.3 347.7h1.2v1.2h-1.2zM447.1 339.2h1.2v1.2h-1.2zM442.1 342.1h1.2v1.2h-1.2zM439.9 337.7h1.2v1.2h-1.2zM447.1 341.2h1.2v1.2h-1.2zM444.2 349.8h1.2v1.2h-1.2zM440.9 342.2h1.2v1.2h-1.2zM447.7 345.4h1.2v1.2h-1.2zM444.8 346.7h1.2v1.2h-1.2zM440.1 337.7h1.2v1.2h-1.2zM480.7 308.7h1.2v1.2h-1.2zM482.7 307.3h1.2v1.2h-1.2zM475.8 305.8h1.2v1.2h-1.2zM488.5 313.1h1.2v1.2h-1.2zM480.0 298.2h1.2v1.2h-1.2zM474.2 306.7h1.2v1.2h-1.2zM481.3 305.4h1.2v1.2h-1.2zM485.5 305.8h1.2v1.2h-1.2zM482.3 299.2h1.2v1.2h-1.2zM478.1 312.9h1.2v1.2h-1.2zM484.8 302.0h1.2v1.2h-1.2zM479.2 303.5h1.2v1.2h-1.2zM481.4 305.3h1.2v1.2h-1.2zM478.3 310.3h1.2v1.2h-1.2zM476.7 306.0h1.2v1.2h-1.2zM473.6 317.1h1.2v1.2h-1.2zM486.8 309.8h1.2v1.2h-1.2zM474.2 306.0h1.2v1.2h-1.2zM474.3 302.9h1.2v1.2h-1.2zM481.2 302.7h1.2v1.2h-1.2zM479.1 305.5h1.2v1.2h-1.2zM476.2 308.4h1.2v1.2h-1.2zM482.9 309.7h1.2v1.2h-1.2zM487.2 306.2h1.2v1.2h-1.2zM481.4 304.4h1.2v1.2h-1.2zM470.9 302.7h1.2v1.2h-1.2zM484.0 302.8h1.2v1.2h-1.2zM477.3 313.4h1.2v1.2h-1.2zM485.0 313.8h1.2v1.2h-1.2zM477.0 307.5h1.2v1.2h-1.2zM476.0 331.1h1.2v1.2h-1.2zM470.9 309.7h1.2v1.2h-1.2zM494.2 326.4h1.2v1.2h-1.2zM460.6 321.3h1.2v1.2h-1.2zM484.5 305.9h1.2v1.2h-1.2zM482.9 315.9h1.2v1.2h-1.2zM484.8 308.5h1.2v1.2h-1.2zM474.5 305.3h1.2v1.2h-1.2zM469.8 308.2h1.2v1.2h-1.2zM470.7 311.5h1.2v1.2h-1.2zM475.5 293.1h1.2v1.2h-1.2zM471.9 323.1h1.2v1.2h-1.2zM488.5 301.8h1.2v1.2h-1.2zM464.3 318.5h1.2v1.2h-1.2zM472.5 315.0h1.2v1.2h-1.2zM487.8 318.8h1.2v1.2h-1.2zM471.7 314.7h1.2v1.2h-1.2zM458.2 315.1h1.2v1.2h-1.2zM459.7 328.2h1.2v1.2h-1.2zM483.0 310.6h1.2v1.2h-1.2zM471.5 315.2h1.2v1.2h-1.2zM462.9 314.4h1.2v1.2h-1.2zM479.4 324.1h1.2v1.2h-1.2zM456.3 319.2h1.2v1.2h-1.2zM455.0 328.1h1.2v1.2h-1.2zM470.9 324.0h1.2v1.2h-1.2zM458.3 324.2h1.2v1.2h-1.2zM458.8 319.8h1.2v1.2h-1.2zM472.3 309.9h1.2v1.2h-1.2zM471.7 299.6h1.2v1.2h-1.2zM480.4 316.6h1.2v1.2h-1.2zM480.6 317.9h1.2v1.2h-1.2zM479.6 312.9h1.2v1.2h-1.2zM474.8 321.2h1.2v1.2h-1.2zM466.8 303.7h1.2v1.2h-1.2zM483.0 315.0h1.2v1.2h-1.2zM473.5 312.7h1.2v1.2h-1.2zM486.4 313.9h1.2v1.2h-1.2zM466.6 318.8h1.2v1.2h-1.2zM478.6 320.8h1.2v1.2h-1.2zM484.9 317.7h1.2v1.2h-1.2zM482.7 306.9h1.2v1.2h-1.2zM466.6 323.2h1.2v1.2h-1.2zM475.1 312.9h1.2v1.2h-1.2zM466.6 309.1h1.2v1.2h-1.2zM487.2 308.5h1.2v1.2h-1.2zM476.6 318.3h1.2v1.2h-1.2zM476.5 329.0h1.2v1.2h-1.2zM462.4 316.9h1.2v1.2h-1.2zM475.0 320.9h1.2v1.2h-1.2zM487.4 299.7h1.2v1.2h-1.2zM475.1 310.7h1.2v1.2h-1.2zM469.4 314.6h1.2v1.2h-1.2zM472.6 330.4h1.2v1.2h-1.2zM457.5 325.5h1.2v1.2h-1.2zM467.7 318.8h1.2v1.2h-1.2zM478.3 320.1h1.2v1.2h-1.2zM475.4 294.2h1.2v1.2h-1.2zM463.4 315.1h1.2v1.2h-1.2zM474.3 320.9h1.2v1.2h-1.2zM478.8 311.5h1.2v1.2h-1.2zM477.4 298.4h1.2v1.2h-1.2zM463.1 332.1h1.2v1.2h-1.2zM458.6 304.7h1.2v1.2h-1.2zM479.5 299.5h1.2v1.2h-1.2zM475.2 307.9h1.2v1.2h-1.2zM466.1 321.3h1.2v1.2h-1.2zM486.8 309.3h1.2v1.2h-1.2zM475.7 312.7h1.2v1.2h-1.2zM461.7 319.2h1.2v1.2h-1.2zM471.2 310.1h1.2v1.2h-1.2zM474.8 314.9h1.2v1.2h-1.2zM481.3 304.0h1.2v1.2h-1.2zM483.6 308.6h1.2v1.2h-1.2zM480.3 310.6h1.2v1.2h-1.2zM476.6 319.7h1.2v1.2h-1.2zM477.8 312.3h1.2v1.2h-1.2zM462.4 344.2h1.2v1.2h-1.2zM466.6 311.5h1.2v1.2h-1.2zM483.1 323.9h1.2v1.2h-1.2zM491.2 306.1h1.2v1.2h-1.2zM483.4 299.5h1.2v1.2h-1.2zM479.0 301.2h1.2v1.2h-1.2zM468.9 308.6h1.2v1.2h-1.2zM480.0 310.6h1.2v1.2h-1.2zM460.7 313.6h1.2v1.2h-1.2zM465.8 321.1h1.2v1.2h-1.2zM472.0 308.9h1.2v1.2h-1.2zM466.5 300.1h1.2v1.2h-1.2zM484.5 308.4h1.2v1.2h-1.2zM468.6 318.0h1.2v1.2h-1.2zM471.6 319.5h1.2v1.2h-1.2zM455.9 316.4h1.2v1.2h-1.2zM497.3 322.3h1.2v1.2h-1.2zM466.6 306.3h1.2v1.2h-1.2zM473.9 290.9h1.2v1.2h-1.2zM474.0 316.2h1.2v1.2h-1.2zM485.6 303.9h1.2v1.2h-1.2zM472.4 320.0h1.2v1.2h-1.2zM456.6 327.9h1.2v1.2h-1.2zM459.9 311.3h1.2v1.2h-1.2zM481.8 312.4h1.2v1.2h-1.2zM478.5 344.7h1.2v1.2h-1.2zM473.1 344.3h1.2v1.2h-1.2zM488.0 341.4h1.2v1.2h-1.2zM488.1 342.0h1.2v1.2h-1.2zM478.1 346.4h1.2v1.2h-1.2zM470.1 346.6h1.2v1.2h-1.2zM480.0 347.3h1.2v1.2h-1.2zM485.2 346.4h1.2v1.2h-1.2zM476.8 339.9h1.2v1.2h-1.2zM477.1 346.4h1.2v1.2h-1.2zM472.9 342.6h1.2v1.2h-1.2zM487.5 341.5h1.2v1.2h-1.2zM481.1 340.6h1.2v1.2h-1.2zM480.7 343.0h1.2v1.2h-1.2zM459.3 344.8h1.2v1.2h-1.2zM484.0 341.6h1.2v1.2h-1.2zM474.8 339.8h1.2v1.2h-1.2zM480.1 345.4h1.2v1.2h-1.2zM475.1 343.4h1.2v1.2h-1.2zM471.5 340.9h1.2v1.2h-1.2zM474.5 336.4h1.2v1.2h-1.2zM478.3 341.8h1.2v1.2h-1.2zM476.1 338.6h1.2v1.2h-1.2zM473.9 339.9h1.2v1.2h-1.2z" fill="#111" fill-opacity="0.28"/>
<path d="M446.7 317.1h1.2v1.2h-1.2zM441.7 322.0h1.2v1.2h-1.2zM442.6 318.9h1.2v1.2h-1.2zM445.7 319.0h1.2v1.2h-1.2zM445.5 317.9h1.2v1.2h-1.2zM448.1 304.4h1.2v1.2h-1.2zM451.1 320.6h1.2v1.2h-1.2zM444.8 316.1h1.2v1.2h-1.2zM439.7 322.7h1.2v1.2h-1.2zM444.8 320.8h1.2v1.2h-1.2zM449.3 324.4h1.2v1.2h-1.2zM442.7 316.1h1.2v1.2h-1.2zM440.9 323.3h1.2v1.2h-1.2zM446.3 317.1h1.2v1.2h-1.2zM448.4 317.0h1.2v1.2h-1.2zM441.5 324.7h1.2v1.2h-1.2zM445.1 323.0h1.2v1.2h-1.2zM446.7 312.2h1.2v1.2h-1.2zM442.8 322.6h1.2v1.2h-1.2zM445.2 315.1h1.2v1.2h-1.2zM445.9 320.2h1.2v1.2h-1.2zM445.8 325.5h1.2v1.2h-1.2zM448.2 316.2h1.2v1.2h-1.2zM445.0 312.5h1.2v1.2h-1.2zM442.2 322.3h1.2v1.2h-1.2zM441.3 318.3h1.2v1.2h-1.2zM443.8 323.8h1.2v1.2h-1.2zM444.5 324.5h1.2v1.2h-1.2zM445.9 322.3h1.2v1.2h-1.2zM444.8 320.3h1.2v1.2h-1.2zM447.8 314.0h1.2v1.2h-1.2zM448.7 312.3h1.2v1.2h-1.2zM451.0 323.4h1.2v1.2h-1.2zM444.0 319.7h1.2v1.2h-1.2zM444.3 313.4h1.2v1.2h-1.2zM449.8 325.1h1.2v1.2h-1.2zM449.2 320.7h1.2v1.2h-1.2zM439.6 311.6h1.2v1.2h-1.2zM442.5 306.9h1.2v1.2h-1.2zM444.7 305.0h1.2v1.2h-1.2zM449.7 315.0h1.2v1.2h-1.2zM440.2 317.7h1.2v1.2h-1.2zM445.3 320.5h1.2v1.2h-1.2zM447.6 316.8h1.2v1.2h-1.2zM447.0 324.5h1.2v1.2h-1.2zM437.5 319.0h1.2v1.2h-1.2zM449.0 313.9h1.2v1.2h-1.2zM445.1 325.6h1.2v1.2h-1.2zM441.2 319.0h1.2v1.2h-1.2zM443.4 318.4h1.2v1.2h-1.2zM446.4 317.6h1.2v1.2h-1.2zM439.8 312.9h1.2v1.2h-1.2zM439.8 307.8h1.2v1.2h-1.2zM446.6 306.5h1.2v1.2h-1.2zM444.2 323.4h1.2v1.2h-1.2zM448.3 310.1h1.2v1.2h-1.2zM441.9 324.7h1.2v1.2h-1.2zM443.9 302.1h1.2v1.2h-1.2zM441.9 317.8h1.2v1.2h-1.2zM440.7 321.8h1.2v1.2h-1.2zM442.0 317.0h1.2v1.2h-1.2zM443.0 324.3h1.2v1.2h-1.2zM438.1 312.3h1.2v1.2h-1.2zM442.6 316.5h1.2v1.2h-1.2zM442.5 328.2h1.2v1.2h-1.2zM438.5 318.1h1.2v1.2h-1.2zM445.3 307.4h1.2v1.2h-1.2zM446.3 311.6h1.2v1.2h-1.2zM447.4 311.3h1.2v1.2h-1.2zM441.3 311.4h1.2v1.2h-1.2zM442.4 327.4h1.2v1.2h-1.2zM441.2 316.6h1.2v1.2h-1.2zM439.8 310.2h1.2v1.2h-1.2zM445.3 315.5h1.2v1.2h-1.2zM444.0 324.7h1.2v1.2h-1.2zM447.4 320.0h1.2v1.2h-1.2zM445.4 333.1h1.2v1.2h-1.2zM446.1 321.9h1.2v1.2h-1.2zM443.5 316.9h1.2v1.2h-1.2zM442.6 317.5h1.2v1.2h-1.2zM442.2 319.9h1.2v1.2h-1.2zM443.2 320.8h1.2v1.2h-1.2zM448.1 342.4h1.2v1.2h-1.2zM437.5 337.8h1.2v1.2h-1.2zM444.2 336.5h1.2v1.2h-1.2zM443.1 345.3h1.2v1.2h-1.2zM443.7 345.1h1.2v1.2h-1.2zM445.9 337.9h1.2v1.2h-1.2zM447.3 345.3h1.2v1.2h-1.2zM440.5 341.6h1.2v1.2h-1.2zM445.6 344.4h1.2v1.2h-1.2zM444.8 342.8h1.2v1.2h-1.2zM448.2 343.6h1.2v1.2h-1.2zM444.9 341.4h1.2v1.2h-1.2zM438.8 341.6h1.2v1.2h-1.2zM448.4 341.1h1.2v1.2h-1.2zM443.2 343.0h1.2v1.2h-1.2zM447.4 341.8h1.2v1.2h-1.2zM439.0 347.6h1.2v1.2h-1.2zM437.9 336.9h1.2v1.2h-1.2zM442.1 349.6h1.2v1.2h-1.2zM444.7 338.7h1.2v1.2h-1.2zM446.5 337.8h1.2v1.2h-1.2zM445.3 344.2h1.2v1.2h-1.2zM441.3 344.0h1.2v1.2h-1.2zM445.4 344.2h1.2v1.2h-1.2zM440.9 337.8h1.2v1.2h-1.2zM444.5 341.0h1.2v1.2h-1.2zM444.3 341.5h1.2v1.2h-1.2zM444.0 348.0h1.2v1.2h-1.2zM445.0 341.2h1.2v1.2h-1.2zM440.9 348.1h1.2v1.2h-1.2zM449.9 342.6h1.2v1.2h-1.2zM441.7 340.3h1.2v1.2h-1.2zM447.0 348.1h1.2v1.2h-1.2zM447.3 336.4h1.2v1.2h-1.2zM445.2 345.8h1.2v1.2h-1.2zM444.4 341.7h1.2v1.2h-1.2zM443.8 349.1h1.2v1.2h-1.2zM444.6 341.3h1.2v1.2h-1.2zM447.3 342.6h1.2v1.2h-1.2zM443.1 342.1h1.2v1.2h-1.2zM448.6 341.7h1.2v1.2h-1.2zM442.3 342.3h1.2v1.2h-1.2zM441.7 343.6h1.2v1.2h-1.2zM443.5 348.8h1.2v1.2h-1.2zM450.2 346.5h1.2v1.2h-1.2zM440.9 349.7h1.2v1.2h-1.2zM480.5 303.1h1.2v1.2h-1.2zM493.3 306.9h1.2v1.2h-1.2zM471.0 296.0h1.2v1.2h-1.2zM475.3 304.6h1.2v1.2h-1.2zM480.1 311.4h1.2v1.2h-1.2zM471.3 303.9h1.2v1.2h-1.2zM479.1 304.2h1.2v1.2h-1.2zM477.5 310.6h1.2v1.2h-1.2zM490.0 303.6h1.2v1.2h-1.2zM480.1 307.2h1.2v1.2h-1.2zM479.5 300.2h1.2v1.2h-1.2zM486.1 306.1h1.2v1.2h-1.2zM486.9 305.7h1.2v1.2h-1.2zM471.9 297.8h1.2v1.2h-1.2zM489.9 306.2h1.2v1.2h-1.2zM497.5 307.3h1.2v1.2h-1.2zM481.5 302.6h1.2v1.2h-1.2zM487.0 298.2h1.2v1.2h-1.2zM482.4 302.9h1.2v1.2h-1.2zM473.0 309.4h1.2v1.2h-1.2zM480.5 302.7h1.2v1.2h-1.2zM478.7 308.6h1.2v1.2h-1.2zM476.4 310.3h1.2v1.2h-1.2zM477.9 310.1h1.2v1.2h-1.2zM483.8 307.2h1.2v1.2h-1.2zM480.6 301.3h1.2v1.2h-1.2zM474.5 303.0h1.2v1.2h-1.2zM486.2 305.2h1.2v1.2h-1.2zM479.1 304.5h1.2v1.2h-1.2zM471.4 306.9h1.2v1.2h-1.2zM477.7 315.8h1.2v1.2h-1.2zM479.8 288.0h1.2v1.2h-1.2zM452.5 328.4h1.2v1.2h-1.2zM488.2 299.8h1.2v1.2h-1.2zM472.7 310.1h1.2v1.2h-1.2zM469.0 307.9h1.2v1.2h-1.2zM488.5 316.0h1.2v1.2h-1.2zM480.2 314.9h1.2v1.2h-1.2zM474.5 315.4h1.2v1.2h-1.2zM463.2 316.7h1.2v1.2h-1.2zM473.1 316.0h1.2v1.2h-1.2zM469.9 314.9h1.2v1.2h-1.2zM476.7 314.6h1.2v1.2h-1.2zM479.0 316.5h1.2v1.2h-1.2zM468.0 314.1h1.2v1.2h-1.2zM475.7 326.1h1.2v1.2h-1.2zM475.9 315.5h1.2v1.2h-1.2zM471.6 319.9h1.2v1.2h-1.2zM465.0 314.1h1.2v1.2h-1.2zM483.6 322.8h1.2v1.2h-1.2zM484.1 328.0h1.2v1.2h-1.2zM479.3 330.7h1.2v1.2h-1.2zM477.4 318.8h1.2v1.2h-1.2zM475.7 302.5h1.2v1.2h-1.2zM473.2 301.5h1.2v1.2h-1.2zM471.4 319.0h1.2v1.2h-1.2zM456.7 308.8h1.2v1.2h-1.2zM475.9 307.6h1.2v1.2h-1.2zM481.2 334.7h1.2v1.2h-1.2zM481.7 312.2h1.2v1.2h-1.2zM483.6 325.7h1.2v1.2h-1.2zM472.0 322.9h1.2v1.2h-1.2zM480.8 312.1h1.2v1.2h-1.2zM470.9 315.2h1.2v1.2h-1.2zM479.1 297.7h1.2v1.2h-1.2zM475.7 304.6h1.2v1.2h-1.2zM464.6 302.0h1.2v1.2h-1.2zM480.0 323.0h1.2v1.2h-1.2zM472.2 309.7h1.2v1.2h-1.2zM458.8 309.4h1.2v1.2h-1.2zM471.7 318.4h1.2v1.2h-1.2zM481.4 318.3h1.2v1.2h-1.2zM477.7 313.4h1.2v1.2h-1.2zM476.9 313.9h1.2v1.2h-1.2zM493.6 297.7h1.2v1.2h-1.2zM477.7 319.3h1.2v1.2h-1.2zM491.8 324.9h1.2v1.2h-1.2zM471.6 318.6h1.2v1.2h-1.2zM463.8 314.6h1.2v1.2h-1.2zM475.8 295.6h1.2v1.2h-1.2zM475.6 309.9h1.2v1.2h-1.2zM470.0 321.9h1.2v1.2h-1.2zM489.7 288.9h1.2v1.2h-1.2zM457.8 317.4h1.2v1.2h-1.2zM471.3 320.4h1.2v1.2h-1.2zM478.3 309.0h1.2v1.2h-1.2zM474.4 320.3h1.2v1.2h-1.2zM469.2 312.3h1.2v1.2h-1.2zM462.4 307.1h1.2v1.2h-1.2zM473.9 304.9h1.2v1.2h-1.2zM464.5 311.3h1.2v1.2h-1.2zM461.6 312.8h1.2v1.2h-1.2zM477.6 309.1h1.2v1.2h-1.2zM467.0 314.3h1.2v1.2h-1.2zM464.3 304.6h1.2v1.2h-1.2zM446.3 324.4h1.2v1.2h-1.2zM466.6 319.4h1.2v1.2h-1.2zM460.1 304.6h1.2v1.2h-1.2zM482.6 306.6h1.2v1.2h-1.2zM500.7 308.8h1.2v1.2h-1.2zM465.2 325.8h1.2v1.2h-1.2zM483.3 324.3h1.2v1.2h-1.2zM462.1 334.9h1.2v1.2h-1.2zM488.9 299.6h1.2v1.2h-1.2zM464.6 300.6h1.2v1.2h-1.2zM480.5 322.5h1.2v1.2h-1.2zM480.4 296.9h1.2v1.2h-1.2zM465.7 318.3h1.2v1.2h-1.2zM475.5 300.0h1.2v1.2h-1.2zM483.2 310.5h1.2v1.2h-1.2zM481.1 314.2h1.2v1.2h-1.2zM469.3 301.7h1.2v1.2h-1.2zM458.0 314.7h1.2v1.2h-1.2zM488.8 312.0h1.2v1.2h-1.2zM470.8 296.4h1.2v1.2h-1.2zM467.2 306.3h1.2v1.2h-1.2zM466.8 317.3h1.2v1.2h-1.2zM467.3 322.4h1.2v1.2h-1.2zM469.8 320.6h1.2v1.2h-1.2zM490.6 311.4h1.2v1.2h-1.2zM468.8 314.6h1.2v1.2h-1.2zM467.5 311.2h1.2v1.2h-1.2zM459.7 322.8h1.2v1.2h-1.2zM466.5 342.9h1.2v1.2h-1.2zM473.6 348.0h1.2v1.2h-1.2zM471.2 342.4h1.2v1.2h-1.2zM476.0 349.2h1.2v1.2h-1.2zM466.6 345.9h1.2v1.2h-1.2zM472.4 344.4h1.2v1.2h-1.2zM472.6 340.5h1.2v1.2h-1.2zM475.5 341.1h1.2v1.2h-1.2zM479.1 346.8h1.2v1.2h-1.2zM460.6 342.9h1.2v1.2h-1.2zM495.9 340.3h1.2v1.2h-1.2zM491.1 343.7h1.2v1.2h-1.2zM472.1 334.4h1.2v1.2h-1.2zM489.1 345.7h1.2v1.2h-1.2zM483.6 340.5h1.2v1.2h-1.2zM478.0 344.5h1.2v1.2h-1.2zM483.5 340.6h1.2v1.2h-1.2zM472.9 337.9h1.2v1.2h-1.2zM474.1 341.9h1.2v1.2h-1.2zM483.8 342.5h1.2v1.2h-1.2zM474.9 339.5h1.2v1.2h-1.2zM489.1 341.5h1.2v1.2h-1.2zM465.3 343.8h1.2v1.2h-1.2zM481.8 346.2h1.2v1.2h-1.2zM478.7 347.0h1.2v1.2h-1.2zM483.2 346.6h1.2v1.2h-1.2zM468.3 347.5h1.2v1.2h-1.2zM480.6 345.8h1.2v1.2h-1.2zM473.3 337.9h1.2v1.2h-1.2z" fill="#111" fill-opacity="0.28"/>
<path d="M442.0 352.5v2.5M445.5 352.5v2.5M447.9 352.5v2.5M449.9 352.5v2.5M451.4 352.5v2.5M452.7 352.5v2.5M453.9 352.5v2.5M454.9 352.5v2.5M461.7 352.5v2.5M465.2 352.5v2.5M467.6 352.5v2.5M469.5 352.5v2.5M471.1 352.5v2.5M472.4 352.5v2.5M473.5 352.5v2.5M474.5 352.5v2.5M455.8 352.5v5.5M481.4 352.5v2.5M484.8 352.5v2.5M487.3 352.5v2.5M489.2 352.5v2.5M490.8 352.5v2.5M492.1 352.5v2.5M493.2 352.5v2.5M494.2 352.5v2.5M475.4 352.5v5.5M501.0 352.5v2.5M504.5 352.5v2.5M507.0 352.5v2.5M508.9 352.5v2.5M510.4 352.5v2.5M511.8 352.5v2.5M512.9 352.5v2.5M513.9 352.5v2.5M495.1 352.5v5.5M514.5 352.5v5.5M436.5 346.5h-2.5M436.5 343.3h-2.5M436.5 341.0h-2.5M436.5 339.2h-2.5M436.5 337.8h-2.5M436.5 336.6h-2.5M436.5 335.5h-2.5M436.5 334.6h-2.5M436.5 328.2h-2.5M436.5 325.0h-2.5M436.5 322.7h-2.5M436.5 321.0h-2.5M436.5 319.5h-2.5M436.5 318.3h-2.5M436.5 317.2h-2.5M436.5 316.3h-2.5M436.5 333.7h-5.5M436.5 309.9h-2.5M436.5 306.7h-2.5M436.5 304.4h-2.5M436.5 302.7h-2.5M436.5 301.2h-2.5M436.5 300.0h-2.5M436.5 298.9h-2.5M436.5 298.0h-2.5M436.5 315.4h-5.5M436.5 291.7h-2.5M436.5 288.5h-2.5M436.5 286.2h-2.5M436.5 284.4h-2.5M436.5 283.0h-2.5M436.5 281.7h-2.5M436.5 280.7h-2.5M436.5 279.7h-2.5M436.5 297.2h-5.5" stroke="#888" stroke-width="0.8" fill="none"/>
<rect x="436.5" y="278.5" width="78.0" height="74.0" fill="none" stroke="#888" stroke-width="1"/>
<line x1="452.50" y1="278.50" x2="452.50" y2="352.50" stroke="#333" stroke-width="1.0"/>
<line x1="431.00" y1="334.50" x2="514.50" y2="334.50" stroke="#333" stroke-width="1.0"/>
<text transform="translate(437.50,289.70) scale(0.9,1.0)" font-size="12" text-anchor="start" font-weight="normal" style="stroke-width:0.25px">37</text>
<text transform="translate(511.80,289.70) scale(0.9,1.0)" font-size="12" text-anchor="end" font-weight="normal" style="stroke-width:0.25px">17</text>
<text transform="translate(511.80,350.30) scale(0.9,1.0)" font-size="12" text-anchor="end" font-weight="normal" style="stroke-width:0.25px">10</text>
<text x="383.30" y="35.40" font-size="16.2" text-anchor="middle" font-weight="bold" >GFP</text>
<text x="475.20" y="35.30" font-size="16.1" text-anchor="middle" font-weight="bold" >ICN1</text>
<text x="266.00" y="81.30" font-size="12" text-anchor="start" font-weight="normal" >day 14</text>
<text x="266.00" y="171.30" font-size="12" text-anchor="start" font-weight="normal" >day 30</text>
<polygon points="325,41.6 320,51.8 330,51.8" fill="#111"/>
<line x1="325.00" y1="50.00" x2="325.00" y2="100.00" stroke="#111" stroke-width="1.3"/>
<text transform="translate(332.10,122.20) rotate(-90) scale(0.9,1.0)" font-size="16.3" text-anchor="middle" font-weight="bold" >CD4</text>
<line x1="324.90" y1="142.30" x2="324.90" y2="204.00" stroke="#111" stroke-width="1.3"/>
<line x1="346.30" y1="220.40" x2="405.80" y2="220.40" stroke="#111" stroke-width="1.4"/>
<text transform="translate(428.60,226.20) scale(0.9,1.0)" font-size="16.3" text-anchor="middle" font-weight="bold" >CD8</text>
<line x1="448.50" y1="220.40" x2="510.00" y2="220.40" stroke="#111" stroke-width="1.4"/>
<polygon points="518.2,220.4 508.6,215.9 508.6,224.9" fill="#111"/>
<text x="418.90" y="260.60" font-size="15.9" text-anchor="middle" font-weight="bold" >ICN1</text>
<line x1="316.30" y1="266.20" x2="514.80" y2="266.20" stroke="#111" stroke-width="1.5"/>
<polygon points="296.8,278.3 292,288 301.6,288" fill="#111"/>
<line x1="296.80" y1="287.00" x2="296.80" y2="297.80" stroke="#111" stroke-width="1.3"/>
<text transform="translate(301.8,315.3) rotate(-90)" font-size="14.5" font-weight="bold" text-anchor="middle">CD4</text>
<line x1="296.80" y1="331.60" x2="296.80" y2="351.00" stroke="#111" stroke-width="1.3"/>
<polygon points="416.8,278.5 412,288.2 421.6,288.2" fill="#111"/>
<line x1="416.80" y1="287.00" x2="416.80" y2="299.00" stroke="#111" stroke-width="1.3"/>
<text transform="translate(421.6,315.4) rotate(-90)" font-size="14.5" font-weight="bold" text-anchor="middle">CD8</text>
<line x1="416.80" y1="332.30" x2="416.80" y2="352.00" stroke="#111" stroke-width="1.3"/>
<line x1="321.20" y1="367.10" x2="379.50" y2="367.30" stroke="#111" stroke-width="1.4"/>
<text x="394.50" y="372.80" font-size="14.5" text-anchor="start" font-weight="bold" >TCR <tspan font-weight="normal" font-size="17" font-family="Liberation Serif" style="stroke-width:0.3px">γδ</tspan></text>
<line x1="448.50" y1="368.80" x2="505.00" y2="368.80" stroke="#111" stroke-width="1.4"/>
<polygon points="512.3,368.8 503,363.9 503,373.7" fill="#111"/>
<text x="129.50" y="406.60" font-size="16.5" text-anchor="middle" font-weight="bold" >GFP</text>
<line x1="45.80" y1="412.90" x2="213.30" y2="412.90" stroke="#111" stroke-width="1.5"/>
<text x="336.00" y="406.80" font-size="16.3" text-anchor="middle" font-weight="bold" >ICN1</text>
<line x1="237.20" y1="413.40" x2="436.40" y2="413.40" stroke="#111" stroke-width="1.5"/>
<defs><pattern id="h" patternUnits="userSpaceOnUse" width="3.8" height="3.8" patternTransform="rotate(-45)"><rect width="3.8" height="3.8" fill="#fff"/><rect width="1.4" height="3.8" fill="#111"/></pattern></defs>
<line x1="45.90" y1="435.70" x2="45.90" y2="545.30" stroke="#111" stroke-width="1.2"/>
<line x1="41.10" y1="545.30" x2="45.90" y2="545.30" stroke="#111" stroke-width="1.2"/>
<text x="40.10" y="551.40" font-size="12" text-anchor="end" font-weight="normal" >0</text>
<line x1="42.50" y1="534.34" x2="45.90" y2="534.34" stroke="#111" stroke-width="1.2"/>
<line x1="41.10" y1="523.38" x2="45.90" y2="523.38" stroke="#111" stroke-width="1.2"/>
<text x="40.10" y="527.68" font-size="12" text-anchor="end" font-weight="normal" >20</text>
<line x1="42.50" y1="512.42" x2="45.90" y2="512.42" stroke="#111" stroke-width="1.2"/>
<line x1="41.10" y1="501.46" x2="45.90" y2="501.46" stroke="#111" stroke-width="1.2"/>
<text x="40.10" y="505.76" font-size="12" text-anchor="end" font-weight="normal" >40</text>
<line x1="42.50" y1="490.50" x2="45.90" y2="490.50" stroke="#111" stroke-width="1.2"/>
<line x1="41.10" y1="479.54" x2="45.90" y2="479.54" stroke="#111" stroke-width="1.2"/>
<text x="40.10" y="483.84" font-size="12" text-anchor="end" font-weight="normal" >60</text>
<line x1="42.50" y1="468.58" x2="45.90" y2="468.58" stroke="#111" stroke-width="1.2"/>
<line x1="41.10" y1="457.62" x2="45.90" y2="457.62" stroke="#111" stroke-width="1.2"/>
<text x="40.10" y="461.92" font-size="12" text-anchor="end" font-weight="normal" >80</text>
<line x1="42.50" y1="446.66" x2="45.90" y2="446.66" stroke="#111" stroke-width="1.2"/>
<line x1="41.10" y1="435.70" x2="45.90" y2="435.70" stroke="#111" stroke-width="1.2"/>
<text x="40.10" y="440.00" font-size="12" text-anchor="end" font-weight="normal" >100</text>
<rect x="54.50" y="435.70" width="13.00" height="109.60" fill="#bdbdbd" stroke="#111" stroke-width="1"/>
<text x="61.00" y="560.20" font-size="12" text-anchor="middle" font-weight="normal" >0</text>
<rect x="81.30" y="506.94" width="13.70" height="38.36" fill="#bdbdbd" stroke="#111" stroke-width="1"/>
<rect x="81.30" y="453.78" width="13.70" height="53.16" fill="url(#h)" stroke="#111" stroke-width="1"/>
<rect x="81.30" y="435.70" width="13.70" height="18.08" fill="#fff" stroke="#111" stroke-width="1"/>
<text x="88.15" y="560.20" font-size="12" text-anchor="middle" font-weight="normal" >11</text>
<rect x="111.20" y="512.97" width="12.80" height="32.33" fill="#bdbdbd" stroke="#111" stroke-width="1"/>
<rect x="111.20" y="449.95" width="12.80" height="63.02" fill="url(#h)" stroke="#111" stroke-width="1"/>
<rect x="111.20" y="435.70" width="12.80" height="14.25" fill="#fff" stroke="#111" stroke-width="1"/>
<text x="117.60" y="560.20" font-size="12" text-anchor="middle" font-weight="normal" >13</text>
<rect x="140.00" y="536.53" width="13.50" height="8.77" fill="#bdbdbd" stroke="#111" stroke-width="1"/>
<rect x="140.00" y="458.17" width="13.50" height="78.36" fill="url(#h)" stroke="#111" stroke-width="1"/>
<rect x="140.00" y="435.70" width="13.50" height="22.47" fill="#fff" stroke="#111" stroke-width="1"/>
<text x="146.75" y="560.20" font-size="12" text-anchor="middle" font-weight="normal" >17</text>
<rect x="169.80" y="536.53" width="13.40" height="8.77" fill="#bdbdbd" stroke="#111" stroke-width="1"/>
<rect x="169.80" y="492.69" width="13.40" height="43.84" fill="url(#h)" stroke="#111" stroke-width="1"/>
<rect x="169.80" y="437.34" width="13.40" height="55.35" fill="#fff" stroke="#111" stroke-width="1"/>
<text x="176.50" y="560.20" font-size="12" text-anchor="middle" font-weight="normal" >21</text>
<rect x="199.60" y="536.53" width="13.40" height="8.77" fill="#bdbdbd" stroke="#111" stroke-width="1"/>
<rect x="199.60" y="507.49" width="13.40" height="29.04" fill="url(#h)" stroke="#111" stroke-width="1"/>
<rect x="199.60" y="441.18" width="13.40" height="66.31" fill="#fff" stroke="#111" stroke-width="1"/>
<rect x="199.60" y="437.34" width="13.40" height="3.84" fill="#111" stroke="#111" stroke-width="1"/>
<text x="206.30" y="560.20" font-size="12" text-anchor="middle" font-weight="normal" >32</text>
<line x1="45.90" y1="545.30" x2="212.80" y2="545.30" stroke="#111" stroke-width="1.4"/>
<line x1="238.40" y1="435.50" x2="238.40" y2="545.80" stroke="#111" stroke-width="1.2"/>
<line x1="233.60" y1="545.80" x2="238.40" y2="545.80" stroke="#111" stroke-width="1.2"/>
<line x1="235.00" y1="534.77" x2="238.40" y2="534.77" stroke="#111" stroke-width="1.2"/>
<line x1="233.60" y1="523.74" x2="238.40" y2="523.74" stroke="#111" stroke-width="1.2"/>
<line x1="235.00" y1="512.71" x2="238.40" y2="512.71" stroke="#111" stroke-width="1.2"/>
<line x1="233.60" y1="501.68" x2="238.40" y2="501.68" stroke="#111" stroke-width="1.2"/>
<line x1="235.00" y1="490.65" x2="238.40" y2="490.65" stroke="#111" stroke-width="1.2"/>
<line x1="233.60" y1="479.62" x2="238.40" y2="479.62" stroke="#111" stroke-width="1.2"/>
<line x1="235.00" y1="468.59" x2="238.40" y2="468.59" stroke="#111" stroke-width="1.2"/>
<line x1="233.60" y1="457.56" x2="238.40" y2="457.56" stroke="#111" stroke-width="1.2"/>
<line x1="235.00" y1="446.53" x2="238.40" y2="446.53" stroke="#111" stroke-width="1.2"/>
<line x1="233.60" y1="435.50" x2="238.40" y2="435.50" stroke="#111" stroke-width="1.2"/>
<rect x="247.50" y="435.50" width="13.30" height="110.30" fill="#bdbdbd" stroke="#111" stroke-width="1"/>
<text x="254.15" y="560.80" font-size="12" text-anchor="middle" font-weight="normal" >0</text>
<rect x="274.60" y="486.24" width="13.90" height="59.56" fill="#bdbdbd" stroke="#111" stroke-width="1"/>
<rect x="274.60" y="438.81" width="13.90" height="47.43" fill="url(#h)" stroke="#111" stroke-width="1"/>
<rect x="274.60" y="436.05" width="13.90" height="2.76" fill="#fff" stroke="#111" stroke-width="1"/>
<text x="281.55" y="560.80" font-size="12" text-anchor="middle" font-weight="normal" >11</text>
<rect x="303.80" y="474.33" width="13.90" height="71.47" fill="#bdbdbd" stroke="#111" stroke-width="1"/>
<rect x="303.80" y="437.38" width="13.90" height="36.95" fill="url(#h)" stroke="#111" stroke-width="1"/>
<rect x="303.80" y="436.27" width="13.90" height="1.10" fill="#111" stroke="#111" stroke-width="1"/>
<text x="310.75" y="560.80" font-size="12" text-anchor="middle" font-weight="normal" >13</text>
<rect x="333.00" y="499.92" width="14.00" height="45.88" fill="#bdbdbd" stroke="#111" stroke-width="1"/>
<rect x="333.00" y="444.77" width="14.00" height="55.15" fill="url(#h)" stroke="#111" stroke-width="1"/>
<rect x="333.00" y="440.57" width="14.00" height="4.19" fill="#fff" stroke="#111" stroke-width="1"/>
<rect x="333.00" y="436.05" width="14.00" height="4.52" fill="#111" stroke="#111" stroke-width="1"/>
<text x="340.00" y="560.80" font-size="12" text-anchor="middle" font-weight="normal" >17</text>
<rect x="362.30" y="499.92" width="13.70" height="45.88" fill="#bdbdbd" stroke="#111" stroke-width="1"/>
<rect x="362.30" y="457.23" width="13.70" height="42.69" fill="url(#h)" stroke="#111" stroke-width="1"/>
<rect x="362.30" y="447.85" width="13.70" height="9.38" fill="#fff" stroke="#111" stroke-width="1"/>
<rect x="362.30" y="435.50" width="13.70" height="12.35" fill="#111" stroke="#111" stroke-width="1"/>
<text x="369.15" y="560.80" font-size="12" text-anchor="middle" font-weight="normal" >21</text>
<rect x="391.80" y="516.46" width="13.90" height="29.34" fill="#bdbdbd" stroke="#111" stroke-width="1"/>
<rect x="391.80" y="468.26" width="13.90" height="48.20" fill="url(#h)" stroke="#111" stroke-width="1"/>
<rect x="391.80" y="458.66" width="13.90" height="9.60" fill="#fff" stroke="#111" stroke-width="1"/>
<rect x="391.80" y="435.50" width="13.90" height="23.16" fill="#111" stroke="#111" stroke-width="1"/>
<text x="398.75" y="560.80" font-size="12" text-anchor="middle" font-weight="normal" >26</text>
<rect x="421.70" y="540.51" width="13.70" height="5.29" fill="#bdbdbd" stroke="#111" stroke-width="1"/>
<rect x="421.70" y="496.28" width="13.70" height="44.23" fill="url(#h)" stroke="#111" stroke-width="1"/>
<rect x="421.70" y="479.84" width="13.70" height="16.43" fill="#fff" stroke="#111" stroke-width="1"/>
<rect x="421.70" y="434.95" width="13.70" height="44.89" fill="#111" stroke="#111" stroke-width="1"/>
<text x="428.55" y="560.80" font-size="12" text-anchor="middle" font-weight="normal" >32</text>
<line x1="233.50" y1="545.80" x2="435.50" y2="545.80" stroke="#111" stroke-width="1.4"/>
<text x="231.30" y="580.00" font-size="12" text-anchor="middle" font-weight="normal" >Days</text>
<text transform="translate(10.4,490) rotate(-90)" font-size="12.3" text-anchor="middle">Percentage of cells</text>
<rect x="452.6" y="456.5" width="59" height="64.2" fill="#fff" stroke="#222" stroke-width="1.1"/>
<rect x="456.6" y="461.50" width="6" height="6" fill="#111" stroke="#111" stroke-width="1"/>
<text x="465.30" y="468.70" font-size="12" text-anchor="start" font-weight="normal" >TCR<tspan font-family="Liberation Serif" font-size="13.5">γδ</tspan></text>
<rect x="456.6" y="477.80" width="6" height="6" fill="#fff" stroke="#111" stroke-width="1"/>
<text x="465.30" y="485.00" font-size="12" text-anchor="start" font-weight="normal" >DP</text>
<rect x="456.6" y="494.10" width="6" height="6" fill="url(#h)" stroke="#111" stroke-width="1"/>
<text x="465.30" y="501.30" font-size="12" text-anchor="start" font-weight="normal" >CD4ISP</text>
<rect x="456.6" y="510.40" width="6" height="6" fill="#bdbdbd" stroke="#111" stroke-width="1"/>
<text x="465.30" y="517.60" font-size="12" text-anchor="start" font-weight="normal" >TN</text>
</svg>
</body></html>
